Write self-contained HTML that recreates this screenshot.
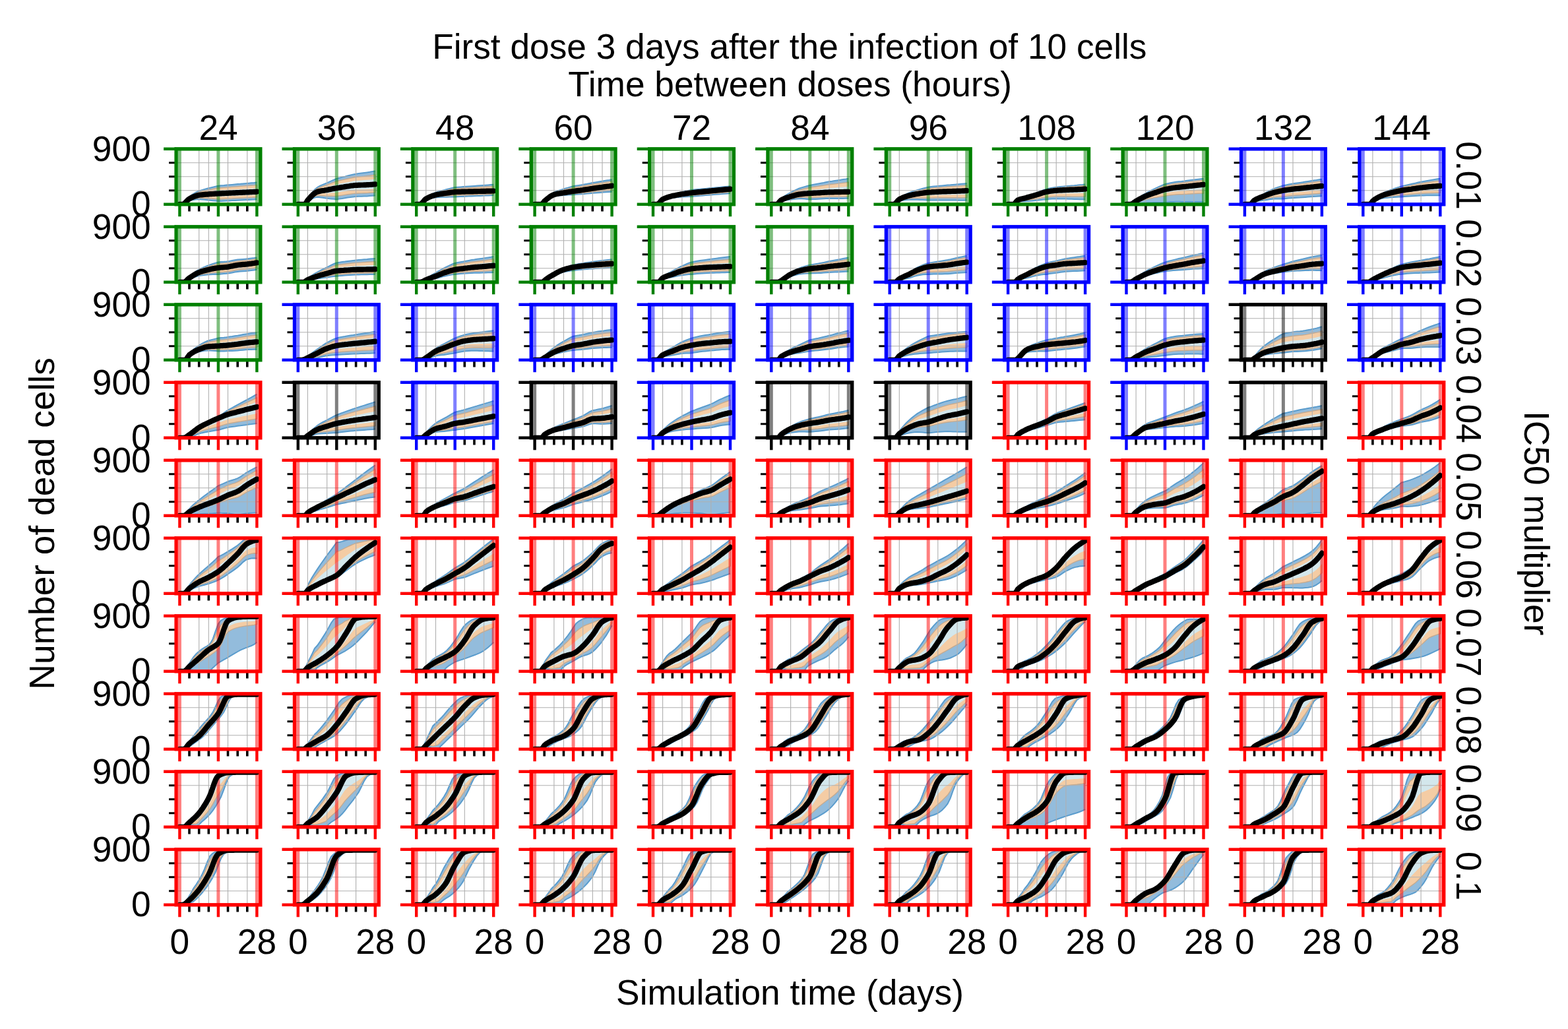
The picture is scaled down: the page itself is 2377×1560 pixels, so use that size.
<!DOCTYPE html>
<html><head><meta charset="utf-8"><title>First dose 3 days after the infection of 10 cells</title>
<style>html,body{margin:0;padding:0;background:#fff;overflow:hidden;}svg{display:block;}</style>
</head><body>
<svg width="2377" height="1560" viewBox="0 0 2377 1560">
<defs>
<clipPath id="c"><rect x="0" y="0" width="127.7" height="84.0"/></clipPath>
<path id="v0" d="M34.6,0V84M49.2,0V84M78.4,0V84M107.7,0V84" stroke="#b0b0b0" stroke-width="1.1" fill="none"/>
<path id="v1" d="M19.9,0V84M49.2,0V84M93.1,0V84" stroke="#b0b0b0" stroke-width="1.1" fill="none"/>
<path id="v2" d="M19.9,0V84M34.6,0V84M78.4,0V84M107.7,0V84" stroke="#b0b0b0" stroke-width="1.1" fill="none"/>
<path id="v3" d="M34.6,0V84M49.2,0V84M78.4,0V84M93.1,0V84M107.7,0V84" stroke="#b0b0b0" stroke-width="1.1" fill="none"/>
<path id="v4" d="M19.9,0V84M49.2,0V84M93.1,0V84" stroke="#b0b0b0" stroke-width="1.1" fill="none"/>
<path id="v5" d="M34.6,0V84M93.1,0V84M107.7,0V84" stroke="#b0b0b0" stroke-width="1.1" fill="none"/>
<path id="v6" d="M19.9,0V84M78.4,0V84M107.7,0V84" stroke="#b0b0b0" stroke-width="1.1" fill="none"/>
<path id="v7" d="M19.9,0V84M49.2,0V84M78.4,0V84M93.1,0V84" stroke="#b0b0b0" stroke-width="1.1" fill="none"/>
<path id="v8" d="M19.9,0V84M34.6,0V84M93.1,0V84M107.7,0V84" stroke="#b0b0b0" stroke-width="1.1" fill="none"/>
<path id="v9" d="M34.6,0V84M49.2,0V84M78.4,0V84M107.7,0V84" stroke="#b0b0b0" stroke-width="1.1" fill="none"/>
<path id="v10" d="M19.9,0V84M49.2,0V84M93.1,0V84" stroke="#b0b0b0" stroke-width="1.1" fill="none"/>
<path id="h3" d="M0,63H127.7M0,42H127.7M0,21H127.7" stroke="#b0b0b0" stroke-width="1.1" fill="none"/>
<path id="h1" d="M0,21H127.7" stroke="#b0b0b0" stroke-width="1.1" fill="none"/>
<g id="t"><path d="M-11,63H0M-11,42H0M-11,21H0" stroke="#000" stroke-width="3" fill="none"/><path d="M19.9,0V10.8M34.6,0V10.8M49.2,0V10.8M78.4,0V10.8M93.1,0V10.8M107.7,0V10.8" transform="translate(0,84.0)" stroke="#000" stroke-width="3.6" fill="none"/></g>
<path id="Mg" d="M5.3,0V84M63.8,0V84M122.3,0V84" stroke="#008000" stroke-opacity="0.5" stroke-width="5" fill="none"/>
<g id="Fg"><path d="M-19,0H0M-19,84H0" stroke="#008000" stroke-width="4.6" fill="none"/><path d="M5.3,84v18.5M63.8,84v18.5M122.3,84v18.5" stroke="#008000" stroke-width="4.4" fill="none"/><rect x="0" y="0" width="127.7" height="84.0" fill="none" stroke="#008000" stroke-width="5.4"/></g>
<path id="Mb" d="M5.3,0V84M63.8,0V84M122.3,0V84" stroke="#0000ff" stroke-opacity="0.5" stroke-width="5" fill="none"/>
<g id="Fb"><path d="M-19,0H0M-19,84H0" stroke="#0000ff" stroke-width="4.6" fill="none"/><path d="M5.3,84v18.5M63.8,84v18.5M122.3,84v18.5" stroke="#0000ff" stroke-width="4.4" fill="none"/><rect x="0" y="0" width="127.7" height="84.0" fill="none" stroke="#0000ff" stroke-width="5.4"/></g>
<path id="Mk" d="M5.3,0V84M63.8,0V84M122.3,0V84" stroke="#000000" stroke-opacity="0.5" stroke-width="5" fill="none"/>
<g id="Fk"><path d="M-19,0H0M-19,84H0" stroke="#000000" stroke-width="4.6" fill="none"/><path d="M5.3,84v18.5M63.8,84v18.5M122.3,84v18.5" stroke="#000000" stroke-width="4.4" fill="none"/><rect x="0" y="0" width="127.7" height="84.0" fill="none" stroke="#000000" stroke-width="5.4"/></g>
<path id="Mr" d="M5.3,0V84M63.8,0V84M122.3,0V84" stroke="#ff0000" stroke-opacity="0.5" stroke-width="5" fill="none"/>
<g id="Fr"><path d="M-19,0H0M-19,84H0" stroke="#ff0000" stroke-width="4.6" fill="none"/><path d="M5.3,84v18.5M63.8,84v18.5M122.3,84v18.5" stroke="#ff0000" stroke-width="4.4" fill="none"/><rect x="0" y="0" width="127.7" height="84.0" fill="none" stroke="#ff0000" stroke-width="5.4"/></g>
</defs>
<rect width="2377" height="1560" fill="#fff"/>
<g transform="translate(267.1,225.8)"><g clip-path="url(#c)"><path d="M5.3,84 9.5,84 13.7,80.1 17.8,74.6 22,70.9 26.2,68 30.4,65.5 34.6,63.7 38.7,62.3 42.9,61.1 47.1,60 51.3,58.9 55.5,57.9 59.6,56.9 63.8,55.9 68,55.5 72.2,55.2 76.4,54.8 80.5,54.5 84.7,54.1 88.9,53.7 93.1,53.3 97.3,53 101.4,52.6 105.6,52.3 109.8,51.9 114,51.5 118.2,51.2 122.3,50.8 122.3,76.4 118.2,76.7 114,76.9 109.8,77.1 105.6,77.3 101.4,77.5 97.3,77.7 93.1,77.9 88.9,78.1 84.7,78.3 80.5,78.6 76.4,78.8 72.2,78.9 68,79.1 63.8,79.3 59.6,78.8 55.5,78.4 51.3,77.9 47.1,77.4 42.9,77 38.7,76.6 34.6,76.3 30.4,76.4 26.2,77.1 22,78.1 17.8,79.8 13.7,83.1 9.5,84 5.3,84Z" fill="#93bcdc"/><path d="M5.3,84 9.5,84 13.7,80.1 17.8,74.6 22,70.9 26.2,68 30.4,65.5 34.6,63.7 38.7,62.3 42.9,61.1 47.1,60 51.3,58.9 55.5,57.9 59.6,56.9 63.8,55.9 68,55.5 72.2,55.2 76.4,54.8 80.5,54.5 84.7,54.1 88.9,53.7 93.1,53.3 97.3,53 101.4,52.6 105.6,52.3 109.8,51.9 114,51.5 118.2,51.2 122.3,50.8M5.3,84 9.5,84 13.7,83.1 17.8,79.8 22,78.1 26.2,77.1 30.4,76.4 34.6,76.3 38.7,76.6 42.9,77 47.1,77.4 51.3,77.9 55.5,78.4 59.6,78.8 63.8,79.3 68,79.1 72.2,78.9 76.4,78.8 80.5,78.6 84.7,78.3 88.9,78.1 93.1,77.9 97.3,77.7 101.4,77.5 105.6,77.3 109.8,77.1 114,76.9 118.2,76.7 122.3,76.4" fill="none" stroke="#5a9ccd" stroke-width="2"/><path d="M5.3,84 9.5,84 13.7,80.5 17.8,75.3 22,71.9 26.2,69.3 30.4,67 34.6,65.4 38.7,64.3 42.9,63.3 47.1,62.4 51.3,61.6 55.5,60.7 59.6,60 63.8,59.2 68,58.9 72.2,58.6 76.4,58.3 80.5,58 84.7,57.6 88.9,57.3 93.1,57 97.3,56.6 101.4,56.3 105.6,56 109.8,55.7 114,55.4 118.2,55.1 122.3,54.7 122.3,73.2 118.2,73.4 114,73.6 109.8,73.9 105.6,74.1 101.4,74.3 97.3,74.4 93.1,74.6 88.9,74.8 84.7,75.1 80.5,75.3 76.4,75.5 72.2,75.7 68,75.9 63.8,76.1 59.6,75.8 55.5,75.5 51.3,75.3 47.1,75 42.9,74.8 38.7,74.6 34.6,74.5 30.4,74.9 26.2,75.8 22,77.1 17.8,79.1 13.7,82.7 9.5,84 5.3,84Z" fill="#f4cca4" stroke="#c4aa90" stroke-width="1.4"/><path d="M5.3,84 9.5,84 13.7,81 17.8,76.1 22,73.1 26.2,70.7 30.4,68.8 34.6,67.5 38.7,66.6 42.9,65.9 47.1,65.3 51.3,64.7 55.5,64.1 59.6,63.5 63.8,63 68,62.7 72.2,62.5 76.4,62.3 80.5,62 84.7,61.7 88.9,61.4 93.1,61.1 97.3,60.9 101.4,60.6 105.6,60.4 109.8,60.1 114,59.9 118.2,59.6 122.3,59.3 122.3,69.4 118.2,69.7 114,69.9 109.8,70.1 105.6,70.3 101.4,70.5 97.3,70.7 93.1,70.9 88.9,71.1 84.7,71.3 80.5,71.5 76.4,71.7 72.2,71.9 68,72.1 63.8,72.3 59.6,72.2 55.5,72.2 51.3,72.2 47.1,72.2 42.9,72.2 38.7,72.3 34.6,72.5 30.4,73.1 26.2,74.3 22,75.9 17.8,78.2 13.7,82.2 9.5,84 5.3,84Z" fill="#d3e7ec"/></g><use href="#v0"/><use href="#h3"/><use href="#Mg"/><path clip-path="url(#c)" d="M5.3,84 7.4,84 9.5,84 11.6,83.3 13.7,81.6 15.8,79.4 17.8,77.2 19.9,75.6 22,74.5 24.1,73.5 26.2,72.5 28.3,71.7 30.4,71 32.5,70.4 34.6,70 36.6,69.7 38.7,69.5 40.8,69.3 42.9,69.1 45,68.9 47.1,68.8 49.2,68.6 51.3,68.4 53.4,68.3 55.5,68.2 57.5,68 59.6,67.9 61.7,67.8 63.8,67.7 65.9,67.6 68,67.5 70.1,67.4 72.2,67.3 74.3,67.2 76.4,67.1 78.4,67 80.5,66.9 82.6,66.8 84.7,66.7 86.8,66.6 88.9,66.5 91,66.4 93.1,66.3 95.2,66.2 97.3,66.1 99.3,66 101.4,65.9 103.5,65.8 105.6,65.7 107.7,65.6 109.8,65.5 111.9,65.4 114,65.3 116.1,65.2 118.2,65.1 120.2,65 122.3,64.9" fill="none" stroke="#000" stroke-width="8.2" stroke-linejoin="round" stroke-linecap="round"/><use href="#t"/><use href="#Fg"/></g>
<g transform="translate(446.5,225.8)"><g clip-path="url(#c)"><path d="M5.3,84 9.5,84 13.7,84 15.8,84 17.8,80.4 22,72.6 26.2,66.6 30.4,61.6 34.6,58.2 38.7,55.9 42.9,54.1 47.1,52.3 51.3,50.5 55.5,48.6 59.6,46.8 63.8,45 68,43.9 72.2,42.8 76.4,41.8 80.5,40.7 84.7,39.7 88.9,38.7 93.1,37.9 97.3,37.3 101.4,36.8 105.6,36.2 109.8,35.6 114,35 118.2,34.3 122.3,33.6 122.3,70.7 118.2,71 114,71.3 109.8,71.6 105.6,71.7 101.4,71.9 97.3,72 93.1,72.2 88.9,72.6 84.7,73.2 80.5,73.8 76.4,74.4 72.2,75.1 68,75.7 63.8,76.4 59.6,76 55.5,75.6 51.3,75.2 47.1,74.7 42.9,74 38.7,73.4 34.6,73 30.4,73.8 26.2,75.9 22,78.8 17.8,82.9 15.8,84 13.7,84 9.5,84 5.3,84Z" fill="#93bcdc"/><path d="M5.3,84 9.5,84 13.7,84 15.8,84 17.8,80.4 22,72.6 26.2,66.6 30.4,61.6 34.6,58.2 38.7,55.9 42.9,54.1 47.1,52.3 51.3,50.5 55.5,48.6 59.6,46.8 63.8,45 68,43.9 72.2,42.8 76.4,41.8 80.5,40.7 84.7,39.7 88.9,38.7 93.1,37.9 97.3,37.3 101.4,36.8 105.6,36.2 109.8,35.6 114,35 118.2,34.3 122.3,33.6M5.3,84 9.5,84 13.7,84 15.8,84 17.8,82.9 22,78.8 26.2,75.9 30.4,73.8 34.6,73 38.7,73.4 42.9,74 47.1,74.7 51.3,75.2 55.5,75.6 59.6,76 63.8,76.4 68,75.7 72.2,75.1 76.4,74.4 80.5,73.8 84.7,73.2 88.9,72.6 93.1,72.2 97.3,72 101.4,71.9 105.6,71.7 109.8,71.6 114,71.3 118.2,71 122.3,70.7" fill="none" stroke="#5a9ccd" stroke-width="2"/><path d="M5.3,84 9.5,84 13.7,84 15.8,84 17.8,80.7 22,73.4 26.2,67.8 30.4,63.2 34.6,60.1 38.7,58.2 42.9,56.6 47.1,55.2 51.3,53.6 55.5,52.1 59.6,50.5 63.8,49 68,48 72.2,47.1 76.4,46.1 80.5,45.2 84.7,44.3 88.9,43.4 93.1,42.7 97.3,42.2 101.4,41.8 105.6,41.4 109.8,40.9 114,40.4 118.2,39.8 122.3,39.2 122.3,65.9 118.2,66.2 114,66.5 109.8,66.8 105.6,66.9 101.4,67.1 97.3,67.2 93.1,67.4 88.9,67.8 84.7,68.4 80.5,69 76.4,69.6 72.2,70.3 68,71 63.8,71.7 59.6,71.6 55.5,71.5 51.3,71.4 47.1,71.3 42.9,71 38.7,70.7 34.6,70.8 30.4,71.9 26.2,74.5 22,77.8 17.8,82.5 15.8,84 13.7,84 9.5,84 5.3,84Z" fill="#f4cca4" stroke="#c4aa90" stroke-width="1.4"/><path d="M5.3,84 9.5,84 13.7,84 15.8,84 17.8,81.1 22,74.3 26.2,69.2 30.4,65 34.6,62.3 38.7,60.7 42.9,59.6 47.1,58.5 51.3,57.3 55.5,56 59.6,54.8 63.8,53.7 68,52.8 72.2,52 76.4,51.2 80.5,50.4 84.7,49.6 88.9,48.8 93.1,48.3 97.3,47.9 101.4,47.6 105.6,47.3 109.8,47 114,46.6 118.2,46.1 122.3,45.7 122.3,60.4 118.2,60.7 114,61 109.8,61.2 105.6,61.4 101.4,61.5 97.3,61.7 93.1,61.8 88.9,62.2 84.7,62.8 80.5,63.5 76.4,64.1 72.2,64.7 68,65.4 63.8,66.1 59.6,66.4 55.5,66.7 51.3,67.1 47.1,67.3 42.9,67.5 38.7,67.6 34.6,68.2 30.4,69.8 26.2,72.9 22,76.8 17.8,82.1 15.8,84 13.7,84 9.5,84 5.3,84Z" fill="#d3e7ec"/></g><use href="#v1"/><use href="#h3"/><use href="#Mg"/><path clip-path="url(#c)" d="M5.3,84 7.4,84 9.5,84 11.6,84 13.7,84 15.8,84 17.8,81.5 19.9,77.8 22,75.4 24.1,73.1 26.2,70.9 28.3,68.9 30.4,67.2 32.5,65.9 34.6,65 36.6,64.4 38.7,63.9 40.8,63.5 42.9,63.2 45,62.9 47.1,62.5 49.2,62.2 51.3,61.8 53.4,61.3 55.5,60.9 57.5,60.5 59.6,60.1 61.7,59.7 63.8,59.4 65.9,59 68,58.7 70.1,58.3 72.2,58 74.3,57.7 76.4,57.3 78.4,57 80.5,56.7 82.6,56.4 84.7,56 86.8,55.7 88.9,55.5 91,55.2 93.1,55.1 95.2,55 97.3,54.9 99.3,54.8 101.4,54.7 103.5,54.7 105.6,54.6 107.7,54.5 109.8,54.4 111.9,54.3 114,54.2 116.1,54 118.2,53.9 120.2,53.7 122.3,53.6" fill="none" stroke="#000" stroke-width="8.2" stroke-linejoin="round" stroke-linecap="round"/><use href="#t"/><use href="#Fg"/></g>
<g transform="translate(625.9,225.8)"><g clip-path="url(#c)"><path d="M5.3,84 9.5,84 10.7,84 13.7,81.7 17.8,76 22,72.4 26.2,69.9 30.4,67.7 34.6,66 38.7,64.6 42.9,63.4 47.1,62.3 51.3,61.2 55.5,60.2 59.6,59.1 63.8,58.3 68,57.9 72.2,57.6 76.4,57.3 80.5,57 84.7,56.7 88.9,56.4 93.1,56.1 97.3,55.8 101.4,55.5 105.6,55.2 109.8,54.9 114,54.6 118.2,54.3 122.3,54 122.3,70.3 118.2,70.4 114,70.6 109.8,70.8 105.6,70.9 101.4,71.1 97.3,71.3 93.1,71.4 88.9,71.6 84.7,71.8 80.5,71.9 76.4,72.1 72.2,72.3 68,72.5 63.8,72.8 59.6,72.7 55.5,72.8 51.3,72.9 47.1,73 42.9,73.1 38.7,73.3 34.6,73.7 30.4,74.3 26.2,75.3 22,76.6 17.8,78.9 13.7,83.1 10.7,84 9.5,84 5.3,84Z" fill="#93bcdc"/><path d="M5.3,84 9.5,84 10.7,84 13.7,81.7 17.8,76 22,72.4 26.2,69.9 30.4,67.7 34.6,66 38.7,64.6 42.9,63.4 47.1,62.3 51.3,61.2 55.5,60.2 59.6,59.1 63.8,58.3 68,57.9 72.2,57.6 76.4,57.3 80.5,57 84.7,56.7 88.9,56.4 93.1,56.1 97.3,55.8 101.4,55.5 105.6,55.2 109.8,54.9 114,54.6 118.2,54.3 122.3,54M5.3,84 9.5,84 10.7,84 13.7,83.1 17.8,78.9 22,76.6 26.2,75.3 30.4,74.3 34.6,73.7 38.7,73.3 42.9,73.1 47.1,73 51.3,72.9 55.5,72.8 59.6,72.7 63.8,72.8 68,72.5 72.2,72.3 76.4,72.1 80.5,71.9 84.7,71.8 88.9,71.6 93.1,71.4 97.3,71.3 101.4,71.1 105.6,70.9 109.8,70.8 114,70.6 118.2,70.4 122.3,70.3" fill="none" stroke="#5a9ccd" stroke-width="2"/><path d="M5.3,84 9.5,84 10.7,84 13.7,81.9 17.8,76.4 22,73 26.2,70.6 30.4,68.6 34.6,67.1 38.7,65.8 42.9,64.7 47.1,63.8 51.3,62.8 55.5,61.9 59.6,61 63.8,60.3 68,59.9 72.2,59.7 76.4,59.4 80.5,59.1 84.7,58.9 88.9,58.7 93.1,58.4 97.3,58.2 101.4,57.9 105.6,57.7 109.8,57.5 114,57.2 118.2,57 122.3,56.7 122.3,68.4 118.2,68.6 114,68.7 109.8,68.9 105.6,69 101.4,69.2 97.3,69.3 93.1,69.5 88.9,69.6 84.7,69.8 80.5,69.9 76.4,70.1 72.2,70.3 68,70.5 63.8,70.7 59.6,70.7 55.5,70.9 51.3,71.2 47.1,71.5 42.9,71.7 38.7,72.1 34.6,72.6 30.4,73.3 26.2,74.5 22,76 17.8,78.5 13.7,82.9 10.7,84 9.5,84 5.3,84Z" fill="#f4cca4" stroke="#c4aa90" stroke-width="1.4"/><path d="M5.3,84 9.5,84 10.7,84 13.7,82.1 17.8,76.9 22,73.6 26.2,71.4 30.4,69.7 34.6,68.3 38.7,67.2 42.9,66.3 47.1,65.5 51.3,64.7 55.5,63.8 59.6,63.1 63.8,62.6 68,62.3 72.2,62 76.4,61.8 80.5,61.6 84.7,61.5 88.9,61.3 93.1,61.1 97.3,60.9 101.4,60.7 105.6,60.6 109.8,60.4 114,60.2 118.2,60 122.3,59.8 122.3,66.3 118.2,66.4 114,66.5 109.8,66.7 105.6,66.8 101.4,66.9 97.3,67.1 93.1,67.2 88.9,67.3 84.7,67.4 80.5,67.6 76.4,67.7 72.2,67.9 68,68.1 63.8,68.3 59.6,68.5 55.5,68.8 51.3,69.3 47.1,69.7 42.9,70.1 38.7,70.6 34.6,71.3 30.4,72.2 26.2,73.6 22,75.3 17.8,78 13.7,82.6 10.7,84 9.5,84 5.3,84Z" fill="#d3e7ec"/></g><use href="#v2"/><use href="#h3"/><use href="#Mg"/><path clip-path="url(#c)" d="M5.3,84 7.4,84 9.5,84 11.6,83.8 13.7,82.4 15.8,79.9 17.8,77.4 19.9,75.6 22,74.5 24.1,73.4 26.2,72.5 28.3,71.6 30.4,70.9 32.5,70.3 34.6,69.7 36.6,69.2 38.7,68.8 40.8,68.5 42.9,68.1 45,67.8 47.1,67.5 49.2,67.2 51.3,66.9 53.4,66.6 55.5,66.3 57.5,66 59.6,65.7 61.7,65.5 63.8,65.3 65.9,65.2 68,65.1 70.1,65 72.2,65 74.3,64.9 76.4,64.8 78.4,64.8 80.5,64.7 82.6,64.7 84.7,64.6 86.8,64.6 88.9,64.5 91,64.5 93.1,64.4 95.2,64.3 97.3,64.3 99.3,64.2 101.4,64.2 103.5,64.1 105.6,64.1 107.7,64 109.8,64 111.9,63.9 114,63.9 116.1,63.8 118.2,63.8 120.2,63.7 122.3,63.7" fill="none" stroke="#000" stroke-width="8.2" stroke-linejoin="round" stroke-linecap="round"/><use href="#t"/><use href="#Fg"/></g>
<g transform="translate(805.3,225.8)"><g clip-path="url(#c)"><path d="M5.3,84 9.5,84 13.7,84 15.8,84 17.8,81.5 22,76 26.2,71.8 30.4,68.2 34.6,65.7 38.7,64 42.9,62.6 47.1,61.3 51.3,60 55.5,58.8 59.6,57.6 63.8,56.5 68,55.8 72.2,55.1 76.4,54.4 80.5,53.6 84.7,52.9 88.9,52.1 93.1,51.3 97.3,50.6 101.4,49.9 105.6,49.2 109.8,48.5 114,47.8 118.2,47.2 122.3,46.5 122.3,65 118.2,65.2 114,65.5 109.8,65.8 105.6,66.1 101.4,66.4 97.3,66.7 93.1,67 88.9,67.4 84.7,67.7 80.5,68.1 76.4,68.4 72.2,68.7 68,69 63.8,69.3 59.6,69.6 55.5,69.8 51.3,70.1 47.1,70.4 42.9,70.7 38.7,71.1 34.6,71.8 30.4,73.2 26.2,75.6 22,78.5 17.8,82.5 15.8,84 13.7,84 9.5,84 5.3,84Z" fill="#93bcdc"/><path d="M5.3,84 9.5,84 13.7,84 15.8,84 17.8,81.5 22,76 26.2,71.8 30.4,68.2 34.6,65.7 38.7,64 42.9,62.6 47.1,61.3 51.3,60 55.5,58.8 59.6,57.6 63.8,56.5 68,55.8 72.2,55.1 76.4,54.4 80.5,53.6 84.7,52.9 88.9,52.1 93.1,51.3 97.3,50.6 101.4,49.9 105.6,49.2 109.8,48.5 114,47.8 118.2,47.2 122.3,46.5M5.3,84 9.5,84 13.7,84 15.8,84 17.8,82.5 22,78.5 26.2,75.6 30.4,73.2 34.6,71.8 38.7,71.1 42.9,70.7 47.1,70.4 51.3,70.1 55.5,69.8 59.6,69.6 63.8,69.3 68,69 72.2,68.7 76.4,68.4 80.5,68.1 84.7,67.7 88.9,67.4 93.1,67 97.3,66.7 101.4,66.4 105.6,66.1 109.8,65.8 114,65.5 118.2,65.2 122.3,65" fill="none" stroke="#5a9ccd" stroke-width="2"/><path d="M5.3,84 9.5,84 13.7,84 15.8,84 17.8,81.7 22,76.4 26.2,72.4 30.4,69.1 34.6,66.7 38.7,65.2 42.9,63.9 47.1,62.8 51.3,61.7 55.5,60.7 59.6,59.6 63.8,58.6 68,58 72.2,57.3 76.4,56.6 80.5,55.9 84.7,55.2 88.9,54.5 93.1,53.7 97.3,53 101.4,52.4 105.6,51.7 109.8,51.1 114,50.4 118.2,49.8 122.3,49.1 122.3,62.4 118.2,62.8 114,63.1 109.8,63.5 105.6,63.9 101.4,64.2 97.3,64.6 93.1,65 88.9,65.5 84.7,65.9 80.5,66.4 76.4,66.8 72.2,67.1 68,67.5 63.8,67.9 59.6,68.3 55.5,68.6 51.3,69 47.1,69.4 42.9,69.8 38.7,70.3 34.6,71.1 30.4,72.7 26.2,75.1 22,78.2 17.8,82.4 15.8,84 13.7,84 9.5,84 5.3,84Z" fill="#f4cca4" stroke="#c4aa90" stroke-width="1.4"/><path d="M5.3,84 9.5,84 13.7,84 15.8,84 17.8,81.9 22,76.9 26.2,73.2 30.4,70 34.6,67.9 38.7,66.6 42.9,65.5 47.1,64.6 51.3,63.7 55.5,62.8 59.6,62 63.8,61.1 68,60.5 72.2,59.9 76.4,59.3 80.5,58.6 84.7,57.9 88.9,57.2 93.1,56.5 97.3,55.9 101.4,55.2 105.6,54.6 109.8,54 114,53.4 118.2,52.8 122.3,52.2 122.3,59.5 118.2,59.9 114,60.4 109.8,60.8 105.6,61.3 101.4,61.8 97.3,62.2 93.1,62.7 88.9,63.2 84.7,63.8 80.5,64.3 76.4,64.8 72.2,65.3 68,65.8 63.8,66.2 59.6,66.7 55.5,67.2 51.3,67.7 47.1,68.2 42.9,68.8 38.7,69.4 34.6,70.3 30.4,72 26.2,74.7 22,77.9 17.8,82.3 15.8,84 13.7,84 9.5,84 5.3,84Z" fill="#d3e7ec"/></g><use href="#v3"/><use href="#h3"/><use href="#Mg"/><path clip-path="url(#c)" d="M5.3,84 7.4,84 9.5,84 11.6,84 13.7,84 15.8,84 17.8,82.1 19.9,79.3 22,77.5 24.1,75.7 26.2,74.1 28.3,72.5 30.4,71.2 32.5,70.1 34.6,69.3 36.6,68.8 38.7,68.3 40.8,67.8 42.9,67.5 45,67.1 47.1,66.8 49.2,66.5 51.3,66.1 53.4,65.8 55.5,65.4 57.5,65.1 59.6,64.8 61.7,64.5 63.8,64.2 65.9,63.9 68,63.6 70.1,63.3 72.2,63 74.3,62.8 76.4,62.5 78.4,62.2 80.5,61.8 82.6,61.5 84.7,61.2 86.8,60.9 88.9,60.6 91,60.2 93.1,59.9 95.2,59.6 97.3,59.3 99.3,59 101.4,58.7 103.5,58.4 105.6,58.2 107.7,57.9 109.8,57.6 111.9,57.3 114,57 116.1,56.7 118.2,56.5 120.2,56.2 122.3,55.9" fill="none" stroke="#000" stroke-width="8.2" stroke-linejoin="round" stroke-linecap="round"/><use href="#t"/><use href="#Fg"/></g>
<g transform="translate(984.7,225.8)"><g clip-path="url(#c)"><path d="M5.3,84 9.5,84 11.6,84 13.7,82.7 17.8,77.5 22,74.2 26.2,72.2 30.4,70.5 34.6,69.1 38.7,67.8 42.9,66.7 47.1,65.7 51.3,64.7 55.5,63.8 59.6,63 63.8,62.2 68,61.7 72.2,61.3 76.4,60.9 80.5,60.5 84.7,60.1 88.9,59.7 93.1,59.3 97.3,58.9 101.4,58.5 105.6,58.1 109.8,57.7 114,57.3 118.2,56.9 122.3,56.5 122.3,67.3 118.2,67.6 114,68 109.8,68.3 105.6,68.7 101.4,69 97.3,69.3 93.1,69.7 88.9,70 84.7,70.3 80.5,70.7 76.4,71 72.2,71.4 68,71.7 63.8,72.1 59.6,72.3 55.5,72.5 51.3,72.7 47.1,73 42.9,73.3 38.7,73.7 34.6,74.3 30.4,74.9 26.2,75.8 22,77 17.8,79.3 13.7,83.5 11.6,84 9.5,84 5.3,84Z" fill="#93bcdc"/><path d="M5.3,84 9.5,84 11.6,84 13.7,82.7 17.8,77.5 22,74.2 26.2,72.2 30.4,70.5 34.6,69.1 38.7,67.8 42.9,66.7 47.1,65.7 51.3,64.7 55.5,63.8 59.6,63 63.8,62.2 68,61.7 72.2,61.3 76.4,60.9 80.5,60.5 84.7,60.1 88.9,59.7 93.1,59.3 97.3,58.9 101.4,58.5 105.6,58.1 109.8,57.7 114,57.3 118.2,56.9 122.3,56.5M5.3,84 9.5,84 11.6,84 13.7,83.5 17.8,79.3 22,77 26.2,75.8 30.4,74.9 34.6,74.3 38.7,73.7 42.9,73.3 47.1,73 51.3,72.7 55.5,72.5 59.6,72.3 63.8,72.1 68,71.7 72.2,71.4 76.4,71 80.5,70.7 84.7,70.3 88.9,70 93.1,69.7 97.3,69.3 101.4,69 105.6,68.7 109.8,68.3 114,68 118.2,67.6 122.3,67.3" fill="none" stroke="#5a9ccd" stroke-width="2"/><path d="M5.3,84 9.5,84 11.6,84 13.7,82.8 17.8,77.7 22,74.6 26.2,72.6 30.4,71 34.6,69.7 38.7,68.5 42.9,67.5 47.1,66.6 51.3,65.7 55.5,64.9 59.6,64.1 63.8,63.4 68,62.9 72.2,62.5 76.4,62.1 80.5,61.7 84.7,61.3 88.9,60.9 93.1,60.5 97.3,60.1 101.4,59.7 105.6,59.3 109.8,58.9 114,58.5 118.2,58.1 122.3,57.7 122.3,65.5 118.2,65.8 114,66.2 109.8,66.5 105.6,66.9 101.4,67.2 97.3,67.6 93.1,68 88.9,68.3 84.7,68.7 80.5,69 76.4,69.4 72.2,69.8 68,70.1 63.8,70.6 59.6,70.8 55.5,71.1 51.3,71.5 47.1,71.9 42.9,72.3 38.7,72.8 34.6,73.4 30.4,74.2 26.2,75.2 22,76.5 17.8,79 13.7,83.3 11.6,84 9.5,84 5.3,84Z" fill="#f4cca4" stroke="#c4aa90" stroke-width="1.4"/><path d="M5.3,84 9.5,84 11.6,84 13.7,82.9 17.8,77.9 22,74.9 26.2,73.1 30.4,71.7 34.6,70.4 38.7,69.4 42.9,68.4 47.1,67.6 51.3,66.8 55.5,66.1 59.6,65.4 63.8,64.8 68,64.3 72.2,63.9 76.4,63.5 80.5,63.1 84.7,62.7 88.9,62.3 93.1,61.9 97.3,61.5 101.4,61.1 105.6,60.7 109.8,60.3 114,59.9 118.2,59.5 122.3,59.1 122.3,63.3 118.2,63.7 114,64.1 109.8,64.5 105.6,64.9 101.4,65.2 97.3,65.6 93.1,66 88.9,66.4 84.7,66.7 80.5,67.1 76.4,67.5 72.2,67.9 68,68.3 63.8,68.7 59.6,69.1 55.5,69.5 51.3,70 47.1,70.5 42.9,71.1 38.7,71.7 34.6,72.5 30.4,73.4 26.2,74.5 22,76 17.8,78.7 13.7,83.2 11.6,84 9.5,84 5.3,84Z" fill="#d3e7ec"/></g><use href="#v4"/><use href="#h3"/><use href="#Mg"/><path clip-path="url(#c)" d="M5.3,84 7.4,84 9.5,84 11.6,84 13.7,83 15.8,80.8 17.8,78.2 19.9,76.4 22,75.4 24.1,74.5 26.2,73.7 28.3,73 30.4,72.4 32.5,71.8 34.6,71.3 36.6,70.8 38.7,70.4 40.8,69.9 42.9,69.6 45,69.2 47.1,68.8 49.2,68.5 51.3,68.2 53.4,67.9 55.5,67.5 57.5,67.3 59.6,67 61.7,66.7 63.8,66.5 65.9,66.2 68,66 70.1,65.8 72.2,65.6 74.3,65.4 76.4,65.2 78.4,65 80.5,64.8 82.6,64.6 84.7,64.4 86.8,64.2 88.9,64 91,63.8 93.1,63.6 95.2,63.4 97.3,63.2 99.3,63 101.4,62.8 103.5,62.6 105.6,62.4 107.7,62.2 109.8,62 111.9,61.8 114,61.6 116.1,61.4 118.2,61.2 120.2,61 122.3,60.8" fill="none" stroke="#000" stroke-width="8.2" stroke-linejoin="round" stroke-linecap="round"/><use href="#t"/><use href="#Fg"/></g>
<g transform="translate(1164,225.8)"><g clip-path="url(#c)"><path d="M5.3,84 9.5,84 13.7,84 17.8,78.3 22,73.8 26.2,70.8 30.4,68.3 34.6,66.1 38.7,63.9 42.9,61.8 47.1,60 51.3,58.6 55.5,57.3 59.6,56.2 63.8,55.1 68,54.3 72.2,53.5 76.4,52.7 80.5,51.9 84.7,51.1 88.9,50.2 93.1,49.5 97.3,48.9 101.4,48.2 105.6,47.6 109.8,47 114,46.3 118.2,45.7 122.3,45 122.3,74.9 118.2,75 114,75.1 109.8,75.1 105.6,75.1 101.4,75.1 97.3,75.1 93.1,75.2 88.9,75.3 84.7,75.5 80.5,75.7 76.4,75.9 72.2,76.1 68,76.2 63.8,76.4 59.6,76.1 55.5,75.8 51.3,75.5 47.1,75.4 42.9,75.7 38.7,76.1 34.6,76.7 30.4,77.2 26.2,77.9 22,78.9 17.8,81.2 13.7,84 9.5,84 5.3,84Z" fill="#93bcdc"/><path d="M5.3,84 9.5,84 13.7,84 17.8,78.3 22,73.8 26.2,70.8 30.4,68.3 34.6,66.1 38.7,63.9 42.9,61.8 47.1,60 51.3,58.6 55.5,57.3 59.6,56.2 63.8,55.1 68,54.3 72.2,53.5 76.4,52.7 80.5,51.9 84.7,51.1 88.9,50.2 93.1,49.5 97.3,48.9 101.4,48.2 105.6,47.6 109.8,47 114,46.3 118.2,45.7 122.3,45M5.3,84 9.5,84 13.7,84 17.8,81.2 22,78.9 26.2,77.9 30.4,77.2 34.6,76.7 38.7,76.1 42.9,75.7 47.1,75.4 51.3,75.5 55.5,75.8 59.6,76.1 63.8,76.4 68,76.2 72.2,76.1 76.4,75.9 80.5,75.7 84.7,75.5 88.9,75.3 93.1,75.2 97.3,75.1 101.4,75.1 105.6,75.1 109.8,75.1 114,75.1 118.2,75 122.3,74.9" fill="none" stroke="#5a9ccd" stroke-width="2"/><path d="M5.3,84 9.5,84 13.7,84 17.8,78.8 22,74.6 26.2,72 30.4,69.8 34.6,67.8 38.7,65.8 42.9,64 47.1,62.5 51.3,61.3 55.5,60.3 59.6,59.4 63.8,58.5 68,57.8 72.2,57.2 76.4,56.6 80.5,55.9 84.7,55.3 88.9,54.6 93.1,54 97.3,53.5 101.4,53.1 105.6,52.6 109.8,52.1 114,51.6 118.2,51.1 122.3,50.6 122.3,72.2 118.2,72.2 114,72.3 109.8,72.3 105.6,72.4 101.4,72.4 97.3,72.4 93.1,72.5 88.9,72.6 84.7,72.9 80.5,73.1 76.4,73.3 72.2,73.5 68,73.7 63.8,73.9 59.6,73.7 55.5,73.6 51.3,73.5 47.1,73.6 42.9,74 38.7,74.7 34.6,75.4 30.4,76.2 26.2,77 22,78.3 17.8,80.9 13.7,84 9.5,84 5.3,84Z" fill="#f4cca4" stroke="#c4aa90" stroke-width="1.4"/><path d="M5.3,84 9.5,84 13.7,84 17.8,79.3 22,75.5 26.2,73.3 30.4,71.4 34.6,69.7 38.7,68.1 42.9,66.6 47.1,65.3 51.3,64.4 55.5,63.7 59.6,63.1 63.8,62.5 68,62 72.2,61.5 76.4,61.1 80.5,60.6 84.7,60.1 88.9,59.6 93.1,59.2 97.3,58.9 101.4,58.6 105.6,58.3 109.8,58 114,57.7 118.2,57.4 122.3,57.1 122.3,68.9 118.2,69 114,69.1 109.8,69.2 105.6,69.2 101.4,69.3 97.3,69.3 93.1,69.4 88.9,69.6 84.7,69.8 80.5,70 76.4,70.3 72.2,70.5 68,70.7 63.8,70.9 59.6,71 55.5,71 51.3,71.1 47.1,71.4 42.9,72.1 38.7,73 34.6,73.9 30.4,74.9 26.2,76 22,77.6 17.8,80.5 13.7,84 9.5,84 5.3,84Z" fill="#d3e7ec"/></g><use href="#v5"/><use href="#h3"/><use href="#Mg"/><path clip-path="url(#c)" d="M5.3,84 7.4,84 9.5,84 11.6,84 13.7,84 15.8,82.7 17.8,80 19.9,77.8 22,76.7 24.1,75.7 26.2,74.9 28.3,74.1 30.4,73.4 32.5,72.8 34.6,72.1 36.6,71.5 38.7,70.9 40.8,70.3 42.9,69.7 45,69.2 47.1,68.8 49.2,68.5 51.3,68.3 53.4,68.1 55.5,67.9 57.5,67.7 59.6,67.6 61.7,67.4 63.8,67.3 65.9,67.2 68,67 70.1,66.9 72.2,66.8 74.3,66.7 76.4,66.6 78.4,66.5 80.5,66.3 82.6,66.2 84.7,66 86.8,65.9 88.9,65.8 91,65.7 93.1,65.6 95.2,65.6 97.3,65.5 99.3,65.5 101.4,65.4 103.5,65.4 105.6,65.4 107.7,65.3 109.8,65.3 111.9,65.2 114,65.2 116.1,65.1 118.2,65.1 120.2,65 122.3,65" fill="none" stroke="#000" stroke-width="8.2" stroke-linejoin="round" stroke-linecap="round"/><use href="#t"/><use href="#Fg"/></g>
<g transform="translate(1343.4,225.8)"><g clip-path="url(#c)"><path d="M5.3,84 9.5,84 11.6,84 13.7,82.4 17.8,76.8 22,73.1 26.2,70.5 30.4,68.4 34.6,66.6 38.7,65 42.9,63.6 47.1,62.3 51.3,61.1 55.5,59.9 59.6,58.8 63.8,57.9 68,57.3 72.2,56.8 76.4,56.4 80.5,56 84.7,55.6 88.9,55.2 93.1,54.8 97.3,54.5 101.4,54.1 105.6,53.8 109.8,53.4 114,53 118.2,52.6 122.3,52.2 122.3,77.8 118.2,77.9 114,77.9 109.8,77.9 105.6,77.8 101.4,77.8 97.3,77.7 93.1,77.7 88.9,77.6 84.7,77.6 80.5,77.6 76.4,77.6 72.2,77.6 68,77.7 63.8,77.8 59.6,77.5 55.5,77.3 51.3,77.1 47.1,77 42.9,76.9 38.7,76.8 34.6,76.9 30.4,77.2 26.2,77.8 22,78.6 17.8,80.5 13.7,83.9 11.6,84 9.5,84 5.3,84Z" fill="#93bcdc"/><path d="M5.3,84 9.5,84 11.6,84 13.7,82.4 17.8,76.8 22,73.1 26.2,70.5 30.4,68.4 34.6,66.6 38.7,65 42.9,63.6 47.1,62.3 51.3,61.1 55.5,59.9 59.6,58.8 63.8,57.9 68,57.3 72.2,56.8 76.4,56.4 80.5,56 84.7,55.6 88.9,55.2 93.1,54.8 97.3,54.5 101.4,54.1 105.6,53.8 109.8,53.4 114,53 118.2,52.6 122.3,52.2M5.3,84 9.5,84 11.6,84 13.7,83.9 17.8,80.5 22,78.6 26.2,77.8 30.4,77.2 34.6,76.9 38.7,76.8 42.9,76.9 47.1,77 51.3,77.1 55.5,77.3 59.6,77.5 63.8,77.8 68,77.7 72.2,77.6 76.4,77.6 80.5,77.6 84.7,77.6 88.9,77.6 93.1,77.7 97.3,77.7 101.4,77.8 105.6,77.8 109.8,77.9 114,77.9 118.2,77.9 122.3,77.8" fill="none" stroke="#5a9ccd" stroke-width="2"/><path d="M5.3,84 9.5,84 11.6,84 13.7,82.6 17.8,77.2 22,73.7 26.2,71.4 30.4,69.4 34.6,67.8 38.7,66.3 42.9,65.1 47.1,63.9 51.3,62.9 55.5,61.9 59.6,60.9 63.8,60.1 68,59.6 72.2,59.2 76.4,58.8 80.5,58.5 84.7,58.1 88.9,57.8 93.1,57.5 97.3,57.2 101.4,56.9 105.6,56.6 109.8,56.3 114,56 118.2,55.6 122.3,55.3 122.3,73.8 118.2,73.8 114,73.9 109.8,73.9 105.6,74 101.4,74 97.3,73.9 93.1,73.9 88.9,74 84.7,74 80.5,74 76.4,74.1 72.2,74.2 68,74.3 63.8,74.5 59.6,74.4 55.5,74.4 51.3,74.4 47.1,74.5 42.9,74.6 38.7,74.8 34.6,75.2 30.4,75.8 26.2,76.6 22,77.7 17.8,79.9 13.7,83.7 11.6,84 9.5,84 5.3,84Z" fill="#f4cca4" stroke="#c4aa90" stroke-width="1.4"/><path d="M5.3,84 9.5,84 11.6,84 13.7,82.8 17.8,77.7 22,74.4 26.2,72.3 30.4,70.5 34.6,69.1 38.7,67.9 42.9,66.8 47.1,65.9 51.3,65 55.5,64.1 59.6,63.4 63.8,62.7 68,62.3 72.2,61.9 76.4,61.6 80.5,61.3 84.7,61.1 88.9,60.8 93.1,60.6 97.3,60.4 101.4,60.2 105.6,60 109.8,59.7 114,59.5 118.2,59.2 122.3,58.9 122.3,69 118.2,69.2 114,69.3 109.8,69.4 105.6,69.5 101.4,69.5 97.3,69.6 93.1,69.6 88.9,69.7 84.7,69.8 80.5,69.9 76.4,70 72.2,70.2 68,70.4 63.8,70.6 59.6,70.8 55.5,71 51.3,71.3 47.1,71.7 42.9,72.1 38.7,72.6 34.6,73.2 30.4,74 26.2,75.2 22,76.6 17.8,79.2 13.7,83.4 11.6,84 9.5,84 5.3,84Z" fill="#d3e7ec"/></g><use href="#v6"/><use href="#h3"/><use href="#Mg"/><path clip-path="url(#c)" d="M5.3,84 7.4,84 9.5,84 11.6,84 13.7,83 15.8,80.8 17.8,78.3 19.9,76.4 22,75.3 24.1,74.3 26.2,73.4 28.3,72.7 30.4,72 32.5,71.3 34.6,70.7 36.6,70.2 38.7,69.8 40.8,69.3 42.9,68.9 45,68.5 47.1,68.2 49.2,67.9 51.3,67.5 53.4,67.2 55.5,66.9 57.5,66.6 59.6,66.3 61.7,66.1 63.8,65.9 65.9,65.7 68,65.6 70.1,65.4 72.2,65.3 74.3,65.2 76.4,65.1 78.4,65 80.5,64.9 82.6,64.8 84.7,64.7 86.8,64.6 88.9,64.5 91,64.5 93.1,64.4 95.2,64.3 97.3,64.3 99.3,64.2 101.4,64.1 103.5,64.1 105.6,64 107.7,63.9 109.8,63.9 111.9,63.8 114,63.7 116.1,63.6 118.2,63.5 120.2,63.4 122.3,63.3" fill="none" stroke="#000" stroke-width="8.2" stroke-linejoin="round" stroke-linecap="round"/><use href="#t"/><use href="#Fg"/></g>
<g transform="translate(1522.8,225.8)"><g clip-path="url(#c)"><path d="M5.3,84 9.5,84 13.7,84 17.8,79.3 22,75.9 26.2,74.2 30.4,72.9 34.6,71.5 38.7,69.9 42.9,68.4 47.1,66.9 51.3,65.4 55.5,63.7 59.6,62.1 63.8,60.8 68,59.8 72.2,59 76.4,58.3 80.5,57.8 84.7,57.3 88.9,56.9 93.1,56.5 97.3,56.1 101.4,55.7 105.6,55.4 109.8,55 114,54.5 118.2,54.1 122.3,53.6 122.3,76.4 118.2,76.4 114,76.4 109.8,76.3 105.6,76.2 101.4,76 97.3,75.9 93.1,75.7 88.9,75.6 84.7,75.6 80.5,75.5 76.4,75.6 72.2,75.7 68,76 63.8,76.4 59.6,76.7 55.5,77.2 51.3,77.8 47.1,78.3 42.9,78.6 38.7,78.9 34.6,79.2 30.4,79.4 26.2,79.4 22,79.7 17.8,81.5 13.7,84 9.5,84 5.3,84Z" fill="#93bcdc"/><path d="M5.3,84 9.5,84 13.7,84 17.8,79.3 22,75.9 26.2,74.2 30.4,72.9 34.6,71.5 38.7,69.9 42.9,68.4 47.1,66.9 51.3,65.4 55.5,63.7 59.6,62.1 63.8,60.8 68,59.8 72.2,59 76.4,58.3 80.5,57.8 84.7,57.3 88.9,56.9 93.1,56.5 97.3,56.1 101.4,55.7 105.6,55.4 109.8,55 114,54.5 118.2,54.1 122.3,53.6M5.3,84 9.5,84 13.7,84 17.8,81.5 22,79.7 26.2,79.4 30.4,79.4 34.6,79.2 38.7,78.9 42.9,78.6 47.1,78.3 51.3,77.8 55.5,77.2 59.6,76.7 63.8,76.4 68,76 72.2,75.7 76.4,75.6 80.5,75.5 84.7,75.6 88.9,75.6 93.1,75.7 97.3,75.9 101.4,76 105.6,76.2 109.8,76.3 114,76.4 118.2,76.4 122.3,76.4" fill="none" stroke="#5a9ccd" stroke-width="2"/><path d="M5.3,84 9.5,84 13.7,84 17.8,79.5 22,76.2 26.2,74.6 30.4,73.3 34.6,72 38.7,70.6 42.9,69.2 47.1,67.8 51.3,66.3 55.5,64.7 59.6,63.2 63.8,61.9 68,61.1 72.2,60.3 76.4,59.7 80.5,59.2 84.7,58.8 88.9,58.4 93.1,58.1 97.3,57.7 101.4,57.4 105.6,57.1 109.8,56.8 114,56.4 118.2,56 122.3,55.6 122.3,72 118.2,72.1 114,72.1 109.8,72.1 105.6,72.1 101.4,72.1 97.3,72 93.1,71.9 88.9,71.9 84.7,71.9 80.5,72 76.4,72.1 72.2,72.3 68,72.7 63.8,73.2 59.6,73.7 55.5,74.4 51.3,75.3 47.1,75.9 42.9,76.5 38.7,77.1 34.6,77.6 30.4,78 26.2,78.3 22,78.9 17.8,81 13.7,84 9.5,84 5.3,84Z" fill="#f4cca4" stroke="#c4aa90" stroke-width="1.4"/><path d="M5.3,84 9.5,84 13.7,84 17.8,79.7 22,76.5 26.2,75.1 30.4,73.9 34.6,72.7 38.7,71.4 42.9,70.1 47.1,68.8 51.3,67.4 55.5,65.9 59.6,64.4 63.8,63.3 68,62.5 72.2,61.8 76.4,61.3 80.5,60.8 84.7,60.5 88.9,60.2 93.1,59.9 97.3,59.7 101.4,59.4 105.6,59.2 109.8,58.9 114,58.6 118.2,58.3 122.3,57.9 122.3,67 118.2,67.1 114,67.2 109.8,67.4 105.6,67.4 101.4,67.5 97.3,67.5 93.1,67.5 88.9,67.6 84.7,67.7 80.5,67.9 76.4,68.1 72.2,68.4 68,68.9 63.8,69.5 59.6,70.2 55.5,71.2 51.3,72.3 47.1,73.2 42.9,74.1 38.7,75 34.6,75.8 30.4,76.5 26.2,77.1 22,78 17.8,80.5 13.7,84 9.5,84 5.3,84Z" fill="#d3e7ec"/></g><use href="#v7"/><use href="#h3"/><use href="#Mg"/><path clip-path="url(#c)" d="M5.3,84 7.4,84 9.5,84 11.6,84 13.7,84 15.8,82.6 17.8,79.9 19.9,77.8 22,76.9 24.1,76.2 26.2,75.6 28.3,75.1 30.4,74.6 32.5,74.1 34.6,73.5 36.6,72.9 38.7,72.3 40.8,71.7 42.9,71.2 45,70.6 47.1,70 49.2,69.3 51.3,68.7 53.4,68 55.5,67.3 57.5,66.6 59.6,66 61.7,65.4 63.8,65 65.9,64.6 68,64.2 70.1,63.9 72.2,63.7 74.3,63.4 76.4,63.2 78.4,63 80.5,62.8 82.6,62.7 84.7,62.6 86.8,62.5 88.9,62.4 91,62.3 93.1,62.2 95.2,62.1 97.3,62 99.3,61.9 101.4,61.8 103.5,61.8 105.6,61.7 107.7,61.6 109.8,61.5 111.9,61.4 114,61.3 116.1,61.2 118.2,61 120.2,60.9 122.3,60.8" fill="none" stroke="#000" stroke-width="8.2" stroke-linejoin="round" stroke-linecap="round"/><use href="#t"/><use href="#Fg"/></g>
<g transform="translate(1702.2,225.8)"><g clip-path="url(#c)"><path d="M5.3,84 9.5,84 11.6,84 13.7,82.8 17.8,79 22,75.7 26.2,72.7 30.4,69.8 34.6,67.3 38.7,65 42.9,62.9 47.1,60.9 51.3,58.9 55.5,56.9 59.6,55.1 63.8,53.4 68,52.4 72.2,51.4 76.4,50.7 80.5,50 84.7,49.5 88.9,49.1 93.1,48.6 97.3,48 101.4,47.5 105.6,46.9 109.8,46.4 114,45.9 118.2,45.4 122.3,44.9 122.3,80.3 118.2,80.2 114,80.2 109.8,80.1 105.6,80.1 101.4,80.1 97.3,80.2 93.1,80.2 88.9,80.1 84.7,80 80.5,80 76.4,80.1 72.2,80.3 68,80.7 63.8,81.2 59.6,81.1 55.5,81.1 51.3,81.3 47.1,81.3 42.9,81.4 38.7,81.5 34.6,81.7 30.4,82.1 26.2,82.7 22,83.3 17.8,84 13.7,84 11.6,84 9.5,84 5.3,84Z" fill="#93bcdc"/><path d="M5.3,84 9.5,84 11.6,84 13.7,82.8 17.8,79 22,75.7 26.2,72.7 30.4,69.8 34.6,67.3 38.7,65 42.9,62.9 47.1,60.9 51.3,58.9 55.5,56.9 59.6,55.1 63.8,53.4 68,52.4 72.2,51.4 76.4,50.7 80.5,50 84.7,49.5 88.9,49.1 93.1,48.6 97.3,48 101.4,47.5 105.6,46.9 109.8,46.4 114,45.9 118.2,45.4 122.3,44.9M5.3,84 9.5,84 11.6,84 13.7,84 17.8,84 22,83.3 26.2,82.7 30.4,82.1 34.6,81.7 38.7,81.5 42.9,81.4 47.1,81.3 51.3,81.3 55.5,81.1 59.6,81.1 63.8,81.2 68,80.7 72.2,80.3 76.4,80.1 80.5,80 84.7,80 88.9,80.1 93.1,80.2 97.3,80.2 101.4,80.1 105.6,80.1 109.8,80.1 114,80.2 118.2,80.2 122.3,80.3" fill="none" stroke="#5a9ccd" stroke-width="2"/><path d="M5.3,84 9.5,84 11.6,84 13.7,83 17.8,79.4 22,76.3 26.2,73.5 30.4,70.8 34.6,68.5 38.7,66.4 42.9,64.4 47.1,62.6 51.3,60.8 55.5,58.9 59.6,57.2 63.8,55.7 68,54.7 72.2,53.8 76.4,53 80.5,52.4 84.7,51.9 88.9,51.5 93.1,51 97.3,50.5 101.4,49.9 105.6,49.4 109.8,48.9 114,48.4 118.2,47.9 122.3,47.5 122.3,67.2 118.2,67.3 114,67.5 109.8,67.7 105.6,67.9 101.4,68.2 97.3,68.5 93.1,68.7 88.9,68.9 84.7,69 80.5,69.2 76.4,69.6 72.2,70 68,70.6 63.8,71.4 59.6,71.9 55.5,72.6 51.3,73.4 47.1,74.1 42.9,74.9 38.7,75.7 34.6,76.6 30.4,77.8 26.2,79.2 22,80.6 17.8,82.2 13.7,83.7 11.6,84 9.5,84 5.3,84Z" fill="#f4cca4" stroke="#c4aa90" stroke-width="1.4"/><path d="M5.3,84 9.5,84 11.6,84 13.7,83.2 17.8,79.9 22,77 26.2,74.4 30.4,72 34.6,69.8 38.7,67.9 42.9,66.2 47.1,64.5 51.3,62.9 55.5,61.2 59.6,59.6 63.8,58.3 68,57.3 72.2,56.4 76.4,55.7 80.5,55.1 84.7,54.7 88.9,54.2 93.1,53.8 97.3,53.3 101.4,52.8 105.6,52.3 109.8,51.8 114,51.3 118.2,50.9 122.3,50.4 122.3,61.3 118.2,61.5 114,61.8 109.8,62.1 105.6,62.5 101.4,62.8 97.3,63.2 93.1,63.5 88.9,63.8 84.7,64.1 80.5,64.4 76.4,64.8 72.2,65.4 68,66.1 63.8,66.9 59.6,67.7 55.5,68.7 51.3,69.8 47.1,70.9 42.9,71.9 38.7,73 34.6,74.3 30.4,75.8 26.2,77.6 22,79.4 17.8,81.4 13.7,83.6 11.6,84 9.5,84 5.3,84Z" fill="#d3e7ec"/></g><use href="#v8"/><use href="#h3"/><use href="#Mg"/><path clip-path="url(#c)" d="M5.3,84 7.4,84 9.5,84 11.6,84 13.7,83.4 15.8,82.1 17.8,80.5 19.9,79.1 22,77.9 24.1,76.7 26.2,75.6 28.3,74.5 30.4,73.4 32.5,72.4 34.6,71.5 36.6,70.6 38.7,69.8 40.8,69 42.9,68.3 45,67.6 47.1,66.9 49.2,66.2 51.3,65.5 53.4,64.7 55.5,64 57.5,63.3 59.6,62.7 61.7,62 63.8,61.5 65.9,61 68,60.6 70.1,60.1 72.2,59.7 74.3,59.3 76.4,59 78.4,58.7 80.5,58.4 82.6,58.2 84.7,58 86.8,57.8 88.9,57.6 91,57.4 93.1,57.2 95.2,57 97.3,56.7 99.3,56.5 101.4,56.2 103.5,56 105.6,55.8 107.7,55.5 109.8,55.3 111.9,55.1 114,54.9 116.1,54.7 118.2,54.4 120.2,54.2 122.3,54" fill="none" stroke="#000" stroke-width="8.2" stroke-linejoin="round" stroke-linecap="round"/><use href="#t"/><use href="#Fg"/></g>
<g transform="translate(1881.6,225.8)"><g clip-path="url(#c)"><path d="M5.3,84 9.5,84 13.7,84 17.8,79.1 22,74.9 26.2,72.2 30.4,70 34.6,67.8 38.7,65.5 42.9,63.4 47.1,61.4 51.3,59.7 55.5,58.2 59.6,56.8 63.8,55.5 68,54.6 72.2,53.8 76.4,53 80.5,52.3 84.7,51.7 88.9,51.1 93.1,50.5 97.3,49.8 101.4,49.1 105.6,48.4 109.8,47.8 114,47.2 118.2,46.5 122.3,45.9 122.3,71.5 118.2,71.7 114,72 109.8,72.2 105.6,72.5 101.4,72.8 97.3,73.1 93.1,73.4 88.9,73.7 84.7,73.9 80.5,74.1 76.4,74.4 72.2,74.8 68,75.3 63.8,75.8 59.6,75.7 55.5,75.7 51.3,75.8 47.1,76 42.9,76.5 38.7,77.2 34.6,77.8 30.4,78.4 26.2,78.9 22,79.8 17.8,81.8 13.7,84 9.5,84 5.3,84Z" fill="#93bcdc"/><path d="M5.3,84 9.5,84 13.7,84 17.8,79.1 22,74.9 26.2,72.2 30.4,70 34.6,67.8 38.7,65.5 42.9,63.4 47.1,61.4 51.3,59.7 55.5,58.2 59.6,56.8 63.8,55.5 68,54.6 72.2,53.8 76.4,53 80.5,52.3 84.7,51.7 88.9,51.1 93.1,50.5 97.3,49.8 101.4,49.1 105.6,48.4 109.8,47.8 114,47.2 118.2,46.5 122.3,45.9M5.3,84 9.5,84 13.7,84 17.8,81.8 22,79.8 26.2,78.9 30.4,78.4 34.6,77.8 38.7,77.2 42.9,76.5 47.1,76 51.3,75.8 55.5,75.7 59.6,75.7 63.8,75.8 68,75.3 72.2,74.8 76.4,74.4 80.5,74.1 84.7,73.9 88.9,73.7 93.1,73.4 97.3,73.1 101.4,72.8 105.6,72.5 109.8,72.2 114,72 118.2,71.7 122.3,71.5" fill="none" stroke="#5a9ccd" stroke-width="2"/><path d="M5.3,84 9.5,84 13.7,84 17.8,79.4 22,75.4 26.2,72.9 30.4,70.8 34.6,68.8 38.7,66.7 42.9,64.7 47.1,62.9 51.3,61.4 55.5,60 59.6,58.8 63.8,57.6 68,56.8 72.2,56 76.4,55.3 80.5,54.7 84.7,54.1 88.9,53.5 93.1,53 97.3,52.4 101.4,51.7 105.6,51.1 109.8,50.5 114,49.9 118.2,49.3 122.3,48.8 122.3,67.2 118.2,67.5 114,67.8 109.8,68.1 105.6,68.4 101.4,68.8 97.3,69.1 93.1,69.5 88.9,69.8 84.7,70 80.5,70.3 76.4,70.7 72.2,71.1 68,71.6 63.8,72.2 59.6,72.4 55.5,72.6 51.3,72.9 47.1,73.4 42.9,74.2 38.7,75.1 34.6,76.1 30.4,76.9 26.2,77.7 22,78.9 17.8,81.4 13.7,84 9.5,84 5.3,84Z" fill="#f4cca4" stroke="#c4aa90" stroke-width="1.4"/><path d="M5.3,84 9.5,84 13.7,84 17.8,79.7 22,76 26.2,73.7 30.4,71.8 34.6,70 38.7,68.1 42.9,66.3 47.1,64.6 51.3,63.3 55.5,62.1 59.6,61 63.8,60 68,59.3 72.2,58.6 76.4,57.9 80.5,57.3 84.7,56.8 88.9,56.4 93.1,55.8 97.3,55.3 101.4,54.7 105.6,54.2 109.8,53.6 114,53.1 118.2,52.6 122.3,52.1 122.3,62.2 118.2,62.6 114,62.9 109.8,63.3 105.6,63.7 101.4,64.1 97.3,64.5 93.1,64.9 88.9,65.3 84.7,65.6 80.5,66 76.4,66.4 72.2,66.9 68,67.4 63.8,68.1 59.6,68.5 55.5,69 51.3,69.6 47.1,70.4 42.9,71.5 38.7,72.7 34.6,74 30.4,75.2 26.2,76.4 22,77.9 17.8,80.8 13.7,84 9.5,84 5.3,84Z" fill="#d3e7ec"/></g><use href="#v9"/><use href="#h3"/><use href="#Mb"/><path clip-path="url(#c)" d="M5.3,84 7.4,84 9.5,84 11.6,84 13.7,84 15.8,82.7 17.8,80.1 19.9,77.9 22,76.7 24.1,75.6 26.2,74.7 28.3,73.9 30.4,73.1 32.5,72.3 34.6,71.5 36.6,70.7 38.7,69.8 40.8,69 42.9,68.2 45,67.5 47.1,66.8 49.2,66.2 51.3,65.6 53.4,65.1 55.5,64.6 57.5,64.2 59.6,63.8 61.7,63.4 63.8,63 65.9,62.6 68,62.3 70.1,62 72.2,61.7 74.3,61.4 76.4,61.1 78.4,60.9 80.5,60.6 82.6,60.4 84.7,60.2 86.8,60 88.9,59.8 91,59.6 93.1,59.4 95.2,59.1 97.3,58.9 99.3,58.6 101.4,58.4 103.5,58.2 105.6,57.9 107.7,57.7 109.8,57.5 111.9,57.2 114,57 116.1,56.8 118.2,56.6 120.2,56.4 122.3,56.2" fill="none" stroke="#000" stroke-width="8.2" stroke-linejoin="round" stroke-linecap="round"/><use href="#t"/><use href="#Fb"/></g>
<g transform="translate(2061,225.8)"><g clip-path="url(#c)"><path d="M5.3,84 9.5,84 13.7,84 15.8,84 17.8,81.4 22,76.1 26.2,72.7 30.4,69.8 34.6,67.4 38.7,65.4 42.9,63.7 47.1,62.1 51.3,60.6 55.5,59.2 59.6,57.8 63.8,56.6 68,55.6 72.2,54.6 76.4,53.7 80.5,52.8 84.7,51.8 88.9,50.8 93.1,49.9 97.3,49.1 101.4,48.4 105.6,47.6 109.8,46.9 114,46.2 118.2,45.5 122.3,44.9 122.3,70.5 118.2,70.4 114,70.4 109.8,70.5 105.6,70.5 101.4,70.5 97.3,70.6 93.1,70.7 88.9,71 84.7,71.2 80.5,71.5 76.4,71.8 72.2,72 68,72.3 63.8,72.6 59.6,72.7 55.5,72.9 51.3,73.2 47.1,73.5 42.9,73.9 38.7,74.3 34.6,75 30.4,76 26.2,77.4 22,79.3 17.8,82.7 15.8,84 13.7,84 9.5,84 5.3,84Z" fill="#93bcdc"/><path d="M5.3,84 9.5,84 13.7,84 15.8,84 17.8,81.4 22,76.1 26.2,72.7 30.4,69.8 34.6,67.4 38.7,65.4 42.9,63.7 47.1,62.1 51.3,60.6 55.5,59.2 59.6,57.8 63.8,56.6 68,55.6 72.2,54.6 76.4,53.7 80.5,52.8 84.7,51.8 88.9,50.8 93.1,49.9 97.3,49.1 101.4,48.4 105.6,47.6 109.8,46.9 114,46.2 118.2,45.5 122.3,44.9M5.3,84 9.5,84 13.7,84 15.8,84 17.8,82.7 22,79.3 26.2,77.4 30.4,76 34.6,75 38.7,74.3 42.9,73.9 47.1,73.5 51.3,73.2 55.5,72.9 59.6,72.7 63.8,72.6 68,72.3 72.2,72 76.4,71.8 80.5,71.5 84.7,71.2 88.9,71 93.1,70.7 97.3,70.6 101.4,70.5 105.6,70.5 109.8,70.5 114,70.4 118.2,70.4 122.3,70.5" fill="none" stroke="#5a9ccd" stroke-width="2"/><path d="M5.3,84 9.5,84 13.7,84 15.8,84 17.8,81.6 22,76.5 26.2,73.2 30.4,70.5 34.6,68.3 38.7,66.4 42.9,64.8 47.1,63.4 51.3,62 55.5,60.7 59.6,59.5 63.8,58.4 68,57.4 72.2,56.6 76.4,55.8 80.5,54.9 84.7,54.1 88.9,53.2 93.1,52.4 97.3,51.7 101.4,51 105.6,50.4 109.8,49.7 114,49.1 118.2,48.6 122.3,48 122.3,66.4 118.2,66.5 114,66.6 109.8,66.7 105.6,66.8 101.4,67 97.3,67.2 93.1,67.4 88.9,67.7 84.7,68.1 80.5,68.5 76.4,68.8 72.2,69.2 68,69.5 63.8,69.9 59.6,70.2 55.5,70.6 51.3,71.1 47.1,71.6 42.9,72.2 38.7,72.8 34.6,73.7 30.4,75 26.2,76.6 22,78.7 17.8,82.5 15.8,84 13.7,84 9.5,84 5.3,84Z" fill="#f4cca4" stroke="#c4aa90" stroke-width="1.4"/><path d="M5.3,84 9.5,84 13.7,84 15.8,84 17.8,81.8 22,76.9 26.2,73.8 30.4,71.3 34.6,69.3 38.7,67.6 42.9,66.2 47.1,64.9 51.3,63.7 55.5,62.5 59.6,61.4 63.8,60.4 68,59.6 72.2,58.9 76.4,58.2 80.5,57.5 84.7,56.7 88.9,55.9 93.1,55.2 97.3,54.6 101.4,54.1 105.6,53.5 109.8,53 114,52.5 118.2,52.1 122.3,51.6 122.3,61.7 118.2,61.9 114,62.1 109.8,62.3 105.6,62.6 101.4,62.8 97.3,63.1 93.1,63.5 88.9,63.9 84.7,64.4 80.5,64.9 76.4,65.4 72.2,65.8 68,66.3 63.8,66.8 59.6,67.3 55.5,67.9 51.3,68.6 47.1,69.4 42.9,70.2 38.7,71.1 34.6,72.3 30.4,73.8 26.2,75.7 22,78.1 17.8,82.3 15.8,84 13.7,84 9.5,84 5.3,84Z" fill="#d3e7ec"/></g><use href="#v10"/><use href="#h3"/><use href="#Mb"/><path clip-path="url(#c)" d="M5.3,84 7.4,84 9.5,84 11.6,84 13.7,84 15.8,84 17.8,82 19.9,79.1 22,77.4 24.1,75.9 26.2,74.6 28.3,73.4 30.4,72.3 32.5,71.3 34.6,70.5 36.6,69.7 38.7,69 40.8,68.4 42.9,67.8 45,67.2 47.1,66.7 49.2,66.2 51.3,65.7 53.4,65.2 55.5,64.7 57.5,64.2 59.6,63.8 61.7,63.4 63.8,63 65.9,62.6 68,62.3 70.1,62 72.2,61.7 74.3,61.4 76.4,61.2 78.4,60.9 80.5,60.5 82.6,60.2 84.7,59.9 86.8,59.6 88.9,59.3 91,59 93.1,58.7 95.2,58.5 97.3,58.2 99.3,58 101.4,57.8 103.5,57.6 105.6,57.4 107.7,57.2 109.8,57 111.9,56.8 114,56.7 116.1,56.5 118.2,56.3 120.2,56.2 122.3,56" fill="none" stroke="#000" stroke-width="8.2" stroke-linejoin="round" stroke-linecap="round"/><use href="#t"/><use href="#Fb"/></g>
<g transform="translate(267.1,343.8)"><g clip-path="url(#c)"><path d="M5.3,84 9.5,84 11.6,84 13.7,82.6 17.8,77.9 22,73.9 26.2,70.5 30.4,67.3 34.6,64.8 38.7,62.7 42.9,60.8 47.1,59.2 51.3,57.7 55.5,56.2 59.6,54.8 63.8,53.7 68,53.3 72.2,53 76.4,52.6 80.5,52.1 84.7,51.3 88.9,50.5 93.1,49.8 97.3,49.4 101.4,49.1 105.6,48.8 109.8,48.3 114,47.8 118.2,47.3 122.3,46.7 122.3,65 118.2,65.6 114,66.1 109.8,66.6 105.6,67.1 101.4,67.4 97.3,67.7 93.1,68.1 88.9,68.8 84.7,69.7 80.5,70.5 76.4,71 72.2,71.3 68,71.7 63.8,72.1 59.6,72 55.5,72.2 51.3,72.4 47.1,72.7 42.9,73.1 38.7,73.6 34.6,74.3 30.4,75.5 26.2,77.1 22,79 17.8,81.2 13.7,84 11.6,84 9.5,84 5.3,84Z" fill="#93bcdc"/><path d="M5.3,84 9.5,84 11.6,84 13.7,82.6 17.8,77.9 22,73.9 26.2,70.5 30.4,67.3 34.6,64.8 38.7,62.7 42.9,60.8 47.1,59.2 51.3,57.7 55.5,56.2 59.6,54.8 63.8,53.7 68,53.3 72.2,53 76.4,52.6 80.5,52.1 84.7,51.3 88.9,50.5 93.1,49.8 97.3,49.4 101.4,49.1 105.6,48.8 109.8,48.3 114,47.8 118.2,47.3 122.3,46.7M5.3,84 9.5,84 11.6,84 13.7,84 17.8,81.2 22,79 26.2,77.1 30.4,75.5 34.6,74.3 38.7,73.6 42.9,73.1 47.1,72.7 51.3,72.4 55.5,72.2 59.6,72 63.8,72.1 68,71.7 72.2,71.3 76.4,71 80.5,70.5 84.7,69.7 88.9,68.8 93.1,68.1 97.3,67.7 101.4,67.4 105.6,67.1 109.8,66.6 114,66.1 118.2,65.6 122.3,65" fill="none" stroke="#5a9ccd" stroke-width="2"/><path d="M5.3,84 9.5,84 11.6,84 13.7,82.8 17.8,78.3 22,74.6 26.2,71.3 30.4,68.4 34.6,66 38.7,64.1 42.9,62.4 47.1,61 51.3,59.6 55.5,58.3 59.6,57.1 63.8,56 68,55.6 72.2,55.3 76.4,55 80.5,54.5 84.7,53.6 88.9,52.8 93.1,52.1 97.3,51.7 101.4,51.3 105.6,51 109.8,50.6 114,50.1 118.2,49.5 122.3,48.9 122.3,62 118.2,62.7 114,63.2 109.8,63.8 105.6,64.2 101.4,64.5 97.3,64.9 93.1,65.3 88.9,66 84.7,66.9 80.5,67.7 76.4,68.2 72.2,68.6 68,68.9 63.8,69.3 59.6,69.5 55.5,69.8 51.3,70.2 47.1,70.7 42.9,71.2 38.7,71.9 34.6,72.9 30.4,74.2 26.2,76.1 22,78.2 17.8,80.7 13.7,83.8 11.6,84 9.5,84 5.3,84Z" fill="#f4cca4" stroke="#c4aa90" stroke-width="1.4"/><path d="M5.3,84 9.5,84 11.6,84 13.7,83 17.8,78.8 22,75.3 26.2,72.3 30.4,69.6 34.6,67.4 38.7,65.7 42.9,64.3 47.1,63 51.3,61.8 55.5,60.7 59.6,59.6 63.8,58.8 68,58.4 72.2,58 76.4,57.7 80.5,57.2 84.7,56.3 88.9,55.4 93.1,54.7 97.3,54.3 101.4,54 105.6,53.6 109.8,53.2 114,52.6 118.2,52 122.3,51.4 122.3,58.6 118.2,59.3 114,59.9 109.8,60.4 105.6,60.9 101.4,61.2 97.3,61.6 93.1,62 88.9,62.7 84.7,63.6 80.5,64.4 76.4,65 72.2,65.3 68,65.7 63.8,66.1 59.6,66.5 55.5,67 51.3,67.6 47.1,68.3 42.9,69.1 38.7,70 34.6,71.2 30.4,72.8 26.2,75 22,77.3 17.8,80.1 13.7,83.6 11.6,84 9.5,84 5.3,84Z" fill="#d3e7ec"/></g><use href="#v0"/><use href="#h3"/><use href="#Mg"/><path clip-path="url(#c)" d="M5.3,84 7.4,84 9.5,84 11.6,84 13.7,83.3 15.8,81.5 17.8,79.4 19.9,77.7 22,76.3 24.1,74.9 26.2,73.5 28.3,72.3 30.4,71.1 32.5,70 34.6,69.2 36.6,68.4 38.7,67.7 40.8,67.1 42.9,66.5 45,66 47.1,65.4 49.2,65 51.3,64.5 53.4,64 55.5,63.6 57.5,63.2 59.6,62.8 61.7,62.5 63.8,62.2 65.9,61.9 68,61.7 70.1,61.5 72.2,61.4 74.3,61.2 76.4,61 78.4,60.8 80.5,60.4 82.6,60 84.7,59.6 86.8,59.1 88.9,58.7 91,58.3 93.1,58 95.2,57.7 97.3,57.5 99.3,57.3 101.4,57.1 103.5,57 105.6,56.8 107.7,56.6 109.8,56.3 111.9,56 114,55.8 116.1,55.5 118.2,55.2 120.2,54.8 122.3,54.5" fill="none" stroke="#000" stroke-width="8.2" stroke-linejoin="round" stroke-linecap="round"/><use href="#t"/><use href="#Fg"/></g>
<g transform="translate(446.5,343.8)"><g clip-path="url(#c)"><path d="M5.3,84 9.5,84 13.7,84 17.8,80.1 22,76.6 26.2,73.7 30.4,71.1 34.6,68.7 38.7,66.5 42.9,64.4 47.1,62.3 51.3,60.3 55.5,58.2 59.6,56.2 63.8,54.6 68,53.9 72.2,53.3 76.4,52.8 80.5,52.2 84.7,51.6 88.9,51.1 93.1,50.6 97.3,50.2 101.4,49.9 105.6,49.5 109.8,49.2 114,48.8 118.2,48.4 122.3,48.1 122.3,72.1 118.2,72.2 114,72.3 109.8,72.4 105.6,72.5 101.4,72.5 97.3,72.6 93.1,72.8 88.9,72.9 84.7,73.2 80.5,73.5 76.4,73.8 72.2,74.1 68,74.4 63.8,74.9 59.6,75.1 55.5,75.7 51.3,76.4 47.1,77 42.9,77.5 38.7,78.1 34.6,78.8 30.4,79.6 26.2,80.4 22,81.4 17.8,82.9 13.7,84 9.5,84 5.3,84Z" fill="#93bcdc"/><path d="M5.3,84 9.5,84 13.7,84 17.8,80.1 22,76.6 26.2,73.7 30.4,71.1 34.6,68.7 38.7,66.5 42.9,64.4 47.1,62.3 51.3,60.3 55.5,58.2 59.6,56.2 63.8,54.6 68,53.9 72.2,53.3 76.4,52.8 80.5,52.2 84.7,51.6 88.9,51.1 93.1,50.6 97.3,50.2 101.4,49.9 105.6,49.5 109.8,49.2 114,48.8 118.2,48.4 122.3,48.1M5.3,84 9.5,84 13.7,84 17.8,82.9 22,81.4 26.2,80.4 30.4,79.6 34.6,78.8 38.7,78.1 42.9,77.5 47.1,77 51.3,76.4 55.5,75.7 59.6,75.1 63.8,74.9 68,74.4 72.2,74.1 76.4,73.8 80.5,73.5 84.7,73.2 88.9,72.9 93.1,72.8 97.3,72.6 101.4,72.5 105.6,72.5 109.8,72.4 114,72.3 118.2,72.2 122.3,72.1" fill="none" stroke="#5a9ccd" stroke-width="2"/><path d="M5.3,84 9.5,84 13.7,84 17.8,80.6 22,77.4 26.2,74.9 30.4,72.6 34.6,70.5 38.7,68.5 42.9,66.6 47.1,64.8 51.3,63 55.5,61.1 59.6,59.4 63.8,58 68,57.4 72.2,56.9 76.4,56.4 80.5,56 84.7,55.5 88.9,55 93.1,54.6 97.3,54.3 101.4,54.1 105.6,53.8 109.8,53.5 114,53.2 118.2,52.9 122.3,52.6 122.3,69.9 118.2,70 114,70.1 109.8,70.2 105.6,70.3 101.4,70.4 97.3,70.5 93.1,70.6 88.9,70.8 84.7,71 80.5,71.3 76.4,71.6 72.2,71.9 68,72.2 63.8,72.6 59.6,73 55.5,73.7 51.3,74.6 47.1,75.3 42.9,76.1 38.7,76.8 34.6,77.7 30.4,78.6 26.2,79.7 22,80.9 17.8,82.6 13.7,84 9.5,84 5.3,84Z" fill="#f4cca4" stroke="#c4aa90" stroke-width="1.4"/><path d="M5.3,84 9.5,84 13.7,84 17.8,81.1 22,78.3 26.2,76.2 30.4,74.2 34.6,72.4 38.7,70.7 42.9,69.2 47.1,67.7 51.3,66.2 55.5,64.6 59.6,63.1 63.8,62 68,61.5 72.2,61.1 76.4,60.7 80.5,60.3 84.7,59.9 88.9,59.6 93.1,59.3 97.3,59.1 101.4,58.9 105.6,58.7 109.8,58.5 114,58.3 118.2,58.1 122.3,57.9 122.3,67.4 118.2,67.5 114,67.6 109.8,67.7 105.6,67.8 101.4,67.9 97.3,67.9 93.1,68 88.9,68.2 84.7,68.5 80.5,68.8 76.4,69.1 72.2,69.3 68,69.6 63.8,70.1 59.6,70.6 55.5,71.5 51.3,72.6 47.1,73.5 42.9,74.4 38.7,75.4 34.6,76.4 30.4,77.6 26.2,78.8 22,80.3 17.8,82.2 13.7,84 9.5,84 5.3,84Z" fill="#d3e7ec"/></g><use href="#v1"/><use href="#h3"/><use href="#Mg"/><path clip-path="url(#c)" d="M5.3,84 7.4,84 9.5,84 11.6,84 13.7,84 15.8,83.3 17.8,81.8 19.9,80.5 22,79.5 24.1,78.6 26.2,77.8 28.3,77 30.4,76.3 32.5,75.5 34.6,74.9 36.6,74.2 38.7,73.6 40.8,72.9 42.9,72.4 45,71.8 47.1,71.2 49.2,70.7 51.3,70.1 53.4,69.4 55.5,68.8 57.5,68.2 59.6,67.7 61.7,67.2 63.8,66.9 65.9,66.7 68,66.5 70.1,66.3 72.2,66.2 74.3,66.1 76.4,65.9 78.4,65.8 80.5,65.7 82.6,65.5 84.7,65.4 86.8,65.2 88.9,65.1 91,65 93.1,65 95.2,64.9 97.3,64.9 99.3,64.8 101.4,64.8 103.5,64.8 105.6,64.7 107.7,64.7 109.8,64.6 111.9,64.6 114,64.6 116.1,64.5 118.2,64.5 120.2,64.4 122.3,64.4" fill="none" stroke="#000" stroke-width="8.2" stroke-linejoin="round" stroke-linecap="round"/><use href="#t"/><use href="#Fg"/></g>
<g transform="translate(625.9,343.8)"><g clip-path="url(#c)"><path d="M5.3,84 9.5,84 11.6,84 13.7,82.9 17.8,79.7 22,76.9 26.2,74.5 30.4,72.1 34.6,69.8 38.7,67.4 42.9,65 47.1,62.7 51.3,60.6 55.5,58.6 59.6,56.7 63.8,55.2 68,54.2 72.2,53.4 76.4,52.7 80.5,51.9 84.7,51.1 88.9,50.3 93.1,49.7 97.3,49 101.4,48.5 105.6,47.9 109.8,47.3 114,46.6 118.2,46 122.3,45.3 122.3,69.2 118.2,69.4 114,69.5 109.8,69.7 105.6,69.8 101.4,69.9 97.3,69.9 93.1,70 88.9,70.2 84.7,70.5 80.5,70.8 76.4,71 72.2,71.3 68,71.6 63.8,72.1 59.6,72.5 55.5,73.3 51.3,74.2 47.1,75.1 42.9,76.2 38.7,77.4 34.6,78.5 30.4,79.6 26.2,80.6 22,81.6 17.8,82.8 13.7,84 11.6,84 9.5,84 5.3,84Z" fill="#93bcdc"/><path d="M5.3,84 9.5,84 11.6,84 13.7,82.9 17.8,79.7 22,76.9 26.2,74.5 30.4,72.1 34.6,69.8 38.7,67.4 42.9,65 47.1,62.7 51.3,60.6 55.5,58.6 59.6,56.7 63.8,55.2 68,54.2 72.2,53.4 76.4,52.7 80.5,51.9 84.7,51.1 88.9,50.3 93.1,49.7 97.3,49 101.4,48.5 105.6,47.9 109.8,47.3 114,46.6 118.2,46 122.3,45.3M5.3,84 9.5,84 11.6,84 13.7,84 17.8,82.8 22,81.6 26.2,80.6 30.4,79.6 34.6,78.5 38.7,77.4 42.9,76.2 47.1,75.1 51.3,74.2 55.5,73.3 59.6,72.5 63.8,72.1 68,71.6 72.2,71.3 76.4,71 80.5,70.8 84.7,70.5 88.9,70.2 93.1,70 97.3,69.9 101.4,69.9 105.6,69.8 109.8,69.7 114,69.5 118.2,69.4 122.3,69.2" fill="none" stroke="#5a9ccd" stroke-width="2"/><path d="M5.3,84 9.5,84 11.6,84 13.7,83.1 17.8,80.2 22,77.7 26.2,75.5 30.4,73.3 34.6,71.2 38.7,69 42.9,66.8 47.1,64.7 51.3,62.8 55.5,61 59.6,59.3 63.8,57.9 68,57 72.2,56.3 76.4,55.6 80.5,54.9 84.7,54.2 88.9,53.5 93.1,52.9 97.3,52.4 101.4,51.9 105.6,51.4 109.8,50.9 114,50.3 118.2,49.7 122.3,49.1 122.3,66.3 118.2,66.5 114,66.8 109.8,67 105.6,67.2 101.4,67.3 97.3,67.4 93.1,67.6 88.9,67.9 84.7,68.2 80.5,68.5 76.4,68.9 72.2,69.2 68,69.6 63.8,70.1 59.6,70.7 55.5,71.6 51.3,72.6 47.1,73.6 42.9,74.9 38.7,76.2 34.6,77.5 30.4,78.7 26.2,79.9 22,81 17.8,82.4 13.7,83.9 11.6,84 9.5,84 5.3,84Z" fill="#f4cca4" stroke="#c4aa90" stroke-width="1.4"/><path d="M5.3,84 9.5,84 11.6,84 13.7,83.3 17.8,80.8 22,78.6 26.2,76.6 30.4,74.7 34.6,72.8 38.7,70.9 42.9,68.9 47.1,67 51.3,65.4 55.5,63.7 59.6,62.3 63.8,61.1 68,60.3 72.2,59.7 76.4,59.1 80.5,58.4 84.7,57.8 88.9,57.2 93.1,56.7 97.3,56.2 101.4,55.8 105.6,55.4 109.8,55 114,54.5 118.2,54 122.3,53.4 122.3,62.9 118.2,63.2 114,63.6 109.8,63.8 105.6,64.1 101.4,64.3 97.3,64.5 93.1,64.8 88.9,65.1 84.7,65.5 80.5,65.9 76.4,66.3 72.2,66.7 68,67.2 63.8,67.8 59.6,68.5 55.5,69.6 51.3,70.7 47.1,71.9 42.9,73.4 38.7,74.8 34.6,76.3 30.4,77.7 26.2,79 22,80.4 17.8,82 13.7,83.8 11.6,84 9.5,84 5.3,84Z" fill="#d3e7ec"/></g><use href="#v2"/><use href="#h3"/><use href="#Mg"/><path clip-path="url(#c)" d="M5.3,84 7.4,84 9.5,84 11.6,84 13.7,83.6 15.8,82.6 17.8,81.5 19.9,80.5 22,79.6 24.1,78.8 26.2,78 28.3,77.2 30.4,76.4 32.5,75.7 34.6,74.9 36.6,74 38.7,73.2 40.8,72.3 42.9,71.5 45,70.7 47.1,69.9 49.2,69.2 51.3,68.5 53.4,67.8 55.5,67.1 57.5,66.5 59.6,65.9 61.7,65.4 63.8,65 65.9,64.6 68,64.3 70.1,64 72.2,63.7 74.3,63.5 76.4,63.3 78.4,63 80.5,62.7 82.6,62.5 84.7,62.2 86.8,62 88.9,61.7 91,61.5 93.1,61.3 95.2,61.1 97.3,61 99.3,60.8 101.4,60.7 103.5,60.5 105.6,60.4 107.7,60.2 109.8,60 111.9,59.8 114,59.6 116.1,59.4 118.2,59.2 120.2,59 122.3,58.8" fill="none" stroke="#000" stroke-width="8.2" stroke-linejoin="round" stroke-linecap="round"/><use href="#t"/><use href="#Fg"/></g>
<g transform="translate(805.3,343.8)"><g clip-path="url(#c)"><path d="M5.3,84 9.5,84 13.7,84 17.8,84 22,79.6 26.2,76.2 30.4,73.3 34.6,70.6 38.7,67.9 42.9,65.5 47.1,63.4 51.3,61.7 55.5,60.3 59.6,59 63.8,58 68,57.1 72.2,56.3 76.4,55.6 80.5,54.9 84.7,54.2 88.9,53.6 93.1,53 97.3,52.4 101.4,51.9 105.6,51.4 109.8,50.9 114,50.4 118.2,49.9 122.3,49.5 122.3,62.2 118.2,62.3 114,62.4 109.8,62.6 105.6,62.8 101.4,63 97.3,63.3 93.1,63.6 88.9,63.8 84.7,64.2 80.5,64.5 76.4,64.9 72.2,65.3 68,65.8 63.8,66.4 59.6,66.8 55.5,67.4 51.3,68.2 47.1,69.2 42.9,70.7 38.7,72.4 34.6,74.3 30.4,76.2 26.2,78.4 22,80.9 17.8,84 13.7,84 9.5,84 5.3,84Z" fill="#93bcdc"/><path d="M5.3,84 9.5,84 13.7,84 17.8,84 22,79.6 26.2,76.2 30.4,73.3 34.6,70.6 38.7,67.9 42.9,65.5 47.1,63.4 51.3,61.7 55.5,60.3 59.6,59 63.8,58 68,57.1 72.2,56.3 76.4,55.6 80.5,54.9 84.7,54.2 88.9,53.6 93.1,53 97.3,52.4 101.4,51.9 105.6,51.4 109.8,50.9 114,50.4 118.2,49.9 122.3,49.5M5.3,84 9.5,84 13.7,84 17.8,84 22,80.9 26.2,78.4 30.4,76.2 34.6,74.3 38.7,72.4 42.9,70.7 47.1,69.2 51.3,68.2 55.5,67.4 59.6,66.8 63.8,66.4 68,65.8 72.2,65.3 76.4,64.9 80.5,64.5 84.7,64.2 88.9,63.8 93.1,63.6 97.3,63.3 101.4,63 105.6,62.8 109.8,62.6 114,62.4 118.2,62.3 122.3,62.2" fill="none" stroke="#5a9ccd" stroke-width="2"/><path d="M5.3,84 9.5,84 13.7,84 17.8,84 22,79.8 26.2,76.5 30.4,73.6 34.6,71 38.7,68.4 42.9,66.1 47.1,64 51.3,62.4 55.5,61.1 59.6,59.9 63.8,58.9 68,58.1 72.2,57.3 76.4,56.7 80.5,56.1 84.7,55.5 88.9,54.9 93.1,54.4 97.3,53.9 101.4,53.4 105.6,52.9 109.8,52.5 114,52.1 118.2,51.7 122.3,51.3 122.3,60.4 118.2,60.6 114,60.8 109.8,61 105.6,61.2 101.4,61.4 97.3,61.7 93.1,62 88.9,62.3 84.7,62.6 80.5,63 76.4,63.4 72.2,63.8 68,64.3 63.8,64.9 59.6,65.5 55.5,66.2 51.3,67.1 47.1,68.2 42.9,69.8 38.7,71.7 34.6,73.7 30.4,75.7 26.2,78 22,80.7 17.8,84 13.7,84 9.5,84 5.3,84Z" fill="#f4cca4" stroke="#c4aa90" stroke-width="1.4"/><path d="M5.3,84 9.5,84 13.7,84 17.8,84 22,79.9 26.2,76.8 30.4,74 34.6,71.5 38.7,69 42.9,66.7 47.1,64.8 51.3,63.3 55.5,62 59.6,60.9 63.8,60 68,59.2 72.2,58.6 76.4,58 80.5,57.4 84.7,56.9 88.9,56.5 93.1,56 97.3,55.6 101.4,55.1 105.6,54.8 109.8,54.4 114,54 118.2,53.7 122.3,53.4 122.3,58.4 118.2,58.6 114,58.8 109.8,59 105.6,59.3 101.4,59.6 97.3,59.9 93.1,60.2 88.9,60.5 84.7,60.9 80.5,61.3 76.4,61.7 72.2,62.2 68,62.7 63.8,63.3 59.6,64 55.5,64.8 51.3,65.8 47.1,67.1 42.9,68.8 38.7,70.8 34.6,72.9 30.4,75.2 26.2,77.6 22,80.4 17.8,84 13.7,84 9.5,84 5.3,84Z" fill="#d3e7ec"/></g><use href="#v3"/><use href="#h3"/><use href="#Mg"/><path clip-path="url(#c)" d="M5.3,84 7.4,84 9.5,84 11.6,84 13.7,84 15.8,84 17.8,84 19.9,81.9 22,80.1 24.1,78.6 26.2,77.1 28.3,75.7 30.4,74.5 32.5,73.2 34.6,72.1 36.6,70.9 38.7,69.7 40.8,68.6 42.9,67.6 45,66.6 47.1,65.7 49.2,65 51.3,64.3 53.4,63.7 55.5,63.1 57.5,62.6 59.6,62.1 61.7,61.7 63.8,61.3 65.9,61 68,60.7 70.1,60.4 72.2,60.1 74.3,59.8 76.4,59.6 78.4,59.4 80.5,59.1 82.6,58.9 84.7,58.7 86.8,58.5 88.9,58.3 91,58.1 93.1,58 95.2,57.8 97.3,57.6 99.3,57.4 101.4,57.3 103.5,57.1 105.6,57 107.7,56.8 109.8,56.7 111.9,56.6 114,56.4 116.1,56.3 118.2,56.2 120.2,56.1 122.3,56" fill="none" stroke="#000" stroke-width="8.2" stroke-linejoin="round" stroke-linecap="round"/><use href="#t"/><use href="#Fg"/></g>
<g transform="translate(984.7,343.8)"><g clip-path="url(#c)"><path d="M5.3,84 9.5,84 13.7,84 17.8,78.5 22,74.2 26.2,71.5 30.4,69.3 34.6,67.1 38.7,64.8 42.9,62.5 47.1,60.4 51.3,58.5 55.5,56.7 59.6,55 63.8,53.7 68,52.8 72.2,52 76.4,51.3 80.5,50.7 84.7,50.1 88.9,49.5 93.1,48.9 97.3,48.4 101.4,47.9 105.6,47.3 109.8,46.8 114,46.3 118.2,45.8 122.3,45.3 122.3,69.2 118.2,69.3 114,69.4 109.8,69.5 105.6,69.7 101.4,69.8 97.3,69.9 93.1,70 88.9,70.2 84.7,70.4 80.5,70.6 76.4,70.9 72.2,71.2 68,71.6 63.8,72.1 59.6,72.2 55.5,72.6 51.3,73.1 47.1,73.7 42.9,74.5 38.7,75.4 34.6,76.3 30.4,77 26.2,77.6 22,78.6 17.8,81 13.7,84 9.5,84 5.3,84Z" fill="#93bcdc"/><path d="M5.3,84 9.5,84 13.7,84 17.8,78.5 22,74.2 26.2,71.5 30.4,69.3 34.6,67.1 38.7,64.8 42.9,62.5 47.1,60.4 51.3,58.5 55.5,56.7 59.6,55 63.8,53.7 68,52.8 72.2,52 76.4,51.3 80.5,50.7 84.7,50.1 88.9,49.5 93.1,48.9 97.3,48.4 101.4,47.9 105.6,47.3 109.8,46.8 114,46.3 118.2,45.8 122.3,45.3M5.3,84 9.5,84 13.7,84 17.8,81 22,78.6 26.2,77.6 30.4,77 34.6,76.3 38.7,75.4 42.9,74.5 47.1,73.7 51.3,73.1 55.5,72.6 59.6,72.2 63.8,72.1 68,71.6 72.2,71.2 76.4,70.9 80.5,70.6 84.7,70.4 88.9,70.2 93.1,70 97.3,69.9 101.4,69.8 105.6,69.7 109.8,69.5 114,69.4 118.2,69.3 122.3,69.2" fill="none" stroke="#5a9ccd" stroke-width="2"/><path d="M5.3,84 9.5,84 13.7,84 17.8,78.9 22,74.8 26.2,72.5 30.4,70.5 34.6,68.5 38.7,66.4 42.9,64.3 47.1,62.4 51.3,60.7 55.5,59.1 59.6,57.6 63.8,56.4 68,55.7 72.2,55 76.4,54.4 80.5,53.9 84.7,53.3 88.9,52.8 93.1,52.4 97.3,51.9 101.4,51.5 105.6,51.1 109.8,50.7 114,50.3 118.2,49.9 122.3,49.4 122.3,66.7 118.2,66.8 114,66.9 109.8,67.1 105.6,67.2 101.4,67.3 97.3,67.5 93.1,67.6 88.9,67.8 84.7,68 80.5,68.2 76.4,68.5 72.2,68.8 68,69.2 63.8,69.7 59.6,70 55.5,70.5 51.3,71.2 47.1,72 42.9,72.9 38.7,74 34.6,75.1 30.4,76 26.2,76.8 22,78 17.8,80.7 13.7,84 9.5,84 5.3,84Z" fill="#f4cca4" stroke="#c4aa90" stroke-width="1.4"/><path d="M5.3,84 9.5,84 13.7,84 17.8,79.3 22,75.6 26.2,73.5 30.4,71.8 34.6,70.1 38.7,68.2 42.9,66.4 47.1,64.7 51.3,63.2 55.5,61.9 59.6,60.6 63.8,59.6 68,59 72.2,58.4 76.4,58 80.5,57.5 84.7,57.1 88.9,56.8 93.1,56.4 97.3,56.1 101.4,55.8 105.6,55.5 109.8,55.2 114,54.9 118.2,54.6 122.3,54.3 122.3,63.7 118.2,63.9 114,64 109.8,64.2 105.6,64.3 101.4,64.5 97.3,64.6 93.1,64.8 88.9,65 84.7,65.2 80.5,65.4 76.4,65.7 72.2,66 68,66.4 63.8,66.9 59.6,67.4 55.5,68.1 51.3,69 47.1,70 42.9,71.1 38.7,72.4 34.6,73.7 30.4,74.8 26.2,75.9 22,77.3 17.8,80.3 13.7,84 9.5,84 5.3,84Z" fill="#d3e7ec"/></g><use href="#v4"/><use href="#h3"/><use href="#Mg"/><path clip-path="url(#c)" d="M5.3,84 7.4,84 9.5,84 11.6,84 13.7,84 15.8,82.6 17.8,79.8 19.9,77.7 22,76.5 24.1,75.6 26.2,74.8 28.3,74.1 30.4,73.4 32.5,72.8 34.6,72.1 36.6,71.3 38.7,70.5 40.8,69.7 42.9,68.9 45,68.2 47.1,67.5 49.2,66.9 51.3,66.3 53.4,65.8 55.5,65.2 57.5,64.7 59.6,64.3 61.7,63.9 63.8,63.6 65.9,63.3 68,63.1 70.1,62.8 72.2,62.7 74.3,62.5 76.4,62.3 78.4,62.2 80.5,62 82.6,61.9 84.7,61.8 86.8,61.6 88.9,61.5 91,61.4 93.1,61.3 95.2,61.2 97.3,61.1 99.3,61.1 101.4,61 103.5,60.9 105.6,60.8 107.7,60.8 109.8,60.7 111.9,60.6 114,60.5 116.1,60.4 118.2,60.4 120.2,60.3 122.3,60.2" fill="none" stroke="#000" stroke-width="8.2" stroke-linejoin="round" stroke-linecap="round"/><use href="#t"/><use href="#Fg"/></g>
<g transform="translate(1164,343.8)"><g clip-path="url(#c)"><path d="M5.3,84 9.5,84 13.7,84 15.8,84 17.8,82.8 22,79.5 26.2,75.9 30.4,72.4 34.6,69.4 38.7,67 42.9,64.8 47.1,63 51.3,61.4 55.5,60.1 59.6,59 63.8,58 68,57.2 72.2,56.5 76.4,55.8 80.5,55 84.7,54.1 88.9,53.2 93.1,52.3 97.3,51.5 101.4,50.7 105.6,49.9 109.8,49.1 114,48.3 118.2,47.5 122.3,46.7 122.3,67.8 118.2,68 114,68.2 109.8,68.4 105.6,68.6 101.4,68.8 97.3,69 93.1,69.2 88.9,69.5 84.7,69.8 80.5,70.1 76.4,70.3 72.2,70.4 68,70.5 63.8,70.7 59.6,70.8 55.5,71 51.3,71.4 47.1,72 42.9,72.9 38.7,74 34.6,75.4 30.4,77.3 26.2,79.7 22,82 17.8,83.8 15.8,84 13.7,84 9.5,84 5.3,84Z" fill="#93bcdc"/><path d="M5.3,84 9.5,84 13.7,84 15.8,84 17.8,82.8 22,79.5 26.2,75.9 30.4,72.4 34.6,69.4 38.7,67 42.9,64.8 47.1,63 51.3,61.4 55.5,60.1 59.6,59 63.8,58 68,57.2 72.2,56.5 76.4,55.8 80.5,55 84.7,54.1 88.9,53.2 93.1,52.3 97.3,51.5 101.4,50.7 105.6,49.9 109.8,49.1 114,48.3 118.2,47.5 122.3,46.7M5.3,84 9.5,84 13.7,84 15.8,84 17.8,83.8 22,82 26.2,79.7 30.4,77.3 34.6,75.4 38.7,74 42.9,72.9 47.1,72 51.3,71.4 55.5,71 59.6,70.8 63.8,70.7 68,70.5 72.2,70.4 76.4,70.3 80.5,70.1 84.7,69.8 88.9,69.5 93.1,69.2 97.3,69 101.4,68.8 105.6,68.6 109.8,68.4 114,68.2 118.2,68 122.3,67.8" fill="none" stroke="#5a9ccd" stroke-width="2"/><path d="M5.3,84 9.5,84 13.7,84 15.8,84 17.8,82.9 22,79.8 26.2,76.4 30.4,73 34.6,70.1 38.7,67.9 42.9,65.8 47.1,64.1 51.3,62.7 55.5,61.5 59.6,60.4 63.8,59.5 68,58.8 72.2,58.2 76.4,57.6 80.5,56.9 84.7,56.1 88.9,55.3 93.1,54.5 97.3,53.8 101.4,53.1 105.6,52.4 109.8,51.7 114,50.9 118.2,50.2 122.3,49.5 122.3,64.7 118.2,65 114,65.3 109.8,65.6 105.6,65.8 101.4,66.1 97.3,66.4 93.1,66.7 88.9,67 84.7,67.4 80.5,67.8 76.4,68.1 72.2,68.2 68,68.4 63.8,68.7 59.6,68.9 55.5,69.3 51.3,69.9 47.1,70.6 42.9,71.6 38.7,72.9 34.6,74.5 30.4,76.5 26.2,79.1 22,81.6 17.8,83.6 15.8,84 13.7,84 9.5,84 5.3,84Z" fill="#f4cca4" stroke="#c4aa90" stroke-width="1.4"/><path d="M5.3,84 9.5,84 13.7,84 15.8,84 17.8,83 22,80.1 26.2,76.9 30.4,73.7 34.6,71 38.7,68.9 42.9,67 47.1,65.4 51.3,64.1 55.5,63 59.6,62.1 63.8,61.3 68,60.8 72.2,60.3 76.4,59.8 80.5,59.2 84.7,58.5 88.9,57.8 93.1,57.1 97.3,56.4 101.4,55.8 105.6,55.2 109.8,54.6 114,54 118.2,53.4 122.3,52.8 122.3,61.2 118.2,61.5 114,61.9 109.8,62.3 105.6,62.6 101.4,63 97.3,63.4 93.1,63.8 88.9,64.2 84.7,64.7 80.5,65.2 76.4,65.5 72.2,65.8 68,66 63.8,66.4 59.6,66.8 55.5,67.3 51.3,68 47.1,68.9 42.9,70.1 38.7,71.7 34.6,73.4 30.4,75.6 26.2,78.4 22,81.1 17.8,83.5 15.8,84 13.7,84 9.5,84 5.3,84Z" fill="#d3e7ec"/></g><use href="#v5"/><use href="#h3"/><use href="#Mg"/><path clip-path="url(#c)" d="M5.3,84 7.4,84 9.5,84 11.6,84 13.7,84 15.8,84 17.8,83.2 19.9,81.9 22,80.6 24.1,79.1 26.2,77.6 28.3,76 30.4,74.6 32.5,73.2 34.6,72.1 36.6,71 38.7,70.1 40.8,69.2 42.9,68.4 45,67.6 47.1,66.9 49.2,66.4 51.3,65.8 53.4,65.4 55.5,64.9 57.5,64.5 59.6,64.2 61.7,63.8 63.8,63.6 65.9,63.3 68,63.1 70.1,62.9 72.2,62.7 74.3,62.6 76.4,62.4 78.4,62.2 80.5,61.9 82.6,61.6 84.7,61.3 86.8,61.1 88.9,60.8 91,60.5 93.1,60.2 95.2,59.9 97.3,59.7 99.3,59.5 101.4,59.2 103.5,59 105.6,58.8 107.7,58.5 109.8,58.3 111.9,58 114,57.8 116.1,57.6 118.2,57.3 120.2,57.1 122.3,56.8" fill="none" stroke="#000" stroke-width="8.2" stroke-linejoin="round" stroke-linecap="round"/><use href="#t"/><use href="#Fg"/></g>
<g transform="translate(1343.4,343.8)"><g clip-path="url(#c)"><path d="M5.3,84 9.5,84 13.7,84 17.8,80.1 22,76.5 26.2,73.9 30.4,71.6 34.6,69.3 38.7,66.7 42.9,64.1 47.1,61.7 51.3,59.8 55.5,57.9 59.6,56.4 63.8,55.2 68,54.4 72.2,53.7 76.4,53 80.5,52.4 84.7,51.7 88.9,51 93.1,50.3 97.3,49.4 101.4,48.4 105.6,47.4 109.8,46.5 114,45.6 118.2,44.7 122.3,43.9 122.3,69.2 118.2,69.4 114,69.7 109.8,70 105.6,70.3 101.4,70.7 97.3,71.1 93.1,71.4 88.9,71.5 84.7,71.6 80.5,71.7 76.4,71.7 72.2,71.8 68,71.9 63.8,72.1 59.6,72.1 55.5,72.5 51.3,73.2 47.1,73.9 42.9,75.1 38.7,76.4 34.6,77.7 30.4,78.6 26.2,79.5 22,80.5 17.8,82.5 13.7,84 9.5,84 5.3,84Z" fill="#93bcdc"/><path d="M5.3,84 9.5,84 13.7,84 17.8,80.1 22,76.5 26.2,73.9 30.4,71.6 34.6,69.3 38.7,66.7 42.9,64.1 47.1,61.7 51.3,59.8 55.5,57.9 59.6,56.4 63.8,55.2 68,54.4 72.2,53.7 76.4,53 80.5,52.4 84.7,51.7 88.9,51 93.1,50.3 97.3,49.4 101.4,48.4 105.6,47.4 109.8,46.5 114,45.6 118.2,44.7 122.3,43.9M5.3,84 9.5,84 13.7,84 17.8,82.5 22,80.5 26.2,79.5 30.4,78.6 34.6,77.7 38.7,76.4 42.9,75.1 47.1,73.9 51.3,73.2 55.5,72.5 59.6,72.1 63.8,72.1 68,71.9 72.2,71.8 76.4,71.7 80.5,71.7 84.7,71.6 88.9,71.5 93.1,71.4 97.3,71.1 101.4,70.7 105.6,70.3 109.8,70 114,69.7 118.2,69.4 122.3,69.2" fill="none" stroke="#5a9ccd" stroke-width="2"/><path d="M5.3,84 9.5,84 13.7,84 17.8,80.4 22,76.9 26.2,74.4 30.4,72.3 34.6,70.1 38.7,67.6 42.9,65.1 47.1,62.9 51.3,61 55.5,59.3 59.6,57.8 63.8,56.7 68,56 72.2,55.4 76.4,54.9 80.5,54.3 84.7,53.7 88.9,53.1 93.1,52.4 97.3,51.6 101.4,50.7 105.6,49.8 109.8,49 114,48.2 118.2,47.4 122.3,46.6 122.3,64.8 118.2,65.2 114,65.5 109.8,65.9 105.6,66.3 101.4,66.8 97.3,67.2 93.1,67.6 88.9,67.8 84.7,68 80.5,68.2 76.4,68.3 72.2,68.4 68,68.6 63.8,68.9 59.6,69.2 55.5,69.8 51.3,70.7 47.1,71.7 42.9,73 38.7,74.6 34.6,76.1 30.4,77.3 26.2,78.5 22,79.8 17.8,82 13.7,84 9.5,84 5.3,84Z" fill="#f4cca4" stroke="#c4aa90" stroke-width="1.4"/><path d="M5.3,84 9.5,84 13.7,84 17.8,80.6 22,77.3 26.2,75 30.4,73 34.6,71 38.7,68.7 42.9,66.3 47.1,64.2 51.3,62.4 55.5,60.9 59.6,59.5 63.8,58.5 68,57.9 72.2,57.4 76.4,57 80.5,56.5 84.7,56 88.9,55.5 93.1,54.9 97.3,54.2 101.4,53.4 105.6,52.6 109.8,51.9 114,51.2 118.2,50.5 122.3,49.8 122.3,59.8 118.2,60.3 114,60.7 109.8,61.2 105.6,61.7 101.4,62.3 97.3,62.8 93.1,63.3 88.9,63.6 84.7,63.9 80.5,64.1 76.4,64.4 72.2,64.6 68,64.8 63.8,65.2 59.6,65.8 55.5,66.7 51.3,67.8 47.1,69 42.9,70.7 38.7,72.5 34.6,74.3 30.4,75.8 26.2,77.3 22,78.9 17.8,81.5 13.7,84 9.5,84 5.3,84Z" fill="#d3e7ec"/></g><use href="#v6"/><use href="#h3"/><use href="#Mb"/><path clip-path="url(#c)" d="M5.3,84 7.4,84 9.5,84 11.6,84 13.7,84 15.8,83 17.8,80.9 19.9,79.1 22,77.8 24.1,76.8 26.2,75.8 28.3,74.8 30.4,73.9 32.5,73 34.6,72.1 36.6,71 38.7,69.9 40.8,68.8 42.9,67.8 45,66.7 47.1,65.8 49.2,65 51.3,64.2 53.4,63.5 55.5,62.8 57.5,62.2 59.6,61.6 61.7,61.1 63.8,60.8 65.9,60.5 68,60.3 70.1,60.1 72.2,59.9 74.3,59.7 76.4,59.5 78.4,59.4 80.5,59.2 82.6,59 84.7,58.8 86.8,58.6 88.9,58.4 91,58.2 93.1,58 95.2,57.7 97.3,57.4 99.3,57.1 101.4,56.7 103.5,56.4 105.6,56 107.7,55.7 109.8,55.4 111.9,55.1 114,54.8 116.1,54.5 118.2,54.2 120.2,53.9 122.3,53.7" fill="none" stroke="#000" stroke-width="8.2" stroke-linejoin="round" stroke-linecap="round"/><use href="#t"/><use href="#Fb"/></g>
<g transform="translate(1522.8,343.8)"><g clip-path="url(#c)"><path d="M5.3,84 9.5,84 13.7,84 15.8,84 17.8,81.9 22,77.5 26.2,74.6 30.4,72.1 34.6,69.7 38.7,67.1 42.9,64.6 47.1,62.2 51.3,60.2 55.5,58.3 59.6,56.6 63.8,55.2 68,54 72.2,53 76.4,52.1 80.5,51.1 84.7,50.1 88.9,49.1 93.1,48.3 97.3,47.6 101.4,47 105.6,46.4 109.8,45.8 114,45.2 118.2,44.5 122.3,43.9 122.3,66.4 118.2,66.6 114,66.9 109.8,67.1 105.6,67.3 101.4,67.5 97.3,67.7 93.1,68 88.9,68.4 84.7,69 80.5,69.6 76.4,70.2 72.2,70.7 68,71.3 63.8,72.1 59.6,72.3 55.5,72.8 51.3,73.5 47.1,74.2 42.9,75.3 38.7,76.5 34.6,77.6 30.4,78.6 26.2,79.6 22,80.8 17.8,83.3 15.8,84 13.7,84 9.5,84 5.3,84Z" fill="#93bcdc"/><path d="M5.3,84 9.5,84 13.7,84 15.8,84 17.8,81.9 22,77.5 26.2,74.6 30.4,72.1 34.6,69.7 38.7,67.1 42.9,64.6 47.1,62.2 51.3,60.2 55.5,58.3 59.6,56.6 63.8,55.2 68,54 72.2,53 76.4,52.1 80.5,51.1 84.7,50.1 88.9,49.1 93.1,48.3 97.3,47.6 101.4,47 105.6,46.4 109.8,45.8 114,45.2 118.2,44.5 122.3,43.9M5.3,84 9.5,84 13.7,84 15.8,84 17.8,83.3 22,80.8 26.2,79.6 30.4,78.6 34.6,77.6 38.7,76.5 42.9,75.3 47.1,74.2 51.3,73.5 55.5,72.8 59.6,72.3 63.8,72.1 68,71.3 72.2,70.7 76.4,70.2 80.5,69.6 84.7,69 88.9,68.4 93.1,68 97.3,67.7 101.4,67.5 105.6,67.3 109.8,67.1 114,66.9 118.2,66.6 122.3,66.4" fill="none" stroke="#5a9ccd" stroke-width="2"/><path d="M5.3,84 9.5,84 13.7,84 15.8,84 17.8,82 22,77.8 26.2,75 30.4,72.7 34.6,70.3 38.7,67.9 42.9,65.5 47.1,63.2 51.3,61.3 55.5,59.5 59.6,57.9 63.8,56.6 68,55.5 72.2,54.6 76.4,53.8 80.5,52.9 84.7,52 88.9,51.2 93.1,50.5 97.3,49.9 101.4,49.4 105.6,48.9 109.8,48.4 114,47.9 118.2,47.3 122.3,46.8 122.3,63 118.2,63.2 114,63.5 109.8,63.7 105.6,64 101.4,64.2 97.3,64.4 93.1,64.6 88.9,65.1 84.7,65.6 80.5,66.2 76.4,66.8 72.2,67.4 68,68 63.8,68.7 59.6,69.2 55.5,69.9 51.3,70.9 47.1,71.9 42.9,73.2 38.7,74.6 34.6,76.1 30.4,77.4 26.2,78.6 22,80.1 17.8,83 15.8,84 13.7,84 9.5,84 5.3,84Z" fill="#f4cca4" stroke="#c4aa90" stroke-width="1.4"/><path d="M5.3,84 9.5,84 13.7,84 15.8,84 17.8,82.2 22,78.1 26.2,75.5 30.4,73.3 34.6,71.1 38.7,68.8 42.9,66.5 47.1,64.4 51.3,62.6 55.5,60.9 59.6,59.4 63.8,58.2 68,57.3 72.2,56.5 76.4,55.8 80.5,55.1 84.7,54.3 88.9,53.5 93.1,53 97.3,52.5 101.4,52.1 105.6,51.8 109.8,51.4 114,51 118.2,50.6 122.3,50.1 122.3,59 118.2,59.3 114,59.6 109.8,59.8 105.6,60.1 101.4,60.3 97.3,60.5 93.1,60.7 88.9,61.2 84.7,61.8 80.5,62.4 76.4,63 72.2,63.5 68,64.1 63.8,64.9 59.6,65.6 55.5,66.6 51.3,67.8 47.1,69.2 42.9,70.7 38.7,72.5 34.6,74.3 30.4,75.9 26.2,77.5 22,79.4 17.8,82.7 15.8,84 13.7,84 9.5,84 5.3,84Z" fill="#d3e7ec"/></g><use href="#v7"/><use href="#h3"/><use href="#Mb"/><path clip-path="url(#c)" d="M5.3,84 7.4,84 9.5,84 11.6,84 13.7,84 15.8,84 17.8,82.3 19.9,79.9 22,78.5 24.1,77.2 26.2,76.1 28.3,75.1 30.4,74.1 32.5,73.1 34.6,72.1 36.6,71 38.7,69.9 40.8,68.8 42.9,67.8 45,66.8 47.1,65.8 49.2,65 51.3,64.2 53.4,63.4 55.5,62.6 57.5,61.9 59.6,61.3 61.7,60.7 63.8,60.2 65.9,59.8 68,59.4 70.1,59.1 72.2,58.8 74.3,58.5 76.4,58.3 78.4,58 80.5,57.7 82.6,57.3 84.7,57 86.8,56.7 88.9,56.4 91,56.2 93.1,56 95.2,55.8 97.3,55.7 99.3,55.6 101.4,55.5 103.5,55.4 105.6,55.3 107.7,55.2 109.8,55 111.9,54.9 114,54.8 116.1,54.6 118.2,54.5 120.2,54.4 122.3,54.2" fill="none" stroke="#000" stroke-width="8.2" stroke-linejoin="round" stroke-linecap="round"/><use href="#t"/><use href="#Fb"/></g>
<g transform="translate(1702.2,343.8)"><g clip-path="url(#c)"><path d="M5.3,84 9.5,84 11.6,84 13.7,82.8 17.8,79.1 22,75.9 26.2,72.9 30.4,70 34.6,67.5 38.7,65.1 42.9,63 47.1,61 51.3,59.1 55.5,57.2 59.6,55.4 63.8,53.8 68,52.5 72.2,51.4 76.4,50.3 80.5,49.3 84.7,48.3 88.9,47.4 93.1,46.5 97.3,45.5 101.4,44.4 105.6,43.4 109.8,42.4 114,41.6 118.2,40.7 122.3,39.9 122.3,63.4 118.2,63.5 114,63.6 109.8,63.8 105.6,64 101.4,64.4 97.3,64.8 93.1,65.1 88.9,65.4 84.7,65.6 80.5,65.9 76.4,66.2 72.2,66.6 68,67 63.8,67.6 59.6,68.3 55.5,69.2 51.3,70.1 47.1,71.1 42.9,72.2 38.7,73.3 34.6,74.6 30.4,76.1 26.2,77.9 22,79.7 17.8,81.7 13.7,83.9 11.6,84 9.5,84 5.3,84Z" fill="#93bcdc"/><path d="M5.3,84 9.5,84 11.6,84 13.7,82.8 17.8,79.1 22,75.9 26.2,72.9 30.4,70 34.6,67.5 38.7,65.1 42.9,63 47.1,61 51.3,59.1 55.5,57.2 59.6,55.4 63.8,53.8 68,52.5 72.2,51.4 76.4,50.3 80.5,49.3 84.7,48.3 88.9,47.4 93.1,46.5 97.3,45.5 101.4,44.4 105.6,43.4 109.8,42.4 114,41.6 118.2,40.7 122.3,39.9M5.3,84 9.5,84 11.6,84 13.7,83.9 17.8,81.7 22,79.7 26.2,77.9 30.4,76.1 34.6,74.6 38.7,73.3 42.9,72.2 47.1,71.1 51.3,70.1 55.5,69.2 59.6,68.3 63.8,67.6 68,67 72.2,66.6 76.4,66.2 80.5,65.9 84.7,65.6 88.9,65.4 93.1,65.1 97.3,64.8 101.4,64.4 105.6,64 109.8,63.8 114,63.6 118.2,63.5 122.3,63.4" fill="none" stroke="#5a9ccd" stroke-width="2"/><path d="M5.3,84 9.5,84 11.6,84 13.7,83 17.8,79.6 22,76.5 26.2,73.7 30.4,71.1 34.6,68.7 38.7,66.6 42.9,64.6 47.1,62.7 51.3,61 55.5,59.3 59.6,57.6 63.8,56.1 68,55 72.2,53.9 76.4,52.9 80.5,51.9 84.7,51 88.9,50.2 93.1,49.3 97.3,48.3 101.4,47.3 105.6,46.4 109.8,45.5 114,44.7 118.2,43.9 122.3,43.2 122.3,60.1 118.2,60.3 114,60.6 109.8,60.9 105.6,61.3 101.4,61.7 97.3,62.2 93.1,62.7 88.9,63.1 84.7,63.5 80.5,63.8 76.4,64.3 72.2,64.8 68,65.4 63.8,66.1 59.6,66.9 55.5,67.9 51.3,68.9 47.1,70 42.9,71.2 38.7,72.5 34.6,73.9 30.4,75.5 26.2,77.3 22,79.3 17.8,81.4 13.7,83.8 11.6,84 9.5,84 5.3,84Z" fill="#f4cca4" stroke="#c4aa90" stroke-width="1.4"/><path d="M5.3,84 9.5,84 11.6,84 13.7,83.2 17.8,80.1 22,77.3 26.2,74.7 30.4,72.3 34.6,70.1 38.7,68.2 42.9,66.4 47.1,64.8 51.3,63.2 55.5,61.6 59.6,60.2 63.8,58.9 68,57.8 72.2,56.8 76.4,55.9 80.5,55 84.7,54.2 88.9,53.4 93.1,52.6 97.3,51.7 101.4,50.8 105.6,49.9 109.8,49.1 114,48.3 118.2,47.6 122.3,47 122.3,56.3 118.2,56.6 114,57.1 109.8,57.5 105.6,58.1 101.4,58.7 97.3,59.3 93.1,59.9 88.9,60.5 84.7,61 80.5,61.5 76.4,62.1 72.2,62.8 68,63.5 63.8,64.4 59.6,65.3 55.5,66.4 51.3,67.6 47.1,68.8 42.9,70.1 38.7,71.4 34.6,73 30.4,74.7 26.2,76.7 22,78.8 17.8,81.1 13.7,83.6 11.6,84 9.5,84 5.3,84Z" fill="#d3e7ec"/></g><use href="#v8"/><use href="#h3"/><use href="#Mb"/><path clip-path="url(#c)" d="M5.3,84 7.4,84 9.5,84 11.6,84 13.7,83.5 15.8,82.2 17.8,80.7 19.9,79.3 22,78.2 24.1,77.1 26.2,76 28.3,74.9 30.4,73.8 32.5,72.8 34.6,71.9 36.6,71 38.7,70.2 40.8,69.4 42.9,68.7 45,67.9 47.1,67.2 49.2,66.5 51.3,65.9 53.4,65.2 55.5,64.6 57.5,64 59.6,63.4 61.7,62.8 63.8,62.3 65.9,61.7 68,61.3 70.1,60.8 72.2,60.3 74.3,59.9 76.4,59.5 78.4,59.1 80.5,58.7 82.6,58.3 84.7,58 86.8,57.6 88.9,57.3 91,56.9 93.1,56.6 95.2,56.2 97.3,55.8 99.3,55.3 101.4,54.9 103.5,54.5 105.6,54.1 107.7,53.8 109.8,53.4 111.9,53.1 114,52.8 116.1,52.5 118.2,52.2 120.2,51.9 122.3,51.6" fill="none" stroke="#000" stroke-width="8.2" stroke-linejoin="round" stroke-linecap="round"/><use href="#t"/><use href="#Fb"/></g>
<g transform="translate(1881.6,343.8)"><g clip-path="url(#c)"><path d="M5.3,84 9.5,84 13.7,84 17.8,80.8 22,77.3 26.2,74 30.4,70.8 34.6,68.2 38.7,66.1 42.9,64.3 47.1,62.7 51.3,61.1 55.5,59.7 59.6,58.3 63.8,56.9 68,55.6 72.2,54.3 76.4,53 80.5,51.9 84.7,50.9 88.9,49.9 93.1,49 97.3,47.9 101.4,46.9 105.6,45.9 109.8,45.1 114,44.4 118.2,43.7 122.3,43.1 122.3,66.5 118.2,66.3 114,66.1 109.8,66 105.6,66 101.4,66.1 97.3,66.3 93.1,66.5 88.9,66.7 84.7,66.8 80.5,67 76.4,67.3 72.2,67.7 68,68.2 63.8,68.7 59.6,69.3 55.5,69.9 51.3,70.5 47.1,71.2 42.9,72 38.7,72.9 34.6,74 30.4,75.7 26.2,77.8 22,80.1 17.8,82.4 13.7,84 9.5,84 5.3,84Z" fill="#93bcdc"/><path d="M5.3,84 9.5,84 13.7,84 17.8,80.8 22,77.3 26.2,74 30.4,70.8 34.6,68.2 38.7,66.1 42.9,64.3 47.1,62.7 51.3,61.1 55.5,59.7 59.6,58.3 63.8,56.9 68,55.6 72.2,54.3 76.4,53 80.5,51.9 84.7,50.9 88.9,49.9 93.1,49 97.3,47.9 101.4,46.9 105.6,45.9 109.8,45.1 114,44.4 118.2,43.7 122.3,43.1M5.3,84 9.5,84 13.7,84 17.8,82.4 22,80.1 26.2,77.8 30.4,75.7 34.6,74 38.7,72.9 42.9,72 47.1,71.2 51.3,70.5 55.5,69.9 59.6,69.3 63.8,68.7 68,68.2 72.2,67.7 76.4,67.3 80.5,67 84.7,66.8 88.9,66.7 93.1,66.5 97.3,66.3 101.4,66.1 105.6,66 109.8,66 114,66.1 118.2,66.3 122.3,66.5" fill="none" stroke="#5a9ccd" stroke-width="2"/><path d="M5.3,84 9.5,84 13.7,84 17.8,81.1 22,77.8 26.2,74.7 30.4,71.7 34.6,69.2 38.7,67.3 42.9,65.7 47.1,64.2 51.3,62.8 55.5,61.5 59.6,60.3 63.8,59 68,57.8 72.2,56.6 76.4,55.4 80.5,54.4 84.7,53.5 88.9,52.7 93.1,51.8 97.3,50.9 101.4,49.9 105.6,49 109.8,48.4 114,47.7 118.2,47.2 122.3,46.7 122.3,63.6 118.2,63.4 114,63.4 109.8,63.4 105.6,63.5 101.4,63.8 97.3,64.1 93.1,64.5 88.9,64.7 84.7,65 80.5,65.3 76.4,65.7 72.2,66.2 68,66.9 63.8,67.5 59.6,68.2 55.5,68.8 51.3,69.5 47.1,70.3 42.9,71.2 38.7,72.2 34.6,73.4 30.4,75.2 26.2,77.4 22,79.8 17.8,82.3 13.7,84 9.5,84 5.3,84Z" fill="#f4cca4" stroke="#c4aa90" stroke-width="1.4"/><path d="M5.3,84 9.5,84 13.7,84 17.8,81.4 22,78.4 26.2,75.5 30.4,72.7 34.6,70.4 38.7,68.7 42.9,67.3 47.1,66 51.3,64.7 55.5,63.6 59.6,62.5 63.8,61.4 68,60.4 72.2,59.2 76.4,58.2 80.5,57.3 84.7,56.5 88.9,55.8 93.1,55.1 97.3,54.3 101.4,53.4 105.6,52.7 109.8,52.1 114,51.6 118.2,51.2 122.3,50.8 122.3,60.1 118.2,60.1 114,60.2 109.8,60.4 105.6,60.7 101.4,61.1 97.3,61.6 93.1,62 88.9,62.4 84.7,62.8 80.5,63.3 76.4,63.9 72.2,64.6 68,65.3 63.8,66.1 59.6,66.9 55.5,67.6 51.3,68.4 47.1,69.3 42.9,70.3 38.7,71.4 34.6,72.7 30.4,74.6 26.2,77 22,79.5 17.8,82.1 13.7,84 9.5,84 5.3,84Z" fill="#d3e7ec"/></g><use href="#v9"/><use href="#h3"/><use href="#Mb"/><path clip-path="url(#c)" d="M5.3,84 7.4,84 9.5,84 11.6,84 13.7,84 15.8,83.3 17.8,81.8 19.9,80.4 22,79.1 24.1,77.8 26.2,76.4 28.3,75.1 30.4,73.9 32.5,72.8 34.6,71.9 36.6,71.1 38.7,70.4 40.8,69.8 42.9,69.2 45,68.6 47.1,68.1 49.2,67.6 51.3,67.1 53.4,66.6 55.5,66.1 57.5,65.7 59.6,65.3 61.7,64.8 63.8,64.4 65.9,63.9 68,63.5 70.1,63 72.2,62.5 74.3,62 76.4,61.6 78.4,61.2 80.5,60.9 82.6,60.6 84.7,60.2 86.8,60 88.9,59.7 91,59.4 93.1,59.1 95.2,58.8 97.3,58.4 99.3,58.1 101.4,57.7 103.5,57.4 105.6,57.2 107.7,56.9 109.8,56.7 111.9,56.6 114,56.4 116.1,56.2 118.2,56.1 120.2,56 122.3,55.9" fill="none" stroke="#000" stroke-width="8.2" stroke-linejoin="round" stroke-linecap="round"/><use href="#t"/><use href="#Fb"/></g>
<g transform="translate(2061,343.8)"><g clip-path="url(#c)"><path d="M5.3,84 9.5,84 13.7,84 17.8,81.2 22,78.1 26.2,75.4 30.4,72.9 34.6,70.5 38.7,68.2 42.9,66 47.1,63.9 51.3,62 55.5,60.1 59.6,58.3 63.8,56.9 68,55.8 72.2,54.9 76.4,54 80.5,53.2 84.7,52.4 88.9,51.6 93.1,50.9 97.3,50.1 101.4,49.3 105.6,48.6 109.8,47.8 114,46.9 118.2,46.1 122.3,45.3 122.3,68.7 118.2,68.9 114,69.2 109.8,69.4 105.6,69.6 101.4,69.7 97.3,69.9 93.1,70 88.9,70.2 84.7,70.3 80.5,70.5 76.4,70.8 72.2,71 68,71.4 63.8,71.9 59.6,72.3 55.5,73 51.3,73.8 47.1,74.7 42.9,75.7 38.7,76.8 34.6,77.9 30.4,79.1 26.2,80.4 22,81.7 17.8,83.2 13.7,84 9.5,84 5.3,84Z" fill="#93bcdc"/><path d="M5.3,84 9.5,84 13.7,84 17.8,81.2 22,78.1 26.2,75.4 30.4,72.9 34.6,70.5 38.7,68.2 42.9,66 47.1,63.9 51.3,62 55.5,60.1 59.6,58.3 63.8,56.9 68,55.8 72.2,54.9 76.4,54 80.5,53.2 84.7,52.4 88.9,51.6 93.1,50.9 97.3,50.1 101.4,49.3 105.6,48.6 109.8,47.8 114,46.9 118.2,46.1 122.3,45.3M5.3,84 9.5,84 13.7,84 17.8,83.2 22,81.7 26.2,80.4 30.4,79.1 34.6,77.9 38.7,76.8 42.9,75.7 47.1,74.7 51.3,73.8 55.5,73 59.6,72.3 63.8,71.9 68,71.4 72.2,71 76.4,70.8 80.5,70.5 84.7,70.3 88.9,70.2 93.1,70 97.3,69.9 101.4,69.7 105.6,69.6 109.8,69.4 114,69.2 118.2,68.9 122.3,68.7" fill="none" stroke="#5a9ccd" stroke-width="2"/><path d="M5.3,84 9.5,84 13.7,84 17.8,81.3 22,78.4 26.2,75.9 30.4,73.5 34.6,71.2 38.7,69 42.9,66.9 47.1,64.9 51.3,63 55.5,61.2 59.6,59.6 63.8,58.3 68,57.3 72.2,56.4 76.4,55.6 80.5,54.9 84.7,54.2 88.9,53.5 93.1,52.9 97.3,52.2 101.4,51.5 105.6,50.9 109.8,50.2 114,49.4 118.2,48.7 122.3,48 122.3,64.8 118.2,65.1 114,65.4 109.8,65.7 105.6,66 101.4,66.2 97.3,66.5 93.1,66.7 88.9,66.9 84.7,67.1 80.5,67.4 76.4,67.7 72.2,68 68,68.4 63.8,69 59.6,69.6 55.5,70.5 51.3,71.6 47.1,72.7 42.9,73.9 38.7,75.2 34.6,76.5 30.4,77.9 26.2,79.4 22,81 17.8,82.8 13.7,84 9.5,84 5.3,84Z" fill="#f4cca4" stroke="#c4aa90" stroke-width="1.4"/><path d="M5.3,84 9.5,84 13.7,84 17.8,81.6 22,78.8 26.2,76.4 30.4,74.1 34.6,72 38.7,69.9 42.9,67.9 47.1,66 51.3,64.3 55.5,62.6 59.6,61 63.8,59.8 68,58.9 72.2,58.2 76.4,57.5 80.5,56.9 84.7,56.3 88.9,55.8 93.1,55.2 97.3,54.6 101.4,54.1 105.6,53.5 109.8,52.9 114,52.3 118.2,51.7 122.3,51.1 122.3,60.4 118.2,60.7 114,61.1 109.8,61.5 105.6,61.8 101.4,62.2 97.3,62.5 93.1,62.8 88.9,63.1 84.7,63.4 80.5,63.7 76.4,64.1 72.2,64.6 68,65.1 63.8,65.7 59.6,66.5 55.5,67.7 51.3,69 47.1,70.3 42.9,71.7 38.7,73.3 34.6,74.9 30.4,76.6 26.2,78.3 22,80.2 17.8,82.4 13.7,84 9.5,84 5.3,84Z" fill="#d3e7ec"/></g><use href="#v10"/><use href="#h3"/><use href="#Mb"/><path clip-path="url(#c)" d="M5.3,84 7.4,84 9.5,84 11.6,84 13.7,84 15.8,83.3 17.8,81.8 19.9,80.4 22,79.2 24.1,78.1 26.2,77 28.3,76 30.4,74.9 32.5,73.9 34.6,72.9 36.6,71.9 38.7,71 40.8,70 42.9,69.1 45,68.2 47.1,67.4 49.2,66.5 51.3,65.8 53.4,65 55.5,64.2 57.5,63.4 59.6,62.8 61.7,62.2 63.8,61.7 65.9,61.3 68,60.9 70.1,60.6 72.2,60.3 74.3,60.1 76.4,59.8 78.4,59.5 80.5,59.3 82.6,59.1 84.7,58.9 86.8,58.7 88.9,58.5 91,58.3 93.1,58.1 95.2,57.8 97.3,57.6 99.3,57.4 101.4,57.2 103.5,57 105.6,56.8 107.7,56.6 109.8,56.3 111.9,56.1 114,55.9 116.1,55.6 118.2,55.4 120.2,55.1 122.3,54.9" fill="none" stroke="#000" stroke-width="8.2" stroke-linejoin="round" stroke-linecap="round"/><use href="#t"/><use href="#Fb"/></g>
<g transform="translate(267.1,461.8)"><g clip-path="url(#c)"><path d="M5.3,84 9.5,84 13.7,84 17.8,77.5 22,71.9 26.2,68 30.4,64.7 34.6,61.9 38.7,59.4 42.9,57.1 47.1,55.2 51.3,53.9 55.5,52.8 59.6,51.8 63.8,50.8 68,50.3 72.2,49.9 76.4,49.4 80.5,48.8 84.7,48.2 88.9,47.5 93.1,46.9 97.3,46.1 101.4,45.3 105.6,44.6 109.8,43.9 114,43.3 118.2,42.8 122.3,42.3 122.3,67.9 118.2,67.9 114,68.1 109.8,68.3 105.6,68.5 101.4,68.9 97.3,69.2 93.1,69.6 88.9,69.9 84.7,70.1 80.5,70.3 76.4,70.5 72.2,70.6 68,70.6 63.8,70.7 59.6,70.3 55.5,70 51.3,69.7 47.1,69.6 42.9,70 38.7,70.8 34.6,71.8 30.4,73 26.2,74.5 22,76.6 17.8,80.2 13.7,84 9.5,84 5.3,84Z" fill="#93bcdc"/><path d="M5.3,84 9.5,84 13.7,84 17.8,77.5 22,71.9 26.2,68 30.4,64.7 34.6,61.9 38.7,59.4 42.9,57.1 47.1,55.2 51.3,53.9 55.5,52.8 59.6,51.8 63.8,50.8 68,50.3 72.2,49.9 76.4,49.4 80.5,48.8 84.7,48.2 88.9,47.5 93.1,46.9 97.3,46.1 101.4,45.3 105.6,44.6 109.8,43.9 114,43.3 118.2,42.8 122.3,42.3M5.3,84 9.5,84 13.7,84 17.8,80.2 22,76.6 26.2,74.5 30.4,73 34.6,71.8 38.7,70.8 42.9,70 47.1,69.6 51.3,69.7 55.5,70 59.6,70.3 63.8,70.7 68,70.6 72.2,70.6 76.4,70.5 80.5,70.3 84.7,70.1 88.9,69.9 93.1,69.6 97.3,69.2 101.4,68.9 105.6,68.5 109.8,68.3 114,68.1 118.2,67.9 122.3,67.9" fill="none" stroke="#5a9ccd" stroke-width="2"/><path d="M5.3,84 9.5,84 13.7,84 17.8,77.9 22,72.7 26.2,69.1 30.4,66.1 34.6,63.6 38.7,61.3 42.9,59.3 47.1,57.6 51.3,56.5 55.5,55.7 59.6,54.9 63.8,54.1 68,53.7 72.2,53.3 76.4,52.8 80.5,52.3 84.7,51.8 88.9,51.2 93.1,50.5 97.3,49.8 101.4,49.1 105.6,48.4 109.8,47.8 114,47.2 118.2,46.7 122.3,46.3 122.3,64.7 118.2,64.8 114,65 109.8,65.3 105.6,65.6 101.4,66 97.3,66.5 93.1,66.9 88.9,67.2 84.7,67.5 80.5,67.8 76.4,68 72.2,68.2 68,68.3 63.8,68.4 59.6,68.3 55.5,68.1 51.3,67.9 47.1,68 42.9,68.6 38.7,69.5 34.6,70.7 30.4,72 26.2,73.8 22,76.1 17.8,79.9 13.7,84 9.5,84 5.3,84Z" fill="#f4cca4" stroke="#c4aa90" stroke-width="1.4"/><path d="M5.3,84 9.5,84 13.7,84 17.8,78.5 22,73.6 26.2,70.4 30.4,67.7 34.6,65.5 38.7,63.5 42.9,61.8 47.1,60.4 51.3,59.6 55.5,59 59.6,58.5 63.8,58 68,57.6 72.2,57.3 76.4,56.9 80.5,56.4 84.7,55.9 88.9,55.3 93.1,54.7 97.3,54.1 101.4,53.4 105.6,52.8 109.8,52.2 114,51.7 118.2,51.2 122.3,50.8 122.3,61 118.2,61.2 114,61.5 109.8,61.8 105.6,62.2 101.4,62.7 97.3,63.3 93.1,63.7 88.9,64.2 84.7,64.6 80.5,64.9 76.4,65.2 72.2,65.5 68,65.7 63.8,65.9 59.6,65.9 55.5,65.8 51.3,65.9 47.1,66.1 42.9,66.9 38.7,68.1 34.6,69.4 30.4,71 26.2,72.9 22,75.5 17.8,79.5 13.7,84 9.5,84 5.3,84Z" fill="#d3e7ec"/></g><use href="#v0"/><use href="#h3"/><use href="#Mg"/><path clip-path="url(#c)" d="M5.3,84 7.4,84 9.5,84 11.6,84 13.7,84 15.8,82.4 17.8,79.1 19.9,76.3 22,74.7 24.1,73.2 26.2,71.9 28.3,70.7 30.4,69.7 32.5,68.7 34.6,67.9 36.6,67 38.7,66.3 40.8,65.5 42.9,64.8 45,64.3 47.1,63.8 49.2,63.6 51.3,63.4 53.4,63.2 55.5,63.1 57.5,63 59.6,62.9 61.7,62.8 63.8,62.7 65.9,62.6 68,62.4 70.1,62.3 72.2,62.1 74.3,62 76.4,61.8 78.4,61.6 80.5,61.4 82.6,61.2 84.7,60.9 86.8,60.7 88.9,60.4 91,60.2 93.1,59.9 95.2,59.6 97.3,59.3 99.3,59 101.4,58.7 103.5,58.4 105.6,58.1 107.7,57.9 109.8,57.6 111.9,57.4 114,57.2 116.1,57 118.2,56.8 120.2,56.6 122.3,56.5" fill="none" stroke="#000" stroke-width="8.2" stroke-linejoin="round" stroke-linecap="round"/><use href="#t"/><use href="#Fg"/></g>
<g transform="translate(446.5,461.8)"><g clip-path="url(#c)"><path d="M5.3,84 9.5,84 11.6,84 13.7,82.8 17.8,79.6 22,76.6 26.2,73.6 30.4,70.6 34.6,67.6 38.7,64.7 42.9,61.7 47.1,58.9 51.3,56.6 55.5,54.4 59.6,52.4 63.8,50.8 68,49.8 72.2,49 76.4,48.3 80.5,47.5 84.7,46.8 88.9,46.2 93.1,45.5 97.3,44.8 101.4,44.2 105.6,43.5 109.8,42.9 114,42.2 118.2,41.5 122.3,40.9 122.3,73.5 118.2,73.7 114,73.9 109.8,74 105.6,74.2 101.4,74.3 97.3,74.5 93.1,74.6 88.9,74.8 84.7,74.9 80.5,75.1 76.4,75.4 72.2,75.6 68,75.9 63.8,76.3 59.6,76.4 55.5,76.6 51.3,77.1 47.1,77.7 42.9,78.7 38.7,79.8 34.6,80.9 30.4,81.9 26.2,82.8 22,83.6 17.8,84 13.7,84 11.6,84 9.5,84 5.3,84Z" fill="#93bcdc"/><path d="M5.3,84 9.5,84 11.6,84 13.7,82.8 17.8,79.6 22,76.6 26.2,73.6 30.4,70.6 34.6,67.6 38.7,64.7 42.9,61.7 47.1,58.9 51.3,56.6 55.5,54.4 59.6,52.4 63.8,50.8 68,49.8 72.2,49 76.4,48.3 80.5,47.5 84.7,46.8 88.9,46.2 93.1,45.5 97.3,44.8 101.4,44.2 105.6,43.5 109.8,42.9 114,42.2 118.2,41.5 122.3,40.9M5.3,84 9.5,84 11.6,84 13.7,84 17.8,84 22,83.6 26.2,82.8 30.4,81.9 34.6,80.9 38.7,79.8 42.9,78.7 47.1,77.7 51.3,77.1 55.5,76.6 59.6,76.4 63.8,76.3 68,75.9 72.2,75.6 76.4,75.4 80.5,75.1 84.7,74.9 88.9,74.8 93.1,74.6 97.3,74.5 101.4,74.3 105.6,74.2 109.8,74 114,73.9 118.2,73.7 122.3,73.5" fill="none" stroke="#5a9ccd" stroke-width="2"/><path d="M5.3,84 9.5,84 11.6,84 13.7,83 17.8,80.2 22,77.4 26.2,74.7 30.4,72 34.6,69.3 38.7,66.6 42.9,63.8 47.1,61.3 51.3,59.1 55.5,57.2 59.6,55.4 63.8,54 68,53.1 72.2,52.4 76.4,51.7 80.5,51 84.7,50.4 88.9,49.8 93.1,49.2 97.3,48.6 101.4,48 105.6,47.4 109.8,46.8 114,46.3 118.2,45.7 122.3,45.1 122.3,68.6 118.2,68.8 114,69.1 109.8,69.3 105.6,69.5 101.4,69.7 97.3,69.9 93.1,70.2 88.9,70.4 84.7,70.6 80.5,70.9 76.4,71.2 72.2,71.5 68,71.9 63.8,72.4 59.6,72.6 55.5,73.2 51.3,73.9 47.1,74.8 42.9,76 38.7,77.5 34.6,78.8 30.4,80.1 26.2,81.4 22,82.5 17.8,83.3 13.7,83.9 11.6,84 9.5,84 5.3,84Z" fill="#f4cca4" stroke="#c4aa90" stroke-width="1.4"/><path d="M5.3,84 9.5,84 11.6,84 13.7,83.3 17.8,80.9 22,78.5 26.2,76.1 30.4,73.6 34.6,71.2 38.7,68.7 42.9,66.3 47.1,64 51.3,62.1 55.5,60.4 59.6,58.9 63.8,57.7 68,56.9 72.2,56.2 76.4,55.6 80.5,55 84.7,54.5 88.9,54 93.1,53.5 97.3,53 101.4,52.5 105.6,52 109.8,51.5 114,51 118.2,50.5 122.3,50 122.3,62.9 118.2,63.2 114,63.5 109.8,63.8 105.6,64.1 101.4,64.4 97.3,64.7 93.1,65 88.9,65.3 84.7,65.6 80.5,66 76.4,66.4 72.2,66.7 68,67.2 63.8,67.8 59.6,68.3 55.5,69.2 51.3,70.2 47.1,71.4 42.9,73 38.7,74.7 34.6,76.5 30.4,78.1 26.2,79.7 22,81.3 17.8,82.6 13.7,83.8 11.6,84 9.5,84 5.3,84Z" fill="#d3e7ec"/></g><use href="#v1"/><use href="#h3"/><use href="#Mb"/><path clip-path="url(#c)" d="M5.3,84 7.4,84 9.5,84 11.6,84 13.7,83.6 15.8,82.8 17.8,81.7 19.9,80.6 22,79.7 24.1,78.7 26.2,77.7 28.3,76.7 30.4,75.6 32.5,74.6 34.6,73.5 36.6,72.5 38.7,71.4 40.8,70.3 42.9,69.2 45,68.2 47.1,67.3 49.2,66.5 51.3,65.7 53.4,65 55.5,64.3 57.5,63.7 59.6,63.1 61.7,62.6 63.8,62.2 65.9,61.8 68,61.5 70.1,61.2 72.2,60.9 74.3,60.7 76.4,60.4 78.4,60.2 80.5,60 82.6,59.7 84.7,59.5 86.8,59.3 88.9,59.1 91,58.9 93.1,58.7 95.2,58.5 97.3,58.3 99.3,58.1 101.4,57.9 103.5,57.7 105.6,57.5 107.7,57.3 109.8,57.1 111.9,56.9 114,56.7 116.1,56.5 118.2,56.3 120.2,56.1 122.3,55.9" fill="none" stroke="#000" stroke-width="8.2" stroke-linejoin="round" stroke-linecap="round"/><use href="#t"/><use href="#Fb"/></g>
<g transform="translate(625.9,461.8)"><g clip-path="url(#c)"><path d="M5.3,84 9.5,84 13.7,84 17.8,80.9 22,77.3 26.2,73.5 30.4,69.7 34.6,66.4 38.7,63.9 42.9,61.7 47.1,59.6 51.3,57.4 55.5,55.1 59.6,52.8 63.8,50.8 68,49.2 72.2,47.6 76.4,46.3 80.5,45.2 84.7,44.4 88.9,43.6 93.1,42.9 97.3,42.4 101.4,41.9 105.6,41.5 109.8,41 114,40.5 118.2,40 122.3,39.5 122.3,70.7 118.2,70.6 114,70.5 109.8,70.4 105.6,70.3 101.4,70.1 97.3,70 93.1,69.9 88.9,70 84.7,70.1 80.5,70.4 76.4,70.9 72.2,71.6 68,72.5 63.8,73.5 59.6,74.1 55.5,74.8 51.3,75.5 47.1,76.1 42.9,76.5 38.7,77 34.6,77.7 30.4,79.1 26.2,81 22,82.7 17.8,84 13.7,84 9.5,84 5.3,84Z" fill="#93bcdc"/><path d="M5.3,84 9.5,84 13.7,84 17.8,80.9 22,77.3 26.2,73.5 30.4,69.7 34.6,66.4 38.7,63.9 42.9,61.7 47.1,59.6 51.3,57.4 55.5,55.1 59.6,52.8 63.8,50.8 68,49.2 72.2,47.6 76.4,46.3 80.5,45.2 84.7,44.4 88.9,43.6 93.1,42.9 97.3,42.4 101.4,41.9 105.6,41.5 109.8,41 114,40.5 118.2,40 122.3,39.5M5.3,84 9.5,84 13.7,84 17.8,84 22,82.7 26.2,81 30.4,79.1 34.6,77.7 38.7,77 42.9,76.5 47.1,76.1 51.3,75.5 55.5,74.8 59.6,74.1 63.8,73.5 68,72.5 72.2,71.6 76.4,70.9 80.5,70.4 84.7,70.1 88.9,70 93.1,69.9 97.3,70 101.4,70.1 105.6,70.3 109.8,70.4 114,70.5 118.2,70.6 122.3,70.7" fill="none" stroke="#5a9ccd" stroke-width="2"/><path d="M5.3,84 9.5,84 13.7,84 17.8,81.2 22,77.8 26.2,74.2 30.4,70.6 34.6,67.6 38.7,65.3 42.9,63.3 47.1,61.3 51.3,59.3 55.5,57.1 59.6,55.1 63.8,53.2 68,51.6 72.2,50.1 76.4,48.9 80.5,47.9 84.7,47.1 88.9,46.4 93.1,45.8 97.3,45.3 101.4,44.9 105.6,44.5 109.8,44.1 114,43.7 118.2,43.2 122.3,42.8 122.3,65.2 118.2,65.3 114,65.3 109.8,65.3 105.6,65.3 101.4,65.2 97.3,65.2 93.1,65.2 88.9,65.3 84.7,65.6 80.5,66 76.4,66.6 72.2,67.4 68,68.4 63.8,69.5 59.6,70.4 55.5,71.3 51.3,72.3 47.1,73.2 42.9,73.9 38.7,74.7 34.6,75.8 30.4,77.5 26.2,79.7 22,81.8 17.8,83.5 13.7,84 9.5,84 5.3,84Z" fill="#f4cca4" stroke="#c4aa90" stroke-width="1.4"/><path d="M5.3,84 9.5,84 13.7,84 17.8,81.6 22,78.5 26.2,75.2 30.4,71.8 34.6,69 38.7,66.9 42.9,65.1 47.1,63.3 51.3,61.5 55.5,59.5 59.6,57.6 63.8,55.9 68,54.4 72.2,53 76.4,51.8 80.5,51 84.7,50.2 88.9,49.6 93.1,49.1 97.3,48.7 101.4,48.4 105.6,48.1 109.8,47.7 114,47.4 118.2,47 122.3,46.6 122.3,59 118.2,59.1 114,59.2 109.8,59.4 105.6,59.5 101.4,59.5 97.3,59.6 93.1,59.8 88.9,60 84.7,60.4 80.5,60.9 76.4,61.6 72.2,62.5 68,63.7 63.8,64.9 59.6,66 55.5,67.3 51.3,68.6 47.1,69.8 42.9,70.9 38.7,72 34.6,73.5 30.4,75.5 26.2,78.1 22,80.7 17.8,82.8 13.7,84 9.5,84 5.3,84Z" fill="#d3e7ec"/></g><use href="#v2"/><use href="#h3"/><use href="#Mb"/><path clip-path="url(#c)" d="M5.3,84 7.4,84 9.5,84 11.6,84 13.7,84 15.8,83.4 17.8,82.1 19.9,80.6 22,79.3 24.1,77.8 26.2,76.3 28.3,74.7 30.4,73.2 32.5,71.8 34.6,70.7 36.6,69.7 38.7,68.8 40.8,68 42.9,67.2 45,66.5 47.1,65.7 49.2,65 51.3,64.1 53.4,63.3 55.5,62.4 57.5,61.6 59.6,60.8 61.7,60 63.8,59.3 65.9,58.6 68,57.9 70.1,57.2 72.2,56.6 74.3,56 76.4,55.5 78.4,55.1 80.5,54.7 82.6,54.4 84.7,54 86.8,53.8 88.9,53.5 91,53.3 93.1,53.1 95.2,53 97.3,52.8 99.3,52.7 101.4,52.6 103.5,52.5 105.6,52.4 107.7,52.3 109.8,52.1 111.9,52 114,51.9 116.1,51.7 118.2,51.6 120.2,51.5 122.3,51.3" fill="none" stroke="#000" stroke-width="8.2" stroke-linejoin="round" stroke-linecap="round"/><use href="#t"/><use href="#Fb"/></g>
<g transform="translate(805.3,461.8)"><g clip-path="url(#c)"><path d="M5.3,84 9.5,84 13.7,84 17.8,80.1 22,76 26.2,72.2 30.4,68.4 34.6,65 38.7,62.1 42.9,59.4 47.1,56.9 51.3,54.5 55.5,52.1 59.6,49.9 63.8,48 68,47.1 72.2,46.5 76.4,45.8 80.5,44.9 84.7,44 88.9,43 93.1,42.1 97.3,41.4 101.4,40.7 105.6,40.1 109.8,39.6 114,39 118.2,38.5 122.3,38.1 122.3,65 118.2,65 114,65.1 109.8,65.2 105.6,65.4 101.4,65.6 97.3,65.9 93.1,66.2 88.9,66.7 84.7,67.3 80.5,67.8 76.4,68.3 72.2,68.5 68,68.8 63.8,69.3 59.6,69.8 55.5,70.5 51.3,71.4 47.1,72.3 42.9,73.2 38.7,74.3 34.6,75.6 30.4,77.2 26.2,79.2 22,81.1 17.8,83 13.7,84 9.5,84 5.3,84Z" fill="#93bcdc"/><path d="M5.3,84 9.5,84 13.7,84 17.8,80.1 22,76 26.2,72.2 30.4,68.4 34.6,65 38.7,62.1 42.9,59.4 47.1,56.9 51.3,54.5 55.5,52.1 59.6,49.9 63.8,48 68,47.1 72.2,46.5 76.4,45.8 80.5,44.9 84.7,44 88.9,43 93.1,42.1 97.3,41.4 101.4,40.7 105.6,40.1 109.8,39.6 114,39 118.2,38.5 122.3,38.1M5.3,84 9.5,84 13.7,84 17.8,83 22,81.1 26.2,79.2 30.4,77.2 34.6,75.6 38.7,74.3 42.9,73.2 47.1,72.3 51.3,71.4 55.5,70.5 59.6,69.8 63.8,69.3 68,68.8 72.2,68.5 76.4,68.3 80.5,67.8 84.7,67.3 88.9,66.7 93.1,66.2 97.3,65.9 101.4,65.6 105.6,65.4 109.8,65.2 114,65.1 118.2,65 122.3,65" fill="none" stroke="#5a9ccd" stroke-width="2"/><path d="M5.3,84 9.5,84 13.7,84 17.8,80.6 22,77 26.2,73.5 30.4,70 34.6,67 38.7,64.4 42.9,62 47.1,59.8 51.3,57.6 55.5,55.6 59.6,53.6 63.8,51.9 68,51.1 72.2,50.5 76.4,49.8 80.5,49 84.7,48.1 88.9,47.1 93.1,46.3 97.3,45.6 101.4,45 105.6,44.4 109.8,43.8 114,43.3 118.2,42.9 122.3,42.4 122.3,61.8 118.2,61.9 114,62.1 109.8,62.3 105.6,62.6 101.4,62.9 97.3,63.2 93.1,63.6 88.9,64.2 84.7,64.9 80.5,65.5 76.4,66 72.2,66.4 68,66.8 63.8,67.3 59.6,67.9 55.5,68.8 51.3,69.8 47.1,70.8 42.9,71.9 38.7,73.2 34.6,74.6 30.4,76.4 26.2,78.5 22,80.6 17.8,82.7 13.7,84 9.5,84 5.3,84Z" fill="#f4cca4" stroke="#c4aa90" stroke-width="1.4"/><path d="M5.3,84 9.5,84 13.7,84 17.8,81.3 22,78.1 26.2,75 30.4,71.9 34.6,69.3 38.7,67 42.9,65 47.1,63.1 51.3,61.3 55.5,59.5 59.6,57.9 63.8,56.5 68,55.8 72.2,55.1 76.4,54.5 80.5,53.8 84.7,52.9 88.9,51.9 93.1,51.1 97.3,50.5 101.4,49.8 105.6,49.3 109.8,48.8 114,48.3 118.2,47.9 122.3,47.5 122.3,58.1 118.2,58.4 114,58.6 109.8,59 105.6,59.3 101.4,59.7 97.3,60.2 93.1,60.7 88.9,61.3 84.7,62.1 80.5,62.8 76.4,63.4 72.2,63.9 68,64.4 63.8,65 59.6,65.8 55.5,66.8 51.3,68 47.1,69.2 42.9,70.5 38.7,71.9 34.6,73.4 30.4,75.4 26.2,77.8 22,80.1 17.8,82.4 13.7,84 9.5,84 5.3,84Z" fill="#d3e7ec"/></g><use href="#v3"/><use href="#h3"/><use href="#Mb"/><path clip-path="url(#c)" d="M5.3,84 7.4,84 9.5,84 11.6,84 13.7,84 15.8,83.4 17.8,82 19.9,80.6 22,79.4 24.1,78.1 26.2,76.8 28.3,75.5 30.4,74.3 32.5,73.1 34.6,72.1 36.6,71.1 38.7,70.2 40.8,69.4 42.9,68.6 45,67.9 47.1,67.2 49.2,66.5 51.3,65.8 53.4,65.1 55.5,64.4 57.5,63.8 59.6,63.2 61.7,62.6 63.8,62.2 65.9,61.8 68,61.4 70.1,61.1 72.2,60.8 74.3,60.6 76.4,60.3 78.4,59.9 80.5,59.5 82.6,59.1 84.7,58.7 86.8,58.2 88.9,57.8 91,57.4 93.1,57 95.2,56.7 97.3,56.4 99.3,56.1 101.4,55.8 103.5,55.6 105.6,55.3 107.7,55.1 109.8,54.8 111.9,54.6 114,54.4 116.1,54.2 118.2,54 120.2,53.8 122.3,53.7" fill="none" stroke="#000" stroke-width="8.2" stroke-linejoin="round" stroke-linecap="round"/><use href="#t"/><use href="#Fb"/></g>
<g transform="translate(984.7,461.8)"><g clip-path="url(#c)"><path d="M5.3,84 9.5,84 11.6,84 13.7,82.2 17.8,76.2 22,72.3 26.2,69.6 30.4,67.3 34.6,65 38.7,62.5 42.9,60 47.1,57.7 51.3,55.7 55.5,53.9 59.6,52.3 63.8,50.8 68,49.7 72.2,48.7 76.4,47.8 80.5,47 84.7,46.3 88.9,45.6 93.1,44.9 97.3,44.2 101.4,43.5 105.6,42.8 109.8,42.2 114,41.7 118.2,41.3 122.3,40.9 122.3,67.9 118.2,67.9 114,68.1 109.8,68.3 105.6,68.6 101.4,68.9 97.3,69.4 93.1,69.8 88.9,70.2 84.7,70.6 80.5,71 76.4,71.5 72.2,72.1 68,72.8 63.8,73.5 59.6,73.6 55.5,73.7 51.3,74 47.1,74.4 42.9,75.1 38.7,76 34.6,76.8 30.4,77.4 26.2,77.9 22,78.6 17.8,80.4 13.7,83.9 11.6,84 9.5,84 5.3,84Z" fill="#93bcdc"/><path d="M5.3,84 9.5,84 11.6,84 13.7,82.2 17.8,76.2 22,72.3 26.2,69.6 30.4,67.3 34.6,65 38.7,62.5 42.9,60 47.1,57.7 51.3,55.7 55.5,53.9 59.6,52.3 63.8,50.8 68,49.7 72.2,48.7 76.4,47.8 80.5,47 84.7,46.3 88.9,45.6 93.1,44.9 97.3,44.2 101.4,43.5 105.6,42.8 109.8,42.2 114,41.7 118.2,41.3 122.3,40.9M5.3,84 9.5,84 11.6,84 13.7,83.9 17.8,80.4 22,78.6 26.2,77.9 30.4,77.4 34.6,76.8 38.7,76 42.9,75.1 47.1,74.4 51.3,74 55.5,73.7 59.6,73.6 63.8,73.5 68,72.8 72.2,72.1 76.4,71.5 80.5,71 84.7,70.6 88.9,70.2 93.1,69.8 97.3,69.4 101.4,68.9 105.6,68.6 109.8,68.3 114,68.1 118.2,67.9 122.3,67.9" fill="none" stroke="#5a9ccd" stroke-width="2"/><path d="M5.3,84 9.5,84 11.6,84 13.7,82.4 17.8,76.8 22,73.1 26.2,70.7 30.4,68.7 34.6,66.6 38.7,64.3 42.9,62 47.1,59.9 51.3,58.1 55.5,56.6 59.6,55.1 63.8,53.8 68,52.8 72.2,51.9 76.4,51.1 80.5,50.4 84.7,49.7 88.9,49.2 93.1,48.6 97.3,47.9 101.4,47.2 105.6,46.6 109.8,46.2 114,45.8 118.2,45.4 122.3,45.1 122.3,64.5 118.2,64.6 114,64.8 109.8,65 105.6,65.2 101.4,65.6 97.3,66 93.1,66.5 88.9,66.8 84.7,67.2 80.5,67.6 76.4,68.1 72.2,68.7 68,69.4 63.8,70.2 59.6,70.5 55.5,70.8 51.3,71.3 47.1,71.9 42.9,72.9 38.7,74 34.6,75.1 30.4,75.9 26.2,76.6 22,77.6 17.8,79.8 13.7,83.7 11.6,84 9.5,84 5.3,84Z" fill="#f4cca4" stroke="#c4aa90" stroke-width="1.4"/><path d="M5.3,84 9.5,84 11.6,84 13.7,82.7 17.8,77.4 22,74.1 26.2,72 30.4,70.2 34.6,68.4 38.7,66.4 42.9,64.3 47.1,62.5 51.3,60.9 55.5,59.6 59.6,58.4 63.8,57.3 68,56.4 72.2,55.6 76.4,54.9 80.5,54.3 84.7,53.7 88.9,53.2 93.1,52.7 97.3,52.2 101.4,51.6 105.6,51.1 109.8,50.8 114,50.4 118.2,50.2 122.3,50 122.3,60.6 118.2,60.7 114,60.9 109.8,61.1 105.6,61.3 101.4,61.7 97.3,62.2 93.1,62.6 88.9,63 84.7,63.3 80.5,63.8 76.4,64.3 72.2,64.9 68,65.6 63.8,66.3 59.6,66.8 55.5,67.5 51.3,68.2 47.1,69.1 42.9,70.3 38.7,71.7 34.6,73.1 30.4,74.2 26.2,75.3 22,76.6 17.8,79.1 13.7,83.4 11.6,84 9.5,84 5.3,84Z" fill="#d3e7ec"/></g><use href="#v4"/><use href="#h3"/><use href="#Mb"/><path clip-path="url(#c)" d="M5.3,84 7.4,84 9.5,84 11.6,84 13.7,83 15.8,80.8 17.8,78.2 19.9,76.3 22,75.3 24.1,74.3 26.2,73.5 28.3,72.8 30.4,72.1 32.5,71.4 34.6,70.7 36.6,69.8 38.7,68.9 40.8,68.1 42.9,67.2 45,66.4 47.1,65.6 49.2,65 51.3,64.4 53.4,63.8 55.5,63.3 57.5,62.9 59.6,62.4 61.7,62 63.8,61.6 65.9,61.2 68,60.8 70.1,60.5 72.2,60.1 74.3,59.8 76.4,59.5 78.4,59.3 80.5,59 82.6,58.8 84.7,58.6 86.8,58.4 88.9,58.2 91,58.1 93.1,57.9 95.2,57.7 97.3,57.4 99.3,57.2 101.4,57 103.5,56.8 105.6,56.6 107.7,56.5 109.8,56.4 111.9,56.2 114,56.1 116.1,56.1 118.2,56 120.2,55.9 122.3,55.9" fill="none" stroke="#000" stroke-width="8.2" stroke-linejoin="round" stroke-linecap="round"/><use href="#t"/><use href="#Fb"/></g>
<g transform="translate(1164,461.8)"><g clip-path="url(#c)"><path d="M5.3,84 9.5,84 13.7,84 15.8,84 17.8,81.2 22,75.8 26.2,72.5 30.4,69.8 34.6,67.4 38.7,65.2 42.9,63.3 47.1,61.4 51.3,59.4 55.5,57.4 59.6,55.4 63.8,53.7 68,52.7 72.2,51.8 76.4,51 80.5,50 84.7,49 88.9,48 93.1,46.9 97.3,45.8 101.4,44.6 105.6,43.5 109.8,42.4 114,41.4 118.2,40.4 122.3,39.5 122.3,63.6 118.2,64 114,64.5 109.8,65 105.6,65.5 101.4,66.2 97.3,66.9 93.1,67.5 88.9,68 84.7,68.5 80.5,69 76.4,69.5 72.2,69.8 68,70.2 63.8,70.7 59.6,71.2 55.5,71.9 51.3,72.8 47.1,73.5 42.9,74 38.7,74.6 34.6,75.4 30.4,76.3 26.2,77.5 22,79.1 17.8,82.5 15.8,84 13.7,84 9.5,84 5.3,84Z" fill="#93bcdc"/><path d="M5.3,84 9.5,84 13.7,84 15.8,84 17.8,81.2 22,75.8 26.2,72.5 30.4,69.8 34.6,67.4 38.7,65.2 42.9,63.3 47.1,61.4 51.3,59.4 55.5,57.4 59.6,55.4 63.8,53.7 68,52.7 72.2,51.8 76.4,51 80.5,50 84.7,49 88.9,48 93.1,46.9 97.3,45.8 101.4,44.6 105.6,43.5 109.8,42.4 114,41.4 118.2,40.4 122.3,39.5M5.3,84 9.5,84 13.7,84 15.8,84 17.8,82.5 22,79.1 26.2,77.5 30.4,76.3 34.6,75.4 38.7,74.6 42.9,74 47.1,73.5 51.3,72.8 55.5,71.9 59.6,71.2 63.8,70.7 68,70.2 72.2,69.8 76.4,69.5 80.5,69 84.7,68.5 88.9,68 93.1,67.5 97.3,66.9 101.4,66.2 105.6,65.5 109.8,65 114,64.5 118.2,64 122.3,63.6" fill="none" stroke="#5a9ccd" stroke-width="2"/><path d="M5.3,84 9.5,84 13.7,84 15.8,84 17.8,81.4 22,76.3 26.2,73.3 30.4,70.8 34.6,68.7 38.7,66.8 42.9,65 47.1,63.4 51.3,61.6 55.5,59.7 59.6,57.9 63.8,56.4 68,55.5 72.2,54.8 76.4,54 80.5,53.2 84.7,52.3 88.9,51.4 93.1,50.4 97.3,49.4 101.4,48.3 105.6,47.2 109.8,46.2 114,45.3 118.2,44.4 122.3,43.6 122.3,60.9 118.2,61.4 114,61.9 109.8,62.5 105.6,63.1 101.4,63.8 97.3,64.5 93.1,65.2 88.9,65.8 84.7,66.3 80.5,66.9 76.4,67.3 72.2,67.7 68,68.1 63.8,68.7 59.6,69.3 55.5,70.2 51.3,71.2 47.1,72.1 42.9,72.8 38.7,73.5 34.6,74.5 30.4,75.6 26.2,76.9 22,78.7 17.8,82.4 15.8,84 13.7,84 9.5,84 5.3,84Z" fill="#f4cca4" stroke="#c4aa90" stroke-width="1.4"/><path d="M5.3,84 9.5,84 13.7,84 15.8,84 17.8,81.6 22,76.9 26.2,74.2 30.4,72.1 34.6,70.2 38.7,68.5 42.9,67.1 47.1,65.7 51.3,64.1 55.5,62.5 59.6,60.9 63.8,59.6 68,58.8 72.2,58.2 76.4,57.6 80.5,56.8 84.7,56 88.9,55.2 93.1,54.4 97.3,53.5 101.4,52.5 105.6,51.5 109.8,50.7 114,49.9 118.2,49.1 122.3,48.4 122.3,57.9 118.2,58.4 114,59 109.8,59.6 105.6,60.3 101.4,61 97.3,61.8 93.1,62.5 88.9,63.2 84.7,63.8 80.5,64.4 76.4,64.9 72.2,65.3 68,65.8 63.8,66.4 59.6,67.2 55.5,68.3 51.3,69.4 47.1,70.4 42.9,71.3 38.7,72.3 34.6,73.4 30.4,74.7 26.2,76.2 22,78.3 17.8,82.2 15.8,84 13.7,84 9.5,84 5.3,84Z" fill="#d3e7ec"/></g><use href="#v5"/><use href="#h3"/><use href="#Mb"/><path clip-path="url(#c)" d="M5.3,84 7.4,84 9.5,84 11.6,84 13.7,84 15.8,84 17.8,82 19.9,79.1 22,77.7 24.1,76.5 26.2,75.4 28.3,74.4 30.4,73.6 32.5,72.8 34.6,72.1 36.6,71.3 38.7,70.7 40.8,70.1 42.9,69.5 45,69 47.1,68.4 49.2,67.9 51.3,67.2 53.4,66.5 55.5,65.9 57.5,65.2 59.6,64.6 61.7,64 63.8,63.6 65.9,63.2 68,62.9 70.1,62.6 72.2,62.4 74.3,62.1 76.4,61.9 78.4,61.6 80.5,61.3 82.6,61 84.7,60.7 86.8,60.3 88.9,60 91,59.6 93.1,59.3 95.2,58.9 97.3,58.5 99.3,58.1 101.4,57.6 103.5,57.2 105.6,56.8 107.7,56.5 109.8,56.1 111.9,55.8 114,55.4 116.1,55.1 118.2,54.8 120.2,54.5 122.3,54.2" fill="none" stroke="#000" stroke-width="8.2" stroke-linejoin="round" stroke-linecap="round"/><use href="#t"/><use href="#Fb"/></g>
<g transform="translate(1343.4,461.8)"><g clip-path="url(#c)"><path d="M5.3,84 9.5,84 13.7,84 17.8,78.5 22,73.5 26.2,69.8 30.4,66.6 34.6,63.6 38.7,60.9 42.9,58.4 47.1,56.1 51.3,53.9 55.5,51.8 59.6,49.8 63.8,48 68,47.2 72.2,46.6 76.4,46 80.5,45.4 84.7,44.7 88.9,44.1 93.1,43.5 97.3,43 101.4,42.6 105.6,42.2 109.8,41.8 114,41.5 118.2,41.2 122.3,40.9 122.3,70.7 118.2,70.6 114,70.7 109.8,70.7 105.6,70.8 101.4,70.9 97.3,71 93.1,71.2 88.9,71.4 84.7,71.8 80.5,72.2 76.4,72.5 72.2,72.8 68,73.1 63.8,73.5 59.6,73.6 55.5,73.9 51.3,74.2 47.1,74.6 42.9,75 38.7,75.6 34.6,76.3 30.4,77.2 26.2,78.3 22,79.6 17.8,82 13.7,84 9.5,84 5.3,84Z" fill="#93bcdc"/><path d="M5.3,84 9.5,84 13.7,84 17.8,78.5 22,73.5 26.2,69.8 30.4,66.6 34.6,63.6 38.7,60.9 42.9,58.4 47.1,56.1 51.3,53.9 55.5,51.8 59.6,49.8 63.8,48 68,47.2 72.2,46.6 76.4,46 80.5,45.4 84.7,44.7 88.9,44.1 93.1,43.5 97.3,43 101.4,42.6 105.6,42.2 109.8,41.8 114,41.5 118.2,41.2 122.3,40.9M5.3,84 9.5,84 13.7,84 17.8,82 22,79.6 26.2,78.3 30.4,77.2 34.6,76.3 38.7,75.6 42.9,75 47.1,74.6 51.3,74.2 55.5,73.9 59.6,73.6 63.8,73.5 68,73.1 72.2,72.8 76.4,72.5 80.5,72.2 84.7,71.8 88.9,71.4 93.1,71.2 97.3,71 101.4,70.9 105.6,70.8 109.8,70.7 114,70.7 118.2,70.6 122.3,70.7" fill="none" stroke="#5a9ccd" stroke-width="2"/><path d="M5.3,84 9.5,84 13.7,84 17.8,79 22,74.3 26.2,70.9 30.4,67.9 34.6,65.2 38.7,62.7 42.9,60.5 47.1,58.4 51.3,56.4 55.5,54.5 59.6,52.7 63.8,51.1 68,50.4 72.2,49.7 76.4,49.1 80.5,48.4 84.7,47.7 88.9,47 93.1,46.3 97.3,45.8 101.4,45.3 105.6,44.9 109.8,44.5 114,44.1 118.2,43.7 122.3,43.4 122.3,64.9 118.2,65 114,65.1 109.8,65.3 105.6,65.5 101.4,65.7 97.3,66 93.1,66.3 88.9,66.7 84.7,67.2 80.5,67.7 76.4,68.1 72.2,68.5 68,69 63.8,69.5 59.6,69.9 55.5,70.4 51.3,71 47.1,71.7 42.9,72.5 38.7,73.3 34.6,74.4 30.4,75.6 26.2,77 22,78.7 17.8,81.5 13.7,84 9.5,84 5.3,84Z" fill="#f4cca4" stroke="#c4aa90" stroke-width="1.4"/><path d="M5.3,84 9.5,84 13.7,84 17.8,79.5 22,75.2 26.2,72.1 30.4,69.4 34.6,67 38.7,64.8 42.9,62.9 47.1,61 51.3,59.3 55.5,57.7 59.6,56.2 63.8,54.8 68,54 72.2,53.3 76.4,52.6 80.5,51.8 84.7,51.1 88.9,50.3 93.1,49.6 97.3,49.1 101.4,48.5 105.6,48 109.8,47.6 114,47.1 118.2,46.7 122.3,46.3 122.3,58.1 118.2,58.4 114,58.7 109.8,59 105.6,59.4 101.4,59.7 97.3,60.1 93.1,60.6 88.9,61.2 84.7,61.8 80.5,62.4 76.4,63.1 72.2,63.6 68,64.2 63.8,64.9 59.6,65.6 55.5,66.4 51.3,67.4 47.1,68.4 42.9,69.4 38.7,70.7 34.6,72.1 30.4,73.6 26.2,75.4 22,77.6 17.8,80.8 13.7,84 9.5,84 5.3,84Z" fill="#d3e7ec"/></g><use href="#v6"/><use href="#h3"/><use href="#Mb"/><path clip-path="url(#c)" d="M5.3,84 7.4,84 9.5,84 11.6,84 13.7,84 15.8,82.7 17.8,80.1 19.9,77.7 22,76.2 24.1,74.8 26.2,73.6 28.3,72.4 30.4,71.3 32.5,70.2 34.6,69.3 36.6,68.3 38.7,67.4 40.8,66.6 42.9,65.8 45,65 47.1,64.3 49.2,63.6 51.3,62.9 53.4,62.2 55.5,61.5 57.5,60.9 59.6,60.3 61.7,59.8 63.8,59.3 65.9,58.8 68,58.4 70.1,58 72.2,57.6 74.3,57.2 76.4,56.9 78.4,56.5 80.5,56.1 82.6,55.6 84.7,55.2 86.8,54.8 88.9,54.4 91,54 93.1,53.7 95.2,53.3 97.3,53 99.3,52.7 101.4,52.4 103.5,52.2 105.6,51.9 107.7,51.6 109.8,51.4 111.9,51.1 114,50.9 116.1,50.6 118.2,50.4 120.2,50.2 122.3,49.9" fill="none" stroke="#000" stroke-width="8.2" stroke-linejoin="round" stroke-linecap="round"/><use href="#t"/><use href="#Fb"/></g>
<g transform="translate(1522.8,461.8)"><g clip-path="url(#c)"><path d="M5.3,84 9.5,84 13.7,84 17.8,84 22,78.9 26.2,73.4 30.4,68.3 34.6,64.7 38.7,62.5 42.9,60.7 47.1,59.1 51.3,57.6 55.5,56.1 59.6,54.8 63.8,53.7 68,52.8 72.2,52.1 76.4,51.3 80.5,50.6 84.7,49.8 88.9,49.1 93.1,48.3 97.3,47.6 101.4,46.9 105.6,46.1 109.8,45.3 114,44.4 118.2,43.4 122.3,42.3 122.3,63.6 118.2,64.3 114,65 109.8,65.7 105.6,66.2 101.4,66.6 97.3,67.1 93.1,67.5 88.9,67.9 84.7,68.4 80.5,68.8 76.4,69.2 72.2,69.7 68,70.1 63.8,70.7 59.6,70.6 55.5,70.6 51.3,70.8 47.1,70.9 42.9,71.1 38.7,71.5 34.6,72.3 30.4,74.3 26.2,77.7 22,81.4 17.8,84 13.7,84 9.5,84 5.3,84Z" fill="#93bcdc"/><path d="M5.3,84 9.5,84 13.7,84 17.8,84 22,78.9 26.2,73.4 30.4,68.3 34.6,64.7 38.7,62.5 42.9,60.7 47.1,59.1 51.3,57.6 55.5,56.1 59.6,54.8 63.8,53.7 68,52.8 72.2,52.1 76.4,51.3 80.5,50.6 84.7,49.8 88.9,49.1 93.1,48.3 97.3,47.6 101.4,46.9 105.6,46.1 109.8,45.3 114,44.4 118.2,43.4 122.3,42.3M5.3,84 9.5,84 13.7,84 17.8,84 22,81.4 26.2,77.7 30.4,74.3 34.6,72.3 38.7,71.5 42.9,71.1 47.1,70.9 51.3,70.8 55.5,70.6 59.6,70.6 63.8,70.7 68,70.1 72.2,69.7 76.4,69.2 80.5,68.8 84.7,68.4 88.9,67.9 93.1,67.5 97.3,67.1 101.4,66.6 105.6,66.2 109.8,65.7 114,65 118.2,64.3 122.3,63.6" fill="none" stroke="#5a9ccd" stroke-width="2"/><path d="M5.3,84 9.5,84 13.7,84 17.8,84 22,79.2 26.2,73.9 30.4,69 34.6,65.6 38.7,63.5 42.9,61.9 47.1,60.5 51.3,59.1 55.5,57.8 59.6,56.7 63.8,55.7 68,54.9 72.2,54.2 76.4,53.6 80.5,53 84.7,52.3 88.9,51.7 93.1,51 97.3,50.4 101.4,49.8 105.6,49.1 109.8,48.4 114,47.5 118.2,46.6 122.3,45.6 122.3,60.9 118.2,61.7 114,62.4 109.8,63 105.6,63.5 101.4,64 97.3,64.4 93.1,64.8 88.9,65.2 84.7,65.6 80.5,66.1 76.4,66.5 72.2,66.9 68,67.4 63.8,67.9 59.6,68 55.5,68.3 51.3,68.6 47.1,69 42.9,69.4 38.7,70 34.6,71 30.4,73.3 26.2,77 22,81 17.8,84 13.7,84 9.5,84 5.3,84Z" fill="#f4cca4" stroke="#c4aa90" stroke-width="1.4"/><path d="M5.3,84 9.5,84 13.7,84 17.8,84 22,79.5 26.2,74.5 30.4,69.8 34.6,66.6 38.7,64.7 42.9,63.3 47.1,62.1 51.3,60.9 55.5,59.8 59.6,58.8 63.8,58 68,57.3 72.2,56.8 76.4,56.2 80.5,55.7 84.7,55.2 88.9,54.6 93.1,54.1 97.3,53.6 101.4,53.1 105.6,52.5 109.8,51.9 114,51.2 118.2,50.4 122.3,49.5 122.3,57.9 118.2,58.7 114,59.4 109.8,60 105.6,60.5 101.4,60.9 97.3,61.3 93.1,61.7 88.9,62.1 84.7,62.5 80.5,62.9 76.4,63.3 72.2,63.7 68,64.2 63.8,64.7 59.6,65 55.5,65.5 51.3,66.1 47.1,66.8 42.9,67.4 38.7,68.3 34.6,69.6 30.4,72.2 26.2,76.2 22,80.5 17.8,84 13.7,84 9.5,84 5.3,84Z" fill="#d3e7ec"/></g><use href="#v7"/><use href="#h3"/><use href="#Mb"/><path clip-path="url(#c)" d="M5.3,84 7.4,84 9.5,84 11.6,84 13.7,84 15.8,84 17.8,84 19.9,82 22,79.9 24.1,77.6 26.2,75.2 28.3,72.9 30.4,70.8 32.5,69.1 34.6,67.9 36.6,67 38.7,66.2 40.8,65.6 42.9,65 45,64.5 47.1,64 49.2,63.6 51.3,63.1 53.4,62.6 55.5,62.2 57.5,61.8 59.6,61.4 61.7,61.1 63.8,60.8 65.9,60.5 68,60.3 70.1,60.1 72.2,59.9 74.3,59.7 76.4,59.5 78.4,59.3 80.5,59.1 82.6,58.9 84.7,58.7 86.8,58.5 88.9,58.3 91,58.1 93.1,57.9 95.2,57.7 97.3,57.5 99.3,57.3 101.4,57.1 103.5,56.9 105.6,56.7 107.7,56.5 109.8,56.2 111.9,55.9 114,55.6 116.1,55.3 118.2,55 120.2,54.6 122.3,54.2" fill="none" stroke="#000" stroke-width="8.2" stroke-linejoin="round" stroke-linecap="round"/><use href="#t"/><use href="#Fb"/></g>
<g transform="translate(1702.2,461.8)"><g clip-path="url(#c)"><path d="M5.3,84 9.5,84 11.6,84 13.7,82.7 17.8,78.9 22,75.6 26.2,72.5 30.4,69.6 34.6,66.9 38.7,64.5 42.9,62.3 47.1,60.2 51.3,58 55.5,55.8 59.6,53.6 63.8,51.6 68,50.5 72.2,49.5 76.4,48.7 80.5,48 84.7,47.5 88.9,47.1 93.1,46.7 97.3,46.2 101.4,45.8 105.6,45.4 109.8,45 114,44.7 118.2,44.4 122.3,44.1 122.3,75 118.2,74.9 114,74.8 109.8,74.8 105.6,74.7 101.4,74.8 97.3,74.8 93.1,74.9 88.9,75 84.7,75 80.5,75.1 76.4,75.4 72.2,75.9 68,76.5 63.8,77.2 59.6,77.5 55.5,78 51.3,78.6 47.1,79 42.9,79.3 38.7,79.7 34.6,80.1 30.4,80.8 26.2,81.7 22,82.6 17.8,83.6 13.7,84 11.6,84 9.5,84 5.3,84Z" fill="#93bcdc"/><path d="M5.3,84 9.5,84 11.6,84 13.7,82.7 17.8,78.9 22,75.6 26.2,72.5 30.4,69.6 34.6,66.9 38.7,64.5 42.9,62.3 47.1,60.2 51.3,58 55.5,55.8 59.6,53.6 63.8,51.6 68,50.5 72.2,49.5 76.4,48.7 80.5,48 84.7,47.5 88.9,47.1 93.1,46.7 97.3,46.2 101.4,45.8 105.6,45.4 109.8,45 114,44.7 118.2,44.4 122.3,44.1M5.3,84 9.5,84 11.6,84 13.7,84 17.8,83.6 22,82.6 26.2,81.7 30.4,80.8 34.6,80.1 38.7,79.7 42.9,79.3 47.1,79 51.3,78.6 55.5,78 59.6,77.5 63.8,77.2 68,76.5 72.2,75.9 76.4,75.4 80.5,75.1 84.7,75 88.9,75 93.1,74.9 97.3,74.8 101.4,74.8 105.6,74.7 109.8,74.8 114,74.8 118.2,74.9 122.3,75" fill="none" stroke="#5a9ccd" stroke-width="2"/><path d="M5.3,84 9.5,84 11.6,84 13.7,83 17.8,79.4 22,76.3 26.2,73.5 30.4,70.7 34.6,68.3 38.7,66.1 42.9,64.1 47.1,62.2 51.3,60.2 55.5,58.1 59.6,56.1 63.8,54.3 68,53.2 72.2,52.2 76.4,51.4 80.5,50.7 84.7,50.2 88.9,49.8 93.1,49.4 97.3,48.9 101.4,48.5 105.6,48 109.8,47.7 114,47.4 118.2,47.1 122.3,46.8 122.3,69.1 118.2,69.1 114,69.1 109.8,69.1 105.6,69.2 101.4,69.3 97.3,69.5 93.1,69.7 88.9,69.8 84.7,70 80.5,70.2 76.4,70.6 72.2,71.2 68,71.9 63.8,72.7 59.6,73.3 55.5,74.1 51.3,75 47.1,75.7 42.9,76.4 38.7,77 34.6,77.8 30.4,78.9 26.2,80.1 22,81.4 17.8,82.8 13.7,83.9 11.6,84 9.5,84 5.3,84Z" fill="#f4cca4" stroke="#c4aa90" stroke-width="1.4"/><path d="M5.3,84 9.5,84 11.6,84 13.7,83.2 17.8,80 22,77.2 26.2,74.6 30.4,72.1 34.6,69.9 38.7,68 42.9,66.2 47.1,64.5 51.3,62.7 55.5,60.8 59.6,59 63.8,57.4 68,56.3 72.2,55.3 76.4,54.5 80.5,53.9 84.7,53.3 88.9,52.9 93.1,52.5 97.3,52 101.4,51.6 105.6,51.2 109.8,50.8 114,50.5 118.2,50.2 122.3,50 122.3,62.2 118.2,62.3 114,62.4 109.8,62.6 105.6,62.8 101.4,63.1 97.3,63.3 93.1,63.7 88.9,63.9 84.7,64.2 80.5,64.6 76.4,65.1 72.2,65.8 68,66.6 63.8,67.5 59.6,68.5 55.5,69.6 51.3,70.8 47.1,71.9 42.9,72.9 38.7,74 34.6,75.1 30.4,76.6 26.2,78.2 22,80 17.8,81.9 13.7,83.7 11.6,84 9.5,84 5.3,84Z" fill="#d3e7ec"/></g><use href="#v8"/><use href="#h3"/><use href="#Mb"/><path clip-path="url(#c)" d="M5.3,84 7.4,84 9.5,84 11.6,84 13.7,83.5 15.8,82.2 17.8,80.7 19.9,79.3 22,78.2 24.1,77.1 26.2,76 28.3,74.9 30.4,73.8 32.5,72.8 34.6,71.9 36.6,71 38.7,70.2 40.8,69.5 42.9,68.7 45,68 47.1,67.3 49.2,66.5 51.3,65.8 53.4,65 55.5,64.1 57.5,63.3 59.6,62.6 61.7,61.9 63.8,61.2 65.9,60.7 68,60.1 70.1,59.6 72.2,59.1 74.3,58.7 76.4,58.3 78.4,58 80.5,57.7 82.6,57.4 84.7,57.2 86.8,56.9 88.9,56.7 91,56.5 93.1,56.3 95.2,56.1 97.3,55.8 99.3,55.6 101.4,55.4 103.5,55.2 105.6,55 107.7,54.8 109.8,54.6 111.9,54.5 114,54.3 116.1,54.1 118.2,54 120.2,53.9 122.3,53.8" fill="none" stroke="#000" stroke-width="8.2" stroke-linejoin="round" stroke-linecap="round"/><use href="#t"/><use href="#Fb"/></g>
<g transform="translate(1881.6,461.8)"><g clip-path="url(#c)"><path d="M5.3,84 9.5,84 13.7,84 15.8,84 17.8,81.3 22,76 26.2,71.2 30.4,66.7 34.6,62.8 38.7,59.7 42.9,56.8 47.1,54.1 51.3,51.5 55.5,48.9 59.6,46.4 63.8,44.1 68,43.3 72.2,42.5 76.4,41.9 80.5,41.3 84.7,40.8 88.9,40.4 93.1,39.9 97.3,39.3 101.4,38.5 105.6,37.7 109.8,36.8 114,35.8 118.2,34.7 122.3,33.5 122.3,66.5 118.2,67.4 114,68.2 109.8,68.9 105.6,69.5 101.4,70 97.3,70.5 93.1,70.8 88.9,71 84.7,71.1 80.5,71.3 76.4,71.5 72.2,71.9 68,72.4 63.8,72.9 59.6,73.2 55.5,73.6 51.3,74 47.1,74.5 42.9,75 38.7,75.6 34.6,76.4 30.4,77.8 26.2,79.7 22,81.7 17.8,83.7 15.8,84 13.7,84 9.5,84 5.3,84Z" fill="#93bcdc"/><path d="M5.3,84 9.5,84 13.7,84 15.8,84 17.8,81.3 22,76 26.2,71.2 30.4,66.7 34.6,62.8 38.7,59.7 42.9,56.8 47.1,54.1 51.3,51.5 55.5,48.9 59.6,46.4 63.8,44.1 68,43.3 72.2,42.5 76.4,41.9 80.5,41.3 84.7,40.8 88.9,40.4 93.1,39.9 97.3,39.3 101.4,38.5 105.6,37.7 109.8,36.8 114,35.8 118.2,34.7 122.3,33.5M5.3,84 9.5,84 13.7,84 15.8,84 17.8,83.7 22,81.7 26.2,79.7 30.4,77.8 34.6,76.4 38.7,75.6 42.9,75 47.1,74.5 51.3,74 55.5,73.6 59.6,73.2 63.8,72.9 68,72.4 72.2,71.9 76.4,71.5 80.5,71.3 84.7,71.1 88.9,71 93.1,70.8 97.3,70.5 101.4,70 105.6,69.5 109.8,68.9 114,68.2 118.2,67.4 122.3,66.5" fill="none" stroke="#5a9ccd" stroke-width="2"/><path d="M5.3,84 9.5,84 13.7,84 15.8,84 17.8,81.8 22,77.2 26.2,73 30.4,69 34.6,65.7 38.7,63 42.9,60.6 47.1,58.3 51.3,56.1 55.5,54 59.6,52 63.8,50.1 68,49.3 72.2,48.6 76.4,47.9 80.5,47.4 84.7,47 88.9,46.6 93.1,46.2 97.3,45.6 101.4,44.8 105.6,44 109.8,43.2 114,42.2 118.2,41.2 122.3,40.1 122.3,63.9 118.2,64.8 114,65.6 109.8,66.3 105.6,66.9 101.4,67.5 97.3,68 93.1,68.4 88.9,68.6 84.7,68.8 80.5,69 76.4,69.3 72.2,69.7 68,70.2 63.8,70.8 59.6,71.2 55.5,71.8 51.3,72.4 47.1,73 42.9,73.7 38.7,74.4 34.6,75.4 30.4,77 26.2,79.1 22,81.2 17.8,83.5 15.8,84 13.7,84 9.5,84 5.3,84Z" fill="#f4cca4" stroke="#c4aa90" stroke-width="1.4"/><path d="M5.3,84 9.5,84 13.7,84 15.8,84 17.8,82.4 22,78.5 26.2,75 30.4,71.7 34.6,68.9 38.7,66.8 42.9,64.9 47.1,63.2 51.3,61.6 55.5,59.9 59.6,58.4 63.8,57 68,56.2 72.2,55.6 76.4,55 80.5,54.5 84.7,54.2 88.9,53.8 93.1,53.4 97.3,52.8 101.4,52.2 105.6,51.4 109.8,50.6 114,49.7 118.2,48.7 122.3,47.7 122.3,60.7 118.2,61.7 114,62.6 109.8,63.4 105.6,64 101.4,64.7 97.3,65.2 93.1,65.6 88.9,65.9 84.7,66.1 80.5,66.4 76.4,66.7 72.2,67.2 68,67.8 63.8,68.4 59.6,69 55.5,69.7 51.3,70.5 47.1,71.3 42.9,72.1 38.7,73.1 34.6,74.3 30.4,76.1 26.2,78.3 22,80.8 17.8,83.3 15.8,84 13.7,84 9.5,84 5.3,84Z" fill="#d3e7ec"/></g><use href="#v9"/><use href="#h3"/><use href="#Mk"/><path clip-path="url(#c)" d="M5.3,84 7.4,84 9.5,84 11.6,84 13.7,84 15.8,84 17.8,83.1 19.9,81.5 22,80.2 24.1,78.8 26.2,77.5 28.3,76.1 30.4,74.9 32.5,73.8 34.6,72.9 36.6,72.1 38.7,71.5 40.8,70.8 42.9,70.3 45,69.7 47.1,69.2 49.2,68.7 51.3,68.2 53.4,67.7 55.5,67.2 57.5,66.7 59.6,66.2 61.7,65.8 63.8,65.4 65.9,65.1 68,64.7 70.1,64.4 72.2,64.1 74.3,63.8 76.4,63.6 78.4,63.4 80.5,63.2 82.6,63 84.7,62.9 86.8,62.7 88.9,62.6 91,62.4 93.1,62.3 95.2,62 97.3,61.8 99.3,61.5 101.4,61.2 103.5,60.8 105.6,60.5 107.7,60.1 109.8,59.7 111.9,59.3 114,58.9 116.1,58.4 118.2,58 120.2,57.5 122.3,56.9" fill="none" stroke="#000" stroke-width="8.2" stroke-linejoin="round" stroke-linecap="round"/><use href="#t"/><use href="#Fk"/></g>
<g transform="translate(2061,461.8)"><g clip-path="url(#c)"><path d="M5.3,84 9.5,84 13.7,84 17.8,80.7 22,77 26.2,73.2 30.4,69.6 34.6,66.5 38.7,64.1 42.9,62 47.1,60 51.3,57.9 55.5,55.7 59.6,53.5 63.8,51.6 68,49.9 72.2,48.3 76.4,46.7 80.5,44.9 84.7,43 88.9,40.9 93.1,39 97.3,37.3 101.4,35.6 105.6,34 109.8,32.5 114,31 118.2,29.6 122.3,28.2 122.3,64.4 118.2,64.3 114,64.2 109.8,64.2 105.6,64.2 101.4,64.2 97.3,64.4 93.1,64.6 88.9,65 84.7,65.5 80.5,66 76.4,66.2 72.2,66.3 68,66.3 63.8,66.5 59.6,67.4 55.5,68.6 51.3,69.8 47.1,70.8 42.9,71.7 38.7,72.7 34.6,73.9 30.4,75.8 26.2,78.2 22,80.5 17.8,82.8 13.7,84 9.5,84 5.3,84Z" fill="#93bcdc"/><path d="M5.3,84 9.5,84 13.7,84 17.8,80.7 22,77 26.2,73.2 30.4,69.6 34.6,66.5 38.7,64.1 42.9,62 47.1,60 51.3,57.9 55.5,55.7 59.6,53.5 63.8,51.6 68,49.9 72.2,48.3 76.4,46.7 80.5,44.9 84.7,43 88.9,40.9 93.1,39 97.3,37.3 101.4,35.6 105.6,34 109.8,32.5 114,31 118.2,29.6 122.3,28.2M5.3,84 9.5,84 13.7,84 17.8,82.8 22,80.5 26.2,78.2 30.4,75.8 34.6,73.9 38.7,72.7 42.9,71.7 47.1,70.8 51.3,69.8 55.5,68.6 59.6,67.4 63.8,66.5 68,66.3 72.2,66.3 76.4,66.2 80.5,66 84.7,65.5 88.9,65 93.1,64.6 97.3,64.4 101.4,64.2 105.6,64.2 109.8,64.2 114,64.2 118.2,64.3 122.3,64.4" fill="none" stroke="#5a9ccd" stroke-width="2"/><path d="M5.3,84 9.5,84 13.7,84 17.8,81 22,77.6 26.2,74 30.4,70.6 34.6,67.7 38.7,65.5 42.9,63.6 47.1,61.7 51.3,59.8 55.5,57.7 59.6,55.7 63.8,54 68,52.5 72.2,51.1 76.4,49.7 80.5,48.1 84.7,46.4 88.9,44.5 93.1,42.8 97.3,41.3 101.4,39.9 105.6,38.5 109.8,37.1 114,35.9 118.2,34.6 122.3,33.4 122.3,59.5 118.2,59.6 114,59.7 109.8,59.9 105.6,60.2 101.4,60.5 97.3,60.8 93.1,61.2 88.9,61.8 84.7,62.6 80.5,63.3 76.4,63.8 72.2,64 68,64.3 63.8,64.7 59.6,65.8 55.5,67 51.3,68.3 47.1,69.5 42.9,70.6 38.7,71.7 34.6,73 30.4,75.1 26.2,77.6 22,80.1 17.8,82.5 13.7,84 9.5,84 5.3,84Z" fill="#f4cca4" stroke="#c4aa90" stroke-width="1.4"/><path d="M5.3,84 9.5,84 13.7,84 17.8,81.4 22,78.2 26.2,74.9 30.4,71.7 34.6,69.1 38.7,67.1 42.9,65.4 47.1,63.7 51.3,62 55.5,60.1 59.6,58.3 63.8,56.7 68,55.5 72.2,54.3 76.4,53.2 80.5,51.9 84.7,50.3 88.9,48.7 93.1,47.2 97.3,46 101.4,44.7 105.6,43.6 109.8,42.5 114,41.5 118.2,40.5 122.3,39.5 122.3,53.9 118.2,54.2 114,54.6 109.8,55 105.6,55.5 101.4,56.1 97.3,56.7 93.1,57.4 88.9,58.2 84.7,59.2 80.5,60.2 76.4,60.9 72.2,61.4 68,62 63.8,62.7 59.6,63.8 55.5,65.2 51.3,66.7 47.1,68 42.9,69.2 38.7,70.5 34.6,72 30.4,74.2 26.2,76.9 22,79.6 17.8,82.2 13.7,84 9.5,84 5.3,84Z" fill="#d3e7ec"/></g><use href="#v10"/><use href="#h3"/><use href="#Mb"/><path clip-path="url(#c)" d="M5.3,84 7.4,84 9.5,84 11.6,84 13.7,84 15.8,83.3 17.8,81.9 19.9,80.4 22,79 24.1,77.5 26.2,76 28.3,74.6 30.4,73.1 32.5,71.8 34.6,70.7 36.6,69.8 38.7,69 40.8,68.3 42.9,67.5 45,66.9 47.1,66.2 49.2,65.4 51.3,64.6 53.4,63.8 55.5,63 57.5,62.2 59.6,61.4 61.7,60.7 63.8,60.1 65.9,59.6 68,59.1 70.1,58.7 72.2,58.3 74.3,57.9 76.4,57.4 78.4,56.9 80.5,56.4 82.6,55.8 84.7,55.1 86.8,54.5 88.9,53.8 91,53.2 93.1,52.6 95.2,52.1 97.3,51.6 99.3,51.2 101.4,50.7 103.5,50.3 105.6,49.9 107.7,49.5 109.8,49.1 111.9,48.7 114,48.3 116.1,48 118.2,47.6 120.2,47.3 122.3,46.9" fill="none" stroke="#000" stroke-width="8.2" stroke-linejoin="round" stroke-linecap="round"/><use href="#t"/><use href="#Fb"/></g>
<g transform="translate(267.1,579.8)"><g clip-path="url(#c)"><path d="M5.3,84 9.5,84 11.6,84 13.7,83.4 17.8,80.4 22,77.4 26.2,73.9 30.4,70.4 34.6,67.3 38.7,64.8 42.9,62.4 47.1,60.3 51.3,58.1 55.5,56.1 59.6,54.1 63.8,52.2 68,49.2 72.2,46.2 76.4,43.4 80.5,40.9 84.7,38.5 88.9,36.2 93.1,33.9 97.3,31.6 101.4,29.3 105.6,27.1 109.8,24.8 114,22.5 118.2,20.2 122.3,17.9 122.3,62.2 118.2,62.7 114,63.3 109.8,63.8 105.6,64.4 101.4,64.9 97.3,65.5 93.1,66 88.9,66.6 84.7,67.1 80.5,67.8 76.4,68.6 72.2,69.7 68,70.9 63.8,72.1 59.6,72.8 55.5,73.4 51.3,74.2 47.1,74.9 42.9,75.7 38.7,76.6 34.6,77.7 30.4,79.3 26.2,81.2 22,82.9 17.8,84 13.7,84 11.6,84 9.5,84 5.3,84Z" fill="#93bcdc"/><path d="M5.3,84 9.5,84 11.6,84 13.7,83.4 17.8,80.4 22,77.4 26.2,73.9 30.4,70.4 34.6,67.3 38.7,64.8 42.9,62.4 47.1,60.3 51.3,58.1 55.5,56.1 59.6,54.1 63.8,52.2 68,49.2 72.2,46.2 76.4,43.4 80.5,40.9 84.7,38.5 88.9,36.2 93.1,33.9 97.3,31.6 101.4,29.3 105.6,27.1 109.8,24.8 114,22.5 118.2,20.2 122.3,17.9M5.3,84 9.5,84 11.6,84 13.7,84 17.8,84 22,82.9 26.2,81.2 30.4,79.3 34.6,77.7 38.7,76.6 42.9,75.7 47.1,74.9 51.3,74.2 55.5,73.4 59.6,72.8 63.8,72.1 68,70.9 72.2,69.7 76.4,68.6 80.5,67.8 84.7,67.1 88.9,66.6 93.1,66 97.3,65.5 101.4,64.9 105.6,64.4 109.8,63.8 114,63.3 118.2,62.7 122.3,62.2" fill="none" stroke="#5a9ccd" stroke-width="2"/><path d="M5.3,84 9.5,84 11.6,84 13.7,83.4 17.8,80.5 22,77.5 26.2,74.2 30.4,70.7 34.6,67.6 38.7,65.1 42.9,62.8 47.1,60.7 51.3,58.6 55.5,56.6 59.6,54.6 63.8,52.7 68,50.1 72.2,47.5 76.4,45 80.5,42.8 84.7,40.8 88.9,38.8 93.1,36.9 97.3,34.9 101.4,33 105.6,31.1 109.8,29.1 114,27.2 118.2,25.2 122.3,23.3 122.3,55.1 118.2,55.8 114,56.5 109.8,57.2 105.6,57.9 101.4,58.6 97.3,59.3 93.1,60 88.9,60.7 84.7,61.4 80.5,62.2 76.4,63.2 72.2,64.4 68,65.7 63.8,67.1 59.6,68.1 55.5,69.1 51.3,70.1 47.1,71.2 42.9,72.4 38.7,73.6 34.6,75.1 30.4,77.1 26.2,79.3 22,81.5 17.8,83.1 13.7,83.9 11.6,84 9.5,84 5.3,84Z" fill="#f4cca4" stroke="#c4aa90" stroke-width="1.4"/><path d="M5.3,84 9.5,84 11.6,84 13.7,83.5 17.8,80.7 22,77.7 26.2,74.4 30.4,71 34.6,68 38.7,65.5 42.9,63.3 47.1,61.2 51.3,59.1 55.5,57.1 59.6,55.2 63.8,53.4 68,51.2 72.2,48.9 76.4,46.9 80.5,45.1 84.7,43.4 88.9,41.9 93.1,40.3 97.3,38.8 101.4,37.2 105.6,35.7 109.8,34.1 114,32.6 118.2,31 122.3,29.5 122.3,47 118.2,47.9 114,48.7 109.8,49.6 105.6,50.4 101.4,51.3 97.3,52.2 93.1,53 88.9,53.9 84.7,54.8 80.5,55.7 76.4,56.8 72.2,58.2 68,59.8 63.8,61.3 59.6,62.6 55.5,64 51.3,65.5 47.1,67 42.9,68.5 38.7,70.2 34.6,72.1 30.4,74.5 26.2,77.3 22,79.9 17.8,82.1 13.7,83.7 11.6,84 9.5,84 5.3,84Z" fill="#d3e7ec"/></g><use href="#v0"/><use href="#Mr"/><path clip-path="url(#c)" d="M5.3,84 7.4,84 9.5,84 11.6,84 13.7,83.5 15.8,82.3 17.8,80.8 19.9,79.3 22,77.9 24.1,76.3 26.2,74.7 28.3,73 30.4,71.4 32.5,69.8 34.6,68.4 36.6,67.2 38.7,66 40.8,64.9 42.9,63.8 45,62.8 47.1,61.8 49.2,60.8 51.3,59.8 53.4,58.8 55.5,57.8 57.5,56.9 59.6,56 61.7,55.1 63.8,54.2 65.9,53.3 68,52.5 70.1,51.6 72.2,50.7 74.3,49.9 76.4,49.1 78.4,48.4 80.5,47.8 82.6,47.2 84.7,46.6 86.8,46.1 88.9,45.6 91,45.1 93.1,44.5 95.2,44 97.3,43.4 99.3,42.9 101.4,42.4 103.5,41.8 105.6,41.3 107.7,40.8 109.8,40.3 111.9,39.7 114,39.2 116.1,38.7 118.2,38.1 120.2,37.6 122.3,37.1" fill="none" stroke="#000" stroke-width="8.2" stroke-linejoin="round" stroke-linecap="round"/><use href="#t"/><use href="#Fr"/></g>
<g transform="translate(446.5,579.8)"><g clip-path="url(#c)"><path d="M5.3,84 9.5,84 13.7,84 15.8,84 17.8,81.7 22,76.7 26.2,72.5 30.4,68.6 34.6,65.3 38.7,62.6 42.9,60.2 47.1,58 51.3,55.8 55.5,53.5 59.6,51.4 63.8,49.4 68,47.7 72.2,46.1 76.4,44.6 80.5,43.1 84.7,41.7 88.9,40.2 93.1,38.8 97.3,37.5 101.4,36.1 105.6,34.8 109.8,33.5 114,32.1 118.2,30.8 122.3,29.4 122.3,70.7 118.2,71.1 114,71.4 109.8,71.8 105.6,72.1 101.4,72.4 97.3,72.7 93.1,73 88.9,73.4 84.7,73.8 80.5,74.3 76.4,74.7 72.2,75.2 68,75.8 63.8,76.4 59.6,76.5 55.5,76.7 51.3,77 47.1,77.2 42.9,77.4 38.7,77.6 34.6,78 30.4,79 26.2,80.4 22,82 17.8,83.9 15.8,84 13.7,84 9.5,84 5.3,84Z" fill="#93bcdc"/><path d="M5.3,84 9.5,84 13.7,84 15.8,84 17.8,81.7 22,76.7 26.2,72.5 30.4,68.6 34.6,65.3 38.7,62.6 42.9,60.2 47.1,58 51.3,55.8 55.5,53.5 59.6,51.4 63.8,49.4 68,47.7 72.2,46.1 76.4,44.6 80.5,43.1 84.7,41.7 88.9,40.2 93.1,38.8 97.3,37.5 101.4,36.1 105.6,34.8 109.8,33.5 114,32.1 118.2,30.8 122.3,29.4M5.3,84 9.5,84 13.7,84 15.8,84 17.8,83.9 22,82 26.2,80.4 30.4,79 34.6,78 38.7,77.6 42.9,77.4 47.1,77.2 51.3,77 55.5,76.7 59.6,76.5 63.8,76.4 68,75.8 72.2,75.2 76.4,74.7 80.5,74.3 84.7,73.8 88.9,73.4 93.1,73 97.3,72.7 101.4,72.4 105.6,72.1 109.8,71.8 114,71.4 118.2,71.1 122.3,70.7" fill="none" stroke="#5a9ccd" stroke-width="2"/><path d="M5.3,84 9.5,84 13.7,84 15.8,84 17.8,82 22,77.4 26.2,73.5 30.4,69.9 34.6,67 38.7,64.6 42.9,62.5 47.1,60.5 51.3,58.6 55.5,56.6 59.6,54.7 63.8,53 68,51.5 72.2,50.1 76.4,48.8 80.5,47.6 84.7,46.3 88.9,45.1 93.1,43.9 97.3,42.8 101.4,41.7 105.6,40.6 109.8,39.4 114,38.3 118.2,37.2 122.3,36 122.3,65.8 118.2,66.2 114,66.6 109.8,67 105.6,67.4 101.4,67.8 97.3,68.1 93.1,68.6 88.9,69 84.7,69.5 80.5,70 76.4,70.5 72.2,71.1 68,71.7 63.8,72.4 59.6,72.8 55.5,73.3 51.3,73.9 47.1,74.4 42.9,74.8 38.7,75.4 34.6,76.2 30.4,77.5 26.2,79.3 22,81.2 17.8,83.6 15.8,84 13.7,84 9.5,84 5.3,84Z" fill="#f4cca4" stroke="#c4aa90" stroke-width="1.4"/><path d="M5.3,84 9.5,84 13.7,84 15.8,84 17.8,82.3 22,78.2 26.2,74.7 30.4,71.5 34.6,68.9 38.7,66.9 42.9,65.1 47.1,63.5 51.3,61.8 55.5,60.1 59.6,58.5 63.8,57.1 68,55.9 72.2,54.8 76.4,53.7 80.5,52.7 84.7,51.7 88.9,50.8 93.1,49.8 97.3,48.9 101.4,48.1 105.6,47.2 109.8,46.3 114,45.5 118.2,44.6 122.3,43.7 122.3,60 118.2,60.5 114,61 109.8,61.5 105.6,62 101.4,62.4 97.3,62.9 93.1,63.4 88.9,63.9 84.7,64.5 80.5,65 76.4,65.7 72.2,66.3 68,67 63.8,67.8 59.6,68.5 55.5,69.3 51.3,70.2 47.1,71.1 42.9,71.9 38.7,72.8 34.6,74 30.4,75.7 26.2,77.9 22,80.3 17.8,83.2 15.8,84 13.7,84 9.5,84 5.3,84Z" fill="#d3e7ec"/></g><use href="#v1"/><use href="#Mk"/><path clip-path="url(#c)" d="M5.3,84 7.4,84 9.5,84 11.6,84 13.7,84 15.8,84 17.8,82.7 19.9,80.7 22,79.2 24.1,77.7 26.2,76.2 28.3,74.8 30.4,73.5 32.5,72.3 34.6,71.3 36.6,70.4 38.7,69.7 40.8,69 42.9,68.3 45,67.7 47.1,67.1 49.2,66.5 51.3,65.8 53.4,65.1 55.5,64.5 57.5,63.8 59.6,63.2 61.7,62.7 63.8,62.2 65.9,61.7 68,61.3 70.1,60.9 72.2,60.5 74.3,60.1 76.4,59.7 78.4,59.4 80.5,59 82.6,58.7 84.7,58.3 86.8,58 88.9,57.7 91,57.3 93.1,57 95.2,56.7 97.3,56.4 99.3,56.2 101.4,55.9 103.5,55.6 105.6,55.3 107.7,55.1 109.8,54.8 111.9,54.5 114,54.2 116.1,53.9 118.2,53.6 120.2,53.3 122.3,53" fill="none" stroke="#000" stroke-width="8.2" stroke-linejoin="round" stroke-linecap="round"/><use href="#t"/><use href="#Fk"/></g>
<g transform="translate(625.9,579.8)"><g clip-path="url(#c)"><path d="M5.3,84 9.5,84 13.7,84 17.8,78.8 22,73.8 26.2,69.2 30.4,65.1 34.6,61.7 38.7,59.1 42.9,56.8 47.1,54.6 51.3,52.3 55.5,49.8 59.6,47.3 63.8,45.1 68,43.9 72.2,42.9 76.4,41.8 80.5,40.7 84.7,39.4 88.9,38.1 93.1,36.8 97.3,35.6 101.4,34.3 105.6,33.1 109.8,31.8 114,30.6 118.2,29.3 122.3,28 122.3,62.2 118.2,62.9 114,63.7 109.8,64.5 105.6,65.2 101.4,66 97.3,66.7 93.1,67.4 88.9,68.2 84.7,69 80.5,69.8 76.4,70.4 72.2,71 68,71.5 63.8,72.1 59.6,72.5 55.5,73.1 51.3,73.8 47.1,74.2 42.9,74.4 38.7,74.6 34.6,75.1 30.4,76.3 26.2,78.2 22,80.2 17.8,82.5 13.7,84 9.5,84 5.3,84Z" fill="#93bcdc"/><path d="M5.3,84 9.5,84 13.7,84 17.8,78.8 22,73.8 26.2,69.2 30.4,65.1 34.6,61.7 38.7,59.1 42.9,56.8 47.1,54.6 51.3,52.3 55.5,49.8 59.6,47.3 63.8,45.1 68,43.9 72.2,42.9 76.4,41.8 80.5,40.7 84.7,39.4 88.9,38.1 93.1,36.8 97.3,35.6 101.4,34.3 105.6,33.1 109.8,31.8 114,30.6 118.2,29.3 122.3,28M5.3,84 9.5,84 13.7,84 17.8,82.5 22,80.2 26.2,78.2 30.4,76.3 34.6,75.1 38.7,74.6 42.9,74.4 47.1,74.2 51.3,73.8 55.5,73.1 59.6,72.5 63.8,72.1 68,71.5 72.2,71 76.4,70.4 80.5,69.8 84.7,69 88.9,68.2 93.1,67.4 97.3,66.7 101.4,66 105.6,65.2 109.8,64.5 114,63.7 118.2,62.9 122.3,62.2" fill="none" stroke="#5a9ccd" stroke-width="2"/><path d="M5.3,84 9.5,84 13.7,84 17.8,79.5 22,74.9 26.2,70.8 30.4,67.1 34.6,64.1 38.7,61.8 42.9,59.9 47.1,58.1 51.3,56.1 55.5,53.9 59.6,51.7 63.8,49.9 68,48.8 72.2,47.9 76.4,47 80.5,46 84.7,44.8 88.9,43.6 93.1,42.5 97.3,41.4 101.4,40.2 105.6,39.1 109.8,38 114,36.8 118.2,35.7 122.3,34.5 122.3,59.1 118.2,59.9 114,60.7 109.8,61.5 105.6,62.3 101.4,63 97.3,63.8 93.1,64.5 88.9,65.3 84.7,66.1 80.5,66.9 76.4,67.6 72.2,68.1 68,68.7 63.8,69.4 59.6,69.9 55.5,70.7 51.3,71.6 47.1,72.2 42.9,72.6 38.7,73 34.6,73.8 30.4,75.2 26.2,77.3 22,79.6 17.8,82.2 13.7,84 9.5,84 5.3,84Z" fill="#f4cca4" stroke="#c4aa90" stroke-width="1.4"/><path d="M5.3,84 9.5,84 13.7,84 17.8,80.3 22,76.3 26.2,72.7 30.4,69.4 34.6,66.8 38.7,65 42.9,63.5 47.1,62.1 51.3,60.5 55.5,58.7 59.6,56.9 63.8,55.4 68,54.5 72.2,53.7 76.4,53 80.5,52.1 84.7,51.1 88.9,50 93.1,49 97.3,48 101.4,47.1 105.6,46.1 109.8,45.1 114,44.1 118.2,43.1 122.3,42.1 122.3,55.6 118.2,56.4 114,57.2 109.8,58 105.6,58.8 101.4,59.6 97.3,60.4 93.1,61.1 88.9,62 84.7,62.8 80.5,63.6 76.4,64.3 72.2,64.8 68,65.4 63.8,66.1 59.6,66.9 55.5,67.9 51.3,69 47.1,69.8 42.9,70.5 38.7,71.2 34.6,72.1 30.4,73.8 26.2,76.2 22,78.8 17.8,81.7 13.7,84 9.5,84 5.3,84Z" fill="#d3e7ec"/></g><use href="#v2"/><use href="#Mb"/><path clip-path="url(#c)" d="M5.3,84 7.4,84 9.5,84 11.6,84 13.7,84 15.8,83.1 17.8,81.2 19.9,79.3 22,77.9 24.1,76.4 26.2,74.9 28.3,73.5 30.4,72.2 32.5,71.1 34.6,70.2 36.6,69.5 38.7,68.9 40.8,68.4 42.9,67.9 45,67.5 47.1,67 49.2,66.5 51.3,65.8 53.4,65.2 55.5,64.5 57.5,63.8 59.6,63.2 61.7,62.6 63.8,62.2 65.9,61.8 68,61.4 70.1,61.1 72.2,60.8 74.3,60.6 76.4,60.3 78.4,59.9 80.5,59.5 82.6,59.1 84.7,58.7 86.8,58.3 88.9,57.9 91,57.4 93.1,57 95.2,56.6 97.3,56.2 99.3,55.8 101.4,55.4 103.5,55 105.6,54.6 107.7,54.2 109.8,53.8 111.9,53.4 114,53 116.1,52.6 118.2,52.2 120.2,51.8 122.3,51.3" fill="none" stroke="#000" stroke-width="8.2" stroke-linejoin="round" stroke-linecap="round"/><use href="#t"/><use href="#Fb"/></g>
<g transform="translate(805.3,579.8)"><g clip-path="url(#c)"><path d="M5.3,84 9.5,84 13.7,84 15.8,84 17.8,81.4 22,76.3 26.2,73.1 30.4,70.6 34.6,68.4 38.7,66.5 42.9,64.8 47.1,63.2 51.3,61.6 55.5,59.8 59.6,58.1 63.8,56.5 68,54.8 72.2,53.1 76.4,51.4 80.5,49.4 84.7,46.8 88.9,44.2 93.1,42.5 97.3,41.6 101.4,40.7 105.6,39.9 109.8,38.9 114,37.7 118.2,36.5 122.3,35.1 122.3,62.2 118.2,62.5 114,62.8 109.8,62.9 105.6,62.9 101.4,62.7 97.3,62.5 93.1,62.5 88.9,63.2 84.7,64.7 80.5,66.3 76.4,67.3 72.2,68 68,68.7 63.8,69.3 59.6,70.1 55.5,70.9 51.3,71.7 47.1,72.4 42.9,73 38.7,73.6 34.6,74.4 30.4,75.5 26.2,76.9 22,78.8 17.8,82.4 15.8,84 13.7,84 9.5,84 5.3,84Z" fill="#93bcdc"/><path d="M5.3,84 9.5,84 13.7,84 15.8,84 17.8,81.4 22,76.3 26.2,73.1 30.4,70.6 34.6,68.4 38.7,66.5 42.9,64.8 47.1,63.2 51.3,61.6 55.5,59.8 59.6,58.1 63.8,56.5 68,54.8 72.2,53.1 76.4,51.4 80.5,49.4 84.7,46.8 88.9,44.2 93.1,42.5 97.3,41.6 101.4,40.7 105.6,39.9 109.8,38.9 114,37.7 118.2,36.5 122.3,35.1M5.3,84 9.5,84 13.7,84 15.8,84 17.8,82.4 22,78.8 26.2,76.9 30.4,75.5 34.6,74.4 38.7,73.6 42.9,73 47.1,72.4 51.3,71.7 55.5,70.9 59.6,70.1 63.8,69.3 68,68.7 72.2,68 76.4,67.3 80.5,66.3 84.7,64.7 88.9,63.2 93.1,62.5 97.3,62.5 101.4,62.7 105.6,62.9 109.8,62.9 114,62.8 118.2,62.5 122.3,62.2" fill="none" stroke="#5a9ccd" stroke-width="2"/><path d="M5.3,84 9.5,84 13.7,84 15.8,84 17.8,81.6 22,76.8 26.2,73.8 30.4,71.4 34.6,69.4 38.7,67.7 42.9,66.2 47.1,64.8 51.3,63.3 55.5,61.8 59.6,60.2 63.8,58.7 68,57.2 72.2,55.7 76.4,54.2 80.5,52.4 84.7,49.9 88.9,47.6 93.1,46 97.3,45.3 101.4,44.6 105.6,43.9 109.8,43.1 114,42.2 118.2,41.1 122.3,39.9 122.3,59.4 118.2,59.8 114,60.2 109.8,60.4 105.6,60.5 101.4,60.4 97.3,60.4 93.1,60.4 88.9,61.2 84.7,62.9 80.5,64.5 76.4,65.7 72.2,66.5 68,67.2 63.8,68 59.6,68.9 55.5,69.7 51.3,70.6 47.1,71.4 42.9,72.1 38.7,72.9 34.6,73.8 30.4,75 26.2,76.5 22,78.6 17.8,82.3 15.8,84 13.7,84 9.5,84 5.3,84Z" fill="#f4cca4" stroke="#c4aa90" stroke-width="1.4"/><path d="M5.3,84 9.5,84 13.7,84 15.8,84 17.8,81.8 22,77.3 26.2,74.6 30.4,72.4 34.6,70.6 38.7,69.2 42.9,67.9 47.1,66.7 51.3,65.4 55.5,64 59.6,62.6 63.8,61.3 68,60 72.2,58.8 76.4,57.4 80.5,55.8 84.7,53.6 88.9,51.4 93.1,50.1 97.3,49.5 101.4,49.1 105.6,48.6 109.8,48 114,47.3 118.2,46.4 122.3,45.4 122.3,56.1 118.2,56.7 114,57.2 109.8,57.6 105.6,57.7 101.4,57.8 97.3,57.8 93.1,58 88.9,58.9 84.7,60.7 80.5,62.5 76.4,63.7 72.2,64.7 68,65.5 63.8,66.4 59.6,67.4 55.5,68.4 51.3,69.4 47.1,70.3 42.9,71.1 38.7,72 34.6,73.1 30.4,74.4 26.2,76.1 22,78.3 17.8,82.2 15.8,84 13.7,84 9.5,84 5.3,84Z" fill="#d3e7ec"/></g><use href="#v3"/><use href="#Mk"/><path clip-path="url(#c)" d="M5.3,84 7.4,84 9.5,84 11.6,84 13.7,84 15.8,84 17.8,82.1 19.9,79.3 22,77.9 24.1,76.6 26.2,75.5 28.3,74.5 30.4,73.7 32.5,72.9 34.6,72.1 36.6,71.5 38.7,70.9 40.8,70.4 42.9,69.9 45,69.4 47.1,68.9 49.2,68.4 51.3,67.9 53.4,67.3 55.5,66.7 57.5,66.2 59.6,65.6 61.7,65 63.8,64.5 65.9,64 68,63.5 70.1,63 72.2,62.5 74.3,61.9 76.4,61.4 78.4,60.8 80.5,60 82.6,59.1 84.7,58 86.8,57 88.9,56.1 91,55.5 93.1,55.1 95.2,54.9 97.3,54.8 99.3,54.7 101.4,54.6 103.5,54.5 105.6,54.4 107.7,54.2 109.8,54 111.9,53.8 114,53.5 116.1,53.2 118.2,52.9 120.2,52.5 122.3,52.2" fill="none" stroke="#000" stroke-width="8.2" stroke-linejoin="round" stroke-linecap="round"/><use href="#t"/><use href="#Fk"/></g>
<g transform="translate(984.7,579.8)"><g clip-path="url(#c)"><path d="M5.3,84 9.5,84 11.6,84 13.7,81.9 17.8,75.5 22,70.5 26.2,66.6 30.4,63.1 34.6,60 38.7,57.2 42.9,54.6 47.1,52.2 51.3,49.9 55.5,47.8 59.6,45.7 63.8,43.7 68,42.1 72.2,40.5 76.4,39 80.5,37.5 84.7,36 88.9,34.5 93.1,32.9 97.3,30.9 101.4,28.6 105.6,26.4 109.8,24.5 114,22.7 118.2,21 122.3,19.4 122.3,63.6 118.2,63.9 114,64.4 109.8,65 105.6,65.7 101.4,66.7 97.3,67.7 93.1,68.5 88.9,68.9 84.7,69.2 80.5,69.4 76.4,69.7 72.2,70 68,70.4 63.8,70.7 59.6,71 55.5,71.3 51.3,71.7 47.1,72.1 42.9,72.6 38.7,73.2 34.6,74 30.4,75.1 26.2,76.4 22,78 17.8,80.4 13.7,83.9 11.6,84 9.5,84 5.3,84Z" fill="#93bcdc"/><path d="M5.3,84 9.5,84 11.6,84 13.7,81.9 17.8,75.5 22,70.5 26.2,66.6 30.4,63.1 34.6,60 38.7,57.2 42.9,54.6 47.1,52.2 51.3,49.9 55.5,47.8 59.6,45.7 63.8,43.7 68,42.1 72.2,40.5 76.4,39 80.5,37.5 84.7,36 88.9,34.5 93.1,32.9 97.3,30.9 101.4,28.6 105.6,26.4 109.8,24.5 114,22.7 118.2,21 122.3,19.4M5.3,84 9.5,84 11.6,84 13.7,83.9 17.8,80.4 22,78 26.2,76.4 30.4,75.1 34.6,74 38.7,73.2 42.9,72.6 47.1,72.1 51.3,71.7 55.5,71.3 59.6,71 63.8,70.7 68,70.4 72.2,70 76.4,69.7 80.5,69.4 84.7,69.2 88.9,68.9 93.1,68.5 97.3,67.7 101.4,66.7 105.6,65.7 109.8,65 114,64.4 118.2,63.9 122.3,63.6" fill="none" stroke="#5a9ccd" stroke-width="2"/><path d="M5.3,84 9.5,84 11.6,84 13.7,82.2 17.8,76.3 22,71.8 26.2,68.3 30.4,65.1 34.6,62.4 38.7,59.9 42.9,57.6 47.1,55.6 51.3,53.6 55.5,51.7 59.6,49.9 63.8,48.2 68,46.8 72.2,45.5 76.4,44.2 80.5,42.8 84.7,41.6 88.9,40.3 93.1,38.8 97.3,37.1 101.4,35 105.6,33 109.8,31.3 114,29.7 118.2,28.2 122.3,26.8 122.3,58.6 118.2,59.1 114,59.7 109.8,60.5 105.6,61.3 101.4,62.4 97.3,63.6 93.1,64.5 88.9,65 84.7,65.4 80.5,65.8 76.4,66.3 72.2,66.7 68,67.2 63.8,67.7 59.6,68.2 55.5,68.7 51.3,69.2 47.1,69.9 42.9,70.6 38.7,71.4 34.6,72.5 30.4,73.7 26.2,75.3 22,77.2 17.8,79.9 13.7,83.7 11.6,84 9.5,84 5.3,84Z" fill="#f4cca4" stroke="#c4aa90" stroke-width="1.4"/><path d="M5.3,84 9.5,84 11.6,84 13.7,82.6 17.8,77.3 22,73.3 26.2,70.2 30.4,67.5 34.6,65.1 38.7,63 42.9,61.1 47.1,59.4 51.3,57.8 55.5,56.3 59.6,54.9 63.8,53.5 68,52.3 72.2,51.2 76.4,50.1 80.5,49 84.7,48 88.9,47 93.1,45.8 97.3,44.2 101.4,42.4 105.6,40.7 109.8,39.2 114,37.8 118.2,36.6 122.3,35.4 122.3,52.9 118.2,53.6 114,54.3 109.8,55.2 105.6,56.2 101.4,57.5 97.3,58.8 93.1,59.9 88.9,60.6 84.7,61.2 80.5,61.7 76.4,62.3 72.2,62.9 68,63.5 63.8,64.2 59.6,64.9 55.5,65.6 51.3,66.4 47.1,67.3 42.9,68.3 38.7,69.4 34.6,70.6 30.4,72.2 26.2,74 22,76.2 17.8,79.2 13.7,83.4 11.6,84 9.5,84 5.3,84Z" fill="#d3e7ec"/></g><use href="#v4"/><use href="#Mb"/><path clip-path="url(#c)" d="M5.3,84 7.4,84 9.5,84 11.6,84 13.7,83.1 15.8,80.9 17.8,78.4 19.9,76.4 22,75 24.1,73.7 26.2,72.5 28.3,71.3 30.4,70.3 32.5,69.3 34.6,68.4 36.6,67.6 38.7,66.8 40.8,66.1 42.9,65.4 45,64.8 47.1,64.2 49.2,63.6 51.3,63 53.4,62.4 55.5,61.9 57.5,61.4 59.6,60.9 61.7,60.4 63.8,59.9 65.9,59.5 68,59 70.1,58.6 72.2,58.2 74.3,57.8 76.4,57.4 78.4,57 80.5,56.6 82.6,56.3 84.7,55.9 86.8,55.5 88.9,55.1 91,54.7 93.1,54.2 95.2,53.7 97.3,53 99.3,52.2 101.4,51.5 103.5,50.7 105.6,50 107.7,49.4 109.8,48.8 111.9,48.3 114,47.7 116.1,47.2 118.2,46.8 120.2,46.3 122.3,45.9" fill="none" stroke="#000" stroke-width="8.2" stroke-linejoin="round" stroke-linecap="round"/><use href="#t"/><use href="#Fb"/></g>
<g transform="translate(1164,579.8)"><g clip-path="url(#c)"><path d="M5.3,84 9.5,84 13.7,84 15.8,84 17.8,81.5 22,76.3 26.2,72.6 30.4,69.5 34.6,66.8 38.7,64.5 42.9,62.4 47.1,60.6 51.3,59 55.5,57.6 59.6,56.3 63.8,55.1 68,54.2 72.2,53.3 76.4,52.4 80.5,51.5 84.7,50.3 88.9,49.2 93.1,48.2 97.3,47.4 101.4,46.6 105.6,45.8 109.8,45 114,44.1 118.2,43.1 122.3,42.2 122.3,69.3 118.2,69.8 114,70.2 109.8,70.6 105.6,70.9 101.4,71.2 97.3,71.4 93.1,71.8 88.9,72.3 84.7,72.9 80.5,73.5 76.4,73.9 72.2,74.3 68,74.6 63.8,75 59.6,74.9 55.5,74.7 51.3,74.7 47.1,74.8 42.9,75.1 38.7,75.6 34.6,76.3 30.4,77.2 26.2,78.5 22,80.2 17.8,83.2 15.8,84 13.7,84 9.5,84 5.3,84Z" fill="#93bcdc"/><path d="M5.3,84 9.5,84 13.7,84 15.8,84 17.8,81.5 22,76.3 26.2,72.6 30.4,69.5 34.6,66.8 38.7,64.5 42.9,62.4 47.1,60.6 51.3,59 55.5,57.6 59.6,56.3 63.8,55.1 68,54.2 72.2,53.3 76.4,52.4 80.5,51.5 84.7,50.3 88.9,49.2 93.1,48.2 97.3,47.4 101.4,46.6 105.6,45.8 109.8,45 114,44.1 118.2,43.1 122.3,42.2M5.3,84 9.5,84 13.7,84 15.8,84 17.8,83.2 22,80.2 26.2,78.5 30.4,77.2 34.6,76.3 38.7,75.6 42.9,75.1 47.1,74.8 51.3,74.7 55.5,74.7 59.6,74.9 63.8,75 68,74.6 72.2,74.3 76.4,73.9 80.5,73.5 84.7,72.9 88.9,72.3 93.1,71.8 97.3,71.4 101.4,71.2 105.6,70.9 109.8,70.6 114,70.2 118.2,69.8 122.3,69.3" fill="none" stroke="#5a9ccd" stroke-width="2"/><path d="M5.3,84 9.5,84 13.7,84 15.8,84 17.8,81.7 22,76.6 26.2,73.2 30.4,70.3 34.6,67.8 38.7,65.6 42.9,63.7 47.1,62 51.3,60.5 55.5,59.3 59.6,58.1 63.8,57.1 68,56.2 72.2,55.4 76.4,54.6 80.5,53.7 84.7,52.7 88.9,51.6 93.1,50.7 97.3,49.9 101.4,49.2 105.6,48.5 109.8,47.7 114,46.9 118.2,46 122.3,45.1 122.3,64.7 118.2,65.2 114,65.7 109.8,66.1 105.6,66.6 101.4,66.9 97.3,67.2 93.1,67.6 88.9,68.2 84.7,68.9 80.5,69.6 76.4,70.1 72.2,70.5 68,71 63.8,71.4 59.6,71.5 55.5,71.6 51.3,71.8 47.1,72.2 42.9,72.8 38.7,73.6 34.6,74.6 30.4,75.8 26.2,77.4 22,79.5 17.8,82.9 15.8,84 13.7,84 9.5,84 5.3,84Z" fill="#f4cca4" stroke="#c4aa90" stroke-width="1.4"/><path d="M5.3,84 9.5,84 13.7,84 15.8,84 17.8,81.9 22,77.1 26.2,73.9 30.4,71.2 34.6,68.9 38.7,66.9 42.9,65.1 47.1,63.6 51.3,62.3 55.5,61.3 59.6,60.3 63.8,59.4 68,58.6 72.2,57.9 76.4,57.2 80.5,56.3 84.7,55.4 88.9,54.4 93.1,53.5 97.3,52.8 101.4,52.2 105.6,51.6 109.8,50.9 114,50.1 118.2,49.4 122.3,48.6 122.3,59.3 118.2,59.9 114,60.5 109.8,61 105.6,61.5 101.4,61.9 97.3,62.4 93.1,62.9 88.9,63.5 84.7,64.3 80.5,65.1 76.4,65.7 72.2,66.2 68,66.7 63.8,67.3 59.6,67.6 55.5,68 51.3,68.6 47.1,69.2 42.9,70.1 38.7,71.3 34.6,72.6 30.4,74.2 26.2,76.2 22,78.6 17.8,82.5 15.8,84 13.7,84 9.5,84 5.3,84Z" fill="#d3e7ec"/></g><use href="#v5"/><use href="#Mk"/><path clip-path="url(#c)" d="M5.3,84 7.4,84 9.5,84 11.6,84 13.7,84 15.8,84 17.8,82.1 19.9,79.3 22,77.6 24.1,76.1 26.2,74.7 28.3,73.4 30.4,72.2 32.5,71.2 34.6,70.2 36.6,69.3 38.7,68.4 40.8,67.6 42.9,66.9 45,66.2 47.1,65.6 49.2,65.1 51.3,64.5 53.4,64.1 55.5,63.7 57.5,63.3 59.6,62.9 61.7,62.5 63.8,62.2 65.9,61.8 68,61.5 70.1,61.2 72.2,60.9 74.3,60.6 76.4,60.3 78.4,59.9 80.5,59.5 82.6,59.1 84.7,58.7 86.8,58.2 88.9,57.8 91,57.4 93.1,57 95.2,56.7 97.3,56.4 99.3,56.2 101.4,55.9 103.5,55.6 105.6,55.4 107.7,55.1 109.8,54.8 111.9,54.4 114,54.1 116.1,53.8 118.2,53.4 120.2,53.1 122.3,52.7" fill="none" stroke="#000" stroke-width="8.2" stroke-linejoin="round" stroke-linecap="round"/><use href="#t"/><use href="#Fk"/></g>
<g transform="translate(1343.4,579.8)"><g clip-path="url(#c)"><path d="M5.3,84 9.5,84 13.7,84 17.8,77.2 22,71 26.2,66 30.4,61.5 34.6,57.5 38.7,53.8 42.9,50.4 47.1,47.4 51.3,44.7 55.5,42.4 59.6,40.2 63.8,37.9 68,36.6 72.2,35 76.4,33.4 80.5,31.9 84.7,30.5 88.9,29.1 93.1,27.9 97.3,26.9 101.4,26 105.6,25.1 109.8,24.1 114,23 118.2,21.9 122.3,20.8 122.3,75 118.2,75 114,75 109.8,75 105.6,74.8 101.4,74.6 97.3,74.4 93.1,74.3 88.9,74.4 84.7,74.6 80.5,74.9 76.4,75.3 72.2,75.8 68,76.2 63.8,76.4 59.6,76.2 55.5,75.7 51.3,75.4 47.1,75.2 42.9,75.5 38.7,76 34.6,76.6 30.4,77.5 26.2,78.7 22,80.2 17.8,82.4 13.7,84 9.5,84 5.3,84Z" fill="#93bcdc"/><path d="M5.3,84 9.5,84 13.7,84 17.8,77.2 22,71 26.2,66 30.4,61.5 34.6,57.5 38.7,53.8 42.9,50.4 47.1,47.4 51.3,44.7 55.5,42.4 59.6,40.2 63.8,37.9 68,36.6 72.2,35 76.4,33.4 80.5,31.9 84.7,30.5 88.9,29.1 93.1,27.9 97.3,26.9 101.4,26 105.6,25.1 109.8,24.1 114,23 118.2,21.9 122.3,20.8M5.3,84 9.5,84 13.7,84 17.8,82.4 22,80.2 26.2,78.7 30.4,77.5 34.6,76.6 38.7,76 42.9,75.5 47.1,75.2 51.3,75.4 55.5,75.7 59.6,76.2 63.8,76.4 68,76.2 72.2,75.8 76.4,75.3 80.5,74.9 84.7,74.6 88.9,74.4 93.1,74.3 97.3,74.4 101.4,74.6 105.6,74.8 109.8,75 114,75 118.2,75 122.3,75" fill="none" stroke="#5a9ccd" stroke-width="2"/><path d="M5.3,84 9.5,84 13.7,84 17.8,78 22,72.4 26.2,68 30.4,64 34.6,60.5 38.7,57.4 42.9,54.4 47.1,51.8 51.3,49.6 55.5,47.8 59.6,46 63.8,44.1 68,42.8 72.2,41.2 76.4,39.6 80.5,38.2 84.7,36.8 88.9,35.5 93.1,34.3 97.3,33.3 101.4,32.5 105.6,31.6 109.8,30.6 114,29.6 118.2,28.5 122.3,27.5 122.3,56.7 118.2,57.3 114,57.9 109.8,58.4 105.6,58.9 101.4,59.3 97.3,59.7 93.1,60.2 88.9,60.9 84.7,61.7 80.5,62.6 76.4,63.6 72.2,64.6 68,65.7 63.8,66.5 59.6,66.9 55.5,67.2 51.3,67.5 47.1,68.1 42.9,69 38.7,70.3 34.6,71.7 30.4,73.4 26.2,75.4 22,77.8 17.8,81.1 13.7,84 9.5,84 5.3,84Z" fill="#f4cca4" stroke="#c4aa90" stroke-width="1.4"/><path d="M5.3,84 9.5,84 13.7,84 17.8,79 22,74.1 26.2,70.4 30.4,67 34.6,64.1 38.7,61.5 42.9,59.1 47.1,57 51.3,55.3 55.5,53.9 59.6,52.6 63.8,51.2 68,49.9 72.2,48.4 76.4,46.9 80.5,45.5 84.7,44.1 88.9,42.9 93.1,41.7 97.3,40.8 101.4,39.9 105.6,39.1 109.8,38.2 114,37.2 118.2,36.2 122.3,35.1 122.3,51.2 118.2,52 114,52.8 109.8,53.5 105.6,54.1 101.4,54.7 97.3,55.3 93.1,55.9 88.9,56.8 84.7,57.8 80.5,58.9 76.4,60 72.2,61.3 68,62.6 63.8,63.6 59.6,64.2 55.5,64.6 51.3,65.1 47.1,65.9 42.9,67.1 38.7,68.6 34.6,70.2 30.4,72.1 26.2,74.4 22,77.1 17.8,80.7 13.7,84 9.5,84 5.3,84Z" fill="#d3e7ec"/></g><use href="#v6"/><use href="#Mk"/><path clip-path="url(#c)" d="M5.3,84 7.4,84 9.5,84 11.6,84 13.7,84 15.8,82.8 17.8,80.2 19.9,77.8 22,76.2 24.1,74.7 26.2,73.2 28.3,71.9 30.4,70.6 32.5,69.5 34.6,68.4 36.6,67.4 38.7,66.5 40.8,65.6 42.9,64.7 45,64 47.1,63.3 49.2,62.7 51.3,62.2 53.4,61.8 55.5,61.5 57.5,61.1 59.6,60.8 61.7,60.4 63.8,59.9 65.9,59.4 68,58.7 70.1,58 72.2,57.2 74.3,56.5 76.4,55.8 78.4,55.1 80.5,54.4 82.6,53.8 84.7,53.1 86.8,52.5 88.9,51.9 91,51.3 93.1,50.8 95.2,50.3 97.3,49.9 99.3,49.5 101.4,49.1 103.5,48.7 105.6,48.3 107.7,47.9 109.8,47.4 111.9,47 114,46.5 116.1,46 118.2,45.5 120.2,45 122.3,44.5" fill="none" stroke="#000" stroke-width="8.2" stroke-linejoin="round" stroke-linecap="round"/><use href="#t"/><use href="#Fk"/></g>
<g transform="translate(1522.8,579.8)"><g clip-path="url(#c)"><path d="M5.3,84 9.5,84 13.7,84 15.8,84 17.8,81.7 22,76.9 26.2,73.7 30.4,71.1 34.6,68.7 38.7,66.6 42.9,64.7 47.1,62.8 51.3,60.9 55.5,59 59.6,57.1 63.8,55.1 68,52.7 72.2,50.2 76.4,47.8 80.5,45.9 84.7,44.4 88.9,42.9 93.1,41.4 97.3,39.9 101.4,38.4 105.6,36.9 109.8,35.4 114,33.9 118.2,32.3 122.3,30.8 122.3,56.5 118.2,56.9 114,57.3 109.8,57.7 105.6,58.1 101.4,58.5 97.3,58.9 93.1,59.3 88.9,59.6 84.7,59.9 80.5,60.4 76.4,61.2 72.2,62.4 68,63.8 63.8,65.1 59.6,66.4 55.5,67.6 51.3,68.7 47.1,69.9 42.9,71 38.7,72.1 34.6,73.4 30.4,74.9 26.2,76.7 22,78.8 17.8,82.6 15.8,84 13.7,84 9.5,84 5.3,84Z" fill="#93bcdc"/><path d="M5.3,84 9.5,84 13.7,84 15.8,84 17.8,81.7 22,76.9 26.2,73.7 30.4,71.1 34.6,68.7 38.7,66.6 42.9,64.7 47.1,62.8 51.3,60.9 55.5,59 59.6,57.1 63.8,55.1 68,52.7 72.2,50.2 76.4,47.8 80.5,45.9 84.7,44.4 88.9,42.9 93.1,41.4 97.3,39.9 101.4,38.4 105.6,36.9 109.8,35.4 114,33.9 118.2,32.3 122.3,30.8M5.3,84 9.5,84 13.7,84 15.8,84 17.8,82.6 22,78.8 26.2,76.7 30.4,74.9 34.6,73.4 38.7,72.1 42.9,71 47.1,69.9 51.3,68.7 55.5,67.6 59.6,66.4 63.8,65.1 68,63.8 72.2,62.4 76.4,61.2 80.5,60.4 84.7,59.9 88.9,59.6 93.1,59.3 97.3,58.9 101.4,58.5 105.6,58.1 109.8,57.7 114,57.3 118.2,56.9 122.3,56.5" fill="none" stroke="#5a9ccd" stroke-width="2"/><path d="M5.3,84 9.5,84 13.7,84 15.8,84 17.8,81.8 22,77.1 26.2,74.1 30.4,71.6 34.6,69.3 38.7,67.2 42.9,65.4 47.1,63.7 51.3,61.8 55.5,60 59.6,58.2 63.8,56.3 68,54 72.2,51.6 76.4,49.3 80.5,47.5 84.7,46 88.9,44.6 93.1,43.2 97.3,41.8 101.4,40.4 105.6,39 109.8,37.6 114,36.1 118.2,34.7 122.3,33.2 122.3,51.7 118.2,52.3 114,53 109.8,53.6 105.6,54.2 101.4,54.9 97.3,55.5 93.1,56.1 88.9,56.6 84.7,57.2 80.5,57.9 76.4,58.9 72.2,60.4 68,62 63.8,63.5 59.6,64.9 55.5,66.2 51.3,67.5 47.1,68.8 42.9,70 38.7,71.2 34.6,72.7 30.4,74.3 26.2,76.2 22,78.5 17.8,82.4 15.8,84 13.7,84 9.5,84 5.3,84Z" fill="#f4cca4" stroke="#c4aa90" stroke-width="1.4"/><path d="M5.3,84 9.5,84 13.7,84 15.8,84 17.8,82 22,77.4 26.2,74.5 30.4,72.1 34.6,69.9 38.7,68 42.9,66.3 47.1,64.6 51.3,62.9 55.5,61.2 59.6,59.5 63.8,57.7 68,55.5 72.2,53.1 76.4,51 80.5,49.3 84.7,47.9 88.9,46.6 93.1,45.3 97.3,44 101.4,42.7 105.6,41.4 109.8,40 114,38.7 118.2,37.3 122.3,36 122.3,46.2 118.2,47.1 114,48 109.8,48.9 105.6,49.8 101.4,50.6 97.3,51.5 93.1,52.4 88.9,53.2 84.7,54 80.5,55 76.4,56.2 72.2,58 68,59.9 63.8,61.6 59.6,63.2 55.5,64.6 51.3,66 47.1,67.4 42.9,68.8 38.7,70.2 34.6,71.8 30.4,73.6 26.2,75.7 22,78.2 17.8,82.3 15.8,84 13.7,84 9.5,84 5.3,84Z" fill="#d3e7ec"/></g><use href="#v7"/><use href="#Mr"/><path clip-path="url(#c)" d="M5.3,84 7.4,84 9.5,84 11.6,84 13.7,84 15.8,84 17.8,82.1 19.9,79.3 22,77.7 24.1,76.3 26.2,75 28.3,73.8 30.4,72.8 32.5,71.7 34.6,70.7 36.6,69.8 38.7,69 40.8,68.1 42.9,67.4 45,66.6 47.1,65.8 49.2,65.1 51.3,64.3 53.4,63.5 55.5,62.7 57.5,61.9 59.6,61.1 61.7,60.2 63.8,59.4 65.9,58.4 68,57.3 70.1,56.2 72.2,55.1 74.3,54 76.4,53 78.4,52.2 80.5,51.4 82.6,50.8 84.7,50.2 86.8,49.6 88.9,49 91,48.5 93.1,47.9 95.2,47.3 97.3,46.7 99.3,46.1 101.4,45.5 103.5,44.9 105.6,44.3 107.7,43.7 109.8,43.1 111.9,42.5 114,41.9 116.1,41.2 118.2,40.6 120.2,40 122.3,39.4" fill="none" stroke="#000" stroke-width="8.2" stroke-linejoin="round" stroke-linecap="round"/><use href="#t"/><use href="#Fr"/></g>
<g transform="translate(1702.2,579.8)"><g clip-path="url(#c)"><path d="M5.3,84 9.5,84 11.6,84 13.7,82.6 17.8,77.9 22,73.8 26.2,69.8 30.4,66.1 34.6,63.3 38.7,61.5 42.9,60 47.1,58.5 51.3,57 55.5,55.4 59.6,53.9 63.8,52.4 68,50.7 72.2,49.1 76.4,47.5 80.5,46 84.7,44.5 88.9,43.1 93.1,41.6 97.3,40 101.4,38.3 105.6,36.5 109.8,34.7 114,32.8 118.2,30.9 122.3,28.9 122.3,62 118.2,62.7 114,63.4 109.8,64.1 105.6,64.7 101.4,65.2 97.3,65.7 93.1,66.1 88.9,66.4 84.7,66.6 80.5,66.8 76.4,67.1 72.2,67.5 68,67.9 63.8,68.3 59.6,68.8 55.5,69.3 51.3,69.8 47.1,70.2 42.9,70.6 38.7,70.9 34.6,71.6 30.4,73.1 26.2,75.5 22,78.2 17.8,80.9 13.7,83.8 11.6,84 9.5,84 5.3,84Z" fill="#93bcdc"/><path d="M5.3,84 9.5,84 11.6,84 13.7,82.6 17.8,77.9 22,73.8 26.2,69.8 30.4,66.1 34.6,63.3 38.7,61.5 42.9,60 47.1,58.5 51.3,57 55.5,55.4 59.6,53.9 63.8,52.4 68,50.7 72.2,49.1 76.4,47.5 80.5,46 84.7,44.5 88.9,43.1 93.1,41.6 97.3,40 101.4,38.3 105.6,36.5 109.8,34.7 114,32.8 118.2,30.9 122.3,28.9M5.3,84 9.5,84 11.6,84 13.7,83.8 17.8,80.9 22,78.2 26.2,75.5 30.4,73.1 34.6,71.6 38.7,70.9 42.9,70.6 47.1,70.2 51.3,69.8 55.5,69.3 59.6,68.8 63.8,68.3 68,67.9 72.2,67.5 76.4,67.1 80.5,66.8 84.7,66.6 88.9,66.4 93.1,66.1 97.3,65.7 101.4,65.2 105.6,64.7 109.8,64.1 114,63.4 118.2,62.7 122.3,62" fill="none" stroke="#5a9ccd" stroke-width="2"/><path d="M5.3,84 9.5,84 11.6,84 13.7,82.8 17.8,78.4 22,74.5 26.2,70.7 30.4,67.3 34.6,64.7 38.7,63.1 42.9,61.7 47.1,60.5 51.3,59.1 55.5,57.8 59.6,56.4 63.8,55.1 68,53.6 72.2,52.2 76.4,50.8 80.5,49.4 84.7,48.2 88.9,47 93.1,45.7 97.3,44.2 101.4,42.7 105.6,41.1 109.8,39.5 114,37.8 118.2,36.1 122.3,34.3 122.3,58.1 118.2,59 114,59.8 109.8,60.6 105.6,61.4 101.4,62.1 97.3,62.7 93.1,63.3 88.9,63.7 84.7,64.1 80.5,64.4 76.4,64.9 72.2,65.4 68,66 63.8,66.5 59.6,67.2 55.5,67.8 51.3,68.4 47.1,68.9 42.9,69.4 38.7,69.9 34.6,70.7 30.4,72.3 26.2,74.9 22,77.7 17.8,80.5 13.7,83.7 11.6,84 9.5,84 5.3,84Z" fill="#f4cca4" stroke="#c4aa90" stroke-width="1.4"/><path d="M5.3,84 9.5,84 11.6,84 13.7,83 17.8,79 22,75.4 26.2,71.9 30.4,68.6 34.6,66.3 38.7,64.9 42.9,63.8 47.1,62.8 51.3,61.6 55.5,60.5 59.6,59.3 63.8,58.2 68,57 72.2,55.7 76.4,54.5 80.5,53.4 84.7,52.4 88.9,51.4 93.1,50.3 97.3,49.1 101.4,47.8 105.6,46.4 109.8,45 114,43.6 118.2,42.1 122.3,40.5 122.3,53.6 118.2,54.7 114,55.7 109.8,56.7 105.6,57.6 101.4,58.5 97.3,59.3 93.1,60 88.9,60.6 84.7,61.1 80.5,61.7 76.4,62.3 72.2,63 68,63.8 63.8,64.5 59.6,65.2 55.5,66 51.3,66.7 47.1,67.4 42.9,68 38.7,68.7 34.6,69.6 30.4,71.4 26.2,74.1 22,77.1 17.8,80.2 13.7,83.5 11.6,84 9.5,84 5.3,84Z" fill="#d3e7ec"/></g><use href="#v8"/><use href="#Mb"/><path clip-path="url(#c)" d="M5.3,84 7.4,84 9.5,84 11.6,84 13.7,83.3 15.8,81.7 17.8,79.7 19.9,77.9 22,76.4 24.1,74.8 26.2,73.2 28.3,71.7 30.4,70.3 32.5,69.2 34.6,68.3 36.6,67.7 38.7,67.2 40.8,66.7 42.9,66.3 45,66 47.1,65.6 49.2,65.1 51.3,64.7 53.4,64.2 55.5,63.8 57.5,63.3 59.6,62.9 61.7,62.4 63.8,62 65.9,61.5 68,61 70.1,60.5 72.2,60.1 74.3,59.6 76.4,59.1 78.4,58.7 80.5,58.3 82.6,57.9 84.7,57.6 86.8,57.2 88.9,56.8 91,56.4 93.1,56 95.2,55.5 97.3,55.1 99.3,54.5 101.4,54 103.5,53.5 105.6,52.9 107.7,52.4 109.8,51.8 111.9,51.2 114,50.6 116.1,50 118.2,49.4 120.2,48.7 122.3,48.1" fill="none" stroke="#000" stroke-width="8.2" stroke-linejoin="round" stroke-linecap="round"/><use href="#t"/><use href="#Fb"/></g>
<g transform="translate(1881.6,579.8)"><g clip-path="url(#c)"><path d="M5.3,84 9.5,84 13.7,84 17.8,78.2 22,73.5 26.2,70 30.4,67 34.6,64.1 38.7,61.3 42.9,58.7 47.1,56.1 51.3,53.7 55.5,51.4 59.6,49.2 63.8,47 68,46.1 72.2,45.2 76.4,44.3 80.5,43.4 84.7,42.4 88.9,41.5 93.1,40.6 97.3,39.9 101.4,39.1 105.6,38.4 109.8,37.6 114,36.9 118.2,36.1 122.3,35.3 122.3,70.5 118.2,70.7 114,71 109.8,71.2 105.6,71.4 101.4,71.6 97.3,71.8 93.1,72.1 88.9,72.4 84.7,72.8 80.5,73.2 76.4,73.6 72.2,74 68,74.4 63.8,74.8 59.6,75.1 55.5,75.4 51.3,75.8 47.1,76.2 42.9,76.7 38.7,77.3 34.6,77.9 30.4,78.5 26.2,79.2 22,80.1 17.8,82 13.7,84 9.5,84 5.3,84Z" fill="#93bcdc"/><path d="M5.3,84 9.5,84 13.7,84 17.8,78.2 22,73.5 26.2,70 30.4,67 34.6,64.1 38.7,61.3 42.9,58.7 47.1,56.1 51.3,53.7 55.5,51.4 59.6,49.2 63.8,47 68,46.1 72.2,45.2 76.4,44.3 80.5,43.4 84.7,42.4 88.9,41.5 93.1,40.6 97.3,39.9 101.4,39.1 105.6,38.4 109.8,37.6 114,36.9 118.2,36.1 122.3,35.3M5.3,84 9.5,84 13.7,84 17.8,82 22,80.1 26.2,79.2 30.4,78.5 34.6,77.9 38.7,77.3 42.9,76.7 47.1,76.2 51.3,75.8 55.5,75.4 59.6,75.1 63.8,74.8 68,74.4 72.2,74 76.4,73.6 80.5,73.2 84.7,72.8 88.9,72.4 93.1,72.1 97.3,71.8 101.4,71.6 105.6,71.4 109.8,71.2 114,71 118.2,70.7 122.3,70.5" fill="none" stroke="#5a9ccd" stroke-width="2"/><path d="M5.3,84 9.5,84 13.7,84 17.8,78.9 22,74.7 26.2,71.8 30.4,69.2 34.6,66.8 38.7,64.4 42.9,62.2 47.1,60 51.3,58 55.5,56.1 59.6,54.2 63.8,52.4 68,51.5 72.2,50.6 76.4,49.7 80.5,48.7 84.7,47.8 88.9,46.9 93.1,46 97.3,45.2 101.4,44.5 105.6,43.8 109.8,43 114,42.2 118.2,41.5 122.3,40.7 122.3,66 118.2,66.4 114,66.8 109.8,67.2 105.6,67.6 101.4,67.9 97.3,68.3 93.1,68.7 88.9,69.1 84.7,69.7 80.5,70.2 76.4,70.8 72.2,71.3 68,71.8 63.8,72.4 59.6,72.8 55.5,73.3 51.3,73.8 47.1,74.4 42.9,75.1 38.7,75.9 34.6,76.7 30.4,77.5 26.2,78.4 22,79.5 17.8,81.7 13.7,84 9.5,84 5.3,84Z" fill="#f4cca4" stroke="#c4aa90" stroke-width="1.4"/><path d="M5.3,84 9.5,84 13.7,84 17.8,79.8 22,76.2 26.2,73.8 30.4,71.8 34.6,69.9 38.7,68 42.9,66.2 47.1,64.5 51.3,62.9 55.5,61.4 59.6,60 63.8,58.6 68,57.7 72.2,56.8 76.4,55.9 80.5,55 84.7,54 88.9,53.1 93.1,52.2 97.3,51.4 101.4,50.7 105.6,50 109.8,49.2 114,48.5 118.2,47.7 122.3,46.9 122.3,60.8 118.2,61.4 114,62 109.8,62.5 105.6,63.1 101.4,63.6 97.3,64.1 93.1,64.7 88.9,65.3 84.7,66.1 80.5,66.8 76.4,67.5 72.2,68.2 68,68.9 63.8,69.6 59.6,70.2 55.5,70.9 51.3,71.6 47.1,72.4 42.9,73.3 38.7,74.3 34.6,75.3 30.4,76.4 26.2,77.5 22,78.8 17.8,81.3 13.7,84 9.5,84 5.3,84Z" fill="#d3e7ec"/></g><use href="#v9"/><use href="#Mk"/><path clip-path="url(#c)" d="M5.3,84 7.4,84 9.5,84 11.6,84 13.7,84 15.8,83 17.8,80.8 19.9,79.1 22,78 24.1,77.1 26.2,76.3 28.3,75.6 30.4,75 32.5,74.3 34.6,73.6 36.6,73 38.7,72.3 40.8,71.7 42.9,71.1 45,70.5 47.1,70 49.2,69.4 51.3,68.9 53.4,68.4 55.5,68 57.5,67.5 59.6,67.1 61.7,66.6 63.8,66.2 65.9,65.7 68,65.3 70.1,64.8 72.2,64.4 74.3,63.9 76.4,63.5 78.4,63 80.5,62.5 82.6,62.1 84.7,61.6 86.8,61.1 88.9,60.7 91,60.2 93.1,59.8 95.2,59.4 97.3,59 99.3,58.7 101.4,58.3 103.5,58 105.6,57.6 107.7,57.2 109.8,56.8 111.9,56.4 114,56.1 116.1,55.7 118.2,55.3 120.2,54.9 122.3,54.5" fill="none" stroke="#000" stroke-width="8.2" stroke-linejoin="round" stroke-linecap="round"/><use href="#t"/><use href="#Fk"/></g>
<g transform="translate(2061,579.8)"><g clip-path="url(#c)"><path d="M5.3,84 9.5,84 13.7,84 17.8,79.2 22,75.2 26.2,72.6 30.4,70.4 34.6,68.3 38.7,66.2 42.9,64.1 47.1,62.2 51.3,60.4 55.5,58.7 59.6,57.1 63.8,55.5 68,53.9 72.2,52.3 76.4,50.6 80.5,48.6 84.7,46.3 88.9,43.9 93.1,41.6 97.3,39.6 101.4,37.8 105.6,35.8 109.8,33.6 114,31.1 118.2,28.5 122.3,25.7 122.3,52.4 118.2,54 114,55.5 109.8,56.8 105.6,57.9 101.4,58.7 97.3,59.4 93.1,60.3 88.9,61.4 84.7,62.7 80.5,63.9 76.4,64.7 72.2,65.2 68,65.7 63.8,66.2 59.6,67.1 55.5,67.9 51.3,68.9 47.1,69.9 42.9,71 38.7,72.3 34.6,73.6 30.4,74.8 26.2,76.1 22,77.7 17.8,80.7 13.7,84 9.5,84 5.3,84Z" fill="#93bcdc"/><path d="M5.3,84 9.5,84 13.7,84 17.8,79.2 22,75.2 26.2,72.6 30.4,70.4 34.6,68.3 38.7,66.2 42.9,64.1 47.1,62.2 51.3,60.4 55.5,58.7 59.6,57.1 63.8,55.5 68,53.9 72.2,52.3 76.4,50.6 80.5,48.6 84.7,46.3 88.9,43.9 93.1,41.6 97.3,39.6 101.4,37.8 105.6,35.8 109.8,33.6 114,31.1 118.2,28.5 122.3,25.7M5.3,84 9.5,84 13.7,84 17.8,80.7 22,77.7 26.2,76.1 30.4,74.8 34.6,73.6 38.7,72.3 42.9,71 47.1,69.9 51.3,68.9 55.5,67.9 59.6,67.1 63.8,66.2 68,65.7 72.2,65.2 76.4,64.7 80.5,63.9 84.7,62.7 88.9,61.4 93.1,60.3 97.3,59.4 101.4,58.7 105.6,57.9 109.8,56.8 114,55.5 118.2,54 122.3,52.4" fill="none" stroke="#5a9ccd" stroke-width="2"/><path d="M5.3,84 9.5,84 13.7,84 17.8,79.5 22,75.6 26.2,73.2 30.4,71.2 34.6,69.2 38.7,67.2 42.9,65.3 47.1,63.5 51.3,61.8 55.5,60.3 59.6,58.8 63.8,57.3 68,55.8 72.2,54.4 76.4,52.8 80.5,50.9 84.7,48.8 88.9,46.5 93.1,44.3 97.3,42.5 101.4,40.7 105.6,38.9 109.8,36.8 114,34.5 118.2,31.9 122.3,29.2 122.3,48.5 118.2,50.3 114,52 109.8,53.5 105.6,54.8 101.4,55.8 97.3,56.7 93.1,57.8 88.9,59.1 84.7,60.6 80.5,61.9 76.4,62.9 72.2,63.7 68,64.3 63.8,65 59.6,66 55.5,66.9 51.3,67.9 47.1,69 42.9,70.3 38.7,71.6 34.6,73 30.4,74.3 26.2,75.7 22,77.4 17.8,80.5 13.7,84 9.5,84 5.3,84Z" fill="#f4cca4" stroke="#c4aa90" stroke-width="1.4"/><path d="M5.3,84 9.5,84 13.7,84 17.8,79.7 22,76.1 26.2,73.9 30.4,72 34.6,70.2 38.7,68.4 42.9,66.7 47.1,65 51.3,63.5 55.5,62.1 59.6,60.8 63.8,59.4 68,58.1 72.2,56.7 76.4,55.3 80.5,53.6 84.7,51.6 88.9,49.4 93.1,47.4 97.3,45.7 101.4,44.1 105.6,42.4 109.8,40.5 114,38.3 118.2,35.9 122.3,33.4 122.3,44 118.2,46 114,48 109.8,49.7 105.6,51.2 101.4,52.4 97.3,53.6 93.1,54.8 88.9,56.4 84.7,58.1 80.5,59.6 76.4,60.9 72.2,61.9 68,62.7 63.8,63.6 59.6,64.7 55.5,65.7 51.3,66.8 47.1,68.1 42.9,69.4 38.7,70.8 34.6,72.3 30.4,73.8 26.2,75.3 22,77.1 17.8,80.3 13.7,84 9.5,84 5.3,84Z" fill="#d3e7ec"/></g><use href="#v10"/><use href="#Mr"/><path clip-path="url(#c)" d="M5.3,84 7.4,84 9.5,84 11.6,84 13.7,84 15.8,82.7 17.8,80.1 19.9,77.9 22,76.7 24.1,75.6 26.2,74.7 28.3,73.9 30.4,73.1 32.5,72.3 34.6,71.5 36.6,70.7 38.7,69.9 40.8,69.1 42.9,68.3 45,67.6 47.1,66.9 49.2,66.2 51.3,65.5 53.4,64.9 55.5,64.3 57.5,63.7 59.6,63.2 61.7,62.6 63.8,62 65.9,61.4 68,60.8 70.1,60.2 72.2,59.6 74.3,59 76.4,58.4 78.4,57.7 80.5,56.9 82.6,56 84.7,55 86.8,54 88.9,53.1 91,52.1 93.1,51.2 95.2,50.4 97.3,49.7 99.3,49 101.4,48.3 103.5,47.5 105.6,46.8 107.7,45.9 109.8,45 111.9,44 114,43 116.1,41.9 118.2,40.8 120.2,39.7 122.3,38.5" fill="none" stroke="#000" stroke-width="8.2" stroke-linejoin="round" stroke-linecap="round"/><use href="#t"/><use href="#Fr"/></g>
<g transform="translate(267.1,697.8)"><g clip-path="url(#c)"><path d="M5.3,84 9.5,84 11.6,84 13.7,81.7 17.8,76 22,71.3 26.2,67.3 30.4,63.7 34.6,60.2 38.7,56.9 42.9,53.7 47.1,50.7 51.3,47.6 55.5,44.7 59.6,41.7 63.8,38.6 68,36.9 72.2,35 76.4,33.1 80.5,31.5 84.7,30.2 88.9,28.9 93.1,27.3 97.3,25 101.4,22.2 105.6,19.3 109.8,16.8 114,14.5 118.2,12.3 122.3,10.3 122.3,79.7 118.2,79.8 114,79.9 109.8,80.2 105.6,80.7 101.4,81.5 97.3,82.3 93.1,82.6 88.9,82.1 84.7,81.4 80.5,80.7 76.4,80.3 72.2,80.1 68,80 63.8,79.7 59.6,80.1 55.5,80.4 51.3,80.6 47.1,80.9 42.9,81 38.7,81.2 34.6,81.5 30.4,81.8 26.2,82.1 22,82.6 17.8,83.5 13.7,84 11.6,84 9.5,84 5.3,84Z" fill="#93bcdc"/><path d="M5.3,84 9.5,84 11.6,84 13.7,81.7 17.8,76 22,71.3 26.2,67.3 30.4,63.7 34.6,60.2 38.7,56.9 42.9,53.7 47.1,50.7 51.3,47.6 55.5,44.7 59.6,41.7 63.8,38.6 68,36.9 72.2,35 76.4,33.1 80.5,31.5 84.7,30.2 88.9,28.9 93.1,27.3 97.3,25 101.4,22.2 105.6,19.3 109.8,16.8 114,14.5 118.2,12.3 122.3,10.3M5.3,84 9.5,84 11.6,84 13.7,84 17.8,83.5 22,82.6 26.2,82.1 30.4,81.8 34.6,81.5 38.7,81.2 42.9,81 47.1,80.9 51.3,80.6 55.5,80.4 59.6,80.1 63.8,79.7 68,80 72.2,80.1 76.4,80.3 80.5,80.7 84.7,81.4 88.9,82.1 93.1,82.6 97.3,82.3 101.4,81.5 105.6,80.7 109.8,80.2 114,79.9 118.2,79.8 122.3,79.7" fill="none" stroke="#5a9ccd" stroke-width="2"/><path d="M5.3,84 9.5,84 11.6,84 13.7,82.2 17.8,77.1 22,72.9 26.2,69.5 30.4,66.3 34.6,63.3 38.7,60.4 42.9,57.7 47.1,55.1 51.3,52.4 55.5,49.9 59.6,47.3 63.8,44.6 68,42.8 72.2,40.8 76.4,38.9 80.5,37.2 84.7,35.9 88.9,34.5 93.1,32.9 97.3,30.5 101.4,27.6 105.6,24.7 109.8,22.2 114,19.8 118.2,17.5 122.3,15.4 122.3,41.4 118.2,43.1 114,45 109.8,46.9 105.6,49.1 101.4,51.6 97.3,54 93.1,56 88.9,57.2 84.7,58.2 80.5,59.2 76.4,60.4 72.2,61.9 68,63.5 63.8,64.9 59.6,66.2 55.5,67.5 51.3,68.7 47.1,70 42.9,71.2 38.7,72.4 34.6,73.8 30.4,75.2 26.2,76.8 22,78.5 17.8,80.8 13.7,83.5 11.6,84 9.5,84 5.3,84Z" fill="#f4cca4" stroke="#c4aa90" stroke-width="1.4"/><path d="M5.3,84 9.5,84 11.6,84 13.7,82.7 17.8,78.3 22,74.8 26.2,72 30.4,69.3 34.6,66.8 38.7,64.5 42.9,62.3 47.1,60.1 51.3,58 55.5,55.9 59.6,53.7 63.8,51.5 68,49.6 72.2,47.6 76.4,45.6 80.5,43.9 84.7,42.4 88.9,41 93.1,39.3 97.3,36.9 101.4,33.9 105.6,30.9 109.8,28.3 114,25.9 118.2,23.6 122.3,21.4 122.3,35.7 118.2,37.6 114,39.7 109.8,41.9 105.6,44.3 101.4,47.1 97.3,49.8 93.1,52 88.9,53.5 84.7,54.7 80.5,55.9 76.4,57.4 72.2,59.2 68,61 63.8,62.6 59.6,64.2 55.5,65.5 51.3,66.9 47.1,68.3 42.9,69.7 38.7,71.1 34.6,72.6 30.4,74.3 26.2,76 22,77.9 17.8,80.4 13.7,83.4 11.6,84 9.5,84 5.3,84Z" fill="#d3e7ec"/></g><use href="#v0"/><use href="#h3"/><use href="#Mr"/><path clip-path="url(#c)" d="M5.3,84 7.4,84 9.5,84 11.6,84 13.7,83.3 15.8,81.8 17.8,79.9 19.9,78.3 22,77.1 24.1,76 26.2,75 28.3,74 30.4,73 32.5,72.1 34.6,71.2 36.6,70.3 38.7,69.5 40.8,68.7 42.9,67.9 45,67.1 47.1,66.3 49.2,65.5 51.3,64.7 53.4,64 55.5,63.2 57.5,62.4 59.6,61.6 61.7,60.8 63.8,59.9 65.9,59 68,58 70.1,56.9 72.2,55.8 74.3,54.8 76.4,53.8 78.4,52.8 80.5,52 82.6,51.2 84.7,50.5 86.8,49.7 88.9,49 91,48.1 93.1,47.1 95.2,46 97.3,44.6 99.3,43.2 101.4,41.6 103.5,40 105.6,38.5 107.7,37.1 109.8,35.8 111.9,34.6 114,33.3 116.1,32.1 118.2,30.9 120.2,29.8 122.3,28.7" fill="none" stroke="#000" stroke-width="8.2" stroke-linejoin="round" stroke-linecap="round"/><use href="#t"/><use href="#Fr"/></g>
<g transform="translate(446.5,697.8)"><g clip-path="url(#c)"><path d="M5.3,84 9.5,84 13.7,84 15.8,84 17.8,81.8 22,77.1 26.2,73.9 30.4,71.2 34.6,68.5 38.7,65.9 42.9,63.5 47.1,61.1 51.3,58.6 55.5,56.2 59.6,53.8 63.8,51.3 68,48.1 72.2,44.9 76.4,41.8 80.5,38.6 84.7,35.4 88.9,32.2 93.1,29 97.3,25.8 101.4,22.5 105.6,19.4 109.8,16.3 114,13.3 118.2,10.3 122.3,7.5 122.3,55.6 118.2,56.2 114,56.8 109.8,57.5 105.6,58.2 101.4,59.1 97.3,60 93.1,60.9 88.9,61.8 84.7,62.6 80.5,63.5 76.4,64.4 72.2,65.3 68,66.1 63.8,67 59.6,68.3 55.5,69.7 51.3,70.9 47.1,72.2 42.9,73.4 38.7,74.6 34.6,75.9 30.4,77.2 26.2,78.5 22,80.1 17.8,83.1 15.8,84 13.7,84 9.5,84 5.3,84Z" fill="#93bcdc"/><path d="M5.3,84 9.5,84 13.7,84 15.8,84 17.8,81.8 22,77.1 26.2,73.9 30.4,71.2 34.6,68.5 38.7,65.9 42.9,63.5 47.1,61.1 51.3,58.6 55.5,56.2 59.6,53.8 63.8,51.3 68,48.1 72.2,44.9 76.4,41.8 80.5,38.6 84.7,35.4 88.9,32.2 93.1,29 97.3,25.8 101.4,22.5 105.6,19.4 109.8,16.3 114,13.3 118.2,10.3 122.3,7.5M5.3,84 9.5,84 13.7,84 15.8,84 17.8,83.1 22,80.1 26.2,78.5 30.4,77.2 34.6,75.9 38.7,74.6 42.9,73.4 47.1,72.2 51.3,70.9 55.5,69.7 59.6,68.3 63.8,67 68,66.1 72.2,65.3 76.4,64.4 80.5,63.5 84.7,62.6 88.9,61.8 93.1,60.9 97.3,60 101.4,59.1 105.6,58.2 109.8,57.5 114,56.8 118.2,56.2 122.3,55.6" fill="none" stroke="#5a9ccd" stroke-width="2"/><path d="M5.3,84 9.5,84 13.7,84 15.8,84 17.8,81.9 22,77.4 26.2,74.4 30.4,71.8 34.6,69.3 38.7,66.8 42.9,64.5 47.1,62.2 51.3,59.9 55.5,57.6 59.6,55.2 63.8,52.9 68,50.1 72.2,47.2 76.4,44.3 80.5,41.5 84.7,38.6 88.9,35.7 93.1,32.9 97.3,30 101.4,27.1 105.6,24.2 109.8,21.5 114,18.8 118.2,16.2 122.3,13.6 122.3,48.3 118.2,49.2 114,50.1 109.8,51.1 105.6,52.2 101.4,53.4 97.3,54.6 93.1,55.8 88.9,57 84.7,58.2 80.5,59.4 76.4,60.6 72.2,61.8 68,63 63.8,64.2 59.6,65.7 55.5,67.3 51.3,68.8 47.1,70.2 42.9,71.6 38.7,73.1 34.6,74.6 30.4,76.1 26.2,77.7 22,79.6 17.8,82.8 15.8,84 13.7,84 9.5,84 5.3,84Z" fill="#f4cca4" stroke="#c4aa90" stroke-width="1.4"/><path d="M5.3,84 9.5,84 13.7,84 15.8,84 17.8,82.1 22,77.7 26.2,74.9 30.4,72.5 34.6,70.1 38.7,67.8 42.9,65.7 47.1,63.5 51.3,61.3 55.5,59.1 59.6,57 63.8,54.8 68,52.3 72.2,49.8 76.4,47.3 80.5,44.8 84.7,42.3 88.9,39.8 93.1,37.4 97.3,34.8 101.4,32.3 105.6,29.8 109.8,27.5 114,25.2 118.2,22.9 122.3,20.8 122.3,39.8 118.2,41.1 114,42.4 109.8,43.8 105.6,45.2 101.4,46.8 97.3,48.4 93.1,50 88.9,51.6 84.7,53.1 80.5,54.7 76.4,56.3 72.2,57.8 68,59.4 63.8,61 59.6,62.7 55.5,64.5 51.3,66.2 47.1,67.9 42.9,69.6 38.7,71.3 34.6,73.1 30.4,74.9 26.2,76.7 22,78.9 17.8,82.6 15.8,84 13.7,84 9.5,84 5.3,84Z" fill="#d3e7ec"/></g><use href="#v1"/><use href="#h3"/><use href="#Mr"/><path clip-path="url(#c)" d="M5.3,84 7.4,84 9.5,84 11.6,84 13.7,84 15.8,84 17.8,82.3 19.9,79.7 22,78.2 24.1,76.8 26.2,75.6 28.3,74.4 30.4,73.4 32.5,72.3 34.6,71.2 36.6,70.1 38.7,69.1 40.8,68.1 42.9,67.1 45,66.1 47.1,65.1 49.2,64.1 51.3,63.1 53.4,62.1 55.5,61.1 57.5,60.1 59.6,59.1 61.7,58 63.8,57 65.9,56 68,55 70.1,54 72.2,53 74.3,52 76.4,50.9 78.4,49.9 80.5,48.9 82.6,47.9 84.7,46.9 86.8,45.9 88.9,44.9 91,43.9 93.1,42.8 95.2,41.8 97.3,40.8 99.3,39.8 101.4,38.7 103.5,37.7 105.6,36.7 107.7,35.7 109.8,34.8 111.9,33.9 114,33 116.1,32.1 118.2,31.2 120.2,30.3 122.3,29.5" fill="none" stroke="#000" stroke-width="8.2" stroke-linejoin="round" stroke-linecap="round"/><use href="#t"/><use href="#Fr"/></g>
<g transform="translate(625.9,697.8)"><g clip-path="url(#c)"><path d="M5.3,84 9.5,84 13.7,84 15.8,84 17.8,80.9 22,74.9 26.2,71.4 30.4,68.5 34.6,65.8 38.7,63.3 42.9,61.1 47.1,58.9 51.3,56.6 55.5,54.2 59.6,51.9 63.8,49.9 68,47.7 72.2,45.6 76.4,43.5 80.5,41.1 84.7,38.4 88.9,35.6 93.1,32.9 97.3,30.2 101.4,27.5 105.6,24.8 109.8,22.2 114,19.6 118.2,17 122.3,14.5 122.3,47.1 118.2,48.4 114,49.6 109.8,50.9 105.6,52.2 101.4,53.6 97.3,54.9 93.1,56.3 88.9,57.8 84.7,59.2 80.5,60.5 76.4,61.6 72.2,62.4 68,63.2 63.8,64.1 59.6,65.1 55.5,66.4 51.3,67.8 47.1,69 42.9,70 38.7,71.2 34.6,72.5 30.4,73.9 26.2,75.6 22,77.7 17.8,82.1 15.8,84 13.7,84 9.5,84 5.3,84Z" fill="#93bcdc"/><path d="M5.3,84 9.5,84 13.7,84 15.8,84 17.8,80.9 22,74.9 26.2,71.4 30.4,68.5 34.6,65.8 38.7,63.3 42.9,61.1 47.1,58.9 51.3,56.6 55.5,54.2 59.6,51.9 63.8,49.9 68,47.7 72.2,45.6 76.4,43.5 80.5,41.1 84.7,38.4 88.9,35.6 93.1,32.9 97.3,30.2 101.4,27.5 105.6,24.8 109.8,22.2 114,19.6 118.2,17 122.3,14.5M5.3,84 9.5,84 13.7,84 15.8,84 17.8,82.1 22,77.7 26.2,75.6 30.4,73.9 34.6,72.5 38.7,71.2 42.9,70 47.1,69 51.3,67.8 55.5,66.4 59.6,65.1 63.8,64.1 68,63.2 72.2,62.4 76.4,61.6 80.5,60.5 84.7,59.2 88.9,57.8 93.1,56.3 97.3,54.9 101.4,53.6 105.6,52.2 109.8,50.9 114,49.6 118.2,48.4 122.3,47.1" fill="none" stroke="#5a9ccd" stroke-width="2"/><path d="M5.3,84 9.5,84 13.7,84 15.8,84 17.8,81.1 22,75.4 26.2,72.1 30.4,69.4 34.6,66.9 38.7,64.6 42.9,62.6 47.1,60.6 51.3,58.5 55.5,56.3 59.6,54.2 63.8,52.3 68,50.4 72.2,48.6 76.4,46.9 80.5,44.8 84.7,42.5 88.9,40.1 93.1,37.7 97.3,35.3 101.4,33 105.6,30.6 109.8,28.3 114,26.1 118.2,23.8 122.3,21.6 122.3,45.1 118.2,46.4 114,47.7 109.8,49 105.6,50.3 101.4,51.7 97.3,53.1 93.1,54.5 88.9,56 84.7,57.5 80.5,58.8 76.4,59.9 72.2,60.8 68,61.6 63.8,62.5 59.6,63.7 55.5,65 51.3,66.5 47.1,67.8 42.9,69 38.7,70.3 34.6,71.7 30.4,73.3 26.2,75.1 22,77.4 17.8,81.9 15.8,84 13.7,84 9.5,84 5.3,84Z" fill="#f4cca4" stroke="#c4aa90" stroke-width="1.4"/><path d="M5.3,84 9.5,84 13.7,84 15.8,84 17.8,81.3 22,75.9 26.2,72.9 30.4,70.4 34.6,68.2 38.7,66.2 42.9,64.3 47.1,62.5 51.3,60.6 55.5,58.6 59.6,56.7 63.8,55.1 68,53.5 72.2,52.2 76.4,50.8 80.5,49.1 84.7,47.2 88.9,45.2 93.1,43.2 97.3,41.2 101.4,39.3 105.6,37.3 109.8,35.4 114,33.6 118.2,31.7 122.3,29.9 122.3,42.8 118.2,44.1 114,45.4 109.8,46.8 105.6,48.2 101.4,49.6 97.3,51 93.1,52.5 88.9,54 84.7,55.5 80.5,56.9 76.4,58 72.2,58.8 68,59.7 63.8,60.7 59.6,61.9 55.5,63.5 51.3,65.1 47.1,66.5 42.9,67.9 38.7,69.3 34.6,70.9 30.4,72.6 26.2,74.5 22,77 17.8,81.8 15.8,84 13.7,84 9.5,84 5.3,84Z" fill="#d3e7ec"/></g><use href="#v2"/><use href="#h3"/><use href="#Mr"/><path clip-path="url(#c)" d="M5.3,84 7.4,84 9.5,84 11.6,84 13.7,84 15.8,84 17.8,81.6 19.9,78.3 22,76.6 24.1,75.1 26.2,73.9 28.3,72.8 30.4,71.7 32.5,70.8 34.6,69.8 36.6,68.9 38.7,68 40.8,67.2 42.9,66.4 45,65.7 47.1,64.9 49.2,64.1 51.3,63.3 53.4,62.4 55.5,61.5 57.5,60.7 59.6,59.8 61.7,59.1 63.8,58.4 65.9,57.9 68,57.4 70.1,56.9 72.2,56.5 74.3,56.1 76.4,55.6 78.4,55.1 80.5,54.4 82.6,53.8 84.7,53 86.8,52.2 88.9,51.5 91,50.7 93.1,49.9 95.2,49.2 97.3,48.5 99.3,47.7 101.4,47 103.5,46.2 105.6,45.5 107.7,44.8 109.8,44.1 111.9,43.4 114,42.7 116.1,42 118.2,41.4 120.2,40.7 122.3,40" fill="none" stroke="#000" stroke-width="8.2" stroke-linejoin="round" stroke-linecap="round"/><use href="#t"/><use href="#Fr"/></g>
<g transform="translate(805.3,697.8)"><g clip-path="url(#c)"><path d="M5.3,84 9.5,84 13.7,84 17.8,80.2 22,76.4 26.2,73 30.4,69.8 34.6,67 38.7,64.6 42.9,62.4 47.1,60.2 51.3,57.8 55.5,55.2 59.6,52.5 63.8,49.9 68,47.5 72.2,45.2 76.4,43 80.5,40.7 84.7,38.4 88.9,36.1 93.1,33.6 97.3,31.1 101.4,28.3 105.6,25.5 109.8,22.6 114,19.5 118.2,16.4 122.3,13.1 122.3,47.1 118.2,49.2 114,51.2 109.8,53 105.6,54.7 101.4,56.3 97.3,57.8 93.1,59.2 88.9,60.4 84.7,61.5 80.5,62.6 76.4,63.7 72.2,64.8 68,65.8 63.8,67 59.6,68.4 55.5,69.9 51.3,71.4 47.1,72.6 42.9,73.5 38.7,74.4 34.6,75.5 30.4,76.9 26.2,78.6 22,80.4 17.8,82.6 13.7,84 9.5,84 5.3,84Z" fill="#93bcdc"/><path d="M5.3,84 9.5,84 13.7,84 17.8,80.2 22,76.4 26.2,73 30.4,69.8 34.6,67 38.7,64.6 42.9,62.4 47.1,60.2 51.3,57.8 55.5,55.2 59.6,52.5 63.8,49.9 68,47.5 72.2,45.2 76.4,43 80.5,40.7 84.7,38.4 88.9,36.1 93.1,33.6 97.3,31.1 101.4,28.3 105.6,25.5 109.8,22.6 114,19.5 118.2,16.4 122.3,13.1M5.3,84 9.5,84 13.7,84 17.8,82.6 22,80.4 26.2,78.6 30.4,76.9 34.6,75.5 38.7,74.4 42.9,73.5 47.1,72.6 51.3,71.4 55.5,69.9 59.6,68.4 63.8,67 68,65.8 72.2,64.8 76.4,63.7 80.5,62.6 84.7,61.5 88.9,60.4 93.1,59.2 97.3,57.8 101.4,56.3 105.6,54.7 109.8,53 114,51.2 118.2,49.2 122.3,47.1" fill="none" stroke="#5a9ccd" stroke-width="2"/><path d="M5.3,84 9.5,84 13.7,84 17.8,80.6 22,76.9 26.2,73.8 30.4,70.8 34.6,68.2 38.7,65.9 42.9,64 47.1,62 51.3,59.7 55.5,57.2 59.6,54.7 63.8,52.3 68,50.1 72.2,48 76.4,46 80.5,43.9 84.7,41.8 88.9,39.7 93.1,37.4 97.3,35 101.4,32.5 105.6,29.9 109.8,27.2 114,24.3 118.2,21.3 122.3,18.2 122.3,42.8 118.2,45 114,47.1 109.8,49.1 105.6,50.9 101.4,52.7 97.3,54.3 93.1,55.8 88.9,57.2 84.7,58.4 80.5,59.7 76.4,60.9 72.2,62.1 68,63.3 63.8,64.6 59.6,66.1 55.5,67.8 51.3,69.5 47.1,70.8 42.9,71.9 38.7,73 34.6,74.3 30.4,75.9 26.2,77.8 22,79.9 17.8,82.3 13.7,84 9.5,84 5.3,84Z" fill="#f4cca4" stroke="#c4aa90" stroke-width="1.4"/><path d="M5.3,84 9.5,84 13.7,84 17.8,80.9 22,77.6 26.2,74.7 30.4,72 34.6,69.5 38.7,67.5 42.9,65.7 47.1,63.9 51.3,61.9 55.5,59.6 59.6,57.2 63.8,55.1 68,53.1 72.2,51.2 76.4,49.4 80.5,47.5 84.7,45.7 88.9,43.8 93.1,41.8 97.3,39.6 101.4,37.3 105.6,34.9 109.8,32.4 114,29.8 118.2,27.1 122.3,24.2 122.3,37.7 118.2,40.1 114,42.4 109.8,44.5 105.6,46.5 101.4,48.4 97.3,50.2 93.1,51.9 88.9,53.4 84.7,54.8 80.5,56.2 76.4,57.6 72.2,59 68,60.3 63.8,61.8 59.6,63.5 55.5,65.4 51.3,67.3 47.1,68.8 42.9,70.1 38.7,71.4 34.6,72.9 30.4,74.8 26.2,76.9 22,79.2 17.8,81.9 13.7,84 9.5,84 5.3,84Z" fill="#d3e7ec"/></g><use href="#v3"/><use href="#h3"/><use href="#Mr"/><path clip-path="url(#c)" d="M5.3,84 7.4,84 9.5,84 11.6,84 13.7,84 15.8,83.2 17.8,81.4 19.9,79.7 22,78.4 24.1,77.1 26.2,75.8 28.3,74.5 30.4,73.3 32.5,72.2 34.6,71.2 36.6,70.3 38.7,69.5 40.8,68.7 42.9,67.9 45,67.2 47.1,66.4 49.2,65.5 51.3,64.6 53.4,63.6 55.5,62.5 57.5,61.4 59.6,60.4 61.7,59.4 63.8,58.4 65.9,57.6 68,56.7 70.1,55.9 72.2,55.2 74.3,54.4 76.4,53.6 78.4,52.8 80.5,52 82.6,51.2 84.7,50.5 86.8,49.7 88.9,48.9 91,48 93.1,47.1 95.2,46.2 97.3,45.3 99.3,44.3 101.4,43.3 103.5,42.2 105.6,41.1 107.7,40 109.8,38.9 111.9,37.8 114,36.6 116.1,35.4 118.2,34.1 120.2,32.8 122.3,31.5" fill="none" stroke="#000" stroke-width="8.2" stroke-linejoin="round" stroke-linecap="round"/><use href="#t"/><use href="#Fr"/></g>
<g transform="translate(984.7,697.8)"><g clip-path="url(#c)"><path d="M5.3,84 9.5,84 11.6,84 13.7,83.2 17.8,79.5 22,76.1 26.2,72.9 30.4,69.8 34.6,67 38.7,64.5 42.9,62.3 47.1,60.2 51.3,58.2 55.5,56.4 59.6,54.6 63.8,52.8 68,50.5 72.2,48.2 76.4,46 80.5,44.1 84.7,42.4 88.9,40.7 93.1,38.7 97.3,36.1 101.4,32.9 105.6,29.6 109.8,26.5 114,23.4 118.2,20.4 122.3,17.4 122.3,78.9 118.2,79.4 114,80 109.8,80.5 105.6,81.2 101.4,82 97.3,82.7 93.1,82.9 88.9,82.4 84.7,81.6 80.5,80.8 76.4,80.3 72.2,80.1 68,79.9 63.8,79.7 59.6,79.7 55.5,79.7 51.3,79.8 47.1,79.9 42.9,80.1 38.7,80.4 34.6,80.9 30.4,81.6 26.2,82.6 22,83.5 17.8,84 13.7,84 11.6,84 9.5,84 5.3,84Z" fill="#93bcdc"/><path d="M5.3,84 9.5,84 11.6,84 13.7,83.2 17.8,79.5 22,76.1 26.2,72.9 30.4,69.8 34.6,67 38.7,64.5 42.9,62.3 47.1,60.2 51.3,58.2 55.5,56.4 59.6,54.6 63.8,52.8 68,50.5 72.2,48.2 76.4,46 80.5,44.1 84.7,42.4 88.9,40.7 93.1,38.7 97.3,36.1 101.4,32.9 105.6,29.6 109.8,26.5 114,23.4 118.2,20.4 122.3,17.4M5.3,84 9.5,84 11.6,84 13.7,84 17.8,84 22,83.5 26.2,82.6 30.4,81.6 34.6,80.9 38.7,80.4 42.9,80.1 47.1,79.9 51.3,79.8 55.5,79.7 59.6,79.7 63.8,79.7 68,79.9 72.2,80.1 76.4,80.3 80.5,80.8 84.7,81.6 88.9,82.4 93.1,82.9 97.3,82.7 101.4,82 105.6,81.2 109.8,80.5 114,80 118.2,79.4 122.3,78.9" fill="none" stroke="#5a9ccd" stroke-width="2"/><path d="M5.3,84 9.5,84 11.6,84 13.7,83.2 17.8,79.6 22,76.3 26.2,73.2 30.4,70.1 34.6,67.4 38.7,65 42.9,62.8 47.1,60.8 51.3,58.8 55.5,57 59.6,55.3 63.8,53.6 68,51.5 72.2,49.4 76.4,47.3 80.5,45.5 84.7,44 88.9,42.5 93.1,40.7 97.3,38.2 101.4,35.2 105.6,32 109.8,29.1 114,26.2 118.2,23.4 122.3,20.5 122.3,41.2 118.2,43.2 114,45.1 109.8,47.1 105.6,49.1 101.4,51.3 97.3,53.5 93.1,55 88.9,55.9 84.7,56.5 80.5,57.2 76.4,58.1 72.2,59.2 68,60.4 63.8,61.6 59.6,62.8 55.5,64 51.3,65.3 47.1,66.7 42.9,68.1 38.7,69.7 34.6,71.5 30.4,73.7 26.2,76.1 22,78.5 17.8,81 13.7,83.5 11.6,84 9.5,84 5.3,84Z" fill="#f4cca4" stroke="#c4aa90" stroke-width="1.4"/><path d="M5.3,84 9.5,84 11.6,84 13.7,83.3 17.8,79.8 22,76.6 26.2,73.5 30.4,70.5 34.6,67.8 38.7,65.5 42.9,63.4 47.1,61.4 51.3,59.6 55.5,57.8 59.6,56.2 63.8,54.5 68,52.6 72.2,50.7 76.4,48.8 80.5,47.2 84.7,45.9 88.9,44.6 93.1,42.9 97.3,40.7 101.4,37.9 105.6,34.9 109.8,32.2 114,29.5 118.2,26.8 122.3,24.2 122.3,35.6 118.2,37.7 114,39.9 109.8,42.1 105.6,44.3 101.4,46.8 97.3,49.1 93.1,50.8 88.9,52 84.7,52.8 80.5,53.6 76.4,54.7 72.2,56.1 68,57.5 63.8,58.9 59.6,60.3 55.5,61.7 51.3,63.1 47.1,64.7 42.9,66.3 38.7,68.1 34.6,70.1 30.4,72.5 26.2,75.1 22,77.8 17.8,80.5 13.7,83.5 11.6,84 9.5,84 5.3,84Z" fill="#d3e7ec"/></g><use href="#v4"/><use href="#h3"/><use href="#Mr"/><path clip-path="url(#c)" d="M5.3,84 7.4,84 9.5,84 11.6,84 13.7,83.4 15.8,81.9 17.8,80 19.9,78.3 22,76.9 24.1,75.4 26.2,73.9 28.3,72.4 30.4,71 32.5,69.7 34.6,68.4 36.6,67.3 38.7,66.2 40.8,65.1 42.9,64.1 45,63.2 47.1,62.2 49.2,61.3 51.3,60.4 53.4,59.6 55.5,58.8 57.5,58 59.6,57.2 61.7,56.4 63.8,55.6 65.9,54.8 68,53.9 70.1,53.1 72.2,52.3 74.3,51.4 76.4,50.7 78.4,49.9 80.5,49.3 82.6,48.7 84.7,48.2 86.8,47.7 88.9,47.1 91,46.5 93.1,45.7 95.2,44.8 97.3,43.7 99.3,42.5 101.4,41.1 103.5,39.8 105.6,38.4 107.7,37.1 109.8,35.9 111.9,34.7 114,33.5 116.1,32.3 118.2,31.1 120.2,29.9 122.3,28.7" fill="none" stroke="#000" stroke-width="8.2" stroke-linejoin="round" stroke-linecap="round"/><use href="#t"/><use href="#Fr"/></g>
<g transform="translate(1164,697.8)"><g clip-path="url(#c)"><path d="M5.3,84 9.5,84 13.7,84 17.8,80.2 22,76.5 26.2,73.5 30.4,70.8 34.6,68.4 38.7,66.4 42.9,64.6 47.1,62.9 51.3,61.1 55.5,59.3 59.6,57.5 63.8,55.6 68,53.4 72.2,51 76.4,48.7 80.5,46.7 84.7,44.8 88.9,43 93.1,41.2 97.3,39.4 101.4,37.5 105.6,35.6 109.8,33.6 114,31.6 118.2,29.5 122.3,27.3 122.3,65.5 118.2,66.2 114,66.8 109.8,67.4 105.6,67.8 101.4,68.2 97.3,68.5 93.1,68.8 88.9,69.1 84.7,69.4 80.5,69.7 76.4,70.3 72.2,71.1 68,71.9 63.8,72.6 59.6,73.4 55.5,74 51.3,74.6 47.1,75.1 42.9,75.6 38.7,76.1 34.6,76.8 30.4,77.8 26.2,79.1 22,80.5 17.8,82.5 13.7,84 9.5,84 5.3,84Z" fill="#93bcdc"/><path d="M5.3,84 9.5,84 13.7,84 17.8,80.2 22,76.5 26.2,73.5 30.4,70.8 34.6,68.4 38.7,66.4 42.9,64.6 47.1,62.9 51.3,61.1 55.5,59.3 59.6,57.5 63.8,55.6 68,53.4 72.2,51 76.4,48.7 80.5,46.7 84.7,44.8 88.9,43 93.1,41.2 97.3,39.4 101.4,37.5 105.6,35.6 109.8,33.6 114,31.6 118.2,29.5 122.3,27.3M5.3,84 9.5,84 13.7,84 17.8,82.5 22,80.5 26.2,79.1 30.4,77.8 34.6,76.8 38.7,76.1 42.9,75.6 47.1,75.1 51.3,74.6 55.5,74 59.6,73.4 63.8,72.6 68,71.9 72.2,71.1 76.4,70.3 80.5,69.7 84.7,69.4 88.9,69.1 93.1,68.8 97.3,68.5 101.4,68.2 105.6,67.8 109.8,67.4 114,66.8 118.2,66.2 122.3,65.5" fill="none" stroke="#5a9ccd" stroke-width="2"/><path d="M5.3,84 9.5,84 13.7,84 17.8,80.5 22,77.1 26.2,74.3 30.4,71.8 34.6,69.6 38.7,67.7 42.9,66.1 47.1,64.6 51.3,63 55.5,61.4 59.6,59.7 63.8,58 68,56 72.2,53.8 76.4,51.7 80.5,49.8 84.7,48.1 88.9,46.5 93.1,44.9 97.3,43.2 101.4,41.5 105.6,39.8 109.8,38 114,36.1 118.2,34.2 122.3,32.2 122.3,59.7 118.2,60.6 114,61.5 109.8,62.3 105.6,63 101.4,63.6 97.3,64.2 93.1,64.7 88.9,65.3 84.7,65.8 80.5,66.4 76.4,67.2 72.2,68.2 68,69.3 63.8,70.2 59.6,71.1 55.5,71.9 51.3,72.7 47.1,73.4 42.9,74.1 38.7,74.8 34.6,75.6 30.4,76.8 26.2,78.3 22,80 17.8,82.2 13.7,84 9.5,84 5.3,84Z" fill="#f4cca4" stroke="#c4aa90" stroke-width="1.4"/><path d="M5.3,84 9.5,84 13.7,84 17.8,80.9 22,77.7 26.2,75.2 30.4,72.9 34.6,70.9 38.7,69.3 42.9,67.9 47.1,66.6 51.3,65.1 55.5,63.7 59.6,62.3 63.8,60.8 68,58.9 72.2,57 76.4,55 80.5,53.4 84.7,51.9 88.9,50.5 93.1,49.1 97.3,47.6 101.4,46.2 105.6,44.7 109.8,43.1 114,41.4 118.2,39.7 122.3,37.9 122.3,53 118.2,54.2 114,55.4 109.8,56.4 105.6,57.4 101.4,58.3 97.3,59.2 93.1,60 88.9,60.8 84.7,61.6 80.5,62.5 76.4,63.6 72.2,64.9 68,66.3 63.8,67.5 59.6,68.6 55.5,69.5 51.3,70.5 47.1,71.4 42.9,72.3 38.7,73.2 34.6,74.3 30.4,75.7 26.2,77.4 22,79.3 17.8,81.8 13.7,84 9.5,84 5.3,84Z" fill="#d3e7ec"/></g><use href="#v5"/><use href="#h3"/><use href="#Mr"/><path clip-path="url(#c)" d="M5.3,84 7.4,84 9.5,84 11.6,84 13.7,84 15.8,83.2 17.8,81.4 19.9,79.7 22,78.5 24.1,77.4 26.2,76.3 28.3,75.3 30.4,74.3 32.5,73.4 34.6,72.6 36.6,71.9 38.7,71.3 40.8,70.7 42.9,70.1 45,69.6 47.1,69 49.2,68.4 51.3,67.8 53.4,67.2 55.5,66.6 57.5,66 59.6,65.4 61.7,64.8 63.8,64.1 65.9,63.4 68,62.6 70.1,61.7 72.2,60.8 74.3,60 76.4,59.2 78.4,58.4 80.5,57.8 82.6,57.1 84.7,56.5 86.8,56 88.9,55.4 91,54.8 93.1,54.2 95.2,53.6 97.3,53 99.3,52.4 101.4,51.8 103.5,51.2 105.6,50.6 107.7,49.9 109.8,49.3 111.9,48.6 114,47.8 116.1,47.1 118.2,46.4 120.2,45.6 122.3,44.8" fill="none" stroke="#000" stroke-width="8.2" stroke-linejoin="round" stroke-linecap="round"/><use href="#t"/><use href="#Fr"/></g>
<g transform="translate(1343.4,697.8)"><g clip-path="url(#c)"><path d="M5.3,84 9.5,84 13.7,84 15.8,84 17.8,80.6 22,74.2 26.2,69.4 30.4,65.3 34.6,61.8 38.7,58.9 42.9,56.4 47.1,53.9 51.3,51.5 55.5,49.1 59.6,46.7 63.8,44.2 68,41.9 72.2,39.5 76.4,37.1 80.5,34.7 84.7,32.3 88.9,29.9 93.1,27.5 97.3,25.1 101.4,22.8 105.6,20.4 109.8,17.9 114,15.4 118.2,12.8 122.3,10.3 122.3,58.4 118.2,59.5 114,60.5 109.8,61.5 105.6,62.5 101.4,63.4 97.3,64.2 93.1,65.1 88.9,66 84.7,66.9 80.5,67.8 76.4,68.6 72.2,69.5 68,70.4 63.8,71.2 59.6,71.7 55.5,72.2 51.3,72.6 47.1,73.1 42.9,73.5 38.7,73.9 34.6,74.6 30.4,75.7 26.2,77.4 22,79.5 17.8,82.8 15.8,84 13.7,84 9.5,84 5.3,84Z" fill="#93bcdc"/><path d="M5.3,84 9.5,84 13.7,84 15.8,84 17.8,80.6 22,74.2 26.2,69.4 30.4,65.3 34.6,61.8 38.7,58.9 42.9,56.4 47.1,53.9 51.3,51.5 55.5,49.1 59.6,46.7 63.8,44.2 68,41.9 72.2,39.5 76.4,37.1 80.5,34.7 84.7,32.3 88.9,29.9 93.1,27.5 97.3,25.1 101.4,22.8 105.6,20.4 109.8,17.9 114,15.4 118.2,12.8 122.3,10.3M5.3,84 9.5,84 13.7,84 15.8,84 17.8,82.8 22,79.5 26.2,77.4 30.4,75.7 34.6,74.6 38.7,73.9 42.9,73.5 47.1,73.1 51.3,72.6 55.5,72.2 59.6,71.7 63.8,71.2 68,70.4 72.2,69.5 76.4,68.6 80.5,67.8 84.7,66.9 88.9,66 93.1,65.1 97.3,64.2 101.4,63.4 105.6,62.5 109.8,61.5 114,60.5 118.2,59.5 122.3,58.4" fill="none" stroke="#5a9ccd" stroke-width="2"/><path d="M5.3,84 9.5,84 13.7,84 15.8,84 17.8,81.1 22,75.3 26.2,71.1 30.4,67.4 34.6,64.5 38.7,62 42.9,59.9 47.1,57.9 51.3,55.8 55.5,53.8 59.6,51.8 63.8,49.8 68,47.8 72.2,45.8 76.4,43.7 80.5,41.6 84.7,39.5 88.9,37.5 93.1,35.4 97.3,33.3 101.4,31.3 105.6,29.2 109.8,27.1 114,24.9 118.2,22.7 122.3,20.4 122.3,55.1 118.2,56.3 114,57.4 109.8,58.5 105.6,59.5 101.4,60.5 97.3,61.5 93.1,62.4 88.9,63.4 84.7,64.4 80.5,65.4 76.4,66.4 72.2,67.4 68,68.3 63.8,69.2 59.6,69.9 55.5,70.5 51.3,71.1 47.1,71.7 42.9,72.2 38.7,72.8 34.6,73.6 30.4,74.9 26.2,76.8 22,79.1 17.8,82.7 15.8,84 13.7,84 9.5,84 5.3,84Z" fill="#f4cca4" stroke="#c4aa90" stroke-width="1.4"/><path d="M5.3,84 9.5,84 13.7,84 15.8,84 17.8,81.6 22,76.6 26.2,73 30.4,69.9 34.6,67.5 38.7,65.6 42.9,64 47.1,62.5 51.3,60.9 55.5,59.4 59.6,57.8 63.8,56.2 68,54.6 72.2,53 76.4,51.3 80.5,49.6 84.7,47.9 88.9,46.2 93.1,44.5 97.3,42.8 101.4,41.2 105.6,39.5 109.8,37.7 114,35.9 118.2,34.1 122.3,32.2 122.3,51.3 118.2,52.5 114,53.8 109.8,55 105.6,56.1 101.4,57.2 97.3,58.3 93.1,59.4 88.9,60.5 84.7,61.6 80.5,62.7 76.4,63.7 72.2,64.8 68,65.9 63.8,66.9 59.6,67.8 55.5,68.5 51.3,69.3 47.1,70.1 42.9,70.7 38.7,71.5 34.6,72.5 30.4,74.1 26.2,76.1 22,78.7 17.8,82.5 15.8,84 13.7,84 9.5,84 5.3,84Z" fill="#d3e7ec"/></g><use href="#v6"/><use href="#h3"/><use href="#Mr"/><path clip-path="url(#c)" d="M5.3,84 7.4,84 9.5,84 11.6,84 13.7,84 15.8,84 17.8,82.3 19.9,79.7 22,78.1 24.1,76.7 26.2,75.3 28.3,74.1 30.4,73 32.5,72 34.6,71.2 36.6,70.5 38.7,70 40.8,69.4 42.9,69 45,68.5 47.1,68.1 49.2,67.6 51.3,67.1 53.4,66.6 55.5,66.1 57.5,65.6 59.6,65.2 61.7,64.6 63.8,64.1 65.9,63.6 68,63 70.1,62.4 72.2,61.8 74.3,61.2 76.4,60.5 78.4,59.9 80.5,59.3 82.6,58.7 84.7,58.1 86.8,57.5 88.9,56.9 91,56.2 93.1,55.6 95.2,55 97.3,54.4 99.3,53.8 101.4,53.2 103.5,52.6 105.6,52 107.7,51.3 109.8,50.7 111.9,50 114,49.4 116.1,48.7 118.2,48 120.2,47.3 122.3,46.6" fill="none" stroke="#000" stroke-width="8.2" stroke-linejoin="round" stroke-linecap="round"/><use href="#t"/><use href="#Fr"/></g>
<g transform="translate(1522.8,697.8)"><g clip-path="url(#c)"><path d="M5.3,84 9.5,84 13.7,84 17.8,80.4 22,76.8 26.2,74 30.4,71.5 34.6,69.1 38.7,66.8 42.9,64.6 47.1,62.6 51.3,60.7 55.5,59 59.6,57.4 63.8,55.6 68,53.5 72.2,51.3 76.4,49 80.5,46.6 84.7,44 88.9,41.3 93.1,38.6 97.3,36 101.4,33.4 105.6,30.8 109.8,28 114,25 118.2,21.9 122.3,18.8 122.3,49.9 118.2,51.9 114,53.8 109.8,55.5 105.6,57.1 101.4,58.5 97.3,59.9 93.1,61.3 88.9,62.7 84.7,64.2 80.5,65.6 76.4,66.8 72.2,67.9 68,68.9 63.8,69.8 59.6,70.6 55.5,71.3 51.3,72 47.1,72.9 42.9,73.8 38.7,74.9 34.6,76.1 30.4,77.4 26.2,78.7 22,80.2 17.8,82.3 13.7,84 9.5,84 5.3,84Z" fill="#93bcdc"/><path d="M5.3,84 9.5,84 13.7,84 17.8,80.4 22,76.8 26.2,74 30.4,71.5 34.6,69.1 38.7,66.8 42.9,64.6 47.1,62.6 51.3,60.7 55.5,59 59.6,57.4 63.8,55.6 68,53.5 72.2,51.3 76.4,49 80.5,46.6 84.7,44 88.9,41.3 93.1,38.6 97.3,36 101.4,33.4 105.6,30.8 109.8,28 114,25 118.2,21.9 122.3,18.8M5.3,84 9.5,84 13.7,84 17.8,82.3 22,80.2 26.2,78.7 30.4,77.4 34.6,76.1 38.7,74.9 42.9,73.8 47.1,72.9 51.3,72 55.5,71.3 59.6,70.6 63.8,69.8 68,68.9 72.2,67.9 76.4,66.8 80.5,65.6 84.7,64.2 88.9,62.7 93.1,61.3 97.3,59.9 101.4,58.5 105.6,57.1 109.8,55.5 114,53.8 118.2,51.9 122.3,49.9" fill="none" stroke="#5a9ccd" stroke-width="2"/><path d="M5.3,84 9.5,84 13.7,84 17.8,80.7 22,77.3 26.2,74.7 30.4,72.3 34.6,70.1 38.7,67.9 42.9,65.9 47.1,64 51.3,62.3 55.5,60.7 59.6,59.2 63.8,57.6 68,55.7 72.2,53.7 76.4,51.5 80.5,49.2 84.7,46.8 88.9,44.3 93.1,41.8 97.3,39.3 101.4,36.9 105.6,34.4 109.8,31.8 114,29 118.2,26.1 122.3,23.1 122.3,45.6 118.2,47.7 114,49.7 109.8,51.6 105.6,53.4 101.4,55 97.3,56.5 93.1,58.1 88.9,59.7 84.7,61.4 80.5,62.9 76.4,64.3 72.2,65.6 68,66.8 63.8,67.8 59.6,68.8 55.5,69.6 51.3,70.4 47.1,71.4 42.9,72.6 38.7,73.8 34.6,75.1 30.4,76.6 26.2,78.1 22,79.7 17.8,82.1 13.7,84 9.5,84 5.3,84Z" fill="#f4cca4" stroke="#c4aa90" stroke-width="1.4"/><path d="M5.3,84 9.5,84 13.7,84 17.8,81 22,77.9 26.2,75.5 30.4,73.3 34.6,71.2 38.7,69.3 42.9,67.4 47.1,65.7 51.3,64.1 55.5,62.7 59.6,61.4 63.8,59.9 68,58.2 72.2,56.3 76.4,54.4 80.5,52.3 84.7,50.1 88.9,47.8 93.1,45.4 97.3,43.2 101.4,41 105.6,38.7 109.8,36.3 114,33.7 118.2,31 122.3,28.2 122.3,40.5 118.2,42.9 114,45.1 109.8,47.2 105.6,49.1 101.4,50.9 97.3,52.7 93.1,54.4 88.9,56.3 84.7,58.1 80.5,59.9 76.4,61.4 72.2,62.9 68,64.3 63.8,65.5 59.6,66.6 55.5,67.6 51.3,68.6 47.1,69.8 42.9,71.1 38.7,72.5 34.6,74 30.4,75.6 26.2,77.3 22,79.2 17.8,81.7 13.7,84 9.5,84 5.3,84Z" fill="#d3e7ec"/></g><use href="#v7"/><use href="#h3"/><use href="#Mr"/><path clip-path="url(#c)" d="M5.3,84 7.4,84 9.5,84 11.6,84 13.7,84 15.8,83.2 17.8,81.4 19.9,79.7 22,78.5 24.1,77.4 26.2,76.4 28.3,75.4 30.4,74.4 32.5,73.5 34.6,72.6 36.6,71.7 38.7,70.9 40.8,70 42.9,69.2 45,68.5 47.1,67.7 49.2,67 51.3,66.4 53.4,65.7 55.5,65.2 57.5,64.6 59.6,64 61.7,63.4 63.8,62.7 65.9,62 68,61.2 70.1,60.5 72.2,59.6 74.3,58.8 76.4,57.9 78.4,57 80.5,56.1 82.6,55.1 84.7,54.1 86.8,53.1 88.9,52 91,51 93.1,49.9 95.2,48.9 97.3,47.9 99.3,47 101.4,46 103.5,45 105.6,43.9 107.7,42.8 109.8,41.7 111.9,40.6 114,39.4 116.1,38.2 118.2,36.9 120.2,35.6 122.3,34.3" fill="none" stroke="#000" stroke-width="8.2" stroke-linejoin="round" stroke-linecap="round"/><use href="#t"/><use href="#Fr"/></g>
<g transform="translate(1702.2,697.8)"><g clip-path="url(#c)"><path d="M5.3,84 9.5,84 13.7,84 17.8,78.1 22,72.7 26.2,68.1 30.4,64.1 34.6,60.9 38.7,58.4 42.9,56.1 47.1,54 51.3,52 55.5,50.2 59.6,48.4 63.8,46.5 68,44 72.2,41 76.4,38 80.5,35.3 84.7,32.9 88.9,30.4 93.1,27.8 97.3,24.9 101.4,21.9 105.6,18.6 109.8,15.2 114,11.6 118.2,7.8 122.3,3.8 122.3,52.9 118.2,55.2 114,57.4 109.8,59.3 105.6,61 101.4,62.6 97.3,64 93.1,65.1 88.9,66.1 84.7,66.8 80.5,67.6 76.4,68.6 72.2,69.9 68,71.2 63.8,72.1 59.6,72.3 55.5,72.3 51.3,72.3 47.1,72.5 42.9,72.7 38.7,73 34.6,73.6 30.4,74.8 26.2,76.6 22,78.8 17.8,81.6 13.7,84 9.5,84 5.3,84Z" fill="#93bcdc"/><path d="M5.3,84 9.5,84 13.7,84 17.8,78.1 22,72.7 26.2,68.1 30.4,64.1 34.6,60.9 38.7,58.4 42.9,56.1 47.1,54 51.3,52 55.5,50.2 59.6,48.4 63.8,46.5 68,44 72.2,41 76.4,38 80.5,35.3 84.7,32.9 88.9,30.4 93.1,27.8 97.3,24.9 101.4,21.9 105.6,18.6 109.8,15.2 114,11.6 118.2,7.8 122.3,3.8M5.3,84 9.5,84 13.7,84 17.8,81.6 22,78.8 26.2,76.6 30.4,74.8 34.6,73.6 38.7,73 42.9,72.7 47.1,72.5 51.3,72.3 55.5,72.3 59.6,72.3 63.8,72.1 68,71.2 72.2,69.9 76.4,68.6 80.5,67.6 84.7,66.8 88.9,66.1 93.1,65.1 97.3,64 101.4,62.6 105.6,61 109.8,59.3 114,57.4 118.2,55.2 122.3,52.9" fill="none" stroke="#5a9ccd" stroke-width="2"/><path d="M5.3,84 9.5,84 13.7,84 17.8,78.8 22,73.9 26.2,69.8 30.4,66.3 34.6,63.4 38.7,61.3 42.9,59.4 47.1,57.7 51.3,56 55.5,54.6 59.6,53.1 63.8,51.5 68,49.4 72.2,46.8 76.4,44.2 80.5,41.9 84.7,39.8 88.9,37.7 93.1,35.4 97.3,32.9 101.4,30.2 105.6,27.3 109.8,24.3 114,21 118.2,17.6 122.3,14 122.3,49.3 118.2,51.7 114,54 109.8,56 105.6,57.8 101.4,59.5 97.3,61 93.1,62.3 88.9,63.3 84.7,64.2 80.5,65.1 76.4,66.2 72.2,67.6 68,69 63.8,70 59.6,70.3 55.5,70.5 51.3,70.7 47.1,71 42.9,71.3 38.7,71.8 34.6,72.6 30.4,73.9 26.2,75.9 22,78.3 17.8,81.3 13.7,84 9.5,84 5.3,84Z" fill="#f4cca4" stroke="#c4aa90" stroke-width="1.4"/><path d="M5.3,84 9.5,84 13.7,84 17.8,79.6 22,75.3 26.2,71.8 30.4,68.7 34.6,66.3 38.7,64.6 42.9,63.2 47.1,61.9 51.3,60.7 55.5,59.7 59.6,58.6 63.8,57.4 68,55.7 72.2,53.5 76.4,51.3 80.5,49.4 84.7,47.7 88.9,46.1 93.1,44.2 97.3,42.1 101.4,39.8 105.6,37.4 109.8,34.8 114,31.9 118.2,28.9 122.3,25.7 122.3,45.1 118.2,47.7 114,50 109.8,52.2 105.6,54.1 101.4,55.9 97.3,57.6 93.1,59 88.9,60.2 84.7,61.2 80.5,62.2 76.4,63.4 72.2,65 68,66.5 63.8,67.5 59.6,68.1 55.5,68.4 51.3,68.7 47.1,69.2 42.9,69.8 38.7,70.4 34.6,71.4 30.4,72.9 26.2,75.1 22,77.7 17.8,81 13.7,84 9.5,84 5.3,84Z" fill="#d3e7ec"/></g><use href="#v8"/><use href="#h3"/><use href="#Mr"/><path clip-path="url(#c)" d="M5.3,84 7.4,84 9.5,84 11.6,84 13.7,84 15.8,82.9 17.8,80.6 19.9,78.5 22,77 24.1,75.5 26.2,74.1 28.3,72.8 30.4,71.7 32.5,70.7 34.6,69.9 36.6,69.3 38.7,68.8 40.8,68.3 42.9,67.9 45,67.5 47.1,67.1 49.2,66.7 51.3,66.4 53.4,66.1 55.5,65.9 57.5,65.6 59.6,65.3 61.7,65 63.8,64.6 65.9,64.1 68,63.4 70.1,62.6 72.2,61.7 74.3,60.8 76.4,60 78.4,59.3 80.5,58.6 82.6,58 84.7,57.4 86.8,56.9 88.9,56.3 91,55.7 93.1,55 95.2,54.2 97.3,53.4 99.3,52.5 101.4,51.6 103.5,50.7 105.6,49.7 107.7,48.6 109.8,47.6 111.9,46.4 114,45.2 116.1,44 118.2,42.7 120.2,41.4 122.3,40" fill="none" stroke="#000" stroke-width="8.2" stroke-linejoin="round" stroke-linecap="round"/><use href="#t"/><use href="#Fr"/></g>
<g transform="translate(1881.6,697.8)"><g clip-path="url(#c)"><path d="M5.3,84 9.5,84 13.7,84 15.8,84 17.8,81.3 22,75.9 26.2,72.2 30.4,69.1 34.6,66 38.7,63 42.9,60 47.1,57.1 51.3,54 55.5,50.7 59.6,47.4 63.8,44.3 68,42.6 72.2,41.1 76.4,39.5 80.5,37.4 84.7,34.6 88.9,31.5 93.1,28.4 97.3,25.2 101.4,21.9 105.6,18.7 109.8,15.8 114,13.1 118.2,10.5 122.3,8.1 122.3,79.5 118.2,79.4 114,79.4 109.8,79.6 105.6,80 101.4,80.7 97.3,81.6 93.1,82.2 88.9,82.8 84.7,83.4 80.5,83.6 76.4,83.3 72.2,82.4 68,81.4 63.8,80.5 59.6,81.1 55.5,81.8 51.3,82.5 47.1,82.8 42.9,83 38.7,83 34.6,83.1 30.4,83.1 26.2,82.9 22,83 17.8,84 15.8,84 13.7,84 9.5,84 5.3,84Z" fill="#93bcdc"/><path d="M5.3,84 9.5,84 13.7,84 15.8,84 17.8,81.3 22,75.9 26.2,72.2 30.4,69.1 34.6,66 38.7,63 42.9,60 47.1,57.1 51.3,54 55.5,50.7 59.6,47.4 63.8,44.3 68,42.6 72.2,41.1 76.4,39.5 80.5,37.4 84.7,34.6 88.9,31.5 93.1,28.4 97.3,25.2 101.4,21.9 105.6,18.7 109.8,15.8 114,13.1 118.2,10.5 122.3,8.1M5.3,84 9.5,84 13.7,84 15.8,84 17.8,84 22,83 26.2,82.9 30.4,83.1 34.6,83.1 38.7,83 42.9,83 47.1,82.8 51.3,82.5 55.5,81.8 59.6,81.1 63.8,80.5 68,81.4 72.2,82.4 76.4,83.3 80.5,83.6 84.7,83.4 88.9,82.8 93.1,82.2 97.3,81.6 101.4,80.7 105.6,80 109.8,79.6 114,79.4 118.2,79.4 122.3,79.5" fill="none" stroke="#5a9ccd" stroke-width="2"/><path d="M5.3,84 9.5,84 13.7,84 15.8,84 17.8,81.6 22,76.5 26.2,73.1 30.4,70.2 34.6,67.4 38.7,64.6 42.9,61.9 47.1,59.2 51.3,56.4 55.5,53.3 59.6,50.2 63.8,47.3 68,45.6 72.2,44 76.4,42.4 80.5,40.2 84.7,37.4 88.9,34.3 93.1,31.1 97.3,27.9 101.4,24.5 105.6,21.2 109.8,18.3 114,15.5 118.2,12.9 122.3,10.5 122.3,32.3 118.2,34.2 114,36.3 109.8,38.5 105.6,40.9 101.4,43.6 97.3,46.4 93.1,49 88.9,51.7 84.7,54.2 80.5,56.5 76.4,58.1 72.2,59.2 68,60.2 63.8,61.4 59.6,63.2 55.5,65.3 51.3,67.4 47.1,69.2 42.9,70.8 38.7,72.4 34.6,74 30.4,75.7 26.2,77.3 22,79.2 17.8,82.6 15.8,84 13.7,84 9.5,84 5.3,84Z" fill="#f4cca4" stroke="#c4aa90" stroke-width="1.4"/><path d="M5.3,84 9.5,84 13.7,84 15.8,84 17.8,81.8 22,77.1 26.2,74.1 30.4,71.6 34.6,69 38.7,66.5 42.9,64.1 47.1,61.7 51.3,59.1 55.5,56.2 59.6,53.4 63.8,50.8 68,49 72.2,47.4 76.4,45.7 80.5,43.4 84.7,40.6 88.9,37.4 93.1,34.2 97.3,30.9 101.4,27.5 105.6,24.2 109.8,21.2 114,18.4 118.2,15.7 122.3,13.2 122.3,25.3 118.2,27.4 114,29.8 109.8,32.3 105.6,35 101.4,38 97.3,41.1 93.1,44.1 88.9,47 84.7,49.8 80.5,52.4 76.4,54.3 72.2,55.7 68,57 63.8,58.5 59.6,60.5 55.5,62.8 51.3,65.1 47.1,67.2 42.9,69 38.7,70.8 34.6,72.7 30.4,74.5 26.2,76.4 22,78.7 17.8,82.4 15.8,84 13.7,84 9.5,84 5.3,84Z" fill="#d3e7ec"/></g><use href="#v9"/><use href="#h3"/><use href="#Mr"/><path clip-path="url(#c)" d="M5.3,84 7.4,84 9.5,84 11.6,84 13.7,84 15.8,84 17.8,82.2 19.9,79.5 22,78 24.1,76.6 26.2,75.4 28.3,74.3 30.4,73.2 32.5,72.1 34.6,71 36.6,69.9 38.7,68.9 40.8,67.8 42.9,66.8 45,65.7 47.1,64.7 49.2,63.6 51.3,62.4 53.4,61.1 55.5,59.8 57.5,58.5 59.6,57.3 61.7,56.1 63.8,55 65.9,54 68,53.1 70.1,52.3 72.2,51.5 74.3,50.6 76.4,49.7 78.4,48.6 80.5,47.4 82.6,46 84.7,44.5 86.8,42.9 88.9,41.3 91,39.6 93.1,38 95.2,36.3 97.3,34.6 99.3,32.9 101.4,31.2 103.5,29.4 105.6,27.8 107.7,26.2 109.8,24.7 111.9,23.3 114,21.9 116.1,20.5 118.2,19.1 120.2,17.9 122.3,16.6" fill="none" stroke="#000" stroke-width="8.2" stroke-linejoin="round" stroke-linecap="round"/><use href="#t"/><use href="#Fr"/></g>
<g transform="translate(2061,697.8)"><g clip-path="url(#c)"><path d="M5.3,84 9.5,84 13.7,84 17.8,76.7 22,70.5 26.2,65.6 30.4,61.2 34.6,57.3 38.7,53.7 42.9,50.5 47.1,47.3 51.3,44 55.5,40.6 59.6,37.2 63.8,33.7 68,32.6 72.2,31.4 76.4,30.1 80.5,28.6 84.7,26.9 88.9,25 93.1,23 97.3,20.8 101.4,18.4 105.6,15.8 109.8,13.1 114,10.2 118.2,7.1 122.3,3.8 122.3,57.1 118.2,59.2 114,61 109.8,62.7 105.6,64.2 101.4,65.6 97.3,66.8 93.1,67.8 88.9,68.6 84.7,69.2 80.5,69.7 76.4,70 72.2,70.1 68,70 63.8,69.9 59.6,71 55.5,71.9 51.3,72.8 47.1,73.5 42.9,74 38.7,74.5 34.6,75.2 30.4,76.3 26.2,77.6 22,79.2 17.8,81.7 13.7,84 9.5,84 5.3,84Z" fill="#93bcdc"/><path d="M5.3,84 9.5,84 13.7,84 17.8,76.7 22,70.5 26.2,65.6 30.4,61.2 34.6,57.3 38.7,53.7 42.9,50.5 47.1,47.3 51.3,44 55.5,40.6 59.6,37.2 63.8,33.7 68,32.6 72.2,31.4 76.4,30.1 80.5,28.6 84.7,26.9 88.9,25 93.1,23 97.3,20.8 101.4,18.4 105.6,15.8 109.8,13.1 114,10.2 118.2,7.1 122.3,3.8M5.3,84 9.5,84 13.7,84 17.8,81.7 22,79.2 26.2,77.6 30.4,76.3 34.6,75.2 38.7,74.5 42.9,74 47.1,73.5 51.3,72.8 55.5,71.9 59.6,71 63.8,69.9 68,70 72.2,70.1 76.4,70 80.5,69.7 84.7,69.2 88.9,68.6 93.1,67.8 97.3,66.8 101.4,65.6 105.6,64.2 109.8,62.7 114,61 118.2,59.2 122.3,57.1" fill="none" stroke="#5a9ccd" stroke-width="2"/><path d="M5.3,84 9.5,84 13.7,84 17.8,79 22,74.5 26.2,71.1 30.4,68.1 34.6,65.5 38.7,63.3 42.9,61.3 47.1,59.4 51.3,57.2 55.5,55 59.6,52.7 63.8,50.3 68,48.9 72.2,47.3 76.4,45.6 80.5,43.8 84.7,41.7 88.9,39.5 93.1,37.1 97.3,34.5 101.4,31.8 105.6,28.8 109.8,25.7 114,22.5 118.2,19 122.3,15.4 122.3,47.6 118.2,50.1 114,52.5 109.8,54.7 105.6,56.8 101.4,58.6 97.3,60.3 93.1,61.8 88.9,63.1 84.7,64.3 80.5,65.3 76.4,66.1 72.2,66.7 68,67.1 63.8,67.5 59.6,68.7 55.5,69.9 51.3,70.9 47.1,71.8 42.9,72.5 38.7,73.2 34.6,74.1 30.4,75.3 26.2,76.8 22,78.6 17.8,81.4 13.7,84 9.5,84 5.3,84Z" fill="#f4cca4" stroke="#c4aa90" stroke-width="1.4"/><path d="M5.3,84 9.5,84 13.7,84 17.8,79.7 22,75.7 26.2,72.7 30.4,70.2 34.6,68 38.7,66.2 42.9,64.6 47.1,63 51.3,61.2 55.5,59.3 59.6,57.4 63.8,55.3 68,53.7 72.2,52.1 76.4,50.3 80.5,48.3 84.7,46.2 88.9,43.8 93.1,41.3 97.3,38.6 101.4,35.8 105.6,32.7 109.8,29.5 114,26.1 118.2,22.6 122.3,18.8 122.3,36.5 118.2,39.7 114,42.7 109.8,45.5 105.6,48.1 101.4,50.5 97.3,52.8 93.1,54.9 88.9,56.8 84.7,58.6 80.5,60.2 76.4,61.5 72.2,62.7 68,63.8 63.8,64.8 59.6,66.2 55.5,67.5 51.3,68.7 47.1,69.8 42.9,70.7 38.7,71.6 34.6,72.7 30.4,74.1 26.2,75.9 22,77.9 17.8,81 13.7,84 9.5,84 5.3,84Z" fill="#d3e7ec"/></g><use href="#v10"/><use href="#h3"/><use href="#Mr"/><path clip-path="url(#c)" d="M5.3,84 7.4,84 9.5,84 11.6,84 13.7,84 15.8,82.9 17.8,80.5 19.9,78.5 22,77.1 24.1,75.9 26.2,74.8 28.3,73.7 30.4,72.7 32.5,71.8 34.6,71 36.6,70.3 38.7,69.7 40.8,69.1 42.9,68.5 45,68 47.1,67.4 49.2,66.7 51.3,66 53.4,65.3 55.5,64.6 57.5,63.8 59.6,63 61.7,62.2 63.8,61.4 65.9,60.6 68,59.7 70.1,58.8 72.2,57.9 74.3,57 76.4,56 78.4,55 80.5,53.9 82.6,52.8 84.7,51.6 86.8,50.4 88.9,49.1 91,47.8 93.1,46.5 95.2,45.1 97.3,43.7 99.3,42.2 101.4,40.7 103.5,39.1 105.6,37.5 107.7,35.8 109.8,34.2 111.9,32.4 114,30.6 116.1,28.8 118.2,26.9 120.2,25 122.3,23.1" fill="none" stroke="#000" stroke-width="8.2" stroke-linejoin="round" stroke-linecap="round"/><use href="#t"/><use href="#Fr"/></g>
<g transform="translate(267.1,815.8)"><g clip-path="url(#c)"><path d="M5.3,84 9.5,84 11.6,84 13.7,81.4 17.8,74.3 22,68.5 26.2,63.5 30.4,58.9 34.6,54.7 38.7,50.9 42.9,47.3 47.1,43.8 51.3,40 55.5,36.2 59.6,32.3 63.8,28.1 68,26.3 72.2,24 76.4,21.5 80.5,19 84.7,16.5 88.9,13.8 93.1,11 97.3,7.5 101.4,3.7 105.6,0.9 109.8,0 114,0 118.2,0 122.3,0 122.3,31 118.2,30.5 114,30.8 109.8,31.7 105.6,33.1 101.4,36.3 97.3,40.4 93.1,44.2 88.9,47.3 84.7,50.3 80.5,53.2 76.4,56 72.2,58.8 68,61.4 63.8,63.6 59.6,65.5 55.5,67.1 51.3,68.5 47.1,69.8 42.9,70.9 38.7,71.9 34.6,73.1 30.4,74.6 26.2,76.3 22,78.3 17.8,80.8 13.7,84 11.6,84 9.5,84 5.3,84Z" fill="#93bcdc"/><path d="M5.3,84 9.5,84 11.6,84 13.7,81.4 17.8,74.3 22,68.5 26.2,63.5 30.4,58.9 34.6,54.7 38.7,50.9 42.9,47.3 47.1,43.8 51.3,40 55.5,36.2 59.6,32.3 63.8,28.1 68,26.3 72.2,24 76.4,21.5 80.5,19 84.7,16.5 88.9,13.8 93.1,11 97.3,7.5 101.4,3.7 105.6,0.9 109.8,0 114,0 118.2,0 122.3,0M5.3,84 9.5,84 11.6,84 13.7,84 17.8,80.8 22,78.3 26.2,76.3 30.4,74.6 34.6,73.1 38.7,71.9 42.9,70.9 47.1,69.8 51.3,68.5 55.5,67.1 59.6,65.5 63.8,63.6 68,61.4 72.2,58.8 76.4,56 80.5,53.2 84.7,50.3 88.9,47.3 93.1,44.2 97.3,40.4 101.4,36.3 105.6,33.1 109.8,31.7 114,30.8 118.2,30.5 122.3,31" fill="none" stroke="#5a9ccd" stroke-width="2"/><path d="M5.3,84 9.5,84 11.6,84 13.7,81.9 17.8,75.5 22,70.2 26.2,65.8 30.4,61.7 34.6,58 38.7,54.6 42.9,51.5 47.1,48.4 51.3,45.1 55.5,41.8 59.6,38.2 63.8,34.4 68,32.2 72.2,29.6 76.4,26.7 80.5,23.8 84.7,20.9 88.9,17.8 93.1,14.6 97.3,10.8 101.4,6.6 105.6,3.3 109.8,2 114,1.4 118.2,1 122.3,0.9 122.3,23.2 118.2,23 114,23.6 109.8,24.8 105.6,26.6 101.4,30.1 97.3,34.4 93.1,38.5 88.9,41.9 84.7,45.3 80.5,48.4 76.4,51.5 72.2,54.6 68,57.5 63.8,60 59.6,62.1 55.5,64 51.3,65.6 47.1,67.2 42.9,68.5 38.7,69.8 34.6,71.2 30.4,73 26.2,75 22,77.3 17.8,80.2 13.7,83.8 11.6,84 9.5,84 5.3,84Z" fill="#f4cca4" stroke="#c4aa90" stroke-width="1.4"/><path d="M5.3,84 9.5,84 11.6,84 13.7,82.4 17.8,76.8 22,72.3 26.2,68.5 30.4,65 34.6,61.8 38.7,59 42.9,56.4 47.1,53.8 51.3,51 55.5,48.2 59.6,45.1 63.8,41.8 68,39.1 72.2,36 76.4,32.7 80.5,29.4 84.7,26 88.9,22.4 93.1,18.8 97.3,14.5 101.4,9.9 105.6,6.2 109.8,4.3 114,3.1 118.2,2.3 122.3,1.9 122.3,14.2 118.2,14.3 114,15.3 109.8,16.9 105.6,18.9 101.4,22.8 97.3,27.5 93.1,31.9 88.9,35.7 84.7,39.4 80.5,42.9 76.4,46.3 72.2,49.8 68,53 63.8,55.8 59.6,58.3 55.5,60.4 51.3,62.3 47.1,64.1 42.9,65.7 38.7,67.3 34.6,69.1 30.4,71.2 26.2,73.5 22,76.1 17.8,79.4 13.7,83.5 11.6,84 9.5,84 5.3,84Z" fill="#d3e7ec"/></g><use href="#v0"/><use href="#Mr"/><path clip-path="url(#c)" d="M5.3,84 7.4,84 9.5,84 11.6,84 13.7,83.1 15.8,81 17.8,78.5 19.9,76.3 22,74.7 24.1,73.2 26.2,71.7 28.3,70.3 30.4,68.9 32.5,67.7 34.6,66.5 36.6,65.3 38.7,64.3 40.8,63.3 42.9,62.4 45,61.4 47.1,60.4 49.2,59.4 51.3,58.2 53.4,57.1 55.5,56 57.5,54.8 59.6,53.5 61.7,52.2 63.8,50.8 65.9,49.2 68,47.5 70.1,45.8 72.2,43.9 74.3,42 76.4,40 78.4,38.1 80.5,36.1 82.6,34.2 84.7,32.2 86.8,30.2 88.9,28.1 91,26 93.1,23.9 95.2,21.6 97.3,19.1 99.3,16.4 101.4,13.9 103.5,11.6 105.6,9.6 107.7,8.2 109.8,7.1 111.9,6.1 114,5.2 116.1,4.4 118.2,3.7 120.2,3.3 122.3,3.2" fill="none" stroke="#000" stroke-width="8.2" stroke-linejoin="round" stroke-linecap="round"/><use href="#t"/><use href="#Fr"/></g>
<g transform="translate(446.5,815.8)"><g clip-path="url(#c)"><path d="M5.3,84 9.5,84 13.7,84 15.8,84 17.8,77.9 22,67.8 26.2,60.2 30.4,53.5 34.6,47.1 38.7,40.9 42.9,34.9 47.1,29.1 51.3,23.4 55.5,17.9 59.6,12.4 63.8,6.5 68,6.2 72.2,5.1 76.4,3.7 80.5,2.6 84.7,1.5 88.9,0.5 93.1,0 97.3,0 101.4,0 105.6,0 109.8,0 114,0 118.2,0 122.3,0 122.3,25.3 118.2,26.9 114,28.6 109.8,30.4 105.6,32.3 101.4,34.3 97.3,36.4 93.1,38.8 88.9,41.5 84.7,44.5 80.5,47.6 76.4,50.6 72.2,54 68,57.1 63.8,59.4 59.6,61.5 55.5,63.3 51.3,64.9 47.1,66.6 42.9,68.4 38.7,70.1 34.6,72 30.4,73.9 26.2,75.8 22,78.1 17.8,82.2 15.8,84 13.7,84 9.5,84 5.3,84Z" fill="#93bcdc"/><path d="M5.3,84 9.5,84 13.7,84 15.8,84 17.8,77.9 22,67.8 26.2,60.2 30.4,53.5 34.6,47.1 38.7,40.9 42.9,34.9 47.1,29.1 51.3,23.4 55.5,17.9 59.6,12.4 63.8,6.5 68,6.2 72.2,5.1 76.4,3.7 80.5,2.6 84.7,1.5 88.9,0.5 93.1,0 97.3,0 101.4,0 105.6,0 109.8,0 114,0 118.2,0 122.3,0M5.3,84 9.5,84 13.7,84 15.8,84 17.8,82.2 22,78.1 26.2,75.8 30.4,73.9 34.6,72 38.7,70.1 42.9,68.4 47.1,66.6 51.3,64.9 55.5,63.3 59.6,61.5 63.8,59.4 68,57.1 72.2,54 76.4,50.6 80.5,47.6 84.7,44.5 88.9,41.5 93.1,38.8 97.3,36.4 101.4,34.3 105.6,32.3 109.8,30.4 114,28.6 118.2,26.9 122.3,25.3" fill="none" stroke="#5a9ccd" stroke-width="2"/><path d="M5.3,84 9.5,84 13.7,84 15.8,84 17.8,79.1 22,70.5 26.2,64.3 30.4,58.9 34.6,53.7 38.7,48.6 42.9,43.8 47.1,39 51.3,34.4 55.5,29.9 59.6,25.4 63.8,20.5 68,19.4 72.2,17.3 76.4,15.1 80.5,13.1 84.7,11.2 88.9,9.3 93.1,7.9 97.3,6.9 101.4,6 105.6,5.1 109.8,4.3 114,3.5 118.2,2.7 122.3,1.9 122.3,20.1 118.2,22 114,24.1 109.8,26.2 105.6,28.4 101.4,30.7 97.3,33.1 93.1,35.8 88.9,38.8 84.7,42.1 80.5,45.5 76.4,48.9 72.2,52.5 68,56 63.8,58.5 59.6,60.8 55.5,62.6 51.3,64.2 47.1,66 42.9,67.9 38.7,69.7 34.6,71.6 30.4,73.6 26.2,75.5 22,78 17.8,82.2 15.8,84 13.7,84 9.5,84 5.3,84Z" fill="#f4cca4" stroke="#c4aa90" stroke-width="1.4"/><path d="M5.3,84 9.5,84 13.7,84 15.8,84 17.8,80.4 22,73.7 26.2,69.1 30.4,65.1 34.6,61.3 38.7,57.6 42.9,54 47.1,50.5 51.3,47.1 55.5,43.8 59.6,40.5 63.8,36.7 68,34.5 72.2,31.5 76.4,28.3 80.5,25.3 84.7,22.4 88.9,19.5 93.1,17 97.3,14.9 101.4,12.9 105.6,11.1 109.8,9.2 114,7.5 118.2,5.8 122.3,4.1 122.3,14.1 118.2,16.4 114,18.8 109.8,21.3 105.6,23.9 101.4,26.5 97.3,29.3 93.1,32.3 88.9,35.7 84.7,39.4 80.5,43.1 76.4,46.9 72.2,50.9 68,54.7 63.8,57.6 59.6,59.9 55.5,61.8 51.3,63.5 47.1,65.4 42.9,67.3 38.7,69.2 34.6,71.2 30.4,73.2 26.2,75.3 22,77.8 17.8,82.1 15.8,84 13.7,84 9.5,84 5.3,84Z" fill="#d3e7ec"/></g><use href="#v1"/><use href="#Mr"/><path clip-path="url(#c)" d="M5.3,84 7.4,84 9.5,84 11.6,84 13.7,84 15.8,84 17.8,82 19.9,79.1 22,77.5 24.1,76.2 26.2,74.9 28.3,73.8 30.4,72.8 32.5,71.7 34.6,70.7 36.6,69.6 38.7,68.5 40.8,67.5 42.9,66.5 45,65.5 47.1,64.6 49.2,63.6 51.3,62.6 53.4,61.7 55.5,60.8 57.5,59.8 59.6,58.8 61.7,57.7 63.8,56.5 65.9,54.9 68,53.1 70.1,51 72.2,48.9 74.3,46.6 76.4,44.4 78.4,42.3 80.5,40.2 82.6,38.1 84.7,36 86.8,33.9 88.9,31.9 91,30 93.1,28.1 95.2,26.3 97.3,24.6 99.3,23 101.4,21.4 103.5,19.9 105.6,18.3 107.7,16.8 109.8,15.3 111.9,13.8 114,12.4 116.1,10.9 118.2,9.5 120.2,8.2 122.3,6.8" fill="none" stroke="#000" stroke-width="8.2" stroke-linejoin="round" stroke-linecap="round"/><use href="#t"/><use href="#Fr"/></g>
<g transform="translate(625.9,815.8)"><g clip-path="url(#c)"><path d="M5.3,84 9.5,84 13.7,84 17.8,78.9 22,74.2 26.2,70.9 30.4,67.9 34.6,65 38.7,62.3 42.9,59.7 47.1,57.1 51.3,54.3 55.5,51.3 59.6,48.2 63.8,45.2 68,42.7 72.2,40.3 76.4,37.7 80.5,34.8 84.7,31.5 88.9,28 93.1,24.5 97.3,21.2 101.4,17.8 105.6,14.5 109.8,11.1 114,7.8 118.2,4.4 122.3,1.1 122.3,42.3 118.2,43.9 114,45.5 109.8,47.1 105.6,48.7 101.4,50.3 97.3,52 93.1,53.6 88.9,55.3 84.7,57.1 80.5,58.7 76.4,59.9 72.2,60.7 68,61.4 63.8,62.2 59.6,64.1 55.5,66 51.3,67.8 47.1,69.4 42.9,70.7 38.7,72 34.6,73.5 30.4,74.9 26.2,76.5 22,78.3 17.8,81.2 13.7,84 9.5,84 5.3,84Z" fill="#93bcdc"/><path d="M5.3,84 9.5,84 13.7,84 17.8,78.9 22,74.2 26.2,70.9 30.4,67.9 34.6,65 38.7,62.3 42.9,59.7 47.1,57.1 51.3,54.3 55.5,51.3 59.6,48.2 63.8,45.2 68,42.7 72.2,40.3 76.4,37.7 80.5,34.8 84.7,31.5 88.9,28 93.1,24.5 97.3,21.2 101.4,17.8 105.6,14.5 109.8,11.1 114,7.8 118.2,4.4 122.3,1.1M5.3,84 9.5,84 13.7,84 17.8,81.2 22,78.3 26.2,76.5 30.4,74.9 34.6,73.5 38.7,72 42.9,70.7 47.1,69.4 51.3,67.8 55.5,66 59.6,64.1 63.8,62.2 68,61.4 72.2,60.7 76.4,59.9 80.5,58.7 84.7,57.1 88.9,55.3 93.1,53.6 97.3,52 101.4,50.3 105.6,48.7 109.8,47.1 114,45.5 118.2,43.9 122.3,42.3" fill="none" stroke="#5a9ccd" stroke-width="2"/><path d="M5.3,84 9.5,84 13.7,84 17.8,79.2 22,74.8 26.2,71.6 30.4,68.9 34.6,66.2 38.7,63.7 42.9,61.2 47.1,58.8 51.3,56.2 55.5,53.3 59.6,50.4 63.8,47.6 68,45.1 72.2,42.7 76.4,40.2 80.5,37.3 84.7,34 88.9,30.6 93.1,27.1 97.3,23.8 101.4,20.5 105.6,17.1 109.8,13.8 114,10.5 118.2,7.2 122.3,3.9 122.3,33.6 118.2,35.6 114,37.7 109.8,39.7 105.6,41.8 101.4,43.9 97.3,46 93.1,48.1 88.9,50.3 84.7,52.5 80.5,54.5 76.4,56.1 72.2,57.4 68,58.6 63.8,59.8 59.6,61.8 55.5,63.9 51.3,65.9 47.1,67.7 42.9,69.2 38.7,70.7 34.6,72.3 30.4,74 26.2,75.7 22,77.7 17.8,80.9 13.7,84 9.5,84 5.3,84Z" fill="#f4cca4" stroke="#c4aa90" stroke-width="1.4"/><path d="M5.3,84 9.5,84 13.7,84 17.8,79.6 22,75.4 26.2,72.5 30.4,70 34.6,67.6 38.7,65.2 42.9,63 47.1,60.8 51.3,58.4 55.5,55.7 59.6,53 63.8,50.3 68,47.9 72.2,45.5 76.4,43 80.5,40.2 84.7,37 88.9,33.5 93.1,30.1 97.3,26.8 101.4,23.5 105.6,20.2 109.8,17 114,13.7 118.2,10.4 122.3,7.2 122.3,23.5 118.2,26 114,28.6 109.8,31.2 105.6,33.8 101.4,36.4 97.3,39 93.1,41.6 88.9,44.3 84.7,47.1 80.5,49.7 76.4,51.8 72.2,53.6 68,55.3 63.8,57 59.6,59.3 55.5,61.5 51.3,63.7 47.1,65.7 42.9,67.4 38.7,69.1 34.6,70.9 30.4,72.8 26.2,74.8 22,77 17.8,80.5 13.7,84 9.5,84 5.3,84Z" fill="#d3e7ec"/></g><use href="#v2"/><use href="#Mr"/><path clip-path="url(#c)" d="M5.3,84 7.4,84 9.5,84 11.6,84 13.7,84 15.8,82.7 17.8,80.1 19.9,77.7 22,76.2 24.1,74.9 26.2,73.7 28.3,72.5 30.4,71.4 32.5,70.3 34.6,69.3 36.6,68.2 38.7,67.2 40.8,66.2 42.9,65.2 45,64.2 47.1,63.2 49.2,62.2 51.3,61 53.4,59.8 55.5,58.6 57.5,57.4 59.6,56.1 61.7,54.9 63.8,53.7 65.9,52.5 68,51.3 70.1,50.2 72.2,49 74.3,47.8 76.4,46.5 78.4,45.2 80.5,43.7 82.6,42.2 84.7,40.5 86.8,38.8 88.9,37.1 91,35.4 93.1,33.8 95.2,32.2 97.3,30.5 99.3,28.9 101.4,27.3 103.5,25.6 105.6,24 107.7,22.4 109.8,20.8 111.9,19.2 114,17.5 116.1,15.9 118.2,14.3 120.2,12.7 122.3,11.1" fill="none" stroke="#000" stroke-width="8.2" stroke-linejoin="round" stroke-linecap="round"/><use href="#t"/><use href="#Fr"/></g>
<g transform="translate(805.3,815.8)"><g clip-path="url(#c)"><path d="M5.3,84 9.5,84 13.7,84 15.8,84 17.8,81 22,75 26.2,71.2 30.4,67.8 34.6,64.6 38.7,61.5 42.9,58.5 47.1,55.5 51.3,52.4 55.5,49.1 59.6,45.7 63.8,42.3 68,40.2 72.2,38 76.4,35.5 80.5,32.7 84.7,29.3 88.9,25.6 93.1,21.8 97.3,17.6 101.4,13.1 105.6,9.3 109.8,6.8 114,4.8 118.2,3.3 122.3,2.6 122.3,22.4 118.2,23.1 114,24.6 109.8,26.6 105.6,29.1 101.4,32.9 97.3,37.4 93.1,41.6 88.9,45.4 84.7,49.1 80.5,52.5 76.4,55.4 72.2,57.8 68,60.1 63.8,62.2 59.6,64.2 55.5,66.2 51.3,68 47.1,69.7 42.9,71.1 38.7,72.5 34.6,74 30.4,75.5 26.2,77 22,78.9 17.8,82.6 15.8,84 13.7,84 9.5,84 5.3,84Z" fill="#93bcdc"/><path d="M5.3,84 9.5,84 13.7,84 15.8,84 17.8,81 22,75 26.2,71.2 30.4,67.8 34.6,64.6 38.7,61.5 42.9,58.5 47.1,55.5 51.3,52.4 55.5,49.1 59.6,45.7 63.8,42.3 68,40.2 72.2,38 76.4,35.5 80.5,32.7 84.7,29.3 88.9,25.6 93.1,21.8 97.3,17.6 101.4,13.1 105.6,9.3 109.8,6.8 114,4.8 118.2,3.3 122.3,2.6M5.3,84 9.5,84 13.7,84 15.8,84 17.8,82.6 22,78.9 26.2,77 30.4,75.5 34.6,74 38.7,72.5 42.9,71.1 47.1,69.7 51.3,68 55.5,66.2 59.6,64.2 63.8,62.2 68,60.1 72.2,57.8 76.4,55.4 80.5,52.5 84.7,49.1 88.9,45.4 93.1,41.6 97.3,37.4 101.4,32.9 105.6,29.1 109.8,26.6 114,24.6 118.2,23.1 122.3,22.4" fill="none" stroke="#5a9ccd" stroke-width="2"/><path d="M5.3,84 9.5,84 13.7,84 15.8,84 17.8,81.3 22,75.7 26.2,72.2 30.4,69.2 34.6,66.3 38.7,63.5 42.9,60.8 47.1,58.1 51.3,55.2 55.5,52.2 59.6,49.1 63.8,45.9 68,43.6 72.2,41.3 76.4,38.7 80.5,35.7 84.7,32.2 88.9,28.3 93.1,24.4 97.3,20 101.4,15.4 105.6,11.4 109.8,8.8 114,6.7 118.2,5.1 122.3,4.2 122.3,18.4 118.2,19.3 114,20.9 109.8,23.1 105.6,25.7 101.4,29.7 97.3,34.3 93.1,38.6 88.9,42.6 84.7,46.5 80.5,50 76.4,53 72.2,55.6 68,57.9 63.8,60.2 59.6,62.4 55.5,64.5 51.3,66.4 47.1,68.3 42.9,69.9 38.7,71.4 34.6,73.1 30.4,74.7 26.2,76.4 22,78.5 17.8,82.4 15.8,84 13.7,84 9.5,84 5.3,84Z" fill="#f4cca4" stroke="#c4aa90" stroke-width="1.4"/><path d="M5.3,84 9.5,84 13.7,84 15.8,84 17.8,81.6 22,76.6 26.2,73.4 30.4,70.8 34.6,68.3 38.7,65.8 42.9,63.4 47.1,61 51.3,58.5 55.5,55.7 59.6,52.9 63.8,50 68,47.6 72.2,45.1 76.4,42.3 80.5,39.2 84.7,35.5 88.9,31.4 93.1,27.3 97.3,22.8 101.4,18 105.6,13.9 109.8,11.1 114,8.8 118.2,7 122.3,6 122.3,13.8 118.2,14.9 114,16.7 109.8,19 105.6,21.8 101.4,25.9 97.3,30.7 93.1,35.2 88.9,39.3 84.7,43.3 80.5,47 76.4,50.2 72.2,52.9 68,55.5 63.8,57.9 59.6,60.2 55.5,62.5 51.3,64.6 47.1,66.6 42.9,68.4 38.7,70.1 34.6,72 30.4,73.8 26.2,75.8 22,78.1 17.8,82.2 15.8,84 13.7,84 9.5,84 5.3,84Z" fill="#d3e7ec"/></g><use href="#v3"/><use href="#Mr"/><path clip-path="url(#c)" d="M5.3,84 7.4,84 9.5,84 11.6,84 13.7,84 15.8,84 17.8,82 19.9,79.1 22,77.5 24.1,76.2 26.2,74.9 28.3,73.8 30.4,72.8 32.5,71.7 34.6,70.7 36.6,69.6 38.7,68.6 40.8,67.6 42.9,66.6 45,65.6 47.1,64.6 49.2,63.6 51.3,62.4 53.4,61.3 55.5,60.1 57.5,58.9 59.6,57.6 61.7,56.4 63.8,55.1 65.9,53.8 68,52.5 70.1,51.1 72.2,49.7 74.3,48.3 76.4,46.8 78.4,45.2 80.5,43.4 82.6,41.5 84.7,39.5 86.8,37.4 88.9,35.3 91,33.1 93.1,31 95.2,28.7 97.3,26.3 99.3,23.8 101.4,21.3 103.5,19 105.6,16.9 107.7,15.3 109.8,13.9 111.9,12.6 114,11.4 116.1,10.4 118.2,9.5 120.2,8.7 122.3,8.2" fill="none" stroke="#000" stroke-width="8.2" stroke-linejoin="round" stroke-linecap="round"/><use href="#t"/><use href="#Fr"/></g>
<g transform="translate(984.7,815.8)"><g clip-path="url(#c)"><path d="M5.3,84 9.5,84 11.6,84 13.7,82.3 17.8,77.1 22,73 26.2,69.9 30.4,66.9 34.6,64 38.7,61.1 42.9,58.2 47.1,55.2 51.3,52.2 55.5,48.9 59.6,45.6 63.8,42.3 68,40 72.2,37.7 76.4,35.4 80.5,32.9 84.7,30.2 88.9,27.4 93.1,24.5 97.3,21.5 101.4,18.4 105.6,15.2 109.8,12.1 114,8.9 118.2,5.8 122.3,2.6 122.3,53.7 118.2,55.2 114,56.7 109.8,58.3 105.6,59.8 101.4,61.3 97.3,62.9 93.1,64.3 88.9,65.5 84.7,66.7 80.5,67.7 76.4,68.6 72.2,69.3 68,70 63.8,70.7 59.6,72.1 55.5,73.6 51.3,74.9 47.1,76.1 42.9,77 38.7,77.9 34.6,78.7 30.4,79.5 26.2,80.1 22,80.9 17.8,82.3 13.7,84 11.6,84 9.5,84 5.3,84Z" fill="#93bcdc"/><path d="M5.3,84 9.5,84 11.6,84 13.7,82.3 17.8,77.1 22,73 26.2,69.9 30.4,66.9 34.6,64 38.7,61.1 42.9,58.2 47.1,55.2 51.3,52.2 55.5,48.9 59.6,45.6 63.8,42.3 68,40 72.2,37.7 76.4,35.4 80.5,32.9 84.7,30.2 88.9,27.4 93.1,24.5 97.3,21.5 101.4,18.4 105.6,15.2 109.8,12.1 114,8.9 118.2,5.8 122.3,2.6M5.3,84 9.5,84 11.6,84 13.7,84 17.8,82.3 22,80.9 26.2,80.1 30.4,79.5 34.6,78.7 38.7,77.9 42.9,77 47.1,76.1 51.3,74.9 55.5,73.6 59.6,72.1 63.8,70.7 68,70 72.2,69.3 76.4,68.6 80.5,67.7 84.7,66.7 88.9,65.5 93.1,64.3 97.3,62.9 101.4,61.3 105.6,59.8 109.8,58.3 114,56.7 118.2,55.2 122.3,53.7" fill="none" stroke="#5a9ccd" stroke-width="2"/><path d="M5.3,84 9.5,84 11.6,84 13.7,82.6 17.8,77.7 22,74 26.2,71.1 30.4,68.5 34.6,65.9 38.7,63.2 42.9,60.6 47.1,57.9 51.3,55 55.5,52 59.6,48.9 63.8,45.9 68,43.6 72.2,41.3 76.4,38.9 80.5,36.3 84.7,33.6 88.9,30.8 93.1,27.9 97.3,24.9 101.4,21.7 105.6,18.5 109.8,15.3 114,12.1 118.2,9 122.3,5.8 122.3,42.5 118.2,44.6 114,46.6 109.8,48.6 105.6,50.6 101.4,52.6 97.3,54.6 93.1,56.5 88.9,58.3 84.7,59.9 80.5,61.4 76.4,62.8 72.2,64 68,65.1 63.8,66.3 59.6,68 55.5,69.8 51.3,71.4 47.1,72.9 42.9,74.1 38.7,75.3 34.6,76.5 30.4,77.5 26.2,78.5 22,79.7 17.8,81.5 13.7,83.8 11.6,84 9.5,84 5.3,84Z" fill="#f4cca4" stroke="#c4aa90" stroke-width="1.4"/><path d="M5.3,84 9.5,84 11.6,84 13.7,82.9 17.8,78.5 22,75.2 26.2,72.6 30.4,70.3 34.6,68 38.7,65.7 42.9,63.3 47.1,60.9 51.3,58.4 55.5,55.6 59.6,52.8 63.8,50 68,47.7 72.2,45.3 76.4,42.9 80.5,40.3 84.7,37.6 88.9,34.8 93.1,31.8 97.3,28.7 101.4,25.5 105.6,22.3 109.8,19.1 114,15.9 118.2,12.7 122.3,9.4 122.3,29.7 118.2,32.2 114,34.8 109.8,37.4 105.6,39.9 101.4,42.5 97.3,45.1 93.1,47.5 88.9,49.9 84.7,52.1 80.5,54.1 76.4,56.1 72.2,57.8 68,59.5 63.8,61.2 59.6,63.3 55.5,65.4 51.3,67.4 47.1,69.2 42.9,70.8 38.7,72.3 34.6,73.9 30.4,75.3 26.2,76.7 22,78.3 17.8,80.6 13.7,83.6 11.6,84 9.5,84 5.3,84Z" fill="#d3e7ec"/></g><use href="#v4"/><use href="#Mr"/><path clip-path="url(#c)" d="M5.3,84 7.4,84 9.5,84 11.6,84 13.7,83.3 15.8,81.5 17.8,79.4 19.9,77.7 22,76.6 24.1,75.5 26.2,74.5 28.3,73.5 30.4,72.6 32.5,71.6 34.6,70.7 36.6,69.7 38.7,68.7 40.8,67.7 42.9,66.7 45,65.7 47.1,64.6 49.2,63.6 51.3,62.4 53.4,61.2 55.5,60 57.5,58.8 59.6,57.5 61.7,56.3 63.8,55.1 65.9,53.9 68,52.7 70.1,51.5 72.2,50.3 74.3,49.1 76.4,47.9 78.4,46.6 80.5,45.2 82.6,43.9 84.7,42.5 86.8,41 88.9,39.6 91,38.1 93.1,36.6 95.2,35 97.3,33.5 99.3,31.8 101.4,30.2 103.5,28.6 105.6,26.9 107.7,25.3 109.8,23.7 111.9,22 114,20.4 116.1,18.8 118.2,17.2 120.2,15.5 122.3,13.9" fill="none" stroke="#000" stroke-width="8.2" stroke-linejoin="round" stroke-linecap="round"/><use href="#t"/><use href="#Fr"/></g>
<g transform="translate(1164,815.8)"><g clip-path="url(#c)"><path d="M5.3,84 9.5,84 13.7,84 17.8,80.5 22,76.8 26.2,73.7 30.4,71 34.6,68.6 38.7,66.5 42.9,64.6 47.1,62.8 51.3,60.7 55.5,58.4 59.6,56 63.8,53.7 68,50.4 72.2,47.1 76.4,43.8 80.5,40.8 84.7,38.1 88.9,35.3 93.1,32.4 97.3,29.3 101.4,26.1 105.6,22.8 109.8,19.3 114,15.8 118.2,12 122.3,8.2 122.3,53.7 118.2,55.5 114,57.1 109.8,58.7 105.6,60.1 101.4,61.4 97.3,62.6 93.1,63.7 88.9,64.5 84.7,65.2 80.5,66 76.4,66.9 72.2,68.1 68,69.4 63.8,70.7 59.6,71.9 55.5,73.1 51.3,74.2 47.1,75.1 42.9,75.7 38.7,76.2 34.6,77 30.4,78.1 26.2,79.4 22,80.8 17.8,82.8 13.7,84 9.5,84 5.3,84Z" fill="#93bcdc"/><path d="M5.3,84 9.5,84 13.7,84 17.8,80.5 22,76.8 26.2,73.7 30.4,71 34.6,68.6 38.7,66.5 42.9,64.6 47.1,62.8 51.3,60.7 55.5,58.4 59.6,56 63.8,53.7 68,50.4 72.2,47.1 76.4,43.8 80.5,40.8 84.7,38.1 88.9,35.3 93.1,32.4 97.3,29.3 101.4,26.1 105.6,22.8 109.8,19.3 114,15.8 118.2,12 122.3,8.2M5.3,84 9.5,84 13.7,84 17.8,82.8 22,80.8 26.2,79.4 30.4,78.1 34.6,77 38.7,76.2 42.9,75.7 47.1,75.1 51.3,74.2 55.5,73.1 59.6,71.9 63.8,70.7 68,69.4 72.2,68.1 76.4,66.9 80.5,66 84.7,65.2 88.9,64.5 93.1,63.7 97.3,62.6 101.4,61.4 105.6,60.1 109.8,58.7 114,57.1 118.2,55.5 122.3,53.7" fill="none" stroke="#5a9ccd" stroke-width="2"/><path d="M5.3,84 9.5,84 13.7,84 17.8,80.6 22,77 26.2,74.1 30.4,71.5 34.6,69.2 38.7,67.2 42.9,65.4 47.1,63.6 51.3,61.6 55.5,59.4 59.6,57.1 63.8,54.8 68,51.9 72.2,48.9 76.4,46 80.5,43.4 84.7,40.9 88.9,38.5 93.1,36 97.3,33.3 101.4,30.4 105.6,27.4 109.8,24.3 114,21 118.2,17.7 122.3,14.2 122.3,46.9 118.2,48.9 114,50.8 109.8,52.6 105.6,54.2 101.4,55.8 97.3,57.2 93.1,58.5 88.9,59.6 84.7,60.5 80.5,61.5 76.4,62.7 72.2,64.1 68,65.6 63.8,67.1 59.6,68.5 55.5,70 51.3,71.3 47.1,72.5 42.9,73.4 38.7,74.2 34.6,75.2 30.4,76.6 26.2,78.2 22,80 17.8,82.3 13.7,84 9.5,84 5.3,84Z" fill="#f4cca4" stroke="#c4aa90" stroke-width="1.4"/><path d="M5.3,84 9.5,84 13.7,84 17.8,80.8 22,77.4 26.2,74.6 30.4,72.1 34.6,69.8 38.7,67.9 42.9,66.3 47.1,64.6 51.3,62.7 55.5,60.6 59.6,58.4 63.8,56.2 68,53.6 72.2,51.1 76.4,48.6 80.5,46.3 84.7,44.3 88.9,42.3 93.1,40.1 97.3,37.8 101.4,35.3 105.6,32.7 109.8,30 114,27.1 118.2,24.2 122.3,21.1 122.3,39.1 118.2,41.4 114,43.5 109.8,45.6 105.6,47.5 101.4,49.3 97.3,50.9 93.1,52.5 88.9,53.8 84.7,55 80.5,56.3 76.4,57.7 72.2,59.4 68,61.2 63.8,62.9 59.6,64.7 55.5,66.4 51.3,68.1 47.1,69.5 42.9,70.7 38.7,71.8 34.6,73.2 30.4,74.9 26.2,76.8 22,79 17.8,81.7 13.7,84 9.5,84 5.3,84Z" fill="#d3e7ec"/></g><use href="#v5"/><use href="#Mr"/><path clip-path="url(#c)" d="M5.3,84 7.4,84 9.5,84 11.6,84 13.7,84 15.8,83.1 17.8,81 19.9,79.1 22,77.8 24.1,76.4 26.2,75.1 28.3,73.9 30.4,72.8 32.5,71.7 34.6,70.7 36.6,69.7 38.7,68.9 40.8,68.1 42.9,67.4 45,66.6 47.1,65.8 49.2,65 51.3,64 53.4,63 55.5,62 57.5,61 59.6,59.9 61.7,58.9 63.8,57.9 65.9,56.8 68,55.8 70.1,54.7 72.2,53.7 74.3,52.7 76.4,51.7 78.4,50.8 80.5,49.9 82.6,49.1 84.7,48.4 86.8,47.6 88.9,46.8 91,46 93.1,45.2 95.2,44.3 97.3,43.3 99.3,42.3 101.4,41.3 103.5,40.3 105.6,39.2 107.7,38.1 109.8,37 111.9,35.8 114,34.6 116.1,33.4 118.2,32.1 120.2,30.8 122.3,29.5" fill="none" stroke="#000" stroke-width="8.2" stroke-linejoin="round" stroke-linecap="round"/><use href="#t"/><use href="#Fr"/></g>
<g transform="translate(1343.4,815.8)"><g clip-path="url(#c)"><path d="M5.3,84 9.5,84 13.7,84 17.8,76.3 22,70.2 26.2,65.9 30.4,62.4 34.6,59.4 38.7,56.9 42.9,54.7 47.1,52.5 51.3,50.2 55.5,47.7 59.6,45.1 63.8,42.3 68,40.3 72.2,38 76.4,35.6 80.5,33.4 84.7,31.3 88.9,29.1 93.1,26.7 97.3,24 101.4,21 105.6,17.8 109.8,14.4 114,10.7 118.2,6.8 122.3,2.6 122.3,48 118.2,50.7 114,53.2 109.8,55.5 105.6,57.5 101.4,59.3 97.3,60.9 93.1,62.2 88.9,63.1 84.7,63.9 80.5,64.6 76.4,65.4 72.2,66.4 68,67.3 63.8,67.9 59.6,68.9 55.5,69.8 51.3,70.5 47.1,71 42.9,71.3 38.7,71.6 34.6,72.1 30.4,73 26.2,74.3 22,76.3 17.8,79.8 13.7,84 9.5,84 5.3,84Z" fill="#93bcdc"/><path d="M5.3,84 9.5,84 13.7,84 17.8,76.3 22,70.2 26.2,65.9 30.4,62.4 34.6,59.4 38.7,56.9 42.9,54.7 47.1,52.5 51.3,50.2 55.5,47.7 59.6,45.1 63.8,42.3 68,40.3 72.2,38 76.4,35.6 80.5,33.4 84.7,31.3 88.9,29.1 93.1,26.7 97.3,24 101.4,21 105.6,17.8 109.8,14.4 114,10.7 118.2,6.8 122.3,2.6M5.3,84 9.5,84 13.7,84 17.8,79.8 22,76.3 26.2,74.3 30.4,73 34.6,72.1 38.7,71.6 42.9,71.3 47.1,71 51.3,70.5 55.5,69.8 59.6,68.9 63.8,67.9 68,67.3 72.2,66.4 76.4,65.4 80.5,64.6 84.7,63.9 88.9,63.1 93.1,62.2 97.3,60.9 101.4,59.3 105.6,57.5 109.8,55.5 114,53.2 118.2,50.7 122.3,48" fill="none" stroke="#5a9ccd" stroke-width="2"/><path d="M5.3,84 9.5,84 13.7,84 17.8,77.1 22,71.5 26.2,67.7 30.4,64.7 34.6,62.1 38.7,60.1 42.9,58.3 47.1,56.5 51.3,54.6 55.5,52.5 59.6,50.2 63.8,47.8 68,45.9 72.2,43.7 76.4,41.4 80.5,39.2 84.7,37.1 88.9,35 93.1,32.7 97.3,30 101.4,27.1 105.6,23.9 109.8,20.6 114,16.9 118.2,13.1 122.3,9 122.3,41.6 118.2,44.7 114,47.6 109.8,50.2 105.6,52.5 101.4,54.6 97.3,56.5 93.1,58.2 88.9,59.5 84.7,60.6 80.5,61.7 76.4,62.8 72.2,64.1 68,65.4 63.8,66.3 59.6,67.4 55.5,68.4 51.3,69.2 47.1,69.9 42.9,70.3 38.7,70.7 34.6,71.3 30.4,72.3 26.2,73.8 22,75.9 17.8,79.6 13.7,84 9.5,84 5.3,84Z" fill="#f4cca4" stroke="#c4aa90" stroke-width="1.4"/><path d="M5.3,84 9.5,84 13.7,84 17.8,77.9 22,73 26.2,69.9 30.4,67.3 34.6,65.3 38.7,63.8 42.9,62.5 47.1,61.2 51.3,59.7 55.5,58 59.6,56.3 63.8,54.3 68,52.4 72.2,50.3 76.4,48 80.5,45.9 84.7,43.9 88.9,41.8 93.1,39.5 97.3,37 101.4,34.1 105.6,31 109.8,27.7 114,24.2 118.2,20.4 122.3,16.3 122.3,34.3 118.2,37.8 114,41 109.8,44 105.6,46.7 101.4,49.2 97.3,51.6 93.1,53.6 88.9,55.3 84.7,56.8 80.5,58.3 76.4,59.8 72.2,61.5 68,63.1 63.8,64.4 59.6,65.7 55.5,66.8 51.3,67.7 47.1,68.5 42.9,69.1 38.7,69.6 34.6,70.4 30.4,71.6 26.2,73.2 22,75.4 17.8,79.3 13.7,84 9.5,84 5.3,84Z" fill="#d3e7ec"/></g><use href="#v6"/><use href="#Mr"/><path clip-path="url(#c)" d="M5.3,84 7.4,84 9.5,84 11.6,84 13.7,84 15.8,82.4 17.8,79 19.9,76.3 22,74.9 24.1,73.6 26.2,72.5 28.3,71.5 30.4,70.6 32.5,69.9 34.6,69.3 36.6,68.7 38.7,68.3 40.8,67.9 42.9,67.6 45,67.3 47.1,66.9 49.2,66.5 51.3,66 53.4,65.4 55.5,64.9 57.5,64.2 59.6,63.6 61.7,62.9 63.8,62.2 65.9,61.3 68,60.4 70.1,59.4 72.2,58.3 74.3,57.2 76.4,56.1 78.4,55.1 80.5,54.1 82.6,53.1 84.7,52.1 86.8,51.2 88.9,50.2 91,49.1 93.1,48 95.2,46.8 97.3,45.5 99.3,44.1 101.4,42.7 103.5,41.2 105.6,39.7 107.7,38.1 109.8,36.4 111.9,34.7 114,33 116.1,31.1 118.2,29.3 120.2,27.3 122.3,25.3" fill="none" stroke="#000" stroke-width="8.2" stroke-linejoin="round" stroke-linecap="round"/><use href="#t"/><use href="#Fr"/></g>
<g transform="translate(1522.8,815.8)"><g clip-path="url(#c)"><path d="M5.3,84 9.5,84 13.7,84 15.8,84 17.8,81.2 22,75.2 26.2,71.7 30.4,68.9 34.6,66.5 38.7,64.5 42.9,62.7 47.1,61 51.3,59.2 55.5,57.5 59.6,55.8 63.8,53.7 68,51.2 72.2,48.1 76.4,44.6 80.5,40.7 84.7,35.9 88.9,30.7 93.1,26 97.3,21.7 101.4,17.6 105.6,13.8 109.8,10.6 114,7.6 118.2,4.9 122.3,2.6 122.3,42.3 118.2,42.4 114,42.8 109.8,43.6 105.6,44.6 101.4,46.1 97.3,48 93.1,50.1 88.9,52.6 84.7,55.5 80.5,58.1 76.4,59.8 72.2,61.1 68,61.9 63.8,62.2 59.6,63.7 55.5,64.8 51.3,65.8 47.1,67 42.9,68 38.7,69.2 34.6,70.5 30.4,72.2 26.2,74.2 22,76.9 17.8,81.9 15.8,84 13.7,84 9.5,84 5.3,84Z" fill="#93bcdc"/><path d="M5.3,84 9.5,84 13.7,84 15.8,84 17.8,81.2 22,75.2 26.2,71.7 30.4,68.9 34.6,66.5 38.7,64.5 42.9,62.7 47.1,61 51.3,59.2 55.5,57.5 59.6,55.8 63.8,53.7 68,51.2 72.2,48.1 76.4,44.6 80.5,40.7 84.7,35.9 88.9,30.7 93.1,26 97.3,21.7 101.4,17.6 105.6,13.8 109.8,10.6 114,7.6 118.2,4.9 122.3,2.6M5.3,84 9.5,84 13.7,84 15.8,84 17.8,81.9 22,76.9 26.2,74.2 30.4,72.2 34.6,70.5 38.7,69.2 42.9,68 47.1,67 51.3,65.8 55.5,64.8 59.6,63.7 63.8,62.2 68,61.9 72.2,61.1 76.4,59.8 80.5,58.1 84.7,55.5 88.9,52.6 93.1,50.1 97.3,48 101.4,46.1 105.6,44.6 109.8,43.6 114,42.8 118.2,42.4 122.3,42.3" fill="none" stroke="#5a9ccd" stroke-width="2"/><path d="M5.3,84 9.5,84 13.7,84 15.8,84 17.8,81.2 22,75.4 26.2,72 30.4,69.2 34.6,66.9 38.7,64.9 42.9,63.2 47.1,61.5 51.3,59.8 55.5,58.2 59.6,56.5 63.8,54.5 68,52 72.2,48.9 76.4,45.3 80.5,41.3 84.7,36.5 88.9,31.4 93.1,26.6 97.3,22.3 101.4,18.1 105.6,14.3 109.8,11 114,8 118.2,5.3 122.3,3 122.3,31.6 118.2,32.3 114,33.4 109.8,34.8 105.6,36.5 101.4,38.7 97.3,41.2 93.1,43.9 88.9,47.1 84.7,50.7 80.5,53.9 76.4,56.2 72.2,58.2 68,59.7 63.8,60.6 59.6,62.2 55.5,63.4 51.3,64.6 47.1,65.9 42.9,67 38.7,68.3 34.6,69.8 30.4,71.6 26.2,73.8 22,76.6 17.8,81.7 15.8,84 13.7,84 9.5,84 5.3,84Z" fill="#f4cca4" stroke="#c4aa90" stroke-width="1.4"/><path d="M5.3,84 9.5,84 13.7,84 15.8,84 17.8,81.3 22,75.6 26.2,72.2 30.4,69.6 34.6,67.3 38.7,65.4 42.9,63.7 47.1,62.2 51.3,60.5 55.5,59 59.6,57.3 63.8,55.4 68,52.8 72.2,49.7 76.4,46.1 80.5,42.1 84.7,37.3 88.9,32.1 93.1,27.3 97.3,22.9 101.4,18.7 105.6,14.9 109.8,11.6 114,8.6 118.2,5.8 122.3,3.5 122.3,19.2 118.2,20.7 114,22.5 109.8,24.7 105.6,27.1 101.4,30 97.3,33.3 93.1,36.8 88.9,40.7 84.7,45 80.5,49 76.4,52.1 72.2,54.8 68,57.1 63.8,58.7 59.6,60.5 55.5,61.9 51.3,63.1 47.1,64.5 42.9,65.9 38.7,67.3 34.6,68.9 30.4,70.9 26.2,73.2 22,76.2 17.8,81.6 15.8,84 13.7,84 9.5,84 5.3,84Z" fill="#d3e7ec"/></g><use href="#v7"/><use href="#Mr"/><path clip-path="url(#c)" d="M5.3,84 7.4,84 9.5,84 11.6,84 13.7,84 15.8,84 17.8,81.4 19.9,77.7 22,75.8 24.1,74.1 26.2,72.6 28.3,71.2 30.4,70 32.5,68.9 34.6,67.9 36.6,66.9 38.7,66 40.8,65.2 42.9,64.4 45,63.7 47.1,62.9 49.2,62.2 51.3,61.4 53.4,60.6 55.5,59.9 57.5,59.2 59.6,58.4 61.7,57.5 63.8,56.5 65.9,55.3 68,53.9 70.1,52.4 72.2,50.7 74.3,49 76.4,47.1 78.4,45.2 80.5,43.1 82.6,40.7 84.7,38.2 86.8,35.6 88.9,32.9 91,30.4 93.1,28.1 95.2,25.9 97.3,23.7 99.3,21.6 101.4,19.5 103.5,17.5 105.6,15.6 107.7,13.9 109.8,12.3 111.9,10.7 114,9.2 116.1,7.8 118.2,6.4 120.2,5.2 122.3,4" fill="none" stroke="#000" stroke-width="8.2" stroke-linejoin="round" stroke-linecap="round"/><use href="#t"/><use href="#Fr"/></g>
<g transform="translate(1702.2,815.8)"><g clip-path="url(#c)"><path d="M5.3,84 9.5,84 11.6,84 13.7,83.2 17.8,80 22,76.9 26.2,74 30.4,71.2 34.6,68.6 38.7,66.3 42.9,64.2 47.1,62.2 51.3,60.1 55.5,58.1 59.6,56 63.8,53.8 68,51 72.2,48.1 76.4,45.1 80.5,42.2 84.7,39.5 88.9,36.7 93.1,33.6 97.3,29.9 101.4,25.7 105.6,21.4 109.8,16.9 114,12.3 118.2,7.6 122.3,2.6 122.3,19.6 118.2,23.9 114,28 109.8,31.9 105.6,35.6 101.4,39.3 97.3,42.8 93.1,45.8 88.9,48.2 84.7,50.4 80.5,52.4 76.4,54.6 72.2,56.9 68,59.2 63.8,61.2 59.6,63 55.5,64.6 51.3,66.1 47.1,67.7 42.9,69.2 38.7,70.7 34.6,72.4 30.4,74.5 26.2,76.7 22,79 17.8,81.3 13.7,83.7 11.6,84 9.5,84 5.3,84Z" fill="#93bcdc"/><path d="M5.3,84 9.5,84 11.6,84 13.7,83.2 17.8,80 22,76.9 26.2,74 30.4,71.2 34.6,68.6 38.7,66.3 42.9,64.2 47.1,62.2 51.3,60.1 55.5,58.1 59.6,56 63.8,53.8 68,51 72.2,48.1 76.4,45.1 80.5,42.2 84.7,39.5 88.9,36.7 93.1,33.6 97.3,29.9 101.4,25.7 105.6,21.4 109.8,16.9 114,12.3 118.2,7.6 122.3,2.6M5.3,84 9.5,84 11.6,84 13.7,83.7 17.8,81.3 22,79 26.2,76.7 30.4,74.5 34.6,72.4 38.7,70.7 42.9,69.2 47.1,67.7 51.3,66.1 55.5,64.6 59.6,63 63.8,61.2 68,59.2 72.2,56.9 76.4,54.6 80.5,52.4 84.7,50.4 88.9,48.2 93.1,45.8 97.3,42.8 101.4,39.3 105.6,35.6 109.8,31.9 114,28 118.2,23.9 122.3,19.6" fill="none" stroke="#5a9ccd" stroke-width="2"/><path d="M5.3,84 9.5,84 11.6,84 13.7,83.3 17.8,80.2 22,77.3 26.2,74.5 30.4,71.7 34.6,69.2 38.7,67 42.9,65 47.1,63.1 51.3,61.1 55.5,59.1 59.6,57.1 63.8,54.9 68,52.3 72.2,49.5 76.4,46.7 80.5,43.9 84.7,41.3 88.9,38.6 93.1,35.6 97.3,32.1 101.4,28.1 105.6,23.8 109.8,19.5 114,15.1 118.2,10.4 122.3,5.6 122.3,17.8 118.2,22.2 114,26.3 109.8,30.3 105.6,34.1 101.4,37.9 97.3,41.4 93.1,44.4 88.9,47 84.7,49.2 80.5,51.3 76.4,53.5 72.2,55.9 68,58.2 63.8,60.3 59.6,62.1 55.5,63.8 51.3,65.4 47.1,67 42.9,68.6 38.7,70.2 34.6,72 30.4,74.1 26.2,76.4 22,78.8 17.8,81.2 13.7,83.7 11.6,84 9.5,84 5.3,84Z" fill="#f4cca4" stroke="#c4aa90" stroke-width="1.4"/><path d="M5.3,84 9.5,84 11.6,84 13.7,83.4 17.8,80.4 22,77.6 26.2,75 30.4,72.3 34.6,69.9 38.7,67.8 42.9,65.9 47.1,64.1 51.3,62.2 55.5,60.3 59.6,58.4 63.8,56.3 68,53.9 72.2,51.2 76.4,48.5 80.5,45.9 84.7,43.4 88.9,40.9 93.1,38 97.3,34.6 101.4,30.8 105.6,26.7 109.8,22.5 114,18.2 118.2,13.7 122.3,9 122.3,15.8 118.2,20.2 114,24.4 109.8,28.4 105.6,32.3 101.4,36.2 97.3,39.7 93.1,42.9 88.9,45.5 84.7,47.7 80.5,49.9 76.4,52.3 72.2,54.7 68,57.1 63.8,59.3 59.6,61.1 55.5,62.9 51.3,64.5 47.1,66.2 42.9,67.9 38.7,69.6 34.6,71.4 30.4,73.6 26.2,76 22,78.5 17.8,81 13.7,83.6 11.6,84 9.5,84 5.3,84Z" fill="#d3e7ec"/></g><use href="#v8"/><use href="#Mr"/><path clip-path="url(#c)" d="M5.3,84 7.4,84 9.5,84 11.6,84 13.7,83.5 15.8,82.3 17.8,80.7 19.9,79.3 22,78.1 24.1,76.8 26.2,75.6 28.3,74.3 30.4,73 32.5,71.8 34.6,70.7 36.6,69.7 38.7,68.8 40.8,67.9 42.9,67 45,66.2 47.1,65.3 49.2,64.4 51.3,63.5 53.4,62.6 55.5,61.7 57.5,60.8 59.6,59.9 61.7,59 63.8,58 65.9,56.9 68,55.7 70.1,54.5 72.2,53.2 74.3,52 76.4,50.7 78.4,49.5 80.5,48.3 82.6,47.1 84.7,46 86.8,44.9 88.9,43.6 91,42.4 93.1,41 95.2,39.4 97.3,37.8 99.3,36 101.4,34.1 103.5,32.1 105.6,30.2 107.7,28.2 109.8,26.2 111.9,24.2 114,22.1 116.1,19.9 118.2,17.7 120.2,15.5 122.3,13.3" fill="none" stroke="#000" stroke-width="8.2" stroke-linejoin="round" stroke-linecap="round"/><use href="#t"/><use href="#Fr"/></g>
<g transform="translate(1881.6,815.8)"><g clip-path="url(#c)"><path d="M5.3,84 9.5,84 13.7,84 17.8,78.8 22,73.9 26.2,69.6 30.4,65.6 34.6,62.3 38.7,59.6 42.9,57.3 47.1,54.9 51.3,52.3 55.5,49.3 59.6,46.2 63.8,43.1 68,41.1 72.2,39 76.4,37 80.5,34.9 84.7,32.9 88.9,30.9 93.1,28.7 97.3,26.4 101.4,23.9 105.6,21 109.8,17.6 114,13.3 118.2,8.2 122.3,2.6 122.3,64.4 118.2,67.9 114,70.8 109.8,73 105.6,74.3 101.4,75 97.3,75.3 93.1,75.6 88.9,75.6 84.7,75.5 80.5,75.4 76.4,75.3 72.2,75.2 68,75.1 63.8,75 59.6,75.9 55.5,76.9 51.3,77.6 47.1,78 42.9,78 38.7,78 34.6,78.2 30.4,78.9 26.2,80.1 22,81.5 17.8,83.2 13.7,84 9.5,84 5.3,84Z" fill="#93bcdc"/><path d="M5.3,84 9.5,84 13.7,84 17.8,78.8 22,73.9 26.2,69.6 30.4,65.6 34.6,62.3 38.7,59.6 42.9,57.3 47.1,54.9 51.3,52.3 55.5,49.3 59.6,46.2 63.8,43.1 68,41.1 72.2,39 76.4,37 80.5,34.9 84.7,32.9 88.9,30.9 93.1,28.7 97.3,26.4 101.4,23.9 105.6,21 109.8,17.6 114,13.3 118.2,8.2 122.3,2.6M5.3,84 9.5,84 13.7,84 17.8,83.2 22,81.5 26.2,80.1 30.4,78.9 34.6,78.2 38.7,78 42.9,78 47.1,78 51.3,77.6 55.5,76.9 59.6,75.9 63.8,75 68,75.1 72.2,75.2 76.4,75.3 80.5,75.4 84.7,75.5 88.9,75.6 93.1,75.6 97.3,75.3 101.4,75 105.6,74.3 109.8,73 114,70.8 118.2,67.9 122.3,64.4" fill="none" stroke="#5a9ccd" stroke-width="2"/><path d="M5.3,84 9.5,84 13.7,84 17.8,79.5 22,75 26.2,71.1 30.4,67.6 34.6,64.7 38.7,62.4 42.9,60.4 47.1,58.4 51.3,56.1 55.5,53.4 59.6,50.6 63.8,47.9 68,45.9 72.2,43.9 76.4,41.9 80.5,40 84.7,38 88.9,36.1 93.1,33.9 97.3,31.6 101.4,29.2 105.6,26.4 109.8,23 114,18.8 118.2,13.8 122.3,8.3 122.3,52.8 118.2,56.8 114,60.2 109.8,62.9 105.6,64.8 101.4,66 97.3,66.9 93.1,67.6 88.9,68.3 84.7,68.7 80.5,69.1 76.4,69.5 72.2,70 68,70.4 63.8,70.9 59.6,72 55.5,73.3 51.3,74.3 47.1,75 42.9,75.3 38.7,75.6 34.6,76.1 30.4,77.2 26.2,78.7 22,80.5 17.8,82.6 13.7,84 9.5,84 5.3,84Z" fill="#f4cca4" stroke="#c4aa90" stroke-width="1.4"/><path d="M5.3,84 9.5,84 13.7,84 17.8,80.2 22,76.3 26.2,73 30.4,69.9 34.6,67.4 38.7,65.5 42.9,63.9 47.1,62.4 51.3,60.4 55.5,58.2 59.6,55.7 63.8,53.4 68,51.5 72.2,49.6 76.4,47.7 80.5,45.8 84.7,43.9 88.9,42 93.1,39.9 97.3,37.7 101.4,35.4 105.6,32.7 109.8,29.4 114,25.2 118.2,20.3 122.3,14.8 122.3,39.3 118.2,43.9 114,48 109.8,51.3 105.6,53.8 101.4,55.6 97.3,57.1 93.1,58.5 88.9,59.7 84.7,60.8 80.5,61.8 76.4,62.8 72.2,63.9 68,65 63.8,66 59.6,67.5 55.5,69.1 51.3,70.5 47.1,71.5 42.9,72.2 38.7,72.8 34.6,73.7 30.4,75.2 26.2,77.1 22,79.3 17.8,82 13.7,84 9.5,84 5.3,84Z" fill="#d3e7ec"/></g><use href="#v9"/><use href="#Mr"/><path clip-path="url(#c)" d="M5.3,84 7.4,84 9.5,84 11.6,84 13.7,84 15.8,83.1 17.8,81.2 19.9,79.3 22,77.9 24.1,76.5 26.2,75.2 28.3,73.9 30.4,72.7 32.5,71.6 34.6,70.7 36.6,70 38.7,69.4 40.8,68.8 42.9,68.3 45,67.8 47.1,67.2 49.2,66.5 51.3,65.8 53.4,64.9 55.5,64 57.5,63 59.6,62 61.7,61 63.8,60.1 65.9,59.2 68,58.3 70.1,57.4 72.2,56.5 74.3,55.6 76.4,54.7 78.4,53.8 80.5,52.9 82.6,52 84.7,51.1 86.8,50.2 88.9,49.3 91,48.3 93.1,47.3 95.2,46.3 97.3,45.2 99.3,44.1 101.4,43 103.5,41.7 105.6,40.3 107.7,38.8 109.8,37.1 111.9,35.2 114,33.1 116.1,30.7 118.2,28.3 120.2,25.6 122.3,22.9" fill="none" stroke="#000" stroke-width="8.2" stroke-linejoin="round" stroke-linecap="round"/><use href="#t"/><use href="#Fr"/></g>
<g transform="translate(2061,815.8)"><g clip-path="url(#c)"><path d="M5.3,84 9.5,84 13.7,84 15.8,84 17.8,82.1 22,77.7 26.2,74.2 30.4,71.1 34.6,68.2 38.7,65.8 42.9,63.5 47.1,61.4 51.3,59.4 55.5,57.6 59.6,55.8 63.8,53.8 68,51.8 72.2,49.3 76.4,46.4 80.5,42.7 84.7,37.5 88.9,31.6 93.1,26.1 97.3,20.9 101.4,15.9 105.6,11.4 109.8,7.9 114,4.9 118.2,2.4 122.3,0.5 122.3,28.2 118.2,28.9 114,30.2 109.8,32 105.6,34.2 101.4,37.5 97.3,41.3 93.1,45.3 88.9,49.6 84.7,54.2 80.5,58.2 76.4,60.7 72.2,62.4 68,63.6 63.8,64.4 59.6,65.7 55.5,66.8 51.3,67.8 47.1,69 42.9,70.3 38.7,71.7 34.6,73.3 30.4,75.2 26.2,77.4 22,79.8 17.8,83 15.8,84 13.7,84 9.5,84 5.3,84Z" fill="#93bcdc"/><path d="M5.3,84 9.5,84 13.7,84 15.8,84 17.8,82.1 22,77.7 26.2,74.2 30.4,71.1 34.6,68.2 38.7,65.8 42.9,63.5 47.1,61.4 51.3,59.4 55.5,57.6 59.6,55.8 63.8,53.8 68,51.8 72.2,49.3 76.4,46.4 80.5,42.7 84.7,37.5 88.9,31.6 93.1,26.1 97.3,20.9 101.4,15.9 105.6,11.4 109.8,7.9 114,4.9 118.2,2.4 122.3,0.5M5.3,84 9.5,84 13.7,84 15.8,84 17.8,83 22,79.8 26.2,77.4 30.4,75.2 34.6,73.3 38.7,71.7 42.9,70.3 47.1,69 51.3,67.8 55.5,66.8 59.6,65.7 63.8,64.4 68,63.6 72.2,62.4 76.4,60.7 80.5,58.2 84.7,54.2 88.9,49.6 93.1,45.3 97.3,41.3 101.4,37.5 105.6,34.2 109.8,32 114,30.2 118.2,28.9 122.3,28.2" fill="none" stroke="#5a9ccd" stroke-width="2"/><path d="M5.3,84 9.5,84 13.7,84 15.8,84 17.8,82.3 22,78 26.2,74.7 30.4,71.6 34.6,68.9 38.7,66.6 42.9,64.5 47.1,62.5 51.3,60.6 55.5,58.9 59.6,57.2 63.8,55.2 68,53.2 72.2,50.7 76.4,47.7 80.5,44 84.7,38.8 88.9,32.8 93.1,27.3 97.3,22.1 101.4,17 105.6,12.4 109.8,8.9 114,5.9 118.2,3.3 122.3,1.4 122.3,21.3 118.2,22.4 114,24.1 109.8,26.2 105.6,28.9 101.4,32.5 97.3,36.8 93.1,41.1 88.9,45.8 84.7,50.8 80.5,55.2 76.4,58 72.2,60.1 68,61.7 63.8,62.9 59.6,64.4 55.5,65.5 51.3,66.6 47.1,67.9 42.9,69.3 38.7,70.8 34.6,72.6 30.4,74.6 26.2,76.9 22,79.5 17.8,82.9 15.8,84 13.7,84 9.5,84 5.3,84Z" fill="#f4cca4" stroke="#c4aa90" stroke-width="1.4"/><path d="M5.3,84 9.5,84 13.7,84 15.8,84 17.8,82.4 22,78.4 26.2,75.2 30.4,72.3 34.6,69.8 38.7,67.5 42.9,65.6 47.1,63.7 51.3,62 55.5,60.4 59.6,58.8 63.8,57 68,54.9 72.2,52.3 76.4,49.3 80.5,45.5 84.7,40.2 88.9,34.3 93.1,28.7 97.3,23.4 101.4,18.2 105.6,13.7 109.8,10.1 114,7 118.2,4.4 122.3,2.4 122.3,13.4 118.2,14.9 114,17 109.8,19.6 105.6,22.7 101.4,26.8 97.3,31.5 93.1,36.2 88.9,41.4 84.7,46.9 80.5,51.7 76.4,55 72.2,57.5 68,59.6 63.8,61.2 59.6,62.8 55.5,64 51.3,65.3 47.1,66.7 42.9,68.2 38.7,69.9 34.6,71.7 30.4,73.9 26.2,76.4 22,79.2 17.8,82.8 15.8,84 13.7,84 9.5,84 5.3,84Z" fill="#d3e7ec"/></g><use href="#v10"/><use href="#Mr"/><path clip-path="url(#c)" d="M5.3,84 7.4,84 9.5,84 11.6,84 13.7,84 15.8,84 17.8,82.6 19.9,80.4 22,78.8 24.1,77.3 26.2,75.8 28.3,74.4 30.4,73.1 32.5,71.9 34.6,70.7 36.6,69.7 38.7,68.7 40.8,67.8 42.9,66.9 45,66.1 47.1,65.2 49.2,64.4 51.3,63.6 53.4,62.9 55.5,62.2 57.5,61.5 59.6,60.8 61.7,60 63.8,59.1 65.9,58.1 68,56.9 70.1,55.7 72.2,54.3 74.3,52.8 76.4,51.2 78.4,49.5 80.5,47.4 82.6,44.9 84.7,42 86.8,39 88.9,36 91,33.1 93.1,30.3 95.2,27.7 97.3,25 99.3,22.4 101.4,19.8 103.5,17.4 105.6,15.2 107.7,13.3 109.8,11.5 111.9,9.9 114,8.4 116.1,7 118.2,5.7 120.2,4.6 122.3,3.6" fill="none" stroke="#000" stroke-width="8.2" stroke-linejoin="round" stroke-linecap="round"/><use href="#t"/><use href="#Fr"/></g>
<g transform="translate(267.1,933.8)"><g clip-path="url(#c)"><path d="M5.3,84 9.5,84 11.6,84 13.7,81.8 17.8,75.1 22,68.7 26.2,62.4 30.4,57.3 34.6,53.7 38.7,50.4 42.9,47.9 47.1,45.5 51.3,42.2 55.5,35.1 59.6,23 63.8,11.7 68,6.7 72.2,4.4 76.4,2.9 80.5,2 84.7,1.5 88.9,0 93.1,0 97.3,0 101.4,0 105.6,0 109.8,0 114,0 118.2,0 122.3,0 122.3,40 118.2,43.1 114,45.2 109.8,46.8 105.6,48.3 101.4,50 97.3,51.9 93.1,54.2 88.9,56.6 84.7,59.1 80.5,61.5 76.4,64 72.2,66.4 68,68.8 63.8,71.2 59.6,74.9 55.5,78.7 51.3,83 47.1,84 42.9,84 38.7,84 34.6,84 30.4,84 26.2,82.4 22,80.7 17.8,80.9 13.7,83.3 11.6,84 9.5,84 5.3,84Z" fill="#93bcdc"/><path d="M5.3,84 9.5,84 11.6,84 13.7,81.8 17.8,75.1 22,68.7 26.2,62.4 30.4,57.3 34.6,53.7 38.7,50.4 42.9,47.9 47.1,45.5 51.3,42.2 55.5,35.1 59.6,23 63.8,11.7 68,6.7 72.2,4.4 76.4,2.9 80.5,2 84.7,1.5 88.9,0 93.1,0 97.3,0 101.4,0 105.6,0 109.8,0 114,0 118.2,0 122.3,0M5.3,84 9.5,84 11.6,84 13.7,83.3 17.8,80.9 22,80.7 26.2,82.4 30.4,84 34.6,84 38.7,84 42.9,84 47.1,84 51.3,83 55.5,78.7 59.6,74.9 63.8,71.2 68,68.8 72.2,66.4 76.4,64 80.5,61.5 84.7,59.1 88.9,56.6 93.1,54.2 97.3,51.9 101.4,50 105.6,48.3 109.8,46.8 114,45.2 118.2,43.1 122.3,40" fill="none" stroke="#5a9ccd" stroke-width="2"/><path d="M5.3,84 9.5,84 11.6,84 13.7,82.2 17.8,76.2 22,70.5 26.2,64.9 30.4,60.2 34.6,56.6 38.7,53.2 42.9,50.3 47.1,47.6 51.3,44.4 55.5,38.6 59.6,29.2 63.8,20 68,14 72.2,9 76.4,4.9 80.5,3.1 84.7,2.2 88.9,0.7 93.1,0.5 97.3,0.4 101.4,0.3 105.6,0.3 109.8,0.3 114,0.3 118.2,0.3 122.3,0.3 122.3,12.7 118.2,13.6 114,14.2 109.8,14.7 105.6,15.2 101.4,15.8 97.3,16.6 93.1,17.6 88.9,18.8 84.7,20.6 80.5,22.8 76.4,26.3 72.2,34.3 68,43.8 63.8,50.4 59.6,53.9 55.5,56.9 51.3,59.8 47.1,62.3 42.9,64.8 38.7,67.5 34.6,70.1 30.4,72.6 26.2,74.7 22,76.8 17.8,79.6 13.7,83.3 11.6,84 9.5,84 5.3,84Z" fill="#f4cca4" stroke="#c4aa90" stroke-width="1.4"/><path d="M5.3,84 9.5,84 11.6,84 13.7,82.7 17.8,77.5 22,72.6 26.2,67.9 30.4,63.6 34.6,60 38.7,56.4 42.9,53.2 47.1,50 51.3,46.9 55.5,42.6 59.6,36.3 63.8,29.6 68,22.6 72.2,14.2 76.4,7.2 80.5,4.5 84.7,3.1 88.9,1.6 93.1,1.1 97.3,0.9 101.4,0.7 105.6,0.6 109.8,0.6 114,0.6 118.2,0.6 122.3,0.6 122.3,7.4 118.2,7.9 114,8.2 109.8,8.5 105.6,8.8 101.4,9.2 97.3,9.8 93.1,10.5 88.9,11.5 84.7,13.2 80.5,15.3 76.4,19 72.2,28.1 68,38.9 63.8,46.4 59.6,49.9 55.5,52.6 51.3,55.4 47.1,58.1 42.9,61.1 38.7,64.3 34.6,67.4 30.4,70.5 26.2,73.3 22,76 17.8,79.3 13.7,83.2 11.6,84 9.5,84 5.3,84Z" fill="#d3e7ec"/></g><use href="#v0"/><use href="#Mr"/><path clip-path="url(#c)" d="M5.3,84 7.4,84 9.5,84 11.6,84 13.7,83.2 15.8,81.4 17.8,79 19.9,76.9 22,75.1 24.1,73.3 26.2,71.5 28.3,69.6 30.4,67.8 32.5,66 34.6,64.1 36.6,62.3 38.7,60.4 40.8,58.5 42.9,56.6 45,54.7 47.1,53 49.2,51.3 51.3,49.9 53.4,48.6 55.5,47.5 57.5,46.3 59.6,45 61.7,43.4 63.8,41.4 65.9,38.1 68,33 70.1,26.9 72.2,20.6 74.3,14.7 76.4,10.1 78.4,7.5 80.5,6.2 82.6,5 84.7,4.1 86.8,3.3 88.9,2.6 91,2.2 93.1,1.9 95.2,1.7 97.3,1.5 99.3,1.3 101.4,1.2 103.5,1.1 105.6,1 107.7,0.9 109.8,0.9 111.9,0.9 114,0.9 116.1,0.9 118.2,0.9 120.2,0.9 122.3,0.9" fill="none" stroke="#000" stroke-width="8.2" stroke-linejoin="round" stroke-linecap="round"/><use href="#t"/><use href="#Fr"/></g>
<g transform="translate(446.5,933.8)"><g clip-path="url(#c)"><path d="M5.3,84 9.5,84 13.7,84 17.8,75.3 22,66.8 26.2,58.5 30.4,49.3 34.6,44.7 38.7,38.8 42.9,32.3 47.1,25.8 51.3,18.5 55.5,10.7 59.6,5 63.8,3.2 68,2.3 72.2,1.7 76.4,0 80.5,0 84.7,0 88.9,0 93.1,0 97.3,0 101.4,0 105.6,0 109.8,0 114,0 118.2,0 122.3,0 122.3,8.8 118.2,13.6 114,18.9 109.8,23.9 105.6,28.2 101.4,32.5 97.3,36.8 93.1,41 88.9,44.8 84.7,48 80.5,50.7 76.4,53.3 72.2,55.6 68,57.8 63.8,59.9 59.6,63 55.5,65.8 51.3,68.5 47.1,71.1 42.9,73.3 38.7,75.6 34.6,78.3 30.4,82.9 26.2,81.6 22,80.4 17.8,81.3 13.7,84 9.5,84 5.3,84Z" fill="#93bcdc"/><path d="M5.3,84 9.5,84 13.7,84 17.8,75.3 22,66.8 26.2,58.5 30.4,49.3 34.6,44.7 38.7,38.8 42.9,32.3 47.1,25.8 51.3,18.5 55.5,10.7 59.6,5 63.8,3.2 68,2.3 72.2,1.7 76.4,0 80.5,0 84.7,0 88.9,0 93.1,0 97.3,0 101.4,0 105.6,0 109.8,0 114,0 118.2,0 122.3,0M5.3,84 9.5,84 13.7,84 17.8,81.3 22,80.4 26.2,81.6 30.4,82.9 34.6,78.3 38.7,75.6 42.9,73.3 47.1,71.1 51.3,68.5 55.5,65.8 59.6,63 63.8,59.9 68,57.8 72.2,55.6 76.4,53.3 80.5,50.7 84.7,48 88.9,44.8 93.1,41 97.3,36.8 101.4,32.5 105.6,28.2 109.8,23.9 114,18.9 118.2,13.6 122.3,8.8" fill="none" stroke="#5a9ccd" stroke-width="2"/><path d="M5.3,84 9.5,84 13.7,84 17.8,76.8 22,69.6 26.2,63 30.4,55.7 34.6,51.7 38.7,46.7 42.9,41.3 47.1,35.8 51.3,29.7 55.5,23.1 59.6,18 63.8,15.5 68,13.4 72.2,11.2 76.4,8.1 80.5,6.3 84.7,4.1 88.9,2.1 93.1,1 97.3,0.8 101.4,0.6 105.6,0.4 109.8,0.4 114,0.3 118.2,0.3 122.3,0.3 122.3,6.6 118.2,10 114,13.9 109.8,17.6 105.6,20.7 101.4,23.9 97.3,27.3 93.1,30.6 88.9,34.3 84.7,38.6 80.5,42.8 76.4,46.5 72.2,50 68,53.3 63.8,56.3 59.6,59.7 55.5,62.8 51.3,65.7 47.1,68.4 42.9,70.8 38.7,73.2 34.6,75.9 30.4,79.9 26.2,79.6 22,79.4 17.8,81.1 13.7,84 9.5,84 5.3,84Z" fill="#f4cca4" stroke="#c4aa90" stroke-width="1.4"/><path d="M5.3,84 9.5,84 13.7,84 17.8,78.4 22,72.9 26.2,68.1 30.4,63.1 34.6,59.8 38.7,55.9 42.9,51.7 47.1,47.4 51.3,42.6 55.5,37.5 59.6,33 63.8,29.7 68,26.2 72.2,22.2 76.4,17.5 80.5,13.5 84.7,8.8 88.9,4.5 93.1,2.3 97.3,1.6 101.4,1.2 105.6,0.9 109.8,0.8 114,0.7 118.2,0.6 122.3,0.6 122.3,4 118.2,6 114,8.1 109.8,10.2 105.6,12.1 101.4,14.1 97.3,16.2 93.1,18.5 88.9,22.2 84.7,27.8 80.5,33.6 76.4,38.6 72.2,43.5 68,48.2 63.8,52.2 59.6,56 55.5,59.3 51.3,62.4 47.1,65.3 42.9,67.9 38.7,70.5 34.6,73.2 30.4,76.4 26.2,77.3 22,78.3 17.8,80.8 13.7,84 9.5,84 5.3,84Z" fill="#d3e7ec"/></g><use href="#v1"/><use href="#Mr"/><path clip-path="url(#c)" d="M5.3,84 7.4,84 9.5,84 11.6,84 13.7,84 15.8,82.9 17.8,80.5 19.9,78.3 22,76.9 24.1,75.6 26.2,74.4 28.3,73.3 30.4,72.2 32.5,71.1 34.6,69.8 36.6,68.5 38.7,67.2 40.8,65.8 42.9,64.4 45,63 47.1,61.5 49.2,59.9 51.3,58.3 53.4,56.7 55.5,55 57.5,53.2 59.6,51.3 61.7,49.3 63.8,47.1 65.9,44.7 68,41.9 70.1,38.8 72.2,35.6 74.3,32.3 76.4,29 78.4,25.9 80.5,22.4 82.6,18.6 84.7,14.6 86.8,10.8 88.9,7.5 91,5 93.1,3.7 95.2,3.2 97.3,2.7 99.3,2.3 101.4,2 103.5,1.7 105.6,1.5 107.7,1.4 109.8,1.3 111.9,1.2 114,1.1 116.1,1 118.2,1 120.2,0.9 122.3,0.9" fill="none" stroke="#000" stroke-width="8.2" stroke-linejoin="round" stroke-linecap="round"/><use href="#t"/><use href="#Fr"/></g>
<g transform="translate(625.9,933.8)"><g clip-path="url(#c)"><path d="M5.3,84 9.5,84 13.7,84 15.8,84 17.8,80.9 22,74.5 26.2,69.8 30.4,65.7 34.6,62.7 38.7,60.6 42.9,58.3 47.1,55.8 51.3,52.4 55.5,48 59.6,42.7 63.8,37.1 68,30.6 72.2,23.3 76.4,16.8 80.5,12.5 84.7,9 88.9,6.3 93.1,4.7 97.3,3.8 101.4,3.2 105.6,2.8 109.8,2.8 114,2.8 118.2,2.8 122.3,2.8 122.3,40 118.2,44 114,47.7 109.8,51 105.6,53.8 101.4,56 97.3,57.9 93.1,59.5 88.9,61 84.7,62.6 80.5,64.1 76.4,65.5 72.2,66.8 68,68.2 63.8,69.8 59.6,72.3 55.5,74.9 51.3,78 47.1,82.3 42.9,84 38.7,84 34.6,84 30.4,82.5 26.2,80.6 22,80.3 17.8,82.5 15.8,84 13.7,84 9.5,84 5.3,84Z" fill="#93bcdc"/><path d="M5.3,84 9.5,84 13.7,84 15.8,84 17.8,80.9 22,74.5 26.2,69.8 30.4,65.7 34.6,62.7 38.7,60.6 42.9,58.3 47.1,55.8 51.3,52.4 55.5,48 59.6,42.7 63.8,37.1 68,30.6 72.2,23.3 76.4,16.8 80.5,12.5 84.7,9 88.9,6.3 93.1,4.7 97.3,3.8 101.4,3.2 105.6,2.8 109.8,2.8 114,2.8 118.2,2.8 122.3,2.8M5.3,84 9.5,84 13.7,84 15.8,84 17.8,82.5 22,80.3 26.2,80.6 30.4,82.5 34.6,84 38.7,84 42.9,84 47.1,82.3 51.3,78 55.5,74.9 59.6,72.3 63.8,69.8 68,68.2 72.2,66.8 76.4,65.5 80.5,64.1 84.7,62.6 88.9,61 93.1,59.5 97.3,57.9 101.4,56 105.6,53.8 109.8,51 114,47.7 118.2,44 122.3,40" fill="none" stroke="#5a9ccd" stroke-width="2"/><path d="M5.3,84 9.5,84 13.7,84 15.8,84 17.8,81.3 22,75.5 26.2,71.2 30.4,67.5 34.6,64.7 38.7,62.6 42.9,60.4 47.1,58 51.3,55 55.5,51.2 59.6,46.7 63.8,41.9 68,36.1 72.2,29.5 76.4,23.3 80.5,18.6 84.7,14 88.9,10.1 93.1,7.4 97.3,5.8 101.4,4.4 105.6,3.5 109.8,3.2 114,3 118.2,2.9 122.3,2.8 122.3,17.7 118.2,19.4 114,21.2 109.8,22.9 105.6,24.7 101.4,26.9 97.3,29.6 93.1,32.5 88.9,36.3 84.7,41.2 80.5,46.1 76.4,50.1 72.2,54 68,57.5 63.8,60.5 59.6,63.2 55.5,65.7 51.3,68.2 47.1,71.2 42.9,73 38.7,74.2 34.6,75.5 30.4,76.4 26.2,77.2 22,78.9 17.8,82.4 15.8,84 13.7,84 9.5,84 5.3,84Z" fill="#f4cca4" stroke="#c4aa90" stroke-width="1.4"/><path d="M5.3,84 9.5,84 13.7,84 15.8,84 17.8,81.7 22,76.6 26.2,72.9 30.4,69.7 34.6,67 38.7,64.8 42.9,62.8 47.1,60.6 51.3,58 55.5,54.9 59.6,51.4 63.8,47.5 68,42.5 72.2,36.6 76.4,30.8 80.5,25.6 84.7,19.8 88.9,14.5 93.1,10.6 97.3,8 101.4,5.8 105.6,4.3 109.8,3.7 114,3.2 118.2,2.9 122.3,2.8 122.3,11 118.2,12 114,13.2 109.8,14.5 105.6,16 101.4,18.2 97.3,21.1 93.1,24.4 88.9,28.9 84.7,34.8 80.5,40.7 76.4,45.6 72.2,50.1 68,54.3 63.8,57.7 59.6,60.4 55.5,62.9 51.3,65.2 47.1,67.9 42.9,69.7 38.7,71.2 34.6,72.9 30.4,74.5 26.2,76.2 22,78.5 17.8,82.3 15.8,84 13.7,84 9.5,84 5.3,84Z" fill="#d3e7ec"/></g><use href="#v2"/><use href="#Mr"/><path clip-path="url(#c)" d="M5.3,84 7.4,84 9.5,84 11.6,84 13.7,84 15.8,84 17.8,82.3 19.9,79.7 22,78 24.1,76.4 26.2,74.9 28.3,73.6 30.4,72.3 32.5,71 34.6,69.8 36.6,68.7 38.7,67.7 40.8,66.7 42.9,65.7 45,64.8 47.1,63.8 49.2,62.7 51.3,61.6 53.4,60.6 55.5,59.5 57.5,58.3 59.6,57.1 61.7,55.8 63.8,54.2 65.9,52.4 68,50.3 70.1,48 72.2,45.4 74.3,42.7 76.4,39.9 78.4,37.1 80.5,34.1 82.6,30.6 84.7,26.9 86.8,23.3 88.9,19.8 91,16.8 93.1,14.5 95.2,12.5 97.3,10.7 99.3,9 101.4,7.5 103.5,6.3 105.6,5.3 107.7,4.7 109.8,4.2 111.9,3.8 114,3.5 116.1,3.2 118.2,3 120.2,2.8 122.3,2.8" fill="none" stroke="#000" stroke-width="8.2" stroke-linejoin="round" stroke-linecap="round"/><use href="#t"/><use href="#Fr"/></g>
<g transform="translate(805.3,933.8)"><g clip-path="url(#c)"><path d="M5.3,84 9.5,84 13.7,84 17.8,74.6 22,67 26.2,61.2 30.4,55.3 34.6,52.2 38.7,48.5 42.9,44.6 47.1,40.1 51.3,35.1 55.5,29.8 59.6,24 63.8,17.4 68,11.5 72.2,8 76.4,5.6 80.5,3.7 84.7,2.8 88.9,2.8 93.1,2.8 97.3,2.8 101.4,2.8 105.6,2.8 109.8,2.8 114,2.8 118.2,2.8 122.3,2.8 122.3,14.5 118.2,22 114,29.1 109.8,35.2 105.6,41 101.4,46 97.3,50.4 93.1,54.3 88.9,57.1 84.7,58.7 80.5,59.9 76.4,61.4 72.2,63.4 68,65.8 63.8,68.4 59.6,70.5 55.5,72.7 51.3,75.3 47.1,79.5 42.9,84 38.7,84 34.6,84 30.4,84 26.2,81.2 22,79.7 17.8,80.6 13.7,84 9.5,84 5.3,84Z" fill="#93bcdc"/><path d="M5.3,84 9.5,84 13.7,84 17.8,74.6 22,67 26.2,61.2 30.4,55.3 34.6,52.2 38.7,48.5 42.9,44.6 47.1,40.1 51.3,35.1 55.5,29.8 59.6,24 63.8,17.4 68,11.5 72.2,8 76.4,5.6 80.5,3.7 84.7,2.8 88.9,2.8 93.1,2.8 97.3,2.8 101.4,2.8 105.6,2.8 109.8,2.8 114,2.8 118.2,2.8 122.3,2.8M5.3,84 9.5,84 13.7,84 17.8,80.6 22,79.7 26.2,81.2 30.4,84 34.6,84 38.7,84 42.9,84 47.1,79.5 51.3,75.3 55.5,72.7 59.6,70.5 63.8,68.4 68,65.8 72.2,63.4 76.4,61.4 80.5,59.9 84.7,58.7 88.9,57.1 93.1,54.3 97.3,50.4 101.4,46 105.6,41 109.8,35.2 114,29.1 118.2,22 122.3,14.5" fill="none" stroke="#5a9ccd" stroke-width="2"/><path d="M5.3,84 9.5,84 13.7,84 17.8,75.9 22,69.4 26.2,64.5 30.4,59.6 34.6,56.7 38.7,53.5 42.9,50 47.1,46.3 51.3,42.2 55.5,38.1 59.6,33.7 63.8,28.5 68,23.6 72.2,20.2 76.4,17.4 80.5,14.9 84.7,13 88.9,11.5 93.1,10 97.3,8.3 101.4,6.5 105.6,5 109.8,4.1 114,3.5 118.2,3 122.3,2.8 122.3,11.2 118.2,16.8 114,22.4 109.8,27.4 105.6,32.4 101.4,37.6 97.3,42.6 93.1,47.1 88.9,50.6 84.7,53.2 80.5,55.4 76.4,57.5 72.2,60.1 68,62.7 63.8,65.2 59.6,67.2 55.5,69 51.3,71.2 47.1,74.6 42.9,78.4 38.7,79 34.6,79.6 30.4,80.2 26.2,78.8 22,78.5 17.8,80.3 13.7,84 9.5,84 5.3,84Z" fill="#f4cca4" stroke="#c4aa90" stroke-width="1.4"/><path d="M5.3,84 9.5,84 13.7,84 17.8,77.5 22,72.1 26.2,68.2 30.4,64.5 34.6,62 38.7,59.2 42.9,56.3 47.1,53.4 51.3,50.5 55.5,47.8 59.6,44.8 63.8,41.3 68,37.6 72.2,34.2 76.4,31 80.5,27.9 84.7,24.7 88.9,21.6 93.1,18.4 97.3,14.7 101.4,10.7 105.6,7.5 109.8,5.6 114,4.2 118.2,3.2 122.3,2.8 122.3,7.4 118.2,10.8 114,14.6 109.8,18.4 105.6,22.6 101.4,27.8 97.3,33.6 93.1,38.8 88.9,43.1 84.7,46.8 80.5,50.1 76.4,53.1 72.2,56.2 68,59.1 63.8,61.5 59.6,63.3 55.5,64.8 51.3,66.5 47.1,69 42.9,71.9 38.7,73.2 34.6,74.6 30.4,75.9 26.2,76.1 22,77.1 17.8,79.9 13.7,84 9.5,84 5.3,84Z" fill="#d3e7ec"/></g><use href="#v3"/><use href="#Mr"/><path clip-path="url(#c)" d="M5.3,84 7.4,84 9.5,84 11.6,84 13.7,84 15.8,82.5 17.8,79.5 19.9,76.9 22,75.3 24.1,74 26.2,72.7 28.3,71.6 30.4,70.5 32.5,69.5 34.6,68.4 36.6,67.3 38.7,66.2 40.8,65.1 42.9,64 45,63.1 47.1,62.1 49.2,61.3 51.3,60.6 53.4,60.1 55.5,59.5 57.5,59 59.6,58.5 61.7,57.8 63.8,57 65.9,56 68,54.7 70.1,53.1 72.2,51.4 74.3,49.6 76.4,47.7 78.4,45.7 80.5,43.7 82.6,41.4 84.7,39 86.8,36.5 88.9,33.9 91,31.3 93.1,28.7 95.2,25.8 97.3,22.6 99.3,19.2 101.4,16 103.5,13 105.6,10.5 107.7,8.8 109.8,7.5 111.9,6.2 114,5.1 116.1,4.2 118.2,3.4 120.2,3 122.3,2.8" fill="none" stroke="#000" stroke-width="8.2" stroke-linejoin="round" stroke-linecap="round"/><use href="#t"/><use href="#Fr"/></g>
<g transform="translate(984.7,933.8)"><g clip-path="url(#c)"><path d="M5.3,84 9.5,84 11.6,84 13.7,80.9 17.8,72.9 22,66.4 26.2,60.5 30.4,56.4 34.6,53.7 38.7,50.5 42.9,46.4 47.1,42.1 51.3,37.9 55.5,34 59.6,30 63.8,25.9 68,20.7 72.2,14.3 76.4,8.6 80.5,5.7 84.7,4.3 88.9,3.3 93.1,2.8 97.3,2.8 101.4,2.8 105.6,2.8 109.8,2.8 114,2.8 118.2,2.8 122.3,2.8 122.3,28.7 118.2,32.5 114,36.3 109.8,40.3 105.6,44.5 101.4,48.7 97.3,52.3 93.1,55.1 88.9,57.5 84.7,59.7 80.5,61.8 76.4,63.8 72.2,65.7 68,67.7 63.8,69.8 59.6,72.1 55.5,74.5 51.3,77.3 47.1,81.8 42.9,84 38.7,84 34.6,84 30.4,84 26.2,82.6 22,80.8 17.8,80.8 13.7,83.3 11.6,84 9.5,84 5.3,84Z" fill="#93bcdc"/><path d="M5.3,84 9.5,84 11.6,84 13.7,80.9 17.8,72.9 22,66.4 26.2,60.5 30.4,56.4 34.6,53.7 38.7,50.5 42.9,46.4 47.1,42.1 51.3,37.9 55.5,34 59.6,30 63.8,25.9 68,20.7 72.2,14.3 76.4,8.6 80.5,5.7 84.7,4.3 88.9,3.3 93.1,2.8 97.3,2.8 101.4,2.8 105.6,2.8 109.8,2.8 114,2.8 118.2,2.8 122.3,2.8M5.3,84 9.5,84 11.6,84 13.7,83.3 17.8,80.8 22,80.8 26.2,82.6 30.4,84 34.6,84 38.7,84 42.9,84 47.1,81.8 51.3,77.3 55.5,74.5 59.6,72.1 63.8,69.8 68,67.7 72.2,65.7 76.4,63.8 80.5,61.8 84.7,59.7 88.9,57.5 93.1,55.1 97.3,52.3 101.4,48.7 105.6,44.5 109.8,40.3 114,36.3 118.2,32.5 122.3,28.7" fill="none" stroke="#5a9ccd" stroke-width="2"/><path d="M5.3,84 9.5,84 11.6,84 13.7,81.5 17.8,74.6 22,68.9 26.2,64 30.4,60.4 34.6,57.9 38.7,54.9 42.9,51.5 47.1,47.8 51.3,44.1 55.5,40.7 59.6,37.2 63.8,33.4 68,28.7 72.2,22.9 76.4,17.6 80.5,14.4 84.7,12.3 88.9,10.5 93.1,8.9 97.3,7.3 101.4,5.5 105.6,4.1 109.8,3.5 114,3.1 118.2,2.9 122.3,2.8 122.3,21.4 118.2,24.3 114,27.3 109.8,30.5 105.6,34.1 101.4,38.5 97.3,42.9 93.1,46.5 88.9,49.5 84.7,52.1 80.5,54.8 76.4,57.3 72.2,59.9 68,62.5 63.8,65.1 59.6,67.5 55.5,69.9 51.3,72.5 47.1,76.4 42.9,78.5 38.7,79.1 34.6,79.6 30.4,80.3 26.2,79.9 22,79.3 17.8,80.2 13.7,83.2 11.6,84 9.5,84 5.3,84Z" fill="#f4cca4" stroke="#c4aa90" stroke-width="1.4"/><path d="M5.3,84 9.5,84 11.6,84 13.7,82.3 17.8,76.5 22,71.9 26.2,68 30.4,65 34.6,62.6 38.7,60.1 42.9,57.3 47.1,54.3 51.3,51.4 55.5,48.5 59.6,45.5 63.8,42.1 68,38 72.2,32.9 76.4,28 80.5,24.4 84.7,21.5 88.9,18.7 93.1,15.9 97.3,12.4 101.4,8.6 105.6,5.5 109.8,4.3 114,3.5 118.2,3 122.3,2.8 122.3,13 118.2,14.8 114,16.8 109.8,19.1 105.6,22 101.4,26.7 97.3,32 93.1,36.6 88.9,40.2 84.7,43.4 80.5,46.6 76.4,49.9 72.2,53.3 68,56.6 63.8,59.6 59.6,62.1 55.5,64.5 51.3,67 47.1,70.1 42.9,72.2 38.7,73.3 34.6,74.6 30.4,75.9 26.2,76.8 22,77.6 17.8,79.6 13.7,83.2 11.6,84 9.5,84 5.3,84Z" fill="#d3e7ec"/></g><use href="#v4"/><use href="#Mr"/><path clip-path="url(#c)" d="M5.3,84 7.4,84 9.5,84 11.6,84 13.7,83.2 15.8,81.2 17.8,78.8 19.9,76.9 22,75.5 24.1,74.2 26.2,72.9 28.3,71.8 30.4,70.6 32.5,69.5 34.6,68.4 36.6,67.3 38.7,66.3 40.8,65.4 42.9,64.4 45,63.4 47.1,62.4 49.2,61.3 51.3,60.2 53.4,59.1 55.5,58 57.5,56.8 59.6,55.6 61.7,54.3 63.8,52.8 65.9,51.2 68,49.3 70.1,47.2 72.2,45.1 74.3,42.9 76.4,40.7 78.4,38.6 80.5,36.6 82.6,34.7 84.7,32.8 86.8,30.8 88.9,28.8 91,26.7 93.1,24.5 95.2,21.8 97.3,18.8 99.3,15.5 101.4,12.3 103.5,9.5 105.6,7.3 107.7,6 109.8,5.2 111.9,4.6 114,4 116.1,3.5 118.2,3.1 120.2,2.9 122.3,2.8" fill="none" stroke="#000" stroke-width="8.2" stroke-linejoin="round" stroke-linecap="round"/><use href="#t"/><use href="#Fr"/></g>
<g transform="translate(1164,933.8)"><g clip-path="url(#c)"><path d="M5.3,84 9.5,84 13.7,84 17.8,77.5 22,72.5 26.2,69 30.4,66 34.6,64.3 38.7,62.2 42.9,59.2 47.1,55.7 51.3,52.2 55.5,49.1 59.6,46 63.8,42.8 68,39.1 72.2,34.5 76.4,29.3 80.5,24.3 84.7,19.3 88.9,14.1 93.1,9.6 97.3,6.9 101.4,5 105.6,3.6 109.8,2.8 114,2.8 118.2,2.8 122.3,2.8 122.3,31.5 118.2,36.8 114,41.2 109.8,44.8 105.6,48 101.4,51.3 97.3,54.9 93.1,58.6 88.9,61.9 84.7,64.2 80.5,66 76.4,67.7 72.2,69.7 68,71.8 63.8,74.1 59.6,76.9 55.5,82.5 51.3,84 47.1,84 42.9,84 38.7,84 34.6,84 30.4,84 26.2,81.2 22,79.7 17.8,80.6 13.7,84 9.5,84 5.3,84Z" fill="#93bcdc"/><path d="M5.3,84 9.5,84 13.7,84 17.8,77.5 22,72.5 26.2,69 30.4,66 34.6,64.3 38.7,62.2 42.9,59.2 47.1,55.7 51.3,52.2 55.5,49.1 59.6,46 63.8,42.8 68,39.1 72.2,34.5 76.4,29.3 80.5,24.3 84.7,19.3 88.9,14.1 93.1,9.6 97.3,6.9 101.4,5 105.6,3.6 109.8,2.8 114,2.8 118.2,2.8 122.3,2.8M5.3,84 9.5,84 13.7,84 17.8,80.6 22,79.7 26.2,81.2 30.4,84 34.6,84 38.7,84 42.9,84 47.1,84 51.3,84 55.5,82.5 59.6,76.9 63.8,74.1 68,71.8 72.2,69.7 76.4,67.7 80.5,66 84.7,64.2 88.9,61.9 93.1,58.6 97.3,54.9 101.4,51.3 105.6,48 109.8,44.8 114,41.2 118.2,36.8 122.3,31.5" fill="none" stroke="#5a9ccd" stroke-width="2"/><path d="M5.3,84 9.5,84 13.7,84 17.8,78 22,73.3 26.2,70.1 30.4,67.4 34.6,65.6 38.7,63.6 42.9,61 47.1,58 51.3,54.8 55.5,51.6 59.6,48.5 63.8,45.2 68,41.7 72.2,37.5 76.4,32.9 80.5,28.1 84.7,23.2 88.9,18 93.1,13.4 97.3,10 101.4,7.2 105.6,5 109.8,3.8 114,3.3 118.2,2.9 122.3,2.8 122.3,23.5 118.2,27.4 114,31 109.8,34 105.6,37 101.4,40.5 97.3,44.6 93.1,48.6 88.9,52.4 84.7,55.5 80.5,58.2 76.4,60.5 72.2,62.9 68,65.2 63.8,67.7 59.6,70.7 55.5,75.7 51.3,77.7 47.1,78.3 42.9,78.8 38.7,79.3 34.6,79.8 30.4,80.3 26.2,78.9 22,78.5 17.8,80.3 13.7,84 9.5,84 5.3,84Z" fill="#f4cca4" stroke="#c4aa90" stroke-width="1.4"/><path d="M5.3,84 9.5,84 13.7,84 17.8,78.7 22,74.2 26.2,71.4 30.4,69 34.6,67.1 38.7,65.2 42.9,63.1 47.1,60.6 51.3,57.8 55.5,54.6 59.6,51.3 63.8,48 68,44.6 72.2,41 76.4,36.9 80.5,32.5 84.7,27.7 88.9,22.5 93.1,17.7 97.3,13.6 101.4,9.7 105.6,6.7 109.8,5 114,3.9 118.2,3.1 122.3,2.8 122.3,14.2 118.2,16.6 114,19.1 109.8,21.6 105.6,24.3 101.4,28 97.3,32.6 93.1,37.1 88.9,41.4 84.7,45.4 80.5,49.1 76.4,52.1 72.2,54.9 68,57.6 63.8,60.4 59.6,63.5 55.5,67.9 51.3,70.4 47.1,71.8 42.9,72.9 38.7,73.8 34.6,74.9 30.4,76.1 26.2,76.2 22,77.1 17.8,79.9 13.7,84 9.5,84 5.3,84Z" fill="#d3e7ec"/></g><use href="#v5"/><use href="#Mr"/><path clip-path="url(#c)" d="M5.3,84 7.4,84 9.5,84 11.6,84 13.7,84 15.8,82.5 17.8,79.5 19.9,76.9 22,75.4 24.1,74.1 26.2,72.9 28.3,71.9 30.4,70.9 32.5,69.9 34.6,69 36.6,68 38.7,67.2 40.8,66.4 42.9,65.6 45,64.7 47.1,63.8 49.2,62.7 51.3,61.4 53.4,59.9 55.5,58.3 57.5,56.6 59.6,54.8 61.7,53 63.8,51.3 65.9,49.8 68,48.2 70.1,46.7 72.2,45.2 74.3,43.6 76.4,41.9 78.4,40 80.5,38 82.6,35.6 84.7,33.1 86.8,30.5 88.9,27.9 91,25.4 93.1,23 95.2,20.5 97.3,17.9 99.3,15.3 101.4,12.8 103.5,10.5 105.6,8.7 107.7,7.4 109.8,6.4 111.9,5.4 114,4.6 116.1,3.9 118.2,3.3 120.2,2.9 122.3,2.8" fill="none" stroke="#000" stroke-width="8.2" stroke-linejoin="round" stroke-linecap="round"/><use href="#t"/><use href="#Fr"/></g>
<g transform="translate(1343.4,933.8)"><g clip-path="url(#c)"><path d="M5.3,84 9.5,84 13.7,84 17.8,77.1 22,71.5 26.2,67.4 30.4,64 34.6,62 38.7,59.6 42.9,56.4 47.1,51.4 51.3,45.5 55.5,39.6 59.6,32.9 63.8,25.9 68,19.5 72.2,14.6 76.4,10.1 80.5,6.5 84.7,4.6 88.9,3.8 93.1,3.2 97.3,2.8 101.4,2.8 105.6,2.8 109.8,2.8 114,2.8 118.2,2.8 122.3,2.8 122.3,42.8 118.2,48.2 114,53.1 109.8,57.1 105.6,59.8 101.4,61.9 97.3,63.7 93.1,65 88.9,66 84.7,66.7 80.5,67.2 76.4,68 72.2,69.2 68,71.4 63.8,74.1 59.6,77.5 55.5,81.8 51.3,84 47.1,84 42.9,84 38.7,84 34.6,84 30.4,84 26.2,81.3 22,80.3 17.8,81.4 13.7,84 9.5,84 5.3,84Z" fill="#93bcdc"/><path d="M5.3,84 9.5,84 13.7,84 17.8,77.1 22,71.5 26.2,67.4 30.4,64 34.6,62 38.7,59.6 42.9,56.4 47.1,51.4 51.3,45.5 55.5,39.6 59.6,32.9 63.8,25.9 68,19.5 72.2,14.6 76.4,10.1 80.5,6.5 84.7,4.6 88.9,3.8 93.1,3.2 97.3,2.8 101.4,2.8 105.6,2.8 109.8,2.8 114,2.8 118.2,2.8 122.3,2.8M5.3,84 9.5,84 13.7,84 17.8,81.4 22,80.3 26.2,81.3 30.4,84 34.6,84 38.7,84 42.9,84 47.1,84 51.3,84 55.5,81.8 59.6,77.5 63.8,74.1 68,71.4 72.2,69.2 76.4,68 80.5,67.2 84.7,66.7 88.9,66 93.1,65 97.3,63.7 101.4,61.9 105.6,59.8 109.8,57.1 114,53.1 118.2,48.2 122.3,42.8" fill="none" stroke="#5a9ccd" stroke-width="2"/><path d="M5.3,84 9.5,84 13.7,84 17.8,78.1 22,72.9 26.2,69 30.4,65.8 34.6,63.8 38.7,61.8 42.9,59.3 47.1,55.5 51.3,51 55.5,46.2 59.6,40.8 63.8,35 68,29.3 72.2,24.3 76.4,19.3 80.5,15 84.7,11.7 88.9,9.2 93.1,7.1 97.3,5.6 101.4,4.4 105.6,3.5 109.8,3.2 114,3 118.2,2.9 122.3,2.8 122.3,31.6 118.2,35.5 114,39.2 109.8,42.3 105.6,44.6 101.4,46.9 97.3,49.4 93.1,51.7 88.9,54 84.7,56.4 80.5,58.8 76.4,61 72.2,63.6 68,66.6 63.8,69.7 59.6,72.9 55.5,76.6 51.3,78.6 47.1,79 42.9,79.2 38.7,79.4 34.6,79.6 30.4,80.2 26.2,79.1 22,79.3 17.8,81.1 13.7,84 9.5,84 5.3,84Z" fill="#f4cca4" stroke="#c4aa90" stroke-width="1.4"/><path d="M5.3,84 9.5,84 13.7,84 17.8,79.2 22,74.6 26.2,70.9 30.4,67.8 34.6,65.9 38.7,64.3 42.9,62.6 47.1,60.3 51.3,57.2 55.5,53.9 59.6,49.9 63.8,45.5 68,40.6 72.2,35.4 76.4,30 80.5,24.9 84.7,19.9 88.9,15.4 93.1,11.7 97.3,8.8 101.4,6.2 105.6,4.4 109.8,3.7 114,3.2 118.2,2.9 122.3,2.8 122.3,18.7 118.2,20.9 114,23.1 109.8,25.2 105.6,26.9 101.4,29.6 97.3,32.9 93.1,36.2 88.9,40.1 84.7,44.5 80.5,48.9 76.4,52.9 72.2,57 68,61.2 63.8,64.6 59.6,67.6 55.5,70.6 51.3,72.4 47.1,73.1 42.9,73.6 38.7,74 34.6,74.6 30.4,75.8 26.2,76.5 22,78.1 17.8,80.9 13.7,84 9.5,84 5.3,84Z" fill="#d3e7ec"/></g><use href="#v6"/><use href="#Mr"/><path clip-path="url(#c)" d="M5.3,84 7.4,84 9.5,84 11.6,84 13.7,84 15.8,82.9 17.8,80.5 19.9,78.3 22,76.6 24.1,74.9 26.2,73.3 28.3,71.7 30.4,70.4 32.5,69.2 34.6,68.4 36.6,67.9 38.7,67.4 40.8,67.1 42.9,66.8 45,66.4 47.1,66 49.2,65.5 51.3,64.9 53.4,64.1 55.5,63.2 57.5,62.2 59.6,61.1 61.7,59.8 63.8,58.4 65.9,56.7 68,54.5 70.1,51.9 72.2,49 74.3,46 76.4,43 78.4,40 80.5,36.9 82.6,33.5 84.7,30 86.8,26.4 88.9,23 91,20 93.1,17.4 95.2,15 97.3,12.7 99.3,10.4 101.4,8.4 103.5,6.7 105.6,5.4 107.7,4.7 109.8,4.2 111.9,3.8 114,3.5 116.1,3.2 118.2,3 120.2,2.8 122.3,2.8" fill="none" stroke="#000" stroke-width="8.2" stroke-linejoin="round" stroke-linecap="round"/><use href="#t"/><use href="#Fr"/></g>
<g transform="translate(1522.8,933.8)"><g clip-path="url(#c)"><path d="M5.3,84 9.5,84 13.7,84 17.8,77.7 22,73.6 26.2,70.9 30.4,68.4 34.6,66.7 38.7,64.7 42.9,62.2 47.1,59.2 51.3,56 55.5,52.5 59.6,48.5 63.8,44.2 68,39.6 72.2,34.4 76.4,28.8 80.5,23.5 84.7,18.4 88.9,13.3 93.1,9.1 97.3,6.6 101.4,4.8 105.6,3.4 109.8,2.8 114,2.8 118.2,2.8 122.3,2.8 122.3,8.8 118.2,12.3 114,16.7 109.8,21.3 105.6,25.7 101.4,30.5 97.3,35.3 93.1,39.9 88.9,43.9 84.7,47.8 80.5,51.3 76.4,54.6 72.2,57.5 68,60.2 63.8,62.7 59.6,65.1 55.5,67.1 51.3,68.7 47.1,70.2 42.9,71.7 38.7,73.1 34.6,74.5 30.4,76.5 26.2,79.6 22,79.9 17.8,80.5 13.7,84 9.5,84 5.3,84Z" fill="#93bcdc"/><path d="M5.3,84 9.5,84 13.7,84 17.8,77.7 22,73.6 26.2,70.9 30.4,68.4 34.6,66.7 38.7,64.7 42.9,62.2 47.1,59.2 51.3,56 55.5,52.5 59.6,48.5 63.8,44.2 68,39.6 72.2,34.4 76.4,28.8 80.5,23.5 84.7,18.4 88.9,13.3 93.1,9.1 97.3,6.6 101.4,4.8 105.6,3.4 109.8,2.8 114,2.8 118.2,2.8 122.3,2.8M5.3,84 9.5,84 13.7,84 17.8,80.5 22,79.9 26.2,79.6 30.4,76.5 34.6,74.5 38.7,73.1 42.9,71.7 47.1,70.2 51.3,68.7 55.5,67.1 59.6,65.1 63.8,62.7 68,60.2 72.2,57.5 76.4,54.6 80.5,51.3 84.7,47.8 88.9,43.9 93.1,39.9 97.3,35.3 101.4,30.5 105.6,25.7 109.8,21.3 114,16.7 118.2,12.3 122.3,8.8" fill="none" stroke="#5a9ccd" stroke-width="2"/><path d="M5.3,84 9.5,84 13.7,84 17.8,78.1 22,74.2 26.2,71.8 30.4,69.6 34.6,68 38.7,66.1 42.9,63.9 47.1,61.3 51.3,58.4 55.5,55.1 59.6,51.4 63.8,47.4 68,43.1 72.2,38.2 76.4,33 80.5,27.9 84.7,22.7 88.9,17.5 93.1,13 97.3,9.7 101.4,7 105.6,4.9 109.8,3.8 114,3.3 118.2,2.9 122.3,2.8 122.3,7.1 118.2,9.8 114,13.3 109.8,17.1 105.6,20.9 101.4,25.5 97.3,30.4 93.1,35.2 88.9,39.5 84.7,43.8 80.5,47.9 76.4,51.5 72.2,54.8 68,57.9 63.8,60.7 59.6,63.4 55.5,65.6 51.3,67.5 47.1,69.1 42.9,70.7 38.7,72.1 34.6,73.6 30.4,75.4 26.2,78 22,78.7 17.8,80.2 13.7,84 9.5,84 5.3,84Z" fill="#f4cca4" stroke="#c4aa90" stroke-width="1.4"/><path d="M5.3,84 9.5,84 13.7,84 17.8,78.7 22,74.9 26.2,72.8 30.4,70.9 34.6,69.4 38.7,67.7 42.9,65.8 47.1,63.6 51.3,61.1 55.5,58.1 59.6,54.8 63.8,51.1 68,47.1 72.2,42.6 76.4,37.8 80.5,32.9 84.7,27.7 88.9,22.3 93.1,17.5 97.3,13.4 101.4,9.6 105.6,6.6 109.8,5 114,3.9 118.2,3.1 122.3,2.8 122.3,5.2 118.2,6.9 114,9.4 109.8,12.3 105.6,15.4 101.4,19.7 97.3,24.8 93.1,29.7 88.9,34.4 84.7,39.3 80.5,43.9 76.4,48 72.2,51.8 68,55.3 63.8,58.4 59.6,61.4 55.5,63.9 51.3,66.1 47.1,67.9 42.9,69.6 38.7,71 34.6,72.5 30.4,74.2 26.2,76.2 22,77.4 17.8,79.8 13.7,84 9.5,84 5.3,84Z" fill="#d3e7ec"/></g><use href="#v7"/><use href="#Mr"/><path clip-path="url(#c)" d="M5.3,84 7.4,84 9.5,84 11.6,84 13.7,84 15.8,82.4 17.8,79.3 19.9,76.9 22,75.7 24.1,74.8 26.2,74 28.3,73.3 30.4,72.6 32.5,72 34.6,71.2 36.6,70.4 38.7,69.7 40.8,68.9 42.9,68.2 45,67.4 47.1,66.5 49.2,65.5 51.3,64.4 53.4,63.2 55.5,61.8 57.5,60.4 59.6,58.9 61.7,57.3 63.8,55.6 65.9,53.9 68,52.1 70.1,50.1 72.2,48 74.3,45.9 76.4,43.7 78.4,41.4 80.5,39 82.6,36.4 84.7,33.7 86.8,30.9 88.9,28.2 91,25.5 93.1,23 95.2,20.4 97.3,17.8 99.3,15.2 101.4,12.7 103.5,10.5 105.6,8.7 107.7,7.4 109.8,6.4 111.9,5.4 114,4.6 116.1,3.9 118.2,3.3 120.2,2.9 122.3,2.8" fill="none" stroke="#000" stroke-width="8.2" stroke-linejoin="round" stroke-linecap="round"/><use href="#t"/><use href="#Fr"/></g>
<g transform="translate(1702.2,933.8)"><g clip-path="url(#c)"><path d="M5.3,84 9.5,84 11.6,84 13.7,81.7 17.8,75.7 22,70.8 26.2,66.4 30.4,63.6 34.6,61.8 38.7,59.8 42.9,57.4 47.1,54.5 51.3,51.3 55.5,47.5 59.6,42.5 63.8,37 68,31.6 72.2,26.6 76.4,21.7 80.5,17.3 84.7,13.6 88.9,10.4 93.1,7.7 97.3,5.4 101.4,5 105.6,5 109.8,5 114,5 118.2,5 122.3,5 122.3,56.1 118.2,58.1 114,59.8 109.8,61.3 105.6,62.7 101.4,63.9 97.3,65.1 93.1,66.3 88.9,67.4 84.7,68.5 80.5,69.6 76.4,70.8 72.2,72.2 68,73.7 63.8,75.3 59.6,77.7 55.5,80.5 51.3,83.6 47.1,84 42.9,84 38.7,84 34.6,84 30.4,84 26.2,82.9 22,81.6 17.8,81.6 13.7,83.5 11.6,84 9.5,84 5.3,84Z" fill="#93bcdc"/><path d="M5.3,84 9.5,84 11.6,84 13.7,81.7 17.8,75.7 22,70.8 26.2,66.4 30.4,63.6 34.6,61.8 38.7,59.8 42.9,57.4 47.1,54.5 51.3,51.3 55.5,47.5 59.6,42.5 63.8,37 68,31.6 72.2,26.6 76.4,21.7 80.5,17.3 84.7,13.6 88.9,10.4 93.1,7.7 97.3,5.4 101.4,5 105.6,5 109.8,5 114,5 118.2,5 122.3,5M5.3,84 9.5,84 11.6,84 13.7,83.5 17.8,81.6 22,81.6 26.2,82.9 30.4,84 34.6,84 38.7,84 42.9,84 47.1,84 51.3,83.6 55.5,80.5 59.6,77.7 63.8,75.3 68,73.7 72.2,72.2 76.4,70.8 80.5,69.6 84.7,68.5 88.9,67.4 93.1,66.3 97.3,65.1 101.4,63.9 105.6,62.7 109.8,61.3 114,59.8 118.2,58.1 122.3,56.1" fill="none" stroke="#5a9ccd" stroke-width="2"/><path d="M5.3,84 9.5,84 11.6,84 13.7,82.2 17.8,77 22,72.7 26.2,68.9 30.4,66.2 34.6,64.4 38.7,62.5 42.9,60.3 47.1,57.9 51.3,55.1 55.5,51.9 59.6,47.8 63.8,43.2 68,38.6 72.2,34.3 76.4,29.8 80.5,25.5 84.7,21.4 88.9,17.6 93.1,14.1 97.3,11.1 101.4,9.5 105.6,8.2 109.8,7.3 114,6.4 118.2,5.6 122.3,5 122.3,30.6 118.2,32.6 114,34.8 109.8,37.1 105.6,39.6 101.4,42.4 97.3,45.4 93.1,48.5 88.9,51.7 84.7,55 80.5,58.1 76.4,60.7 72.2,63.1 68,65.3 63.8,67.3 59.6,69.6 55.5,71.9 51.3,74.2 47.1,75.2 42.9,76 38.7,76.7 34.6,77.5 30.4,78.5 26.2,79 22,79.5 17.8,80.9 13.7,83.4 11.6,84 9.5,84 5.3,84Z" fill="#f4cca4" stroke="#c4aa90" stroke-width="1.4"/><path d="M5.3,84 9.5,84 11.6,84 13.7,82.7 17.8,78.4 22,74.8 26.2,71.7 30.4,69.2 34.6,67.4 38.7,65.6 42.9,63.8 47.1,61.8 51.3,59.5 55.5,57 59.6,54 63.8,50.5 68,46.8 72.2,43.1 76.4,39.2 80.5,35 84.7,30.5 88.9,25.8 93.1,21.5 97.3,17.6 101.4,14.6 105.6,12 109.8,9.8 114,8 118.2,6.3 122.3,5 122.3,19.1 118.2,21.2 114,23.6 109.8,26.3 105.6,29.2 101.4,32.7 97.3,36.5 93.1,40.4 88.9,44.6 84.7,48.9 80.5,52.9 76.4,56.1 72.2,59 68,61.5 63.8,63.7 59.6,65.9 55.5,68 51.3,70 47.1,71.3 42.9,72.4 38.7,73.4 34.6,74.6 30.4,76 26.2,77.3 22,78.6 17.8,80.6 13.7,83.4 11.6,84 9.5,84 5.3,84Z" fill="#d3e7ec"/></g><use href="#v8"/><use href="#Mr"/><path clip-path="url(#c)" d="M5.3,84 7.4,84 9.5,84 11.6,84 13.7,83.4 15.8,81.9 17.8,80.2 19.9,78.7 22,77.5 24.1,76.3 26.2,75.1 28.3,74 30.4,73 32.5,72 34.6,71 36.6,70.2 38.7,69.4 40.8,68.7 42.9,68 45,67.2 47.1,66.5 49.2,65.7 51.3,64.9 53.4,64.1 55.5,63.2 57.5,62.4 59.6,61.4 61.7,60.4 63.8,59.4 65.9,58.2 68,56.9 70.1,55.5 72.2,53.9 74.3,52.3 76.4,50.6 78.4,48.7 80.5,46.6 82.6,44.2 84.7,41.5 86.8,38.7 88.9,35.9 91,33.2 93.1,30.6 95.2,28.2 97.3,25.7 99.3,23.2 101.4,20.8 103.5,18.6 105.6,16.5 107.7,14.7 109.8,13 111.9,11.4 114,9.9 116.1,8.5 118.2,7.2 120.2,6 122.3,5" fill="none" stroke="#000" stroke-width="8.2" stroke-linejoin="round" stroke-linecap="round"/><use href="#t"/><use href="#Fr"/></g>
<g transform="translate(1881.6,933.8)"><g clip-path="url(#c)"><path d="M5.3,84 9.5,84 13.7,84 17.8,78.6 22,74.2 26.2,70.9 30.4,67.9 34.6,66.3 38.7,64.7 42.9,63 47.1,60.9 51.3,58.4 55.5,55.3 59.6,51.7 63.8,47.6 68,42.5 72.2,36.8 76.4,30.9 80.5,24.8 84.7,17.9 88.9,12.1 93.1,8.7 97.3,6.5 101.4,4.9 105.6,4 109.8,4 114,4 118.2,4 122.3,4 122.3,7.2 118.2,9.4 114,13.5 109.8,19.6 105.6,26.3 101.4,32.1 97.3,37.8 93.1,43.4 88.9,48.2 84.7,52.1 80.5,55.6 76.4,58.6 72.2,61 68,63 63.8,64.7 59.6,66.3 55.5,67.9 51.3,69.4 47.1,70.8 42.9,72.4 38.7,74.1 34.6,75.9 30.4,78 26.2,80.2 22,80.7 17.8,81.5 13.7,84 9.5,84 5.3,84Z" fill="#93bcdc"/><path d="M5.3,84 9.5,84 13.7,84 17.8,78.6 22,74.2 26.2,70.9 30.4,67.9 34.6,66.3 38.7,64.7 42.9,63 47.1,60.9 51.3,58.4 55.5,55.3 59.6,51.7 63.8,47.6 68,42.5 72.2,36.8 76.4,30.9 80.5,24.8 84.7,17.9 88.9,12.1 93.1,8.7 97.3,6.5 101.4,4.9 105.6,4 109.8,4 114,4 118.2,4 122.3,4M5.3,84 9.5,84 13.7,84 17.8,81.5 22,80.7 26.2,80.2 30.4,78 34.6,75.9 38.7,74.1 42.9,72.4 47.1,70.8 51.3,69.4 55.5,67.9 59.6,66.3 63.8,64.7 68,63 72.2,61 76.4,58.6 80.5,55.6 84.7,52.1 88.9,48.2 93.1,43.4 97.3,37.8 101.4,32.1 105.6,26.3 109.8,19.6 114,13.5 118.2,9.4 122.3,7.2" fill="none" stroke="#5a9ccd" stroke-width="2"/><path d="M5.3,84 9.5,84 13.7,84 17.8,79.2 22,75.1 26.2,72.2 30.4,69.5 34.6,67.9 38.7,66.3 42.9,64.7 47.1,62.8 51.3,60.5 55.5,57.8 59.6,54.7 63.8,51.2 68,46.8 72.2,41.7 76.4,36.4 80.5,30.8 84.7,24.5 88.9,18.6 93.1,14.5 97.3,11.2 101.4,8.1 105.6,6 109.8,5.2 114,4.6 118.2,4.2 122.3,4 122.3,6.3 118.2,8.1 114,11.4 109.8,16.4 105.6,22 101.4,27.7 97.3,33.7 93.1,39.5 88.9,44.6 84.7,49.1 80.5,53.1 76.4,56.4 72.2,59.2 68,61.5 63.8,63.5 59.6,65.2 55.5,66.9 51.3,68.4 47.1,69.9 42.9,71.5 38.7,73.1 34.6,74.8 30.4,76.8 26.2,78.8 22,79.8 17.8,81.2 13.7,84 9.5,84 5.3,84Z" fill="#f4cca4" stroke="#c4aa90" stroke-width="1.4"/><path d="M5.3,84 9.5,84 13.7,84 17.8,79.8 22,76.2 26.2,73.6 30.4,71.4 34.6,69.8 38.7,68.2 42.9,66.6 47.1,64.9 51.3,62.9 55.5,60.7 59.6,58.2 63.8,55.3 68,51.7 72.2,47.5 76.4,42.9 80.5,37.9 84.7,32 88.9,26.1 93.1,21.3 97.3,16.5 101.4,11.8 105.6,8.2 109.8,6.5 114,5.3 118.2,4.4 122.3,4 122.3,5.3 118.2,6.5 114,9 109.8,12.7 105.6,17 101.4,22.6 97.3,28.9 93.1,35 88.9,40.4 84.7,45.5 80.5,50.1 76.4,53.9 72.2,57.1 68,59.8 63.8,62.1 59.6,64 55.5,65.7 51.3,67.3 47.1,68.8 42.9,70.4 38.7,71.9 34.6,73.6 30.4,75.4 26.2,77.3 22,78.8 17.8,81 13.7,84 9.5,84 5.3,84Z" fill="#d3e7ec"/></g><use href="#v9"/><use href="#Mr"/><path clip-path="url(#c)" d="M5.3,84 7.4,84 9.5,84 11.6,84 13.7,84 15.8,82.9 17.8,80.6 19.9,78.7 22,77.5 24.1,76.4 26.2,75.4 28.3,74.5 30.4,73.7 32.5,72.9 34.6,72.1 36.6,71.2 38.7,70.5 40.8,69.7 42.9,69 45,68.3 47.1,67.5 49.2,66.7 51.3,65.9 53.4,65.1 55.5,64.3 57.5,63.4 59.6,62.5 61.7,61.5 63.8,60.4 65.9,59.1 68,57.7 70.1,56.2 72.2,54.5 74.3,52.7 76.4,50.7 78.4,48.7 80.5,46.5 82.6,43.9 84.7,41.2 86.8,38.3 88.9,35.3 91,32.4 93.1,29.5 95.2,26.5 97.3,23.1 99.3,19.7 101.4,16.4 103.5,13.4 105.6,11 107.7,9.3 109.8,8.2 111.9,7.1 114,6.1 116.1,5.2 118.2,4.6 120.2,4.2 122.3,4" fill="none" stroke="#000" stroke-width="8.2" stroke-linejoin="round" stroke-linecap="round"/><use href="#t"/><use href="#Fr"/></g>
<g transform="translate(2061,933.8)"><g clip-path="url(#c)"><path d="M5.3,84 9.5,84 13.7,84 15.8,84 17.8,80.9 22,75.6 26.2,72.2 30.4,69 34.6,66.8 38.7,65.5 42.9,64 47.1,61.9 51.3,58.4 55.5,53.8 59.6,48.8 63.8,43.4 68,37.2 72.2,30.8 76.4,24.7 80.5,18.1 84.7,11.8 88.9,7.7 93.1,6.1 97.3,4.9 101.4,4.2 105.6,4 109.8,4 114,4 118.2,4 122.3,4 122.3,49.7 118.2,51.8 114,53.9 109.8,55.9 105.6,57.7 101.4,59.4 97.3,60.9 93.1,62.1 88.9,63 84.7,63.8 80.5,64.5 76.4,65.1 72.2,65.7 68,66.2 63.8,66.7 59.6,68.1 55.5,69.6 51.3,71.1 47.1,72.7 42.9,74.3 38.7,75.8 34.6,77.6 30.4,79.6 26.2,81.1 22,80.4 17.8,82.3 15.8,84 13.7,84 9.5,84 5.3,84Z" fill="#93bcdc"/><path d="M5.3,84 9.5,84 13.7,84 15.8,84 17.8,80.9 22,75.6 26.2,72.2 30.4,69 34.6,66.8 38.7,65.5 42.9,64 47.1,61.9 51.3,58.4 55.5,53.8 59.6,48.8 63.8,43.4 68,37.2 72.2,30.8 76.4,24.7 80.5,18.1 84.7,11.8 88.9,7.7 93.1,6.1 97.3,4.9 101.4,4.2 105.6,4 109.8,4 114,4 118.2,4 122.3,4M5.3,84 9.5,84 13.7,84 15.8,84 17.8,82.3 22,80.4 26.2,81.1 30.4,79.6 34.6,77.6 38.7,75.8 42.9,74.3 47.1,72.7 51.3,71.1 55.5,69.6 59.6,68.1 63.8,66.7 68,66.2 72.2,65.7 76.4,65.1 80.5,64.5 84.7,63.8 88.9,63 93.1,62.1 97.3,60.9 101.4,59.4 105.6,57.7 109.8,55.9 114,53.9 118.2,51.8 122.3,49.7" fill="none" stroke="#5a9ccd" stroke-width="2"/><path d="M5.3,84 9.5,84 13.7,84 15.8,84 17.8,81.3 22,76.3 26.2,73.3 30.4,70.6 34.6,68.6 38.7,67.2 42.9,65.7 47.1,63.8 51.3,60.8 55.5,57.2 59.6,53.2 63.8,48.8 68,43.4 72.2,37.6 76.4,31.8 80.5,25.6 84.7,19.4 88.9,14.6 93.1,11.7 97.3,9.1 101.4,6.8 105.6,5.3 109.8,4.7 114,4.3 118.2,4.1 122.3,4 122.3,26.9 118.2,28.1 114,29.5 109.8,31.2 105.6,33.1 101.4,36.4 97.3,40.4 93.1,44.2 88.9,47.7 84.7,51.3 80.5,54.7 76.4,57.6 72.2,60.4 68,62.8 63.8,64.6 59.6,66.3 55.5,67.7 51.3,69.1 47.1,70.6 42.9,72.2 38.7,73.7 34.6,75.4 30.4,77.2 26.2,78.7 22,79.3 17.8,82.2 15.8,84 13.7,84 9.5,84 5.3,84Z" fill="#f4cca4" stroke="#c4aa90" stroke-width="1.4"/><path d="M5.3,84 9.5,84 13.7,84 15.8,84 17.8,81.6 22,77.2 26.2,74.6 30.4,72.5 34.6,70.6 38.7,69.2 42.9,67.7 47.1,65.9 51.3,63.7 55.5,61.1 59.6,58.2 63.8,55 68,50.6 72.2,45.5 76.4,40.1 80.5,34.3 84.7,28.2 88.9,22.6 93.1,18.3 97.3,14 101.4,9.7 105.6,6.7 109.8,5.5 114,4.7 118.2,4.2 122.3,4 122.3,16.6 118.2,17.4 114,18.6 109.8,20 105.6,22 101.4,26 97.3,31.2 93.1,36.2 88.9,40.9 84.7,45.7 80.5,50.3 76.4,54.3 72.2,58 68,61.3 63.8,63.7 59.6,65.4 55.5,66.9 51.3,68.2 47.1,69.7 42.9,71.2 38.7,72.7 34.6,74.4 30.4,76.1 26.2,77.6 22,78.8 17.8,82.2 15.8,84 13.7,84 9.5,84 5.3,84Z" fill="#d3e7ec"/></g><use href="#v10"/><use href="#Mr"/><path clip-path="url(#c)" d="M5.3,84 7.4,84 9.5,84 11.6,84 13.7,84 15.8,84 17.8,82.1 19.9,79.5 22,78.2 24.1,77.2 26.2,76.3 28.3,75.5 30.4,74.7 32.5,74 34.6,73.2 36.6,72.4 38.7,71.6 40.8,70.8 42.9,70.1 45,69.3 47.1,68.6 49.2,67.9 51.3,67.1 53.4,66.5 55.5,65.8 57.5,65.2 59.6,64.4 61.7,63.6 63.8,62.5 65.9,61.2 68,59.5 70.1,57.4 72.2,55.1 74.3,52.7 76.4,50.1 78.4,47.6 80.5,44.9 82.6,42 84.7,38.9 86.8,35.7 88.9,32.5 91,29.3 93.1,26.3 95.2,23.2 97.3,19.9 99.3,16.5 101.4,13.4 103.5,10.6 105.6,8.5 107.7,7.2 109.8,6.4 111.9,5.8 114,5.2 116.1,4.7 118.2,4.3 120.2,4.1 122.3,4" fill="none" stroke="#000" stroke-width="8.2" stroke-linejoin="round" stroke-linecap="round"/><use href="#t"/><use href="#Fr"/></g>
<g transform="translate(267.1,1051.8)"><g clip-path="url(#c)"><path d="M5.3,84 9.5,84 11.6,84 13.7,81.8 17.8,74.9 22,69.4 26.2,64 30.4,58.5 34.6,53.4 38.7,48.3 42.9,43.5 47.1,38.9 51.3,34 55.5,28.1 59.6,19.4 63.8,10.3 68,4.3 72.2,2.7 76.4,1.7 80.5,0 84.7,0 88.9,0 93.1,0 97.3,0 101.4,0 105.6,0 109.8,0 114,0 118.2,0 122.3,0 122.3,0.9 118.2,0.9 114,0.9 109.8,0.9 105.6,0.9 101.4,0.9 97.3,1.1 93.1,1.6 88.9,2.7 84.7,4.1 80.5,9.8 76.4,18.9 72.2,27.7 68,33.7 63.8,38.6 59.6,43.3 55.5,48 51.3,53.1 47.1,58.2 42.9,62.8 38.7,66.6 34.6,69.7 30.4,72.7 26.2,75.6 22,78.7 17.8,80.2 13.7,83.1 11.6,84 9.5,84 5.3,84Z" fill="#93bcdc"/><path d="M5.3,84 9.5,84 11.6,84 13.7,81.8 17.8,74.9 22,69.4 26.2,64 30.4,58.5 34.6,53.4 38.7,48.3 42.9,43.5 47.1,38.9 51.3,34 55.5,28.1 59.6,19.4 63.8,10.3 68,4.3 72.2,2.7 76.4,1.7 80.5,0 84.7,0 88.9,0 93.1,0 97.3,0 101.4,0 105.6,0 109.8,0 114,0 118.2,0 122.3,0M5.3,84 9.5,84 11.6,84 13.7,83.1 17.8,80.2 22,78.7 26.2,75.6 30.4,72.7 34.6,69.7 38.7,66.6 42.9,62.8 47.1,58.2 51.3,53.1 55.5,48 59.6,43.3 63.8,38.6 68,33.7 72.2,27.7 76.4,18.9 80.5,9.8 84.7,4.1 88.9,2.7 93.1,1.6 97.3,1.1 101.4,0.9 105.6,0.9 109.8,0.9 114,0.9 118.2,0.9 122.3,0.9" fill="none" stroke="#5a9ccd" stroke-width="2"/><path d="M5.3,84 9.5,84 11.6,84 13.7,82.1 17.8,75.7 22,70.6 26.2,65.9 30.4,61 34.6,56.4 38.7,51.5 42.9,46.7 47.1,41.9 51.3,37 55.5,31.5 59.6,23.9 63.8,15.8 68,9.2 72.2,5.5 76.4,2.7 80.5,0.9 84.7,0.5 88.9,0.3 93.1,0.3 97.3,0.3 101.4,0.3 105.6,0.3 109.8,0.3 114,0.3 118.2,0.3 122.3,0.3 122.3,0.9 118.2,0.9 114,0.9 109.8,0.9 105.6,0.9 101.4,0.9 97.3,1 93.1,1.4 88.9,2.2 84.7,3.5 80.5,7.9 76.4,15.1 72.2,23.5 68,30.4 63.8,36.2 59.6,41 55.5,45.8 51.3,50.8 47.1,55.8 42.9,60.6 38.7,64.7 34.6,68.1 30.4,71.3 26.2,74.2 22,77.3 17.8,79.5 13.7,83.1 11.6,84 9.5,84 5.3,84Z" fill="#f4cca4" stroke="#c4aa90" stroke-width="1.4"/><path d="M5.3,84 9.5,84 11.6,84 13.7,82.5 17.8,76.7 22,72 26.2,68 30.4,64 34.6,59.9 38.7,55.2 42.9,50.3 47.1,45.4 51.3,40.5 55.5,35.4 59.6,29 63.8,22.1 68,15 72.2,8.7 76.4,3.9 80.5,1.8 84.7,1.2 88.9,0.7 93.1,0.6 97.3,0.6 101.4,0.6 105.6,0.6 109.8,0.6 114,0.6 118.2,0.6 122.3,0.6 122.3,0.9 118.2,0.9 114,0.9 109.8,0.9 105.6,0.9 101.4,0.9 97.3,1 93.1,1.2 88.9,1.8 84.7,2.8 80.5,5.7 76.4,10.7 72.2,18.6 68,26.6 63.8,33.3 59.6,38.5 55.5,43.3 51.3,48.1 47.1,53 42.9,58 38.7,62.5 34.6,66.3 30.4,69.6 26.2,72.6 22,75.7 17.8,78.8 13.7,83.1 11.6,84 9.5,84 5.3,84Z" fill="#d3e7ec"/></g><use href="#v0"/><use href="#h3"/><use href="#Mr"/><path clip-path="url(#c)" d="M5.3,84 7.4,84 9.5,84 11.6,84 13.7,83 15.8,80.7 17.8,77.9 19.9,75.5 22,73.7 24.1,72.1 26.2,70.6 28.3,69.1 30.4,67.6 32.5,66 34.6,64.1 36.6,62 38.7,59.8 40.8,57.3 42.9,54.8 45,52.2 47.1,49.6 49.2,47.1 51.3,44.7 53.4,42.4 55.5,40.1 57.5,37.8 59.6,35.3 61.7,32.7 63.8,29.9 65.9,26.3 68,21.9 70.1,17.2 72.2,12.5 74.3,8.4 76.4,5.3 78.4,3.7 80.5,3 82.6,2.4 84.7,1.9 86.8,1.5 88.9,1.2 91,1 93.1,0.9 95.2,0.9 97.3,0.9 99.3,0.9 101.4,0.9 103.5,0.9 105.6,0.9 107.7,0.9 109.8,0.9 111.9,0.9 114,0.9 116.1,0.9 118.2,0.9 120.2,0.9 122.3,0.9" fill="none" stroke="#000" stroke-width="8.2" stroke-linejoin="round" stroke-linecap="round"/><use href="#t"/><use href="#Fr"/></g>
<g transform="translate(446.5,1051.8)"><g clip-path="url(#c)"><path d="M5.3,84 9.5,84 13.7,84 17.8,78.4 22,72.8 26.2,67.5 30.4,61.7 34.6,57.7 38.7,53 42.9,48 47.1,42.8 51.3,37.1 55.5,31.2 59.6,25.4 63.8,18.8 68,12.4 72.2,7.9 76.4,5.5 80.5,3.6 84.7,2.3 88.9,1.7 93.1,0 97.3,0 101.4,0 105.6,0 109.8,0 114,0 118.2,0 122.3,0 122.3,1.7 118.2,2.3 114,3.5 109.8,5.3 105.6,7.6 101.4,11.9 97.3,18.1 93.1,24.8 88.9,30.6 84.7,36.5 80.5,42.3 76.4,47.6 72.2,52.6 68,57.3 63.8,61.3 59.6,64.4 55.5,66.9 51.3,69.1 47.1,71.4 42.9,73.8 38.7,76.2 34.6,78.6 30.4,81.7 26.2,82 22,81.2 17.8,82.1 13.7,84 9.5,84 5.3,84Z" fill="#93bcdc"/><path d="M5.3,84 9.5,84 13.7,84 17.8,78.4 22,72.8 26.2,67.5 30.4,61.7 34.6,57.7 38.7,53 42.9,48 47.1,42.8 51.3,37.1 55.5,31.2 59.6,25.4 63.8,18.8 68,12.4 72.2,7.9 76.4,5.5 80.5,3.6 84.7,2.3 88.9,1.7 93.1,0 97.3,0 101.4,0 105.6,0 109.8,0 114,0 118.2,0 122.3,0M5.3,84 9.5,84 13.7,84 17.8,82.1 22,81.2 26.2,82 30.4,81.7 34.6,78.6 38.7,76.2 42.9,73.8 47.1,71.4 51.3,69.1 55.5,66.9 59.6,64.4 63.8,61.3 68,57.3 72.2,52.6 76.4,47.6 80.5,42.3 84.7,36.5 88.9,30.6 93.1,24.8 97.3,18.1 101.4,11.9 105.6,7.6 109.8,5.3 114,3.5 118.2,2.3 122.3,1.7" fill="none" stroke="#5a9ccd" stroke-width="2"/><path d="M5.3,84 9.5,84 13.7,84 17.8,79.2 22,74.3 26.2,69.9 30.4,65 34.6,61.5 38.7,57.5 42.9,53.3 47.1,48.8 51.3,43.8 55.5,38.4 59.6,32.8 63.8,26.7 68,20.6 72.2,15.8 76.4,12.4 80.5,9.4 84.7,6.6 88.9,4.4 93.1,2.1 97.3,1.4 101.4,0.9 105.6,0.6 109.8,0.5 114,0.4 118.2,0.3 122.3,0.3 122.3,1.5 118.2,1.9 114,2.9 109.8,4.3 105.6,6.1 101.4,9.5 97.3,14.5 93.1,19.9 88.9,25.3 84.7,31.2 80.5,37.2 76.4,42.7 72.2,47.9 68,52.9 63.8,57.3 59.6,61 55.5,64.1 51.3,66.8 47.1,69.4 42.9,71.8 38.7,74.1 34.6,76.6 30.4,79.5 26.2,80.3 22,80.4 17.8,81.9 13.7,84 9.5,84 5.3,84Z" fill="#f4cca4" stroke="#c4aa90" stroke-width="1.4"/><path d="M5.3,84 9.5,84 13.7,84 17.8,80.2 22,76.2 26.2,72.6 30.4,68.9 34.6,65.9 38.7,62.6 42.9,59.3 47.1,55.7 51.3,51.5 55.5,46.7 59.6,41.5 63.8,35.9 68,30.2 72.2,24.9 76.4,20.4 80.5,16.1 84.7,11.5 88.9,7.6 93.1,4.5 97.3,3.1 101.4,2 105.6,1.3 109.8,1 114,0.8 118.2,0.6 122.3,0.6 122.3,1.2 118.2,1.5 114,2.1 109.8,3.1 105.6,4.3 101.4,6.7 97.3,10.3 93.1,14.3 88.9,19 84.7,25.1 80.5,31.4 76.4,37 72.2,42.6 68,47.9 63.8,52.8 59.6,57 55.5,60.9 51.3,64.2 47.1,67.1 42.9,69.5 38.7,71.8 34.6,74.1 30.4,76.8 26.2,78.3 22,79.5 17.8,81.7 13.7,84 9.5,84 5.3,84Z" fill="#d3e7ec"/></g><use href="#v1"/><use href="#h3"/><use href="#Mr"/><path clip-path="url(#c)" d="M5.3,84 7.4,84 9.5,84 11.6,84 13.7,84 15.8,83.2 17.8,81.4 19.9,79.7 22,78.4 24.1,77.2 26.2,76 28.3,74.8 30.4,73.6 32.5,72.4 34.6,71.2 36.6,70 38.7,68.9 40.8,67.8 42.9,66.7 45,65.5 47.1,64.2 49.2,62.7 51.3,61 53.4,59 55.5,56.9 57.5,54.6 59.6,52.1 61.7,49.6 63.8,47.1 65.9,44.5 68,41.8 70.1,39 72.2,36 74.3,33.1 76.4,30.1 78.4,27.3 80.5,24.2 82.6,20.9 84.7,17.6 86.8,14.3 88.9,11.4 91,9 93.1,7.4 95.2,6.2 97.3,5.1 99.3,4.2 101.4,3.4 103.5,2.7 105.6,2.2 107.7,1.9 109.8,1.6 111.9,1.4 114,1.3 116.1,1.1 118.2,1 120.2,1 122.3,0.9" fill="none" stroke="#000" stroke-width="8.2" stroke-linejoin="round" stroke-linecap="round"/><use href="#t"/><use href="#Fr"/></g>
<g transform="translate(625.9,1051.8)"><g clip-path="url(#c)"><path d="M5.3,84 9.5,84 13.7,84 17.8,75.7 22,66.5 26.2,57.6 30.4,48.6 34.6,44.7 38.7,40.7 42.9,36.5 47.1,31.8 51.3,26.8 55.5,21.8 59.6,17.4 63.8,13.1 68,9.2 72.2,6.3 76.4,4.6 80.5,3.2 84.7,2.3 88.9,1.7 93.1,0 97.3,0 101.4,0 105.6,0 109.8,0 114,0 118.2,0 122.3,0 122.3,3.8 118.2,5.3 114,7.3 109.8,10.7 105.6,14.9 101.4,19.2 97.3,23.8 93.1,28.9 88.9,33.9 84.7,38.3 80.5,42.4 76.4,46.3 72.2,50.3 68,54.4 63.8,58.4 59.6,62.5 55.5,66.5 51.3,70.6 47.1,74.7 42.9,78.7 38.7,83.3 34.6,84 30.4,84 26.2,81.1 22,80.2 17.8,81.5 13.7,84 9.5,84 5.3,84Z" fill="#93bcdc"/><path d="M5.3,84 9.5,84 13.7,84 17.8,75.7 22,66.5 26.2,57.6 30.4,48.6 34.6,44.7 38.7,40.7 42.9,36.5 47.1,31.8 51.3,26.8 55.5,21.8 59.6,17.4 63.8,13.1 68,9.2 72.2,6.3 76.4,4.6 80.5,3.2 84.7,2.3 88.9,1.7 93.1,0 97.3,0 101.4,0 105.6,0 109.8,0 114,0 118.2,0 122.3,0M5.3,84 9.5,84 13.7,84 17.8,81.5 22,80.2 26.2,81.1 30.4,84 34.6,84 38.7,83.3 42.9,78.7 47.1,74.7 51.3,70.6 55.5,66.5 59.6,62.5 63.8,58.4 68,54.4 72.2,50.3 76.4,46.3 80.5,42.4 84.7,38.3 88.9,33.9 93.1,28.9 97.3,23.8 101.4,19.2 105.6,14.9 109.8,10.7 114,7.3 118.2,5.3 122.3,3.8" fill="none" stroke="#5a9ccd" stroke-width="2"/><path d="M5.3,84 9.5,84 13.7,84 17.8,77.1 22,69.3 26.2,61.7 30.4,54.1 34.6,50.1 38.7,46.1 42.9,42 47.1,37.5 51.3,32.7 55.5,28 59.6,23.7 63.8,19.4 68,15.3 72.2,11.8 76.4,9.2 80.5,7 84.7,5.1 88.9,3.6 93.1,1.7 97.3,1.2 101.4,0.9 105.6,0.6 109.8,0.5 114,0.4 118.2,0.3 122.3,0.3 122.3,3 118.2,4.1 114,5.6 109.8,8.2 105.6,11.3 101.4,14.6 97.3,18.4 93.1,22.5 88.9,26.8 84.7,31 80.5,35.2 76.4,39.2 72.2,43.5 68,47.8 63.8,52.1 59.6,56.2 55.5,60.2 51.3,64.3 47.1,68.3 42.9,72.3 38.7,76.8 34.6,78.4 30.4,79.6 26.2,78.6 22,79.1 17.8,81.3 13.7,84 9.5,84 5.3,84Z" fill="#f4cca4" stroke="#c4aa90" stroke-width="1.4"/><path d="M5.3,84 9.5,84 13.7,84 17.8,78.7 22,72.5 26.2,66.5 30.4,60.4 34.6,56.4 38.7,52.4 42.9,48.3 47.1,44 51.3,39.5 55.5,35.2 59.6,31 63.8,26.8 68,22.3 72.2,18.1 76.4,14.5 80.5,11.3 84.7,8.4 88.9,5.9 93.1,3.6 97.3,2.6 101.4,1.8 105.6,1.3 109.8,1 114,0.8 118.2,0.6 122.3,0.6 122.3,2.1 118.2,2.7 114,3.7 109.8,5.2 105.6,7.2 101.4,9.4 97.3,12.1 93.1,15.1 88.9,18.6 84.7,22.6 80.5,26.8 76.4,31 72.2,35.5 68,40.2 63.8,44.7 59.6,48.9 55.5,52.9 51.3,56.9 47.1,61 42.9,65 38.7,69.3 34.6,72 30.4,74.5 26.2,75.8 22,77.9 17.8,81 13.7,84 9.5,84 5.3,84Z" fill="#d3e7ec"/></g><use href="#v2"/><use href="#h3"/><use href="#Mr"/><path clip-path="url(#c)" d="M5.3,84 7.4,84 9.5,84 11.6,84 13.7,84 15.8,83 17.8,80.7 19.9,78.3 22,76.3 24.1,74.3 26.2,72.3 28.3,70.3 30.4,68.2 32.5,66.2 34.6,64.1 36.6,62.1 38.7,60.1 40.8,58 42.9,56 45,54 47.1,52 49.2,49.9 51.3,47.9 53.4,46 55.5,44 57.5,42 59.6,40 61.7,37.9 63.8,35.7 65.9,33.4 68,31 70.1,28.4 72.2,25.9 74.3,23.4 76.4,21 78.4,18.8 80.5,16.6 82.6,14.5 84.7,12.3 86.8,10.3 88.9,8.6 91,7.1 93.1,6 95.2,5.1 97.3,4.3 99.3,3.6 101.4,3 103.5,2.5 105.6,2.1 107.7,1.9 109.8,1.7 111.9,1.5 114,1.3 116.1,1.1 118.2,1 120.2,1 122.3,0.9" fill="none" stroke="#000" stroke-width="8.2" stroke-linejoin="round" stroke-linecap="round"/><use href="#t"/><use href="#Fr"/></g>
<g transform="translate(805.3,1051.8)"><g clip-path="url(#c)"><path d="M5.3,84 9.5,84 13.7,84 15.8,84 17.8,80.4 22,74 26.2,70.2 30.4,67.2 34.6,64.9 38.7,62.7 42.9,60 47.1,56.6 51.3,52.4 55.5,46.1 59.6,38 63.8,30.1 68,23.3 72.2,16.6 76.4,10.8 80.5,7.1 84.7,4.9 88.9,3.2 93.1,2.1 97.3,1.6 101.4,0 105.6,0 109.8,0 114,0 118.2,0 122.3,0 122.3,1.4 118.2,1.8 114,2.5 109.8,3.9 105.6,5.9 101.4,8.5 97.3,13.3 93.1,19.6 88.9,26.4 84.7,33.6 80.5,41.8 76.4,49.3 72.2,54.4 68,58.2 63.8,61.3 59.6,63.8 55.5,65.7 51.3,67.2 47.1,68.7 42.9,70.5 38.7,72.5 34.6,74.8 30.4,77.1 26.2,80.1 22,79.4 17.8,81.9 15.8,84 13.7,84 9.5,84 5.3,84Z" fill="#93bcdc"/><path d="M5.3,84 9.5,84 13.7,84 15.8,84 17.8,80.4 22,74 26.2,70.2 30.4,67.2 34.6,64.9 38.7,62.7 42.9,60 47.1,56.6 51.3,52.4 55.5,46.1 59.6,38 63.8,30.1 68,23.3 72.2,16.6 76.4,10.8 80.5,7.1 84.7,4.9 88.9,3.2 93.1,2.1 97.3,1.6 101.4,0 105.6,0 109.8,0 114,0 118.2,0 122.3,0M5.3,84 9.5,84 13.7,84 15.8,84 17.8,81.9 22,79.4 26.2,80.1 30.4,77.1 34.6,74.8 38.7,72.5 42.9,70.5 47.1,68.7 51.3,67.2 55.5,65.7 59.6,63.8 63.8,61.3 68,58.2 72.2,54.4 76.4,49.3 80.5,41.8 84.7,33.6 88.9,26.4 93.1,19.6 97.3,13.3 101.4,8.5 105.6,5.9 109.8,3.9 114,2.5 118.2,1.8 122.3,1.4" fill="none" stroke="#5a9ccd" stroke-width="2"/><path d="M5.3,84 9.5,84 13.7,84 15.8,84 17.8,80.7 22,74.7 26.2,71.2 30.4,68.5 34.6,66.3 38.7,64.3 42.9,61.9 47.1,59 51.3,55.4 55.5,50.1 59.6,43.3 63.8,36.4 68,29.9 72.2,22.8 76.4,16.4 80.5,11.9 84.7,8.4 88.9,5.5 93.1,3.6 97.3,2.6 101.4,0.9 105.6,0.6 109.8,0.5 114,0.4 118.2,0.3 122.3,0.3 122.3,1.3 118.2,1.6 114,2.2 109.8,3.3 105.6,4.9 101.4,7 97.3,11 93.1,16.2 88.9,22.2 84.7,29 80.5,36.8 76.4,44.1 72.2,50 68,55 63.8,58.9 59.6,61.9 55.5,64.2 51.3,66 47.1,67.7 42.9,69.4 38.7,71.3 34.6,73.4 30.4,75.6 26.2,78.3 22,78.6 17.8,81.8 15.8,84 13.7,84 9.5,84 5.3,84Z" fill="#f4cca4" stroke="#c4aa90" stroke-width="1.4"/><path d="M5.3,84 9.5,84 13.7,84 15.8,84 17.8,81.1 22,75.6 26.2,72.4 30.4,69.9 34.6,67.9 38.7,66 42.9,64 47.1,61.7 51.3,58.8 55.5,54.6 59.6,49.4 63.8,43.8 68,37.5 72.2,30 76.4,22.8 80.5,17.3 84.7,12.3 88.9,8.1 93.1,5.3 97.3,3.7 101.4,2 105.6,1.3 109.8,1 114,0.8 118.2,0.6 122.3,0.6 122.3,1.1 118.2,1.3 114,1.8 109.8,2.6 105.6,3.7 101.4,5.4 97.3,8.3 93.1,12.2 88.9,17.3 84.7,23.7 80.5,31 76.4,38.1 72.2,45 68,51.3 63.8,56.2 59.6,59.6 55.5,62.4 51.3,64.7 47.1,66.5 42.9,68.2 38.7,69.9 34.6,71.8 30.4,73.8 26.2,76.3 22,77.7 17.8,81.7 15.8,84 13.7,84 9.5,84 5.3,84Z" fill="#d3e7ec"/></g><use href="#v3"/><use href="#h3"/><use href="#Mr"/><path clip-path="url(#c)" d="M5.3,84 7.4,84 9.5,84 11.6,84 13.7,84 15.8,84 17.8,81.6 19.9,78.3 22,76.6 24.1,75.1 26.2,73.9 28.3,72.8 30.4,71.7 32.5,70.8 34.6,69.8 36.6,68.9 38.7,68.1 40.8,67.4 42.9,66.7 45,66 47.1,65.1 49.2,64.1 51.3,63 53.4,61.7 55.5,60.3 57.5,58.7 59.6,56.9 61.7,55 63.8,52.8 65.9,50.2 68,46.8 70.1,42.9 72.2,38.8 74.3,34.7 76.4,30.7 78.4,27.3 80.5,24 82.6,20.6 84.7,17.2 86.8,14.1 88.9,11.3 91,9 93.1,7.4 95.2,6.2 97.3,5.1 99.3,4.2 101.4,3.4 103.5,2.7 105.6,2.2 107.7,1.9 109.8,1.6 111.9,1.4 114,1.3 116.1,1.1 118.2,1 120.2,1 122.3,0.9" fill="none" stroke="#000" stroke-width="8.2" stroke-linejoin="round" stroke-linecap="round"/><use href="#t"/><use href="#Fr"/></g>
<g transform="translate(984.7,1051.8)"><g clip-path="url(#c)"><path d="M5.3,84 9.5,84 11.6,84 13.7,82.7 17.8,78.3 22,74.6 26.2,71.3 30.4,68.7 34.6,66.8 38.7,64.8 42.9,62.7 47.1,60.3 51.3,57.7 55.5,54.6 59.6,50.4 63.8,44.2 68,37 72.2,29.9 76.4,22.1 80.5,13.8 84.7,7.5 88.9,5 93.1,3.5 97.3,2.5 101.4,1.9 105.6,1.5 109.8,0 114,0 118.2,0 122.3,0 122.3,1.2 118.2,1.5 114,2 109.8,2.7 105.6,3.8 101.4,5.5 97.3,8.8 93.1,15.8 88.9,24.2 84.7,31.7 80.5,38.9 76.4,46 72.2,51.7 68,55.5 63.8,58.4 59.6,60.9 55.5,63.3 51.3,65.3 47.1,67.3 42.9,69.2 38.7,71.5 34.6,73.8 30.4,76.3 26.2,78.4 22,80.5 17.8,81.5 13.7,83.4 11.6,84 9.5,84 5.3,84Z" fill="#93bcdc"/><path d="M5.3,84 9.5,84 11.6,84 13.7,82.7 17.8,78.3 22,74.6 26.2,71.3 30.4,68.7 34.6,66.8 38.7,64.8 42.9,62.7 47.1,60.3 51.3,57.7 55.5,54.6 59.6,50.4 63.8,44.2 68,37 72.2,29.9 76.4,22.1 80.5,13.8 84.7,7.5 88.9,5 93.1,3.5 97.3,2.5 101.4,1.9 105.6,1.5 109.8,0 114,0 118.2,0 122.3,0M5.3,84 9.5,84 11.6,84 13.7,83.4 17.8,81.5 22,80.5 26.2,78.4 30.4,76.3 34.6,73.8 38.7,71.5 42.9,69.2 47.1,67.3 51.3,65.3 55.5,63.3 59.6,60.9 63.8,58.4 68,55.5 72.2,51.7 76.4,46 80.5,38.9 84.7,31.7 88.9,24.2 93.1,15.8 97.3,8.8 101.4,5.5 105.6,3.8 109.8,2.7 114,2 118.2,1.5 122.3,1.2" fill="none" stroke="#5a9ccd" stroke-width="2"/><path d="M5.3,84 9.5,84 11.6,84 13.7,82.9 17.8,78.8 22,75.3 26.2,72.2 30.4,69.7 34.6,67.6 38.7,65.7 42.9,63.6 47.1,61.3 51.3,58.8 55.5,55.9 59.6,52.1 63.8,46.6 68,40 72.2,33 76.4,25.3 80.5,17.3 84.7,10.5 88.9,6.5 93.1,4.2 97.3,3 101.4,2.2 105.6,1.6 109.8,0.5 114,0.4 118.2,0.3 122.3,0.3 122.3,1.1 118.2,1.4 114,1.8 109.8,2.4 105.6,3.4 101.4,4.8 97.3,7.5 93.1,13.1 88.9,20.4 84.7,27.8 80.5,35.4 76.4,42.5 72.2,48.7 68,53.3 63.8,56.9 59.6,59.6 55.5,62.1 51.3,64.3 47.1,66.3 42.9,68.3 38.7,70.4 34.6,72.7 30.4,75.1 26.2,77.3 22,79.5 17.8,81 13.7,83.4 11.6,84 9.5,84 5.3,84Z" fill="#f4cca4" stroke="#c4aa90" stroke-width="1.4"/><path d="M5.3,84 9.5,84 11.6,84 13.7,83.1 17.8,79.3 22,76.1 26.2,73.2 30.4,70.7 34.6,68.6 38.7,66.6 42.9,64.6 47.1,62.4 51.3,60 55.5,57.3 59.6,54 63.8,49.4 68,43.4 72.2,36.5 76.4,29 80.5,21.4 84.7,13.9 88.9,8.3 93.1,5 97.3,3.5 101.4,2.5 105.6,1.9 109.8,1 114,0.8 118.2,0.6 122.3,0.6 122.3,1 118.2,1.2 114,1.6 109.8,2.1 105.6,2.8 101.4,4 97.3,6 93.1,9.9 88.9,15.9 84.7,23.4 80.5,31.3 76.4,38.5 72.2,45.1 68,50.8 63.8,55 59.6,58.1 55.5,60.8 51.3,63.1 47.1,65.2 42.9,67.2 38.7,69.2 34.6,71.4 30.4,73.8 26.2,76.1 22,78.4 17.8,80.5 13.7,83.4 11.6,84 9.5,84 5.3,84Z" fill="#d3e7ec"/></g><use href="#v4"/><use href="#h3"/><use href="#Mr"/><path clip-path="url(#c)" d="M5.3,84 7.4,84 9.5,84 11.6,84 13.7,83.4 15.8,81.8 17.8,79.9 19.9,78.3 22,77 24.1,75.7 26.2,74.5 28.3,73.3 30.4,72.1 32.5,70.9 34.6,69.8 36.6,68.8 38.7,67.8 40.8,66.8 42.9,65.9 45,64.9 47.1,63.8 49.2,62.7 51.3,61.5 53.4,60.4 55.5,59.1 57.5,57.8 59.6,56.3 61.7,54.7 63.8,52.8 65.9,50.5 68,47.7 70.1,44.4 72.2,40.8 74.3,37.2 76.4,33.5 78.4,30.1 80.5,26.4 82.6,22.3 84.7,18 86.8,14 88.9,10.4 91,7.6 93.1,6 95.2,5 97.3,4.2 99.3,3.5 101.4,3 103.5,2.5 105.6,2.1 107.7,1.9 109.8,1.7 111.9,1.5 114,1.3 116.1,1.1 118.2,1 120.2,1 122.3,0.9" fill="none" stroke="#000" stroke-width="8.2" stroke-linejoin="round" stroke-linecap="round"/><use href="#t"/><use href="#Fr"/></g>
<g transform="translate(1164,1051.8)"><g clip-path="url(#c)"><path d="M5.3,84 9.5,84 13.7,84 17.8,79.6 22,75.2 26.2,71.5 30.4,68.5 34.6,67 38.7,65.2 42.9,63.2 47.1,61 51.3,58.2 55.5,54.2 59.6,48.3 63.8,41.4 68,34.8 72.2,27.8 76.4,20.7 80.5,14.7 84.7,10.5 88.9,6.9 93.1,4.1 97.3,2.7 101.4,1.9 105.6,0 109.8,0 114,0 118.2,0 122.3,0 122.3,1.7 118.2,2.5 114,3.6 109.8,6.1 105.6,9.5 101.4,13.5 97.3,19 93.1,26 88.9,33.1 84.7,39.7 80.5,46.6 76.4,52.9 72.2,57.4 68,60.4 63.8,62.7 59.6,64.7 55.5,66.6 51.3,68.2 47.1,69.6 42.9,71.4 38.7,73.6 34.6,76 30.4,78.7 26.2,80.3 22,81.2 17.8,82.1 13.7,84 9.5,84 5.3,84Z" fill="#93bcdc"/><path d="M5.3,84 9.5,84 13.7,84 17.8,79.6 22,75.2 26.2,71.5 30.4,68.5 34.6,67 38.7,65.2 42.9,63.2 47.1,61 51.3,58.2 55.5,54.2 59.6,48.3 63.8,41.4 68,34.8 72.2,27.8 76.4,20.7 80.5,14.7 84.7,10.5 88.9,6.9 93.1,4.1 97.3,2.7 101.4,1.9 105.6,0 109.8,0 114,0 118.2,0 122.3,0M5.3,84 9.5,84 13.7,84 17.8,82.1 22,81.2 26.2,80.3 30.4,78.7 34.6,76 38.7,73.6 42.9,71.4 47.1,69.6 51.3,68.2 55.5,66.6 59.6,64.7 63.8,62.7 68,60.4 72.2,57.4 76.4,52.9 80.5,46.6 84.7,39.7 88.9,33.1 93.1,26 97.3,19 101.4,13.5 105.6,9.5 109.8,6.1 114,3.6 118.2,2.5 122.3,1.7" fill="none" stroke="#5a9ccd" stroke-width="2"/><path d="M5.3,84 9.5,84 13.7,84 17.8,80.1 22,76.1 26.2,72.7 30.4,69.9 34.6,68.2 38.7,66.4 42.9,64.6 47.1,62.5 51.3,60 55.5,56.5 59.6,51.6 63.8,45.8 68,39.7 72.2,32.9 76.4,25.8 80.5,19.6 84.7,14.6 88.9,10.1 93.1,6.6 97.3,4.5 101.4,3 105.6,1 109.8,0.7 114,0.5 118.2,0.3 122.3,0.3 122.3,1.5 118.2,2.1 114,3.1 109.8,5.1 105.6,7.8 101.4,11.3 97.3,16.2 93.1,22.4 88.9,29 84.7,35.7 80.5,42.6 76.4,49 72.2,54.2 68,58.1 63.8,61.1 59.6,63.4 55.5,65.5 51.3,67.1 47.1,68.7 42.9,70.5 38.7,72.4 34.6,74.7 30.4,77.2 26.2,79 22,80.4 17.8,81.9 13.7,84 9.5,84 5.3,84Z" fill="#f4cca4" stroke="#c4aa90" stroke-width="1.4"/><path d="M5.3,84 9.5,84 13.7,84 17.8,80.7 22,77.1 26.2,74.1 30.4,71.4 34.6,69.6 38.7,67.8 42.9,66.1 47.1,64.3 51.3,62 55.5,59.2 59.6,55.4 63.8,50.9 68,45.4 72.2,38.7 76.4,31.7 80.5,25.4 84.7,19.4 88.9,13.8 93.1,9.5 97.3,6.6 101.4,4.2 105.6,2.1 109.8,1.4 114,1 118.2,0.7 122.3,0.6 122.3,1.2 118.2,1.6 114,2.4 109.8,3.8 105.6,5.9 101.4,8.8 97.3,13.1 93.1,18.2 88.9,24.2 84.7,31 80.5,38.1 76.4,44.5 72.2,50.5 68,55.5 63.8,59.3 59.6,61.9 55.5,64.1 51.3,66 47.1,67.7 42.9,69.4 38.7,71.1 34.6,73.1 30.4,75.4 26.2,77.6 22,79.5 17.8,81.7 13.7,84 9.5,84 5.3,84Z" fill="#d3e7ec"/></g><use href="#v5"/><use href="#h3"/><use href="#Mr"/><path clip-path="url(#c)" d="M5.3,84 7.4,84 9.5,84 11.6,84 13.7,84 15.8,83.2 17.8,81.4 19.9,79.7 22,78.4 24.1,77.1 26.2,75.8 28.3,74.5 30.4,73.3 32.5,72.2 34.6,71.2 36.6,70.3 38.7,69.5 40.8,68.7 42.9,68 45,67.2 47.1,66.4 49.2,65.5 51.3,64.5 53.4,63.6 55.5,62.5 57.5,61.4 59.6,60.1 61.7,58.7 63.8,57 65.9,55 68,52.3 70.1,49.3 72.2,45.9 74.3,42.5 76.4,39 78.4,35.7 80.5,32.4 82.6,28.9 84.7,25.2 86.8,21.7 88.9,18.3 91,15.4 93.1,13.1 95.2,11.1 97.3,9.2 99.3,7.4 101.4,5.8 103.5,4.5 105.6,3.5 107.7,2.8 109.8,2.4 111.9,2 114,1.6 116.1,1.3 118.2,1.1 120.2,1 122.3,0.9" fill="none" stroke="#000" stroke-width="8.2" stroke-linejoin="round" stroke-linecap="round"/><use href="#t"/><use href="#Fr"/></g>
<g transform="translate(1343.4,1051.8)"><g clip-path="url(#c)"><path d="M5.3,84 9.5,84 11.6,84 13.7,82.5 17.8,78.1 22,74.6 26.2,72 30.4,70.8 34.6,69.8 38.7,67.9 42.9,65.1 47.1,61.7 51.3,58.1 55.5,53.9 59.6,49.2 63.8,44.2 68,38.9 72.2,33.1 76.4,27.2 80.5,21.6 84.7,15.3 88.9,9.7 93.1,6 97.3,3.8 101.4,2.1 105.6,0 109.8,0 114,0 118.2,0 122.3,0 122.3,15.9 118.2,21.2 114,26 109.8,31 105.6,35.9 101.4,40.8 97.3,45.2 93.1,49.4 88.9,53.4 84.7,57.1 80.5,60.3 76.4,63.2 72.2,66 68,68.3 63.8,69.8 59.6,70.8 55.5,71.4 51.3,72.1 47.1,73.3 42.9,75.2 38.7,77.5 34.6,79.7 30.4,82.4 26.2,83 22,82 17.8,82.1 13.7,83.6 11.6,84 9.5,84 5.3,84Z" fill="#93bcdc"/><path d="M5.3,84 9.5,84 11.6,84 13.7,82.5 17.8,78.1 22,74.6 26.2,72 30.4,70.8 34.6,69.8 38.7,67.9 42.9,65.1 47.1,61.7 51.3,58.1 55.5,53.9 59.6,49.2 63.8,44.2 68,38.9 72.2,33.1 76.4,27.2 80.5,21.6 84.7,15.3 88.9,9.7 93.1,6 97.3,3.8 101.4,2.1 105.6,0 109.8,0 114,0 118.2,0 122.3,0M5.3,84 9.5,84 11.6,84 13.7,83.6 17.8,82.1 22,82 26.2,83 30.4,82.4 34.6,79.7 38.7,77.5 42.9,75.2 47.1,73.3 51.3,72.1 55.5,71.4 59.6,70.8 63.8,69.8 68,68.3 72.2,66 76.4,63.2 80.5,60.3 84.7,57.1 88.9,53.4 93.1,49.4 97.3,45.2 101.4,40.8 105.6,35.9 109.8,31 114,26 118.2,21.2 122.3,15.9" fill="none" stroke="#5a9ccd" stroke-width="2"/><path d="M5.3,84 9.5,84 11.6,84 13.7,82.8 17.8,78.9 22,75.7 26.2,73.2 30.4,71.7 34.6,70.6 38.7,69 42.9,66.7 47.1,64.1 51.3,61.1 55.5,57.4 59.6,53.2 63.8,48.6 68,43.7 72.2,38.3 76.4,32.7 80.5,27.2 84.7,21.1 88.9,15.4 93.1,11.1 97.3,7.9 101.4,5 105.6,2.1 109.8,1.4 114,0.8 118.2,0.4 122.3,0.3 122.3,11.7 118.2,15.7 114,19.6 109.8,23.6 105.6,28 101.4,32.8 97.3,37.7 93.1,42.4 88.9,46.9 84.7,51.2 80.5,55 76.4,58.6 72.2,62 68,64.9 63.8,67 59.6,68.7 55.5,70.1 51.3,71.2 47.1,72.5 42.9,74.1 38.7,75.9 34.6,77.7 30.4,80.1 26.2,81.2 22,81 17.8,81.8 13.7,83.6 11.6,84 9.5,84 5.3,84Z" fill="#f4cca4" stroke="#c4aa90" stroke-width="1.4"/><path d="M5.3,84 9.5,84 11.6,84 13.7,83.1 17.8,79.8 22,77 26.2,74.6 30.4,72.8 34.6,71.5 38.7,70.2 42.9,68.7 47.1,66.9 51.3,64.7 55.5,61.6 59.6,57.8 63.8,53.7 68,49.3 72.2,44.3 76.4,39 80.5,33.7 84.7,27.8 88.9,22 93.1,17.1 97.3,12.7 101.4,8.3 105.6,4.5 109.8,2.9 114,1.7 118.2,0.9 122.3,0.6 122.3,6.8 118.2,9.3 114,12.1 109.8,15.2 105.6,18.8 101.4,23.6 97.3,29.1 93.1,34.3 88.9,39.4 84.7,44.4 80.5,49 76.4,53.3 72.2,57.3 68,60.9 63.8,63.8 59.6,66.3 55.5,68.5 51.3,70.2 47.1,71.5 42.9,72.7 38.7,74 34.6,75.4 30.4,77.4 26.2,79 22,79.9 17.8,81.4 13.7,83.5 11.6,84 9.5,84 5.3,84Z" fill="#d3e7ec"/></g><use href="#v6"/><use href="#h3"/><use href="#Mr"/><path clip-path="url(#c)" d="M5.3,84 7.4,84 9.5,84 11.6,84 13.7,83.5 15.8,82.4 17.8,81 19.9,79.7 22,78.6 24.1,77.5 26.2,76.3 28.3,75.2 30.4,74.2 32.5,73.3 34.6,72.6 36.6,72.1 38.7,71.7 40.8,71.4 42.9,71.1 45,70.8 47.1,70.4 49.2,69.8 51.3,69 53.4,67.9 55.5,66.6 57.5,65.1 59.6,63.4 61.7,61.7 63.8,59.9 65.9,58.1 68,56.1 70.1,53.9 72.2,51.6 74.3,49.2 76.4,46.7 78.4,44.2 80.5,41.6 82.6,38.9 84.7,36 86.8,33.1 88.9,30.1 91,27.2 93.1,24.5 95.2,21.6 97.3,18.5 99.3,15.3 101.4,12.3 103.5,9.7 105.6,7.5 107.7,6 109.8,4.9 111.9,3.8 114,2.9 116.1,2.1 118.2,1.5 120.2,1.1 122.3,0.9" fill="none" stroke="#000" stroke-width="8.2" stroke-linejoin="round" stroke-linecap="round"/><use href="#t"/><use href="#Fr"/></g>
<g transform="translate(1522.8,1051.8)"><g clip-path="url(#c)"><path d="M5.3,84 9.5,84 13.7,84 17.8,77.8 22,72.2 26.2,67.6 30.4,62.9 34.6,60.1 38.7,57.2 42.9,54 47.1,50.2 51.3,45.5 55.5,39.8 59.6,33.6 63.8,27.3 68,19.6 72.2,12.2 76.4,7.6 80.5,5.6 84.7,4.3 88.9,3.3 93.1,2.5 97.3,1.8 101.4,0 105.6,0 109.8,0 114,0 118.2,0 122.3,0 122.3,3.7 118.2,4.9 114,6.5 109.8,9.4 105.6,15.7 101.4,23.5 97.3,30.5 93.1,36.7 88.9,42.8 84.7,48.1 80.5,52.2 76.4,55.7 72.2,58.7 68,61.5 63.8,64.1 59.6,66.5 55.5,68.8 51.3,71.2 47.1,73.4 42.9,75.8 38.7,78.6 34.6,83.2 30.4,84 26.2,81.6 22,80.4 17.8,81.3 13.7,84 9.5,84 5.3,84Z" fill="#93bcdc"/><path d="M5.3,84 9.5,84 13.7,84 17.8,77.8 22,72.2 26.2,67.6 30.4,62.9 34.6,60.1 38.7,57.2 42.9,54 47.1,50.2 51.3,45.5 55.5,39.8 59.6,33.6 63.8,27.3 68,19.6 72.2,12.2 76.4,7.6 80.5,5.6 84.7,4.3 88.9,3.3 93.1,2.5 97.3,1.8 101.4,0 105.6,0 109.8,0 114,0 118.2,0 122.3,0M5.3,84 9.5,84 13.7,84 17.8,81.3 22,80.4 26.2,81.6 30.4,84 34.6,83.2 38.7,78.6 42.9,75.8 47.1,73.4 51.3,71.2 55.5,68.8 59.6,66.5 63.8,64.1 68,61.5 72.2,58.7 76.4,55.7 80.5,52.2 84.7,48.1 88.9,42.8 93.1,36.7 97.3,30.5 101.4,23.5 105.6,15.7 109.8,9.4 114,6.5 118.2,4.9 122.3,3.7" fill="none" stroke="#5a9ccd" stroke-width="2"/><path d="M5.3,84 9.5,84 13.7,84 17.8,78.6 22,73.5 26.2,69.5 30.4,65.5 34.6,62.8 38.7,60.1 42.9,57.1 47.1,53.7 51.3,49.6 55.5,44.6 59.6,39.2 63.8,33.6 68,26.7 72.2,19.8 76.4,14.7 80.5,11.5 84.7,8.4 88.9,5.6 93.1,3.9 97.3,2.8 101.4,1.2 105.6,0.9 109.8,0.7 114,0.5 118.2,0.3 122.3,0.3 122.3,2.9 118.2,3.9 114,5.2 109.8,7.5 105.6,12.2 101.4,18.1 97.3,23.5 93.1,28.5 88.9,34.1 84.7,39.9 80.5,45.1 76.4,49.4 72.2,53.3 68,56.9 63.8,60.1 59.6,62.9 55.5,65.5 51.3,68 47.1,70.4 42.9,72.8 38.7,75.5 34.6,79.4 30.4,80.7 26.2,79.6 22,79.4 17.8,81.1 13.7,84 9.5,84 5.3,84Z" fill="#f4cca4" stroke="#c4aa90" stroke-width="1.4"/><path d="M5.3,84 9.5,84 13.7,84 17.8,79.4 22,75 26.2,71.7 30.4,68.4 34.6,66 38.7,63.4 42.9,60.7 47.1,57.7 51.3,54.2 55.5,50.2 59.6,45.8 63.8,41 68,35 72.2,28.6 76.4,23 80.5,18.4 84.7,13.1 88.9,8.4 93.1,5.4 97.3,4 101.4,2.5 105.6,1.9 109.8,1.5 114,1.1 118.2,0.7 122.3,0.6 122.3,2 118.2,2.7 114,3.6 109.8,5.2 105.6,8.2 101.4,11.8 97.3,15.4 93.1,19 88.9,24 84.7,30.5 80.5,36.8 76.4,42.1 72.2,47 68,51.6 63.8,55.6 59.6,58.8 55.5,61.7 51.3,64.4 47.1,66.9 42.9,69.3 38.7,71.9 34.6,75.1 30.4,76.8 26.2,77.2 22,78.3 17.8,80.8 13.7,84 9.5,84 5.3,84Z" fill="#d3e7ec"/></g><use href="#v7"/><use href="#h3"/><use href="#Mr"/><path clip-path="url(#c)" d="M5.3,84 7.4,84 9.5,84 11.6,84 13.7,84 15.8,82.9 17.8,80.5 19.9,78.3 22,76.9 24.1,75.6 26.2,74.4 28.3,73.2 30.4,72.1 32.5,71 34.6,69.8 36.6,68.6 38.7,67.5 40.8,66.3 42.9,65.1 45,63.9 47.1,62.7 49.2,61.3 51.3,59.9 53.4,58.5 55.5,57 57.5,55.4 59.6,53.7 61.7,51.9 63.8,49.9 65.9,47.7 68,45.1 70.1,42.3 72.2,39.3 74.3,36.2 76.4,33.1 78.4,30.1 80.5,26.7 82.6,22.9 84.7,19 86.8,15.1 88.9,11.7 91,9.1 93.1,7.4 95.2,6.4 97.3,5.5 99.3,4.8 101.4,4.2 103.5,3.6 105.6,3.2 107.7,2.8 109.8,2.4 111.9,2.1 114,1.7 116.1,1.5 118.2,1.2 120.2,1 122.3,0.9" fill="none" stroke="#000" stroke-width="8.2" stroke-linejoin="round" stroke-linecap="round"/><use href="#t"/><use href="#Fr"/></g>
<g transform="translate(1702.2,1051.8)"><g clip-path="url(#c)"><path d="M5.3,84 9.5,84 13.7,84 17.8,80.3 22,76.3 26.2,72.8 30.4,69.8 34.6,68.1 38.7,66.4 42.9,64.2 47.1,61.5 51.3,58.4 55.5,54.9 59.6,51.2 63.8,46.9 68,42.1 72.2,35.9 76.4,26.2 80.5,15.9 84.7,9.1 88.9,6.9 93.1,5.3 97.3,4.3 101.4,3.5 105.6,2.7 109.8,2.2 114,1.9 118.2,1.9 122.3,1.9 122.3,2.1 118.2,2.6 114,3.3 109.8,4.1 105.6,5.1 101.4,6.5 97.3,8.4 93.1,13.8 88.9,23.6 84.7,33.9 80.5,40.8 76.4,45.8 72.2,50.2 68,54.1 63.8,57.6 59.6,60.8 55.5,63.6 51.3,65.9 47.1,67.7 42.9,69.4 38.7,71.2 34.6,73.4 30.4,75.9 26.2,77.9 22,80 17.8,82.2 13.7,84 9.5,84 5.3,84Z" fill="#93bcdc"/><path d="M5.3,84 9.5,84 13.7,84 17.8,80.3 22,76.3 26.2,72.8 30.4,69.8 34.6,68.1 38.7,66.4 42.9,64.2 47.1,61.5 51.3,58.4 55.5,54.9 59.6,51.2 63.8,46.9 68,42.1 72.2,35.9 76.4,26.2 80.5,15.9 84.7,9.1 88.9,6.9 93.1,5.3 97.3,4.3 101.4,3.5 105.6,2.7 109.8,2.2 114,1.9 118.2,1.9 122.3,1.9M5.3,84 9.5,84 13.7,84 17.8,82.2 22,80 26.2,77.9 30.4,75.9 34.6,73.4 38.7,71.2 42.9,69.4 47.1,67.7 51.3,65.9 55.5,63.6 59.6,60.8 63.8,57.6 68,54.1 72.2,50.2 76.4,45.8 80.5,40.8 84.7,33.9 88.9,23.6 93.1,13.8 97.3,8.4 101.4,6.5 105.6,5.1 109.8,4.1 114,3.3 118.2,2.6 122.3,2.1" fill="none" stroke="#5a9ccd" stroke-width="2"/><path d="M5.3,84 9.5,84 13.7,84 17.8,80.7 22,77 26.2,73.7 30.4,70.9 34.6,69 38.7,67.3 42.9,65.2 47.1,62.8 51.3,59.9 55.5,56.7 59.6,53.1 63.8,49 68,44.4 72.2,38.8 76.4,30.5 80.5,21.2 84.7,13.5 88.9,9 93.1,6.3 97.3,4.9 101.4,3.9 105.6,3.1 109.8,2.5 114,2.1 118.2,1.9 122.3,1.9 122.3,2 118.2,2.5 114,3.1 109.8,3.9 105.6,4.8 101.4,6.1 97.3,7.9 93.1,12.3 88.9,21.1 84.7,31.3 80.5,39.1 76.4,44.6 72.2,49.1 68,53.1 63.8,56.7 59.6,60 55.5,62.9 51.3,65.3 47.1,67.3 42.9,69 38.7,70.7 34.6,72.8 30.4,75.2 26.2,77.4 22,79.6 17.8,82 13.7,84 9.5,84 5.3,84Z" fill="#f4cca4" stroke="#c4aa90" stroke-width="1.4"/><path d="M5.3,84 9.5,84 13.7,84 17.8,81.1 22,77.8 26.2,74.8 30.4,72.1 34.6,70.1 38.7,68.3 42.9,66.4 47.1,64.3 51.3,61.7 55.5,58.7 59.6,55.2 63.8,51.5 68,47.2 72.2,42.2 76.4,35.3 80.5,27.3 84.7,18.5 88.9,11.5 93.1,7.4 97.3,5.7 101.4,4.5 105.6,3.6 109.8,2.9 114,2.3 118.2,2 122.3,1.9 122.3,2 118.2,2.3 114,2.9 109.8,3.6 105.6,4.5 101.4,5.7 97.3,7.3 93.1,10.7 88.9,18.2 84.7,28.4 80.5,37.1 76.4,43.1 72.2,47.8 68,52 63.8,55.7 59.6,59.1 55.5,62.1 51.3,64.7 47.1,66.8 42.9,68.5 38.7,70.2 34.6,72.2 30.4,74.5 26.2,76.8 22,79.2 17.8,81.8 13.7,84 9.5,84 5.3,84Z" fill="#d3e7ec"/></g><use href="#v8"/><use href="#h3"/><use href="#Mr"/><path clip-path="url(#c)" d="M5.3,84 7.4,84 9.5,84 11.6,84 13.7,84 15.8,83.2 17.8,81.6 19.9,80 22,78.7 24.1,77.4 26.2,76.1 28.3,74.9 30.4,73.6 32.5,72.5 34.6,71.4 36.6,70.4 38.7,69.5 40.8,68.7 42.9,67.9 45,67 47.1,66.1 49.2,65.1 51.3,63.9 53.4,62.5 55.5,61.1 57.5,59.6 59.6,57.9 61.7,56.2 63.8,54.4 65.9,52.6 68,50.6 70.1,48.5 72.2,46.3 74.3,43.9 76.4,41.3 78.4,38.5 80.5,34.8 82.6,30 84.7,24.7 86.8,19.4 88.9,14.6 91,10.9 93.1,8.7 95.2,7.6 97.3,6.6 99.3,5.8 101.4,5.2 103.5,4.6 105.6,4.1 107.7,3.7 109.8,3.4 111.9,3 114,2.7 116.1,2.4 118.2,2.1 120.2,2 122.3,1.9" fill="none" stroke="#000" stroke-width="8.2" stroke-linejoin="round" stroke-linecap="round"/><use href="#t"/><use href="#Fr"/></g>
<g transform="translate(1881.6,1051.8)"><g clip-path="url(#c)"><path d="M5.3,84 9.5,84 13.7,84 15.8,84 17.8,81.4 22,76.4 26.2,72.9 30.4,69.6 34.6,67.2 38.7,65.4 42.9,63.9 47.1,62.2 51.3,60 55.5,56 59.6,49.9 63.8,42.7 68,35.2 72.2,25.1 76.4,15.2 80.5,8.9 84.7,6.8 88.9,5.3 93.1,4.2 97.3,3.4 101.4,2.7 105.6,2.2 109.8,1.9 114,1.9 118.2,1.9 122.3,1.9 122.3,4.8 118.2,6.1 114,8 109.8,12 105.6,20.9 101.4,31.4 97.3,39.8 93.1,47.1 88.9,53.8 84.7,58.7 80.5,61.4 76.4,63.2 72.2,64.7 68,66.4 63.8,68.2 59.6,70 55.5,71.9 51.3,73.8 47.1,75.7 42.9,77.8 38.7,80.7 34.6,84 30.4,82.8 26.2,81.1 22,80.6 17.8,82.6 15.8,84 13.7,84 9.5,84 5.3,84Z" fill="#93bcdc"/><path d="M5.3,84 9.5,84 13.7,84 15.8,84 17.8,81.4 22,76.4 26.2,72.9 30.4,69.6 34.6,67.2 38.7,65.4 42.9,63.9 47.1,62.2 51.3,60 55.5,56 59.6,49.9 63.8,42.7 68,35.2 72.2,25.1 76.4,15.2 80.5,8.9 84.7,6.8 88.9,5.3 93.1,4.2 97.3,3.4 101.4,2.7 105.6,2.2 109.8,1.9 114,1.9 118.2,1.9 122.3,1.9M5.3,84 9.5,84 13.7,84 15.8,84 17.8,82.6 22,80.6 26.2,81.1 30.4,82.8 34.6,84 38.7,80.7 42.9,77.8 47.1,75.7 51.3,73.8 55.5,71.9 59.6,70 63.8,68.2 68,66.4 72.2,64.7 76.4,63.2 80.5,61.4 84.7,58.7 88.9,53.8 93.1,47.1 97.3,39.8 101.4,31.4 105.6,20.9 109.8,12 114,8 118.2,6.1 122.3,4.8" fill="none" stroke="#5a9ccd" stroke-width="2"/><path d="M5.3,84 9.5,84 13.7,84 15.8,84 17.8,81.7 22,77 26.2,73.8 30.4,71 34.6,68.7 38.7,66.8 42.9,65.2 47.1,63.6 51.3,61.5 55.5,58.2 59.6,53.3 63.8,47.5 68,40.9 72.2,31.9 76.4,22.7 80.5,16.1 84.7,11.6 88.9,7.8 93.1,5.5 97.3,4.3 101.4,3.4 105.6,2.7 109.8,2.3 114,2.1 118.2,1.9 122.3,1.9 122.3,4 118.2,5 114,6.5 109.8,9.6 105.6,16.2 101.4,24 97.3,30.5 93.1,36.3 88.9,42.7 84.7,49 80.5,53.8 76.4,57.3 72.2,60.4 68,63.4 63.8,65.8 59.6,67.8 55.5,69.6 51.3,71.4 47.1,73.3 42.9,75.3 38.7,77.9 34.6,80.8 30.4,80.5 26.2,79.8 22,80.1 17.8,82.5 15.8,84 13.7,84 9.5,84 5.3,84Z" fill="#f4cca4" stroke="#c4aa90" stroke-width="1.4"/><path d="M5.3,84 9.5,84 13.7,84 15.8,84 17.8,82 22,77.7 26.2,75 30.4,72.5 34.6,70.4 38.7,68.5 42.9,66.8 47.1,65.1 51.3,63.2 55.5,60.7 59.6,57.2 63.8,53 68,47.5 72.2,39.7 76.4,31.4 80.5,24.3 84.7,17.3 88.9,10.8 93.1,6.9 97.3,5.4 101.4,4.2 105.6,3.4 109.8,2.8 114,2.3 118.2,2 122.3,1.9 122.3,3 118.2,3.7 114,4.8 109.8,6.8 105.6,10.8 101.4,15.5 97.3,19.8 93.1,23.9 88.9,30 84.7,37.8 80.5,45.1 76.4,50.4 72.2,55.4 68,59.8 63.8,63.1 59.6,65.2 55.5,67 51.3,68.6 47.1,70.4 42.9,72.4 38.7,74.6 34.6,77.1 30.4,77.7 26.2,78.2 22,79.4 17.8,82.4 15.8,84 13.7,84 9.5,84 5.3,84Z" fill="#d3e7ec"/></g><use href="#v9"/><use href="#h3"/><use href="#Mr"/><path clip-path="url(#c)" d="M5.3,84 7.4,84 9.5,84 11.6,84 13.7,84 15.8,84 17.8,82.4 19.9,80 22,78.6 24.1,77.4 26.2,76.3 28.3,75.3 30.4,74.4 32.5,73.5 34.6,72.5 36.6,71.5 38.7,70.6 40.8,69.7 42.9,68.8 45,67.9 47.1,67 49.2,66.1 51.3,65.2 53.4,64.5 55.5,63.7 57.5,62.9 59.6,62 61.7,61 63.8,59.7 65.9,58 68,55.5 70.1,52.6 72.2,49.3 74.3,45.7 76.4,42.1 78.4,38.5 80.5,34.3 82.6,29.4 84.7,24.2 86.8,19 88.9,14.4 91,10.8 93.1,8.7 95.2,7.6 97.3,6.6 99.3,5.8 101.4,5.2 103.5,4.6 105.6,4.1 107.7,3.7 109.8,3.4 111.9,3 114,2.7 116.1,2.4 118.2,2.1 120.2,2 122.3,1.9" fill="none" stroke="#000" stroke-width="8.2" stroke-linejoin="round" stroke-linecap="round"/><use href="#t"/><use href="#Fr"/></g>
<g transform="translate(2061,1051.8)"><g clip-path="url(#c)"><path d="M5.3,84 9.5,84 13.7,84 17.8,80.7 22,77.3 26.2,74.5 30.4,72.1 34.6,70.9 38.7,69.7 42.9,68.7 47.1,67.6 51.3,66 55.5,63.4 59.6,59.7 63.8,55.4 68,50.7 72.2,44.8 76.4,38.3 80.5,31.8 84.7,24.3 88.9,16.4 93.1,10.2 97.3,7.4 101.4,5.5 105.6,4.2 109.8,3.7 114,3.7 118.2,3.7 122.3,3.7 122.3,8.7 118.2,13.2 114,20.6 109.8,28.6 105.6,35.3 101.4,41.9 97.3,48.2 93.1,53.4 88.9,57.8 84.7,61.9 80.5,65 76.4,66.9 72.2,68.2 68,69.3 63.8,70.4 59.6,71.6 55.5,72.7 51.3,74 47.1,75.4 42.9,77.2 38.7,79.1 34.6,81 30.4,83.4 26.2,82.5 22,82 17.8,82.7 13.7,84 9.5,84 5.3,84Z" fill="#93bcdc"/><path d="M5.3,84 9.5,84 13.7,84 17.8,80.7 22,77.3 26.2,74.5 30.4,72.1 34.6,70.9 38.7,69.7 42.9,68.7 47.1,67.6 51.3,66 55.5,63.4 59.6,59.7 63.8,55.4 68,50.7 72.2,44.8 76.4,38.3 80.5,31.8 84.7,24.3 88.9,16.4 93.1,10.2 97.3,7.4 101.4,5.5 105.6,4.2 109.8,3.7 114,3.7 118.2,3.7 122.3,3.7M5.3,84 9.5,84 13.7,84 17.8,82.7 22,82 26.2,82.5 30.4,83.4 34.6,81 38.7,79.1 42.9,77.2 47.1,75.4 51.3,74 55.5,72.7 59.6,71.6 63.8,70.4 68,69.3 72.2,68.2 76.4,66.9 80.5,65 84.7,61.9 88.9,57.8 93.1,53.4 97.3,48.2 101.4,41.9 105.6,35.3 109.8,28.6 114,20.6 118.2,13.2 122.3,8.7" fill="none" stroke="#5a9ccd" stroke-width="2"/><path d="M5.3,84 9.5,84 13.7,84 17.8,81.1 22,78.1 26.2,75.5 30.4,73.3 34.6,72 38.7,70.7 42.9,69.7 47.1,68.5 51.3,67.1 55.5,64.9 59.6,62 63.8,58.4 68,54.3 72.2,49.1 76.4,43.2 80.5,37.2 84.7,30.1 88.9,22.6 93.1,16.4 97.3,12.3 101.4,8.6 105.6,5.9 109.8,4.8 114,4.3 118.2,3.9 122.3,3.7 122.3,7.3 118.2,10.7 114,16.4 109.8,22.7 105.6,28.4 101.4,34.9 97.3,41.6 93.1,47.4 88.9,52.5 84.7,57.2 80.5,61 76.4,63.8 72.2,65.9 68,67.7 63.8,69.2 59.6,70.4 55.5,71.6 51.3,72.8 47.1,74.2 42.9,75.8 38.7,77.5 34.6,79.2 30.4,81.4 26.2,81.3 22,81.5 17.8,82.5 13.7,84 9.5,84 5.3,84Z" fill="#f4cca4" stroke="#c4aa90" stroke-width="1.4"/><path d="M5.3,84 9.5,84 13.7,84 17.8,81.6 22,79 26.2,76.7 30.4,74.6 34.6,73.2 38.7,71.9 42.9,70.8 47.1,69.6 51.3,68.3 55.5,66.6 59.6,64.5 63.8,61.9 68,58.5 72.2,54 76.4,48.8 80.5,43.4 84.7,36.9 88.9,29.8 93.1,23.4 97.3,17.9 101.4,12.3 105.6,8 109.8,6 114,4.9 118.2,4 122.3,3.7 122.3,5.7 118.2,7.8 114,11.5 109.8,15.9 105.6,20.3 101.4,26.7 97.3,34 93.1,40.5 88.9,46.3 84.7,51.8 80.5,56.5 76.4,60.1 72.2,63.2 68,65.8 63.8,67.8 59.6,69.2 55.5,70.3 51.3,71.4 47.1,72.7 42.9,74.1 38.7,75.6 34.6,77.2 30.4,79.1 26.2,79.9 22,80.8 17.8,82.4 13.7,84 9.5,84 5.3,84Z" fill="#d3e7ec"/></g><use href="#v10"/><use href="#h3"/><use href="#Mr"/><path clip-path="url(#c)" d="M5.3,84 7.4,84 9.5,84 11.6,84 13.7,84 15.8,83.4 17.8,82.2 19.9,81 22,80 24.1,79.1 26.2,78.1 28.3,77.2 30.4,76.3 32.5,75.4 34.6,74.7 36.6,74 38.7,73.3 40.8,72.7 42.9,72.1 45,71.6 47.1,71 49.2,70.4 51.3,69.8 53.4,69.3 55.5,68.8 57.5,68.2 59.6,67.6 61.7,66.9 63.8,66.1 65.9,65 68,63.6 70.1,61.9 72.2,59.9 74.3,57.8 76.4,55.6 78.4,53.4 80.5,50.9 82.6,48.2 84.7,45.1 86.8,41.9 88.9,38.6 91,35.3 93.1,32.1 95.2,28.6 97.3,24.7 99.3,20.6 101.4,16.7 103.5,13.2 105.6,10.4 107.7,8.7 109.8,7.5 111.9,6.5 114,5.6 116.1,4.8 118.2,4.2 120.2,3.9 122.3,3.7" fill="none" stroke="#000" stroke-width="8.2" stroke-linejoin="round" stroke-linecap="round"/><use href="#t"/><use href="#Fr"/></g>
<g transform="translate(267.1,1169.8)"><g clip-path="url(#c)"><path d="M5.3,84 9.5,84 11.6,84 13.7,83.2 17.8,79.1 22,75.1 26.2,71.3 30.4,67.1 34.6,62.4 38.7,56.9 42.9,50.5 47.1,43.3 51.3,34.6 55.5,22.8 59.6,11.9 63.8,6.3 68,4.1 72.2,2.5 76.4,1.6 80.5,0 84.7,0 88.9,0 93.1,0 97.3,0 101.4,0 105.6,0 109.8,0 114,0 118.2,0 122.3,0 122.3,0.9 118.2,0.9 114,0.9 109.8,0.9 105.6,1 101.4,1.1 97.3,1.3 93.1,1.8 88.9,3 84.7,4.8 80.5,7.5 76.4,15.6 72.2,27.3 68,38.3 63.8,46 59.6,52.9 55.5,59 51.3,64.3 47.1,68.7 42.9,72.6 38.7,76.3 34.6,80.5 30.4,83.8 26.2,82.5 22,80.8 17.8,81.1 13.7,83.4 11.6,84 9.5,84 5.3,84Z" fill="#93bcdc"/><path d="M5.3,84 9.5,84 11.6,84 13.7,83.2 17.8,79.1 22,75.1 26.2,71.3 30.4,67.1 34.6,62.4 38.7,56.9 42.9,50.5 47.1,43.3 51.3,34.6 55.5,22.8 59.6,11.9 63.8,6.3 68,4.1 72.2,2.5 76.4,1.6 80.5,0 84.7,0 88.9,0 93.1,0 97.3,0 101.4,0 105.6,0 109.8,0 114,0 118.2,0 122.3,0M5.3,84 9.5,84 11.6,84 13.7,83.4 17.8,81.1 22,80.8 26.2,82.5 30.4,83.8 34.6,80.5 38.7,76.3 42.9,72.6 47.1,68.7 51.3,64.3 55.5,59 59.6,52.9 63.8,46 68,38.3 72.2,27.3 76.4,15.6 80.5,7.5 84.7,4.8 88.9,3 93.1,1.8 97.3,1.3 101.4,1.1 105.6,1 109.8,0.9 114,0.9 118.2,0.9 122.3,0.9" fill="none" stroke="#5a9ccd" stroke-width="2"/><path d="M5.3,84 9.5,84 11.6,84 13.7,83.3 17.8,79.1 22,75.2 26.2,71.4 30.4,67.3 34.6,62.6 38.7,57.1 42.9,50.7 47.1,43.5 51.3,34.9 55.5,23.2 59.6,12.2 63.8,6.3 68,4.1 72.2,2.5 76.4,1.6 80.5,0.4 84.7,0.3 88.9,0.3 93.1,0.3 97.3,0.3 101.4,0.3 105.6,0.3 109.8,0.3 114,0.3 118.2,0.3 122.3,0.3 122.3,0.9 118.2,0.9 114,0.9 109.8,0.9 105.6,1 101.4,1.1 97.3,1.2 93.1,1.6 88.9,2.4 84.7,3.8 80.5,5.7 76.4,11.7 72.2,20.4 68,28.7 63.8,35 59.6,41.7 55.5,49.3 51.3,56.3 47.1,61.8 42.9,66.6 38.7,71 34.6,75.6 30.4,79.3 26.2,79.4 22,79.2 17.8,80.6 13.7,83.3 11.6,84 9.5,84 5.3,84Z" fill="#f4cca4" stroke="#c4aa90" stroke-width="1.4"/><path d="M5.3,84 9.5,84 11.6,84 13.7,83.3 17.8,79.2 22,75.3 26.2,71.5 30.4,67.4 34.6,62.8 38.7,57.3 42.9,50.9 47.1,43.8 51.3,35.3 55.5,23.6 59.6,12.5 63.8,6.4 68,4.2 72.2,2.5 76.4,1.6 80.5,0.8 84.7,0.7 88.9,0.6 93.1,0.6 97.3,0.6 101.4,0.6 105.6,0.6 109.8,0.6 114,0.6 118.2,0.6 122.3,0.6 122.3,0.9 118.2,0.9 114,0.9 109.8,0.9 105.6,1 101.4,1 97.3,1.1 93.1,1.3 88.9,1.8 84.7,2.6 80.5,3.7 76.4,7.1 72.2,12.4 68,17.7 63.8,22.2 59.6,28.8 55.5,38 51.3,47 47.1,53.8 42.9,59.7 38.7,65 34.6,69.9 30.4,74 26.2,75.9 22,77.5 17.8,80 13.7,83.3 11.6,84 9.5,84 5.3,84Z" fill="#d3e7ec"/></g><use href="#v0"/><use href="#h1"/><use href="#Mr"/><path clip-path="url(#c)" d="M5.3,84 7.4,84 9.5,84 11.6,84 13.7,83.3 15.8,81.5 17.8,79.3 19.9,77.2 22,75.4 24.1,73.5 26.2,71.6 28.3,69.7 30.4,67.6 32.5,65.4 34.6,63 36.6,60.4 38.7,57.5 40.8,54.5 42.9,51.2 45,47.8 47.1,44.1 49.2,40.3 51.3,35.8 53.4,30.2 55.5,24.2 57.5,18.2 59.6,12.9 61.7,8.9 63.8,6.5 65.9,5.3 68,4.3 70.1,3.4 72.2,2.6 74.3,2 76.4,1.6 78.4,1.4 80.5,1.3 82.6,1.2 84.7,1.1 86.8,1 88.9,1 91,0.9 93.1,0.9 95.2,0.9 97.3,0.9 99.3,0.9 101.4,0.9 103.5,0.9 105.6,0.9 107.7,0.9 109.8,0.9 111.9,0.9 114,0.9 116.1,0.9 118.2,0.9 120.2,0.9 122.3,0.9" fill="none" stroke="#000" stroke-width="8.2" stroke-linejoin="round" stroke-linecap="round"/><use href="#t"/><use href="#Fr"/></g>
<g transform="translate(446.5,1169.8)"><g clip-path="url(#c)"><path d="M5.3,84 9.5,84 13.7,84 17.8,78.1 22,71.9 26.2,65.2 30.4,56.9 34.6,51.6 38.7,46.3 42.9,40.8 47.1,34.9 51.3,28.2 55.5,19.5 59.6,11.2 63.8,6.3 68,4.2 72.2,2.6 76.4,1.6 80.5,0 84.7,0 88.9,0 93.1,0 97.3,0 101.4,0 105.6,0 109.8,0 114,0 118.2,0 122.3,0 122.3,1.9 118.2,3.1 114,4.9 109.8,7.6 105.6,14.1 101.4,22.9 97.3,31.1 93.1,37.2 88.9,43 84.7,48.4 80.5,53.6 76.4,59 72.2,64 68,68.3 63.8,71.5 59.6,74.1 55.5,76.7 51.3,80.1 47.1,83.9 42.9,84 38.7,84 34.6,84 30.4,84 26.2,81.6 22,80.5 17.8,81.5 13.7,84 9.5,84 5.3,84Z" fill="#93bcdc"/><path d="M5.3,84 9.5,84 13.7,84 17.8,78.1 22,71.9 26.2,65.2 30.4,56.9 34.6,51.6 38.7,46.3 42.9,40.8 47.1,34.9 51.3,28.2 55.5,19.5 59.6,11.2 63.8,6.3 68,4.2 72.2,2.6 76.4,1.6 80.5,0 84.7,0 88.9,0 93.1,0 97.3,0 101.4,0 105.6,0 109.8,0 114,0 118.2,0 122.3,0M5.3,84 9.5,84 13.7,84 17.8,81.5 22,80.5 26.2,81.6 30.4,84 34.6,84 38.7,84 42.9,84 47.1,83.9 51.3,80.1 55.5,76.7 59.6,74.1 63.8,71.5 68,68.3 72.2,64 76.4,59 80.5,53.6 84.7,48.4 88.9,43 93.1,37.2 97.3,31.1 101.4,22.9 105.6,14.1 109.8,7.6 114,4.9 118.2,3.1 122.3,1.9" fill="none" stroke="#5a9ccd" stroke-width="2"/><path d="M5.3,84 9.5,84 13.7,84 17.8,78.8 22,73.4 26.2,67.8 30.4,61.1 34.6,56.4 38.7,51.4 42.9,46.1 47.1,40.4 51.3,34 55.5,26.2 59.6,18.7 63.8,13.4 68,9.7 72.2,6.1 76.4,3.4 80.5,1.4 84.7,0.9 88.9,0.6 93.1,0.4 97.3,0.3 101.4,0.3 105.6,0.3 109.8,0.3 114,0.3 118.2,0.3 122.3,0.3 122.3,1.6 118.2,2.5 114,3.8 109.8,5.7 105.6,10.4 101.4,16.8 97.3,22.7 93.1,27.2 88.9,31.5 84.7,35.7 80.5,40.1 76.4,44.7 72.2,50.3 68,55.9 63.8,60.4 59.6,64 55.5,67.5 51.3,71.4 47.1,75.6 42.9,77.2 38.7,78.6 34.6,79.7 30.4,80.6 26.2,79.6 22,79.6 17.8,81.3 13.7,84 9.5,84 5.3,84Z" fill="#f4cca4" stroke="#c4aa90" stroke-width="1.4"/><path d="M5.3,84 9.5,84 13.7,84 17.8,79.7 22,75 26.2,70.8 30.4,65.9 34.6,61.9 38.7,57.3 42.9,52.2 47.1,46.6 51.3,40.8 55.5,34.1 59.6,27.4 63.8,21.7 68,16.1 72.2,10.2 76.4,5.6 80.5,3.1 84.7,2 88.9,1.2 93.1,0.8 97.3,0.7 101.4,0.6 105.6,0.6 109.8,0.6 114,0.6 118.2,0.6 122.3,0.6 122.3,1.3 118.2,1.8 114,2.5 109.8,3.6 105.6,6.2 101.4,9.7 97.3,13 93.1,15.6 88.9,18.2 84.7,21.1 80.5,24.3 76.4,28.3 72.2,34.5 68,41.5 63.8,47.5 59.6,52.3 55.5,56.7 51.3,61.3 47.1,66 42.9,69.3 38.7,72.3 34.6,74.8 30.4,76.6 26.2,77.3 22,78.4 17.8,81 13.7,84 9.5,84 5.3,84Z" fill="#d3e7ec"/></g><use href="#v1"/><use href="#h1"/><use href="#Mr"/><path clip-path="url(#c)" d="M5.3,84 7.4,84 9.5,84 11.6,84 13.7,84 15.8,83 17.8,80.7 19.9,78.6 22,77.1 24.1,75.7 26.2,74.4 28.3,73.2 30.4,71.8 32.5,70.4 34.6,68.7 36.6,66.8 38.7,64.5 40.8,62.1 42.9,59.6 45,56.9 47.1,54.3 49.2,51.6 51.3,49 53.4,46.3 55.5,43.6 57.5,40.8 59.6,37.9 61.7,34.9 63.8,31.8 65.9,28.2 68,24 70.1,19.5 72.2,15.1 74.3,11.2 76.4,8.1 78.4,6.3 80.5,5.1 82.6,4.2 84.7,3.3 86.8,2.6 88.9,2 91,1.6 93.1,1.4 95.2,1.3 97.3,1.2 99.3,1.1 101.4,1 103.5,1 105.6,0.9 107.7,0.9 109.8,0.9 111.9,0.9 114,0.9 116.1,0.9 118.2,0.9 120.2,0.9 122.3,0.9" fill="none" stroke="#000" stroke-width="8.2" stroke-linejoin="round" stroke-linecap="round"/><use href="#t"/><use href="#Fr"/></g>
<g transform="translate(625.9,1169.8)"><g clip-path="url(#c)"><path d="M5.3,84 9.5,84 13.7,84 17.8,77 22,70.6 26.2,64.9 30.4,58.7 34.6,54.5 38.7,49.7 42.9,44.1 47.1,37.9 51.3,30.7 55.5,21.1 59.6,11.7 63.8,6.3 68,4.1 72.2,2.6 76.4,1.6 80.5,0 84.7,0 88.9,0 93.1,0 97.3,0 101.4,0 105.6,0 109.8,0 114,0 118.2,0 122.3,0 122.3,1 118.2,1 114,1.2 109.8,1.4 105.6,2.2 101.4,3.5 97.3,5.5 93.1,9.2 88.9,17.7 84.7,27.6 80.5,35.7 76.4,42 72.2,47.8 68,52.9 63.8,57.3 59.6,61.1 55.5,64.6 51.3,67.8 47.1,70.6 42.9,73.1 38.7,76 34.6,80.7 30.4,84 26.2,81.2 22,79.8 17.8,80.8 13.7,84 9.5,84 5.3,84Z" fill="#93bcdc"/><path d="M5.3,84 9.5,84 13.7,84 17.8,77 22,70.6 26.2,64.9 30.4,58.7 34.6,54.5 38.7,49.7 42.9,44.1 47.1,37.9 51.3,30.7 55.5,21.1 59.6,11.7 63.8,6.3 68,4.1 72.2,2.6 76.4,1.6 80.5,0 84.7,0 88.9,0 93.1,0 97.3,0 101.4,0 105.6,0 109.8,0 114,0 118.2,0 122.3,0M5.3,84 9.5,84 13.7,84 17.8,80.8 22,79.8 26.2,81.2 30.4,84 34.6,80.7 38.7,76 42.9,73.1 47.1,70.6 51.3,67.8 55.5,64.6 59.6,61.1 63.8,57.3 68,52.9 72.2,47.8 76.4,42 80.5,35.7 84.7,27.6 88.9,17.7 93.1,9.2 97.3,5.5 101.4,3.5 105.6,2.2 109.8,1.4 114,1.2 118.2,1 122.3,1" fill="none" stroke="#5a9ccd" stroke-width="2"/><path d="M5.3,84 9.5,84 13.7,84 17.8,77.8 22,72 26.2,67.1 30.4,61.9 34.6,58.1 38.7,53.7 42.9,48.7 47.1,43.2 51.3,36.7 55.5,28.3 59.6,19.9 63.8,14.2 68,10.3 72.2,6.4 76.4,3.5 80.5,1.4 84.7,0.9 88.9,0.6 93.1,0.4 97.3,0.3 101.4,0.3 105.6,0.3 109.8,0.3 114,0.3 118.2,0.3 122.3,0.3 122.3,0.9 118.2,1 114,1.1 109.8,1.3 105.6,1.8 101.4,2.8 97.3,4.3 93.1,7.1 88.9,13.3 84.7,20.8 80.5,27.1 76.4,32.6 72.2,39 68,45.4 63.8,51 59.6,55.5 55.5,59.6 51.3,63.4 47.1,66.7 42.9,69.6 38.7,72.7 34.6,77 30.4,80.1 26.2,78.8 22,78.6 17.8,80.5 13.7,84 9.5,84 5.3,84Z" fill="#f4cca4" stroke="#c4aa90" stroke-width="1.4"/><path d="M5.3,84 9.5,84 13.7,84 17.8,78.7 22,73.6 26.2,69.6 30.4,65.6 34.6,62.2 38.7,58.3 42.9,54 47.1,49.2 51.3,43.7 55.5,36.7 59.6,29.4 63.8,23.4 68,17.4 72.2,10.8 76.4,5.6 80.5,3.1 84.7,2 88.9,1.2 93.1,0.8 97.3,0.7 101.4,0.6 105.6,0.6 109.8,0.6 114,0.6 118.2,0.6 122.3,0.6 122.3,0.9 118.2,1 114,1 109.8,1.1 105.6,1.4 101.4,2 97.3,2.9 93.1,4.5 88.9,8.2 84.7,12.9 80.5,17.2 76.4,21.7 72.2,28.7 68,36.7 63.8,43.6 59.6,49 55.5,53.9 51.3,58.4 47.1,62.2 42.9,65.5 38.7,68.8 34.6,72.6 30.4,75.6 26.2,76.1 22,77.2 17.8,80.2 13.7,84 9.5,84 5.3,84Z" fill="#d3e7ec"/></g><use href="#v2"/><use href="#h1"/><use href="#Mr"/><path clip-path="url(#c)" d="M5.3,84 7.4,84 9.5,84 11.6,84 13.7,84 15.8,82.6 17.8,79.8 19.9,77.2 22,75.5 24.1,74 26.2,72.7 28.3,71.4 30.4,70.1 32.5,68.8 34.6,67.3 36.6,65.7 38.7,64 40.8,62.3 42.9,60.5 45,58.7 47.1,56.7 49.2,54.5 51.3,52.2 53.4,49.7 55.5,47 57.5,44.1 59.6,41.1 61.7,37.9 63.8,34.6 65.9,30.7 68,26.1 70.1,21.1 72.2,16.1 74.3,11.7 76.4,8.3 78.4,6.3 80.5,5.1 82.6,4.1 84.7,3.3 86.8,2.6 88.9,2 91,1.6 93.1,1.4 95.2,1.3 97.3,1.2 99.3,1.1 101.4,1 103.5,1 105.6,0.9 107.7,0.9 109.8,0.9 111.9,0.9 114,0.9 116.1,0.9 118.2,0.9 120.2,0.9 122.3,0.9" fill="none" stroke="#000" stroke-width="8.2" stroke-linejoin="round" stroke-linecap="round"/><use href="#t"/><use href="#Fr"/></g>
<g transform="translate(805.3,1169.8)"><g clip-path="url(#c)"><path d="M5.3,84 9.5,84 13.7,84 17.8,79.4 22,74.4 26.2,69.4 30.4,63.9 34.6,60.2 38.7,56.1 42.9,51.5 47.1,46.1 51.3,39.4 55.5,29.4 59.6,19.1 63.8,11.9 68,7.6 72.2,4 76.4,1.8 80.5,0 84.7,0 88.9,0 93.1,0 97.3,0 101.4,0 105.6,0 109.8,0 114,0 118.2,0 122.3,0 122.3,1 118.2,1.2 114,1.4 109.8,2.9 105.6,6 101.4,10.1 97.3,15.6 93.1,25 88.9,35.5 84.7,43.6 80.5,49.4 76.4,54.3 72.2,58.6 68,62.4 63.8,65.8 59.6,68.9 55.5,71.7 51.3,74.3 47.1,76.6 42.9,78.9 38.7,81.9 34.6,84 30.4,84 26.2,82.1 22,81.4 17.8,82.2 13.7,84 9.5,84 5.3,84Z" fill="#93bcdc"/><path d="M5.3,84 9.5,84 13.7,84 17.8,79.4 22,74.4 26.2,69.4 30.4,63.9 34.6,60.2 38.7,56.1 42.9,51.5 47.1,46.1 51.3,39.4 55.5,29.4 59.6,19.1 63.8,11.9 68,7.6 72.2,4 76.4,1.8 80.5,0 84.7,0 88.9,0 93.1,0 97.3,0 101.4,0 105.6,0 109.8,0 114,0 118.2,0 122.3,0M5.3,84 9.5,84 13.7,84 17.8,82.2 22,81.4 26.2,82.1 30.4,84 34.6,84 38.7,81.9 42.9,78.9 47.1,76.6 51.3,74.3 55.5,71.7 59.6,68.9 63.8,65.8 68,62.4 72.2,58.6 76.4,54.3 80.5,49.4 84.7,43.6 88.9,35.5 93.1,25 97.3,15.6 101.4,10.1 105.6,6 109.8,2.9 114,1.4 118.2,1.2 122.3,1" fill="none" stroke="#5a9ccd" stroke-width="2"/><path d="M5.3,84 9.5,84 13.7,84 17.8,80 22,75.6 26.2,71.4 30.4,66.7 34.6,63.4 38.7,59.6 42.9,55.4 47.1,50.6 51.3,44.6 55.5,36.3 59.6,27.5 63.8,20.7 68,15.2 72.2,9.6 76.4,5.5 80.5,2.7 84.7,1.6 88.9,0.8 93.1,0.4 97.3,0.3 101.4,0.3 105.6,0.3 109.8,0.3 114,0.3 118.2,0.3 122.3,0.3 122.3,1 118.2,1.1 114,1.3 109.8,2.3 105.6,4.6 101.4,7.6 97.3,11.5 93.1,18.4 88.9,26.3 84.7,33 80.5,38.3 76.4,43.3 72.2,48.9 68,54.6 63.8,59.4 59.6,63.3 55.5,66.7 51.3,69.8 47.1,72.5 42.9,75.2 38.7,78.2 34.6,80.5 30.4,81.2 26.2,80.5 22,80.6 17.8,82 13.7,84 9.5,84 5.3,84Z" fill="#f4cca4" stroke="#c4aa90" stroke-width="1.4"/><path d="M5.3,84 9.5,84 13.7,84 17.8,80.7 22,77 26.2,73.6 30.4,70 34.6,67 38.7,63.7 42.9,60 47.1,55.8 51.3,50.7 55.5,44.2 59.6,37.1 63.8,30.8 68,23.9 72.2,16.2 76.4,9.7 80.5,5.9 84.7,3.4 88.9,1.6 93.1,0.8 97.3,0.7 101.4,0.6 105.6,0.6 109.8,0.6 114,0.6 118.2,0.6 122.3,0.6 122.3,1 118.2,1 114,1.1 109.8,1.7 105.6,2.9 101.4,4.6 97.3,6.9 93.1,10.7 88.9,15.7 84.7,20.7 80.5,25.4 76.4,30.5 72.2,37.7 68,45.6 63.8,52.1 59.6,56.8 55.5,61 51.3,64.6 47.1,67.8 42.9,70.8 38.7,73.9 34.6,76.4 30.4,78 26.2,78.7 22,79.8 17.8,81.8 13.7,84 9.5,84 5.3,84Z" fill="#d3e7ec"/></g><use href="#v3"/><use href="#h1"/><use href="#Mr"/><path clip-path="url(#c)" d="M5.3,84 7.4,84 9.5,84 11.6,84 13.7,84 15.8,83.2 17.8,81.6 19.9,80 22,78.7 24.1,77.6 26.2,76.4 28.3,75.3 30.4,74.1 32.5,72.8 34.6,71.5 36.6,70.1 38.7,68.6 40.8,67.1 42.9,65.5 45,63.9 47.1,62.1 49.2,60.2 51.3,58.2 53.4,56.1 55.5,53.9 57.5,51.5 59.6,48.9 61.7,46.1 63.8,43.1 65.9,39.4 68,34.6 70.1,29.4 72.2,24.1 74.3,19.1 76.4,14.9 78.4,11.9 80.5,9.7 82.6,7.6 84.7,5.7 86.8,4 88.9,2.7 91,1.8 93.1,1.4 95.2,1.3 97.3,1.2 99.3,1.1 101.4,1 103.5,1 105.6,0.9 107.7,0.9 109.8,0.9 111.9,0.9 114,0.9 116.1,0.9 118.2,0.9 120.2,0.9 122.3,0.9" fill="none" stroke="#000" stroke-width="8.2" stroke-linejoin="round" stroke-linecap="round"/><use href="#t"/><use href="#Fr"/></g>
<g transform="translate(984.7,1169.8)"><g clip-path="url(#c)"><path d="M5.3,84 9.5,84 11.6,84 13.7,82.6 17.8,78.2 22,74.7 26.2,71.6 30.4,69.2 34.6,67.3 38.7,65.2 42.9,62.5 47.1,59.3 51.3,55.4 55.5,50.5 59.6,42.2 63.8,31.8 68,22.6 72.2,16.1 76.4,10.2 80.5,5.7 84.7,3.5 88.9,2.4 93.1,1.6 97.3,0 101.4,0 105.6,0 109.8,0 114,0 118.2,0 122.3,0 122.3,1 118.2,1 114,1.1 109.8,1.3 105.6,1.9 101.4,2.8 97.3,4.2 93.1,7.5 88.9,12.8 84.7,18.9 80.5,26.4 76.4,36.6 72.2,46.4 68,52.9 63.8,57.3 59.6,60.8 55.5,63.8 51.3,66.2 47.1,68.2 42.9,70.1 38.7,72 34.6,74 30.4,75.9 26.2,77.7 22,79.7 17.8,81.5 13.7,83.5 11.6,84 9.5,84 5.3,84Z" fill="#93bcdc"/><path d="M5.3,84 9.5,84 11.6,84 13.7,82.6 17.8,78.2 22,74.7 26.2,71.6 30.4,69.2 34.6,67.3 38.7,65.2 42.9,62.5 47.1,59.3 51.3,55.4 55.5,50.5 59.6,42.2 63.8,31.8 68,22.6 72.2,16.1 76.4,10.2 80.5,5.7 84.7,3.5 88.9,2.4 93.1,1.6 97.3,0 101.4,0 105.6,0 109.8,0 114,0 118.2,0 122.3,0M5.3,84 9.5,84 11.6,84 13.7,83.5 17.8,81.5 22,79.7 26.2,77.7 30.4,75.9 34.6,74 38.7,72 42.9,70.1 47.1,68.2 51.3,66.2 55.5,63.8 59.6,60.8 63.8,57.3 68,52.9 72.2,46.4 76.4,36.6 80.5,26.4 84.7,18.9 88.9,12.8 93.1,7.5 97.3,4.2 101.4,2.8 105.6,1.9 109.8,1.3 114,1.1 118.2,1 122.3,1" fill="none" stroke="#5a9ccd" stroke-width="2"/><path d="M5.3,84 9.5,84 11.6,84 13.7,82.8 17.8,78.7 22,75.5 26.2,72.7 30.4,70.4 34.6,68.5 38.7,66.4 42.9,64 47.1,61.1 51.3,57.6 55.5,53.2 59.6,46.1 63.8,37.4 68,28.6 72.2,21.1 76.4,14.1 80.5,9 84.7,5.7 88.9,3.5 93.1,2.2 97.3,0.7 101.4,0.5 105.6,0.3 109.8,0.3 114,0.3 118.2,0.3 122.3,0.3 122.3,1 118.2,1 114,1.1 109.8,1.2 105.6,1.7 101.4,2.5 97.3,3.7 93.1,6.5 88.9,11 84.7,16.8 80.5,23.9 76.4,33.1 72.2,42.9 68,50.4 63.8,55.7 59.6,59.6 55.5,62.7 51.3,65.3 47.1,67.5 42.9,69.4 38.7,71.3 34.6,73.3 30.4,75.2 26.2,77.1 22,79.1 17.8,81.1 13.7,83.4 11.6,84 9.5,84 5.3,84Z" fill="#f4cca4" stroke="#c4aa90" stroke-width="1.4"/><path d="M5.3,84 9.5,84 11.6,84 13.7,83.1 17.8,79.3 22,76.4 26.2,73.9 30.4,71.8 34.6,69.9 38.7,67.8 42.9,65.7 47.1,63.1 51.3,60 55.5,56.2 59.6,50.7 63.8,43.8 68,35.5 72.2,26.8 76.4,18.6 80.5,12.7 84.7,8.2 88.9,4.8 93.1,2.9 97.3,1.6 101.4,1 105.6,0.7 109.8,0.6 114,0.6 118.2,0.6 122.3,0.6 122.3,0.9 118.2,1 114,1 109.8,1.2 105.6,1.5 101.4,2.2 97.3,3.2 93.1,5.2 88.9,8.9 84.7,14.3 80.5,20.9 76.4,29.1 72.2,38.8 68,47.6 63.8,53.9 59.6,58.1 55.5,61.5 51.3,64.3 47.1,66.7 42.9,68.7 38.7,70.5 34.6,72.5 30.4,74.4 26.2,76.3 22,78.3 17.8,80.6 13.7,83.4 11.6,84 9.5,84 5.3,84Z" fill="#d3e7ec"/></g><use href="#v4"/><use href="#h1"/><use href="#Mr"/><path clip-path="url(#c)" d="M5.3,84 7.4,84 9.5,84 11.6,84 13.7,83.4 15.8,81.9 17.8,80.1 19.9,78.6 22,77.5 24.1,76.4 26.2,75.4 28.3,74.4 30.4,73.5 32.5,72.5 34.6,71.5 36.6,70.5 38.7,69.6 40.8,68.7 42.9,67.7 45,66.7 47.1,65.6 49.2,64.4 51.3,63.1 53.4,61.6 55.5,60 57.5,58.2 59.6,56.3 61.7,54.1 63.8,51.6 65.9,48.4 68,44.1 70.1,39.1 72.2,33.9 74.3,28.7 76.4,24.1 78.4,20.4 80.5,17.3 82.6,14.2 84.7,11.3 86.8,8.7 88.9,6.4 91,4.8 93.1,3.7 95.2,3.1 97.3,2.6 99.3,2.1 101.4,1.7 103.5,1.4 105.6,1.2 107.7,1.1 109.8,1.1 111.9,1 114,1 116.1,1 118.2,1 120.2,0.9 122.3,0.9" fill="none" stroke="#000" stroke-width="8.2" stroke-linejoin="round" stroke-linecap="round"/><use href="#t"/><use href="#Fr"/></g>
<g transform="translate(1164,1169.8)"><g clip-path="url(#c)"><path d="M5.3,84 9.5,84 13.7,84 17.8,78.8 22,74.1 26.2,70 30.4,65.8 34.6,63 38.7,59.6 42.9,55.5 47.1,50.7 51.3,45.1 55.5,38.3 59.6,29.4 63.8,20.4 68,13.9 72.2,8.7 76.4,4.3 80.5,1.7 84.7,0 88.9,0 93.1,0 97.3,0 101.4,0 105.6,0 109.8,0 114,0 118.2,0 122.3,0 122.3,14 118.2,19.7 114,27.5 109.8,35.7 105.6,42.6 101.4,47.9 97.3,52.6 93.1,56.7 88.9,60.2 84.7,63.1 80.5,65.6 76.4,68 72.2,70.2 68,72.4 63.8,74.4 59.6,76.8 55.5,79.9 51.3,83.9 47.1,84 42.9,84 38.7,84 34.6,84 30.4,84 26.2,81.7 22,80.6 17.8,81.5 13.7,84 9.5,84 5.3,84Z" fill="#93bcdc"/><path d="M5.3,84 9.5,84 13.7,84 17.8,78.8 22,74.1 26.2,70 30.4,65.8 34.6,63 38.7,59.6 42.9,55.5 47.1,50.7 51.3,45.1 55.5,38.3 59.6,29.4 63.8,20.4 68,13.9 72.2,8.7 76.4,4.3 80.5,1.7 84.7,0 88.9,0 93.1,0 97.3,0 101.4,0 105.6,0 109.8,0 114,0 118.2,0 122.3,0M5.3,84 9.5,84 13.7,84 17.8,81.5 22,80.6 26.2,81.7 30.4,84 34.6,84 38.7,84 42.9,84 47.1,84 51.3,83.9 55.5,79.9 59.6,76.8 63.8,74.4 68,72.4 72.2,70.2 76.4,68 80.5,65.6 84.7,63.1 88.9,60.2 93.1,56.7 97.3,52.6 101.4,47.9 105.6,42.6 109.8,35.7 114,27.5 118.2,19.7 122.3,14" fill="none" stroke="#5a9ccd" stroke-width="2"/><path d="M5.3,84 9.5,84 13.7,84 17.8,79.3 22,74.9 26.2,71.3 30.4,67.7 34.6,65 38.7,61.8 42.9,58.1 47.1,53.8 51.3,48.8 55.5,42.7 59.6,34.8 63.8,26.8 68,19.9 72.2,13.6 76.4,8.1 80.5,4.6 84.7,2 88.9,0.9 93.1,0.4 97.3,0.3 101.4,0.3 105.6,0.3 109.8,0.3 114,0.3 118.2,0.3 122.3,0.3 122.3,10.3 118.2,14.5 114,20.1 109.8,26 105.6,31 101.4,34.8 97.3,38.2 93.1,41.2 88.9,44.2 84.7,47.4 80.5,50.7 76.4,53.9 72.2,57.9 68,62 63.8,65.6 59.6,69 55.5,72.6 51.3,76.7 47.1,77.8 42.9,78.6 38.7,79.4 34.6,80.1 30.4,80.8 26.2,79.7 22,79.6 17.8,81.3 13.7,84 9.5,84 5.3,84Z" fill="#f4cca4" stroke="#c4aa90" stroke-width="1.4"/><path d="M5.3,84 9.5,84 13.7,84 17.8,79.9 22,75.9 26.2,72.9 30.4,69.9 34.6,67.3 38.7,64.4 42.9,61.2 47.1,57.5 51.3,53.1 55.5,47.8 59.6,41.2 63.8,34.1 68,26.9 72.2,19.3 76.4,12.5 80.5,8 84.7,4.3 88.9,1.9 93.1,0.8 97.3,0.7 101.4,0.6 105.6,0.6 109.8,0.6 114,0.6 118.2,0.6 122.3,0.6 122.3,6.1 118.2,8.4 114,11.5 109.8,14.7 105.6,17.5 101.4,19.6 97.3,21.5 93.1,23.3 88.9,25.7 84.7,29.2 80.5,33.3 76.4,37.7 72.2,43.7 68,50.1 63.8,55.5 59.6,59.9 55.5,64.2 51.3,68.4 47.1,70.7 42.9,72.5 38.7,74.1 34.6,75.6 30.4,77.1 26.2,77.5 22,78.5 17.8,81 13.7,84 9.5,84 5.3,84Z" fill="#d3e7ec"/></g><use href="#v5"/><use href="#h1"/><use href="#Mr"/><path clip-path="url(#c)" d="M5.3,84 7.4,84 9.5,84 11.6,84 13.7,84 15.8,82.9 17.8,80.7 19.9,78.6 22,77.2 24.1,75.9 26.2,74.7 28.3,73.6 30.4,72.5 32.5,71.3 34.6,70.1 36.6,68.8 38.7,67.5 40.8,66.2 42.9,64.9 45,63.5 47.1,61.9 49.2,60.2 51.3,58.3 53.4,56.2 55.5,54 57.5,51.5 59.6,48.9 61.7,46.1 63.8,43.1 65.9,39.6 68,35.4 70.1,30.9 72.2,26.2 74.3,21.8 76.4,17.9 78.4,14.7 80.5,12.1 82.6,9.5 84.7,7 86.8,4.9 88.9,3.1 91,1.9 93.1,1.4 95.2,1.3 97.3,1.2 99.3,1.1 101.4,1 103.5,1 105.6,0.9 107.7,0.9 109.8,0.9 111.9,0.9 114,0.9 116.1,0.9 118.2,0.9 120.2,0.9 122.3,0.9" fill="none" stroke="#000" stroke-width="8.2" stroke-linejoin="round" stroke-linecap="round"/><use href="#t"/><use href="#Fr"/></g>
<g transform="translate(1343.4,1169.8)"><g clip-path="url(#c)"><path d="M5.3,84 9.5,84 13.7,84 17.8,77.2 22,71.7 26.2,68 30.4,64.9 34.6,63 38.7,60.2 42.9,56.3 47.1,51.6 51.3,45.2 55.5,34.6 59.6,23.1 63.8,14.7 68,9.4 72.2,4.8 76.4,1.9 80.5,0 84.7,0 88.9,0 93.1,0 97.3,0 101.4,0 105.6,0 109.8,0 114,0 118.2,0 122.3,0 122.3,1.4 118.2,3.1 114,6.9 109.8,12 105.6,18.3 101.4,28.7 97.3,40.3 93.1,48.8 88.9,54.1 84.7,58.4 80.5,61.7 76.4,64 72.2,65.7 68,67 63.8,68.7 59.6,70.7 55.5,72.9 51.3,75.6 47.1,79.7 42.9,84 38.7,84 34.6,84 30.4,84 26.2,81.2 22,79.8 17.8,80.8 13.7,84 9.5,84 5.3,84Z" fill="#93bcdc"/><path d="M5.3,84 9.5,84 13.7,84 17.8,77.2 22,71.7 26.2,68 30.4,64.9 34.6,63 38.7,60.2 42.9,56.3 47.1,51.6 51.3,45.2 55.5,34.6 59.6,23.1 63.8,14.7 68,9.4 72.2,4.8 76.4,1.9 80.5,0 84.7,0 88.9,0 93.1,0 97.3,0 101.4,0 105.6,0 109.8,0 114,0 118.2,0 122.3,0M5.3,84 9.5,84 13.7,84 17.8,80.8 22,79.8 26.2,81.2 30.4,84 34.6,84 38.7,84 42.9,84 47.1,79.7 51.3,75.6 55.5,72.9 59.6,70.7 63.8,68.7 68,67 72.2,65.7 76.4,64 80.5,61.7 84.7,58.4 88.9,54.1 93.1,48.8 97.3,40.3 101.4,28.7 105.6,18.3 109.8,12 114,6.9 118.2,3.1 122.3,1.4" fill="none" stroke="#5a9ccd" stroke-width="2"/><path d="M5.3,84 9.5,84 13.7,84 17.8,77.9 22,72.8 26.2,69.4 30.4,66.5 34.6,64.6 38.7,62.1 42.9,59 47.1,55.1 51.3,49.8 55.5,41.3 59.6,31.8 63.8,24.3 68,18 72.2,11.5 76.4,6.5 80.5,3.4 84.7,1.9 88.9,0.9 93.1,0.4 97.3,0.3 101.4,0.3 105.6,0.3 109.8,0.3 114,0.3 118.2,0.3 122.3,0.3 122.3,1.3 118.2,2.5 114,5.2 109.8,8.9 105.6,13.4 101.4,21 97.3,29.3 93.1,35.5 88.9,39.8 84.7,44 80.5,47.8 76.4,51.2 72.2,55.3 68,59.5 63.8,63.1 59.6,66 55.5,68.9 51.3,71.7 47.1,75.3 42.9,78.9 38.7,79.3 34.6,79.7 30.4,80.3 26.2,78.9 22,78.6 17.8,80.5 13.7,84 9.5,84 5.3,84Z" fill="#f4cca4" stroke="#c4aa90" stroke-width="1.4"/><path d="M5.3,84 9.5,84 13.7,84 17.8,78.7 22,74.1 26.2,71 30.4,68.4 34.6,66.4 38.7,64.3 42.9,62 47.1,59.1 51.3,55.2 55.5,49 59.6,41.8 63.8,35.3 68,28 72.2,19.2 76.4,11.8 80.5,7.3 84.7,4.2 88.9,1.8 93.1,0.8 97.3,0.7 101.4,0.6 105.6,0.6 109.8,0.6 114,0.6 118.2,0.6 122.3,0.6 122.3,1.1 118.2,1.8 114,3.3 109.8,5.3 105.6,7.8 101.4,12 97.3,16.7 93.1,20.2 88.9,23.3 84.7,27.3 80.5,31.7 76.4,36.4 72.2,43.4 68,50.9 63.8,56.7 59.6,60.7 55.5,64.1 51.3,67.2 47.1,70.2 42.9,72.9 38.7,73.8 34.6,74.8 30.4,76 26.2,76.2 22,77.3 17.8,80.1 13.7,84 9.5,84 5.3,84Z" fill="#d3e7ec"/></g><use href="#v6"/><use href="#h1"/><use href="#Mr"/><path clip-path="url(#c)" d="M5.3,84 7.4,84 9.5,84 11.6,84 13.7,84 15.8,82.6 17.8,79.7 19.9,77.2 22,75.6 24.1,74.2 26.2,72.9 28.3,71.8 30.4,70.7 32.5,69.7 34.6,68.7 36.6,67.8 38.7,67 40.8,66.4 42.9,65.7 45,64.9 47.1,64 49.2,63 51.3,61.7 53.4,60.2 55.5,58.4 57.5,56.3 59.6,54.1 61.7,51.6 63.8,48.8 65.9,45.2 68,40.3 70.1,34.6 72.2,28.7 74.3,23.1 76.4,18.3 78.4,14.7 80.5,12 82.6,9.4 84.7,6.9 86.8,4.8 88.9,3.1 91,1.9 93.1,1.4 95.2,1.3 97.3,1.2 99.3,1.1 101.4,1 103.5,1 105.6,0.9 107.7,0.9 109.8,0.9 111.9,0.9 114,0.9 116.1,0.9 118.2,0.9 120.2,0.9 122.3,0.9" fill="none" stroke="#000" stroke-width="8.2" stroke-linejoin="round" stroke-linecap="round"/><use href="#t"/><use href="#Fr"/></g>
<g transform="translate(1522.8,1169.8)"><g clip-path="url(#c)"><path d="M5.3,84 9.5,84 13.7,84 17.8,78.5 22,73.2 26.2,68.7 30.4,64.7 34.6,62.3 38.7,59.5 42.9,56.2 47.1,52.3 51.3,47.5 55.5,40.6 59.6,30.6 63.8,20.4 68,13.5 72.2,8.3 76.4,4 80.5,1.6 84.7,0 88.9,0 93.1,0 97.3,0 101.4,0 105.6,0 109.8,0 114,0 118.2,0 122.3,0 122.3,57.3 118.2,59.2 114,60.9 109.8,62.4 105.6,63.7 101.4,65 97.3,66.3 93.1,67.6 88.9,69 84.7,70.5 80.5,72 76.4,73.5 72.2,75.1 68,76.8 63.8,78.6 59.6,83 55.5,84 51.3,84 47.1,84 42.9,84 38.7,84 34.6,84 30.4,84 26.2,81.5 22,80.5 17.8,81.5 13.7,84 9.5,84 5.3,84Z" fill="#93bcdc"/><path d="M5.3,84 9.5,84 13.7,84 17.8,78.5 22,73.2 26.2,68.7 30.4,64.7 34.6,62.3 38.7,59.5 42.9,56.2 47.1,52.3 51.3,47.5 55.5,40.6 59.6,30.6 63.8,20.4 68,13.5 72.2,8.3 76.4,4 80.5,1.6 84.7,0 88.9,0 93.1,0 97.3,0 101.4,0 105.6,0 109.8,0 114,0 118.2,0 122.3,0M5.3,84 9.5,84 13.7,84 17.8,81.5 22,80.5 26.2,81.5 30.4,84 34.6,84 38.7,84 42.9,84 47.1,84 51.3,84 55.5,84 59.6,83 63.8,78.6 68,76.8 72.2,75.1 76.4,73.5 80.5,72 84.7,70.5 88.9,69 93.1,67.6 97.3,66.3 101.4,65 105.6,63.7 109.8,62.4 114,60.9 118.2,59.2 122.3,57.3" fill="none" stroke="#5a9ccd" stroke-width="2"/><path d="M5.3,84 9.5,84 13.7,84 17.8,79.2 22,74.3 26.2,70.2 30.4,66.5 34.6,64.1 38.7,61.4 42.9,58.4 47.1,54.9 51.3,50.6 55.5,44.7 59.6,36.3 63.8,27.6 68,20.4 72.2,13.7 76.4,7.9 80.5,4.5 84.7,2 88.9,0.9 93.1,0.4 97.3,0.3 101.4,0.3 105.6,0.3 109.8,0.3 114,0.3 118.2,0.3 122.3,0.3 122.3,17.8 118.2,18.4 114,18.9 109.8,19.4 105.6,19.8 101.4,20.2 97.3,20.7 93.1,21.2 88.9,22.9 84.7,26 80.5,30 76.4,34.7 72.2,41.9 68,49.7 63.8,55.8 59.6,60.6 55.5,63.8 51.3,66.2 47.1,68.3 42.9,70 38.7,71.6 34.6,73.3 30.4,75.1 26.2,76.3 22,78.1 17.8,81 13.7,84 9.5,84 5.3,84Z" fill="#f4cca4" stroke="#c4aa90" stroke-width="1.4"/><path d="M5.3,84 9.5,84 13.7,84 17.8,79.9 22,75.5 26.2,72 30.4,68.7 34.6,66.2 38.7,63.6 42.9,60.9 47.1,57.9 51.3,54.2 55.5,49.4 59.6,42.9 63.8,35.9 68,28.4 72.2,20 76.4,12.5 80.5,7.9 84.7,4.2 88.9,1.9 93.1,0.8 97.3,0.7 101.4,0.6 105.6,0.6 109.8,0.6 114,0.6 118.2,0.6 122.3,0.6 122.3,10.2 118.2,10.5 114,10.8 109.8,11.1 105.6,11.3 101.4,11.6 97.3,11.9 93.1,12.3 88.9,14 84.7,17.4 80.5,21.9 76.4,27.2 72.2,35.5 68,44.5 63.8,51.4 59.6,56.3 55.5,59.9 51.3,62.8 47.1,65.3 42.9,67.4 38.7,69.2 34.6,71.2 30.4,73.4 26.2,75.3 22,77.6 17.8,80.8 13.7,84 9.5,84 5.3,84Z" fill="#d3e7ec"/></g><use href="#v7"/><use href="#h1"/><use href="#Mr"/><path clip-path="url(#c)" d="M5.3,84 7.4,84 9.5,84 11.6,84 13.7,84 15.8,83 17.8,80.7 19.9,78.6 22,77 24.1,75.5 26.2,74.1 28.3,72.7 30.4,71.3 32.5,70 34.6,68.7 36.6,67.4 38.7,66.3 40.8,65.2 42.9,64.1 45,62.9 47.1,61.6 49.2,60.2 51.3,58.6 53.4,57 55.5,55.2 57.5,53.2 59.6,51.1 61.7,48.7 63.8,46 65.9,42.6 68,38.1 70.1,32.9 72.2,27.6 74.3,22.5 76.4,18.1 78.4,14.7 80.5,12.1 82.6,9.4 84.7,7 86.8,4.8 88.9,3.1 91,1.9 93.1,1.4 95.2,1.3 97.3,1.2 99.3,1.1 101.4,1 103.5,1 105.6,0.9 107.7,0.9 109.8,0.9 111.9,0.9 114,0.9 116.1,0.9 118.2,0.9 120.2,0.9 122.3,0.9" fill="none" stroke="#000" stroke-width="8.2" stroke-linejoin="round" stroke-linecap="round"/><use href="#t"/><use href="#Fr"/></g>
<g transform="translate(1702.2,1169.8)"><g clip-path="url(#c)"><path d="M5.3,84 9.5,84 11.6,84 13.7,83 17.8,79.5 22,76.1 26.2,72.7 30.4,69.9 34.6,67.8 38.7,65.5 42.9,62.5 47.1,58.2 51.3,52.2 55.5,45.1 59.6,36.2 63.8,22.1 68,8.4 72.2,1.9 76.4,1.4 80.5,0 84.7,0 88.9,0 93.1,0 97.3,0 101.4,0 105.6,0 109.8,0 114,0 118.2,0 122.3,0 122.3,0.9 118.2,0.9 114,0.9 109.8,0.9 105.6,0.9 101.4,0.9 97.3,1 93.1,1.2 88.9,1.5 84.7,2.6 80.5,11.8 76.4,26.3 72.2,39.3 68,47.2 63.8,54 59.6,59.6 55.5,63.5 51.3,66.2 47.1,68.4 42.9,70.5 38.7,72.9 34.6,75.4 30.4,77.8 26.2,79.7 22,81.3 17.8,82 13.7,83.6 11.6,84 9.5,84 5.3,84Z" fill="#93bcdc"/><path d="M5.3,84 9.5,84 11.6,84 13.7,83 17.8,79.5 22,76.1 26.2,72.7 30.4,69.9 34.6,67.8 38.7,65.5 42.9,62.5 47.1,58.2 51.3,52.2 55.5,45.1 59.6,36.2 63.8,22.1 68,8.4 72.2,1.9 76.4,1.4 80.5,0 84.7,0 88.9,0 93.1,0 97.3,0 101.4,0 105.6,0 109.8,0 114,0 118.2,0 122.3,0M5.3,84 9.5,84 11.6,84 13.7,83.6 17.8,82 22,81.3 26.2,79.7 30.4,77.8 34.6,75.4 38.7,72.9 42.9,70.5 47.1,68.4 51.3,66.2 55.5,63.5 59.6,59.6 63.8,54 68,47.2 72.2,39.3 76.4,26.3 80.5,11.8 84.7,2.6 88.9,1.5 93.1,1.2 97.3,1 101.4,0.9 105.6,0.9 109.8,0.9 114,0.9 118.2,0.9 122.3,0.9" fill="none" stroke="#5a9ccd" stroke-width="2"/><path d="M5.3,84 9.5,84 11.6,84 13.7,83.2 17.8,79.9 22,76.7 26.2,73.6 30.4,70.9 34.6,68.7 38.7,66.4 42.9,63.7 47.1,59.8 51.3,54.6 55.5,48 59.6,39.8 63.8,27.5 68,14.3 72.2,5.5 76.4,2.1 80.5,0.5 84.7,0.3 88.9,0.3 93.1,0.3 97.3,0.3 101.4,0.3 105.6,0.3 109.8,0.3 114,0.3 118.2,0.3 122.3,0.3 122.3,0.9 118.2,0.9 114,0.9 109.8,0.9 105.6,0.9 101.4,0.9 97.3,1 93.1,1.1 88.9,1.4 84.7,2.2 80.5,8.9 76.4,20 72.2,32.4 68,42.3 63.8,50.5 59.6,56.6 55.5,61.2 51.3,64.6 47.1,67.2 42.9,69.4 38.7,71.8 34.6,74.2 30.4,76.6 26.2,78.7 22,80.5 17.8,81.7 13.7,83.6 11.6,84 9.5,84 5.3,84Z" fill="#f4cca4" stroke="#c4aa90" stroke-width="1.4"/><path d="M5.3,84 9.5,84 11.6,84 13.7,83.3 17.8,80.3 22,77.4 26.2,74.7 30.4,72.1 34.6,69.7 38.7,67.5 42.9,65 47.1,61.8 51.3,57.3 55.5,51.3 59.6,43.8 63.8,33.7 68,21.1 72.2,9.6 76.4,2.8 80.5,1 84.7,0.8 88.9,0.6 93.1,0.6 97.3,0.6 101.4,0.6 105.6,0.6 109.8,0.6 114,0.6 118.2,0.6 122.3,0.6 122.3,0.9 118.2,0.9 114,0.9 109.8,0.9 105.6,0.9 101.4,0.9 97.3,1 93.1,1 88.9,1.2 84.7,1.8 80.5,5.6 76.4,12.7 72.2,24.5 68,36.5 63.8,46.3 59.6,53.1 55.5,58.6 51.3,62.8 47.1,65.8 42.9,68.2 38.7,70.4 34.6,72.8 30.4,75.2 26.2,77.4 22,79.5 17.8,81.3 13.7,83.5 11.6,84 9.5,84 5.3,84Z" fill="#d3e7ec"/></g><use href="#v8"/><use href="#h1"/><use href="#Mr"/><path clip-path="url(#c)" d="M5.3,84 7.4,84 9.5,84 11.6,84 13.7,83.5 15.8,82.3 17.8,80.9 19.9,79.5 22,78.3 24.1,77.1 26.2,75.9 28.3,74.7 30.4,73.5 32.5,72.2 34.6,71 36.6,69.9 38.7,68.8 40.8,67.8 42.9,66.7 45,65.5 47.1,64.1 49.2,62.5 51.3,60.6 53.4,58.2 55.5,55.4 57.5,52.2 59.6,48.8 61.7,45.1 63.8,41.3 65.9,36.2 68,29.5 70.1,22.1 72.2,14.7 74.3,8.3 76.4,3.8 78.4,1.9 80.5,1.6 82.6,1.4 84.7,1.2 86.8,1.1 88.9,1 91,1 93.1,0.9 95.2,0.9 97.3,0.9 99.3,0.9 101.4,0.9 103.5,0.9 105.6,0.9 107.7,0.9 109.8,0.9 111.9,0.9 114,0.9 116.1,0.9 118.2,0.9 120.2,0.9 122.3,0.9" fill="none" stroke="#000" stroke-width="8.2" stroke-linejoin="round" stroke-linecap="round"/><use href="#t"/><use href="#Fr"/></g>
<g transform="translate(1881.6,1169.8)"><g clip-path="url(#c)"><path d="M5.3,84 9.5,84 13.7,84 17.8,79.9 22,76.5 26.2,73.5 30.4,70.3 34.6,67.8 38.7,65.2 42.9,62.6 47.1,60 51.3,56.8 55.5,52.4 59.6,44.6 63.8,34.8 68,25.7 72.2,17.8 76.4,9.6 80.5,3.6 84.7,1.7 88.9,0 93.1,0 97.3,0 101.4,0 105.6,0 109.8,0 114,0 118.2,0 122.3,0 122.3,0.9 118.2,1 114,1.2 109.8,1.6 105.6,2.8 101.4,8.3 97.3,16.2 93.1,24.3 88.9,33 84.7,42.8 80.5,51.2 76.4,56.1 72.2,59.4 68,62.1 63.8,64.7 59.6,67.3 55.5,69.8 51.3,72.1 47.1,74.1 42.9,75.8 38.7,77.5 34.6,79.5 30.4,83.1 26.2,82.2 22,81.2 17.8,81.9 13.7,84 9.5,84 5.3,84Z" fill="#93bcdc"/><path d="M5.3,84 9.5,84 13.7,84 17.8,79.9 22,76.5 26.2,73.5 30.4,70.3 34.6,67.8 38.7,65.2 42.9,62.6 47.1,60 51.3,56.8 55.5,52.4 59.6,44.6 63.8,34.8 68,25.7 72.2,17.8 76.4,9.6 80.5,3.6 84.7,1.7 88.9,0 93.1,0 97.3,0 101.4,0 105.6,0 109.8,0 114,0 118.2,0 122.3,0M5.3,84 9.5,84 13.7,84 17.8,81.9 22,81.2 26.2,82.2 30.4,83.1 34.6,79.5 38.7,77.5 42.9,75.8 47.1,74.1 51.3,72.1 55.5,69.8 59.6,67.3 63.8,64.7 68,62.1 72.2,59.4 76.4,56.1 80.5,51.2 84.7,42.8 88.9,33 93.1,24.3 97.3,16.2 101.4,8.3 105.6,2.8 109.8,1.6 114,1.2 118.2,1 122.3,0.9" fill="none" stroke="#5a9ccd" stroke-width="2"/><path d="M5.3,84 9.5,84 13.7,84 17.8,80.3 22,77 26.2,74.4 30.4,71.6 34.6,69.3 38.7,66.8 42.9,64.3 47.1,61.7 51.3,58.6 55.5,54.8 59.6,48.3 63.8,40.2 68,31.8 72.2,23.4 76.4,14.9 80.5,8.3 84.7,4.6 88.9,1.4 93.1,0.5 97.3,0.4 101.4,0.3 105.6,0.3 109.8,0.3 114,0.3 118.2,0.3 122.3,0.3 122.3,0.9 118.2,1 114,1.2 109.8,1.4 105.6,2.3 101.4,6.3 97.3,12.1 93.1,18 88.9,25.2 84.7,34.2 80.5,42.6 76.4,48.3 72.2,53.4 68,58 63.8,61.7 59.6,64.7 55.5,67.3 51.3,69.7 47.1,71.9 42.9,73.8 38.7,75.7 34.6,77.7 30.4,80.8 26.2,80.6 22,80.4 17.8,81.7 13.7,84 9.5,84 5.3,84Z" fill="#f4cca4" stroke="#c4aa90" stroke-width="1.4"/><path d="M5.3,84 9.5,84 13.7,84 17.8,80.7 22,77.7 26.2,75.4 30.4,73.1 34.6,71 38.7,68.7 42.9,66.2 47.1,63.6 51.3,60.8 55.5,57.5 59.6,52.6 63.8,46.4 68,38.8 72.2,29.9 76.4,20.9 80.5,13.7 84.7,8 88.9,3.1 93.1,1.1 97.3,0.9 101.4,0.7 105.6,0.6 109.8,0.6 114,0.6 118.2,0.6 122.3,0.6 122.3,0.9 118.2,1 114,1.1 109.8,1.2 105.6,1.7 101.4,3.9 97.3,7.3 93.1,10.7 88.9,16.1 84.7,24.2 80.5,32.6 76.4,39.3 72.2,46.4 68,53.2 63.8,58.3 59.6,61.6 55.5,64.4 51.3,66.8 47.1,69.2 42.9,71.5 38.7,73.6 34.6,75.7 30.4,78.2 26.2,78.8 22,79.5 17.8,81.5 13.7,84 9.5,84 5.3,84Z" fill="#d3e7ec"/></g><use href="#v9"/><use href="#h1"/><use href="#Mr"/><path clip-path="url(#c)" d="M5.3,84 7.4,84 9.5,84 11.6,84 13.7,84 15.8,83.1 17.8,81.2 19.9,79.5 22,78.4 24.1,77.5 26.2,76.6 28.3,75.8 30.4,75 32.5,74.1 34.6,73.2 36.6,72.1 38.7,71 40.8,69.8 42.9,68.6 45,67.3 47.1,66 49.2,64.7 51.3,63.4 53.4,62.1 55.5,60.8 57.5,59.4 59.6,57.9 61.7,56.1 63.8,54 65.9,51.2 68,47.3 70.1,42.8 72.2,37.9 74.3,33 76.4,28.3 78.4,24.3 80.5,20.4 82.6,16.2 84.7,12.1 86.8,8.3 88.9,5.1 91,2.8 93.1,1.9 95.2,1.6 97.3,1.4 99.3,1.2 101.4,1.1 103.5,1 105.6,1 107.7,0.9 109.8,0.9 111.9,0.9 114,0.9 116.1,0.9 118.2,0.9 120.2,0.9 122.3,0.9" fill="none" stroke="#000" stroke-width="8.2" stroke-linejoin="round" stroke-linecap="round"/><use href="#t"/><use href="#Fr"/></g>
<g transform="translate(2061,1169.8)"><g clip-path="url(#c)"><path d="M5.3,84 9.5,84 13.7,84 15.8,84 17.8,81.7 22,77.5 26.2,74.4 30.4,71.2 34.6,68.4 38.7,66.3 42.9,64 47.1,61.2 51.3,57.5 55.5,52.5 59.6,46.5 63.8,39.1 68,26.3 72.2,12 76.4,2.9 80.5,1.8 84.7,0 88.9,0 93.1,0 97.3,0 101.4,0 105.6,0 109.8,0 114,0 118.2,0 122.3,0 122.3,26.3 118.2,37.4 114,44.3 109.8,49.8 105.6,54.5 101.4,58.3 97.3,61.3 93.1,63.7 88.9,65.7 84.7,67.4 80.5,69.2 76.4,70.8 72.2,72.4 68,73.9 63.8,75.3 59.6,76.8 55.5,78.1 51.3,79.6 47.1,82.6 42.9,84 38.7,84 34.6,84 30.4,83.1 26.2,81.8 22,81.3 17.8,82.8 15.8,84 13.7,84 9.5,84 5.3,84Z" fill="#93bcdc"/><path d="M5.3,84 9.5,84 13.7,84 15.8,84 17.8,81.7 22,77.5 26.2,74.4 30.4,71.2 34.6,68.4 38.7,66.3 42.9,64 47.1,61.2 51.3,57.5 55.5,52.5 59.6,46.5 63.8,39.1 68,26.3 72.2,12 76.4,2.9 80.5,1.8 84.7,0 88.9,0 93.1,0 97.3,0 101.4,0 105.6,0 109.8,0 114,0 118.2,0 122.3,0M5.3,84 9.5,84 13.7,84 15.8,84 17.8,82.8 22,81.3 26.2,81.8 30.4,83.1 34.6,84 38.7,84 42.9,84 47.1,82.6 51.3,79.6 55.5,78.1 59.6,76.8 63.8,75.3 68,73.9 72.2,72.4 76.4,70.8 80.5,69.2 84.7,67.4 88.9,65.7 93.1,63.7 97.3,61.3 101.4,58.3 105.6,54.5 109.8,49.8 114,44.3 118.2,37.4 122.3,26.3" fill="none" stroke="#5a9ccd" stroke-width="2"/><path d="M5.3,84 9.5,84 13.7,84 15.8,84 17.8,82 22,78.1 26.2,75.5 30.4,72.8 34.6,70.3 38.7,68.3 42.9,66.2 47.1,63.6 51.3,60.4 55.5,56.2 59.6,51.2 63.8,45.1 68,34.7 72.2,22.9 76.4,14.7 80.5,11.5 84.7,6.3 88.9,2.5 93.1,0.7 97.3,0.5 101.4,0.3 105.6,0.3 109.8,0.3 114,0.3 118.2,0.3 122.3,0.3 122.3,23.3 118.2,33.1 114,39.1 109.8,43.9 105.6,48 101.4,51.5 97.3,54.2 93.1,56.3 88.9,58.9 84.7,62.1 80.5,65.2 76.4,67.7 72.2,69.9 68,71.8 63.8,73.5 59.6,75.2 55.5,76.6 51.3,78.2 47.1,81.1 42.9,82.5 38.7,82.8 34.6,83 30.4,82.3 26.2,81.3 22,81.1 17.8,82.8 15.8,84 13.7,84 9.5,84 5.3,84Z" fill="#f4cca4" stroke="#c4aa90" stroke-width="1.4"/><path d="M5.3,84 9.5,84 13.7,84 15.8,84 17.8,82.3 22,78.8 26.2,76.6 30.4,74.6 34.6,72.6 38.7,70.7 42.9,68.7 47.1,66.5 51.3,63.7 55.5,60.5 59.6,56.7 63.8,52 68,44.5 72.2,35.6 76.4,28.2 80.5,22.7 84.7,13.7 88.9,5.4 93.1,1.4 97.3,1 101.4,0.7 105.6,0.6 109.8,0.6 114,0.6 118.2,0.6 122.3,0.6 122.3,13.2 118.2,18.6 114,21.9 109.8,24.6 105.6,26.9 101.4,28.8 97.3,30.5 93.1,32 88.9,36.4 84.7,44.3 80.5,52.3 76.4,57.4 72.2,61.4 68,64.9 63.8,67.6 59.6,69.8 55.5,71.7 51.3,73.5 47.1,76 42.9,77.7 38.7,78.6 34.6,79.5 30.4,79.8 26.2,79.9 22,80.4 17.8,82.7 15.8,84 13.7,84 9.5,84 5.3,84Z" fill="#d3e7ec"/></g><use href="#v10"/><use href="#h1"/><use href="#Mr"/><path clip-path="url(#c)" d="M5.3,84 7.4,84 9.5,84 11.6,84 13.7,84 15.8,84 17.8,82.6 19.9,80.6 22,79.6 24.1,78.8 26.2,78.1 28.3,77.4 30.4,76.8 32.5,76.1 34.6,75.3 36.6,74.5 38.7,73.6 40.8,72.7 42.9,71.8 45,70.9 47.1,69.9 49.2,68.9 51.3,67.8 53.4,66.8 55.5,65.7 57.5,64.6 59.6,63.4 61.7,62 63.8,60.4 65.9,58.5 68,56.4 70.1,53.9 72.2,51.1 74.3,48.1 76.4,44.8 78.4,41.3 80.5,36.5 82.6,30 84.7,22.6 86.8,15.3 88.9,8.9 91,4.3 93.1,2.3 95.2,2 97.3,1.7 99.3,1.4 101.4,1.2 103.5,1.1 105.6,1 107.7,0.9 109.8,0.9 111.9,0.9 114,0.9 116.1,0.9 118.2,0.9 120.2,0.9 122.3,0.9" fill="none" stroke="#000" stroke-width="8.2" stroke-linejoin="round" stroke-linecap="round"/><use href="#t"/><use href="#Fr"/></g>
<g transform="translate(267.1,1287.8)"><g clip-path="url(#c)"><path d="M5.3,84 9.5,84 13.7,80 17.8,73.8 22,66.9 26.2,58.9 30.4,52.9 34.6,46.2 38.7,39 42.9,29.8 47.1,18.9 51.3,9.8 55.5,5.8 59.6,3.5 63.8,1.9 68,0 72.2,0 76.4,0 80.5,0 84.7,0 88.9,0 93.1,0 97.3,0 101.4,0 105.6,0 109.8,0 114,0 118.2,0 122.3,0 122.3,0.9 118.2,0.9 114,0.9 109.8,0.9 105.6,0.9 101.4,0.9 97.3,1 93.1,1 88.9,1.1 84.7,1.4 80.5,2.5 76.4,4.5 72.2,7 68,13.6 63.8,24 59.6,34.6 55.5,42.4 51.3,49.4 47.1,55.8 42.9,61.4 38.7,66.5 34.6,71.1 30.4,75.2 26.2,78.9 22,80.6 17.8,81.3 13.7,82.7 9.5,84 5.3,84Z" fill="#93bcdc"/><path d="M5.3,84 9.5,84 13.7,80 17.8,73.8 22,66.9 26.2,58.9 30.4,52.9 34.6,46.2 38.7,39 42.9,29.8 47.1,18.9 51.3,9.8 55.5,5.8 59.6,3.5 63.8,1.9 68,0 72.2,0 76.4,0 80.5,0 84.7,0 88.9,0 93.1,0 97.3,0 101.4,0 105.6,0 109.8,0 114,0 118.2,0 122.3,0M5.3,84 9.5,84 13.7,82.7 17.8,81.3 22,80.6 26.2,78.9 30.4,75.2 34.6,71.1 38.7,66.5 42.9,61.4 47.1,55.8 51.3,49.4 55.5,42.4 59.6,34.6 63.8,24 68,13.6 72.2,7 76.4,4.5 80.5,2.5 84.7,1.4 88.9,1.1 93.1,1 97.3,1 101.4,0.9 105.6,0.9 109.8,0.9 114,0.9 118.2,0.9 122.3,0.9" fill="none" stroke="#5a9ccd" stroke-width="2"/><path d="M5.3,84 9.5,84 13.7,80.7 17.8,75.2 22,69.1 26.2,62.2 30.4,56.6 34.6,50.4 38.7,43.6 42.9,35.2 47.1,25.3 51.3,16.5 55.5,10.6 59.6,6.1 63.8,3.3 68,1.2 72.2,0.7 76.4,0.4 80.5,0.3 84.7,0.3 88.9,0.3 93.1,0.3 97.3,0.3 101.4,0.3 105.6,0.3 109.8,0.3 114,0.3 118.2,0.3 122.3,0.3 122.3,0.9 118.2,0.9 114,0.9 109.8,0.9 105.6,0.9 101.4,0.9 97.3,0.9 93.1,1 88.9,1 84.7,1.3 80.5,2.1 76.4,3.6 72.2,5.7 68,11 63.8,19.2 59.6,28.5 55.5,37 51.3,45.1 47.1,51.9 42.9,57.9 38.7,63.4 34.6,68.3 30.4,72.7 26.2,76.6 22,79 17.8,80.5 13.7,82.6 9.5,84 5.3,84Z" fill="#f4cca4" stroke="#c4aa90" stroke-width="1.4"/><path d="M5.3,84 9.5,84 13.7,81.4 17.8,76.7 22,71.7 26.2,66.1 30.4,60.9 34.6,55.2 38.7,48.9 42.9,41.4 47.1,32.8 51.3,24.3 55.5,16.3 59.6,9.2 63.8,4.9 68,2.6 72.2,1.4 76.4,0.8 80.5,0.6 84.7,0.6 88.9,0.6 93.1,0.6 97.3,0.6 101.4,0.6 105.6,0.6 109.8,0.6 114,0.6 118.2,0.6 122.3,0.6 122.3,0.9 118.2,0.9 114,0.9 109.8,0.9 105.6,0.9 101.4,0.9 97.3,0.9 93.1,1 88.9,1 84.7,1.1 80.5,1.6 76.4,2.6 72.2,4.2 68,8 63.8,13.6 59.6,21.5 55.5,30.8 51.3,40 47.1,47.4 42.9,53.9 38.7,59.8 34.6,65 30.4,69.7 26.2,74 22,77.2 17.8,79.7 13.7,82.4 9.5,84 5.3,84Z" fill="#d3e7ec"/></g><use href="#v0"/><use href="#h3"/><use href="#Mr"/><path clip-path="url(#c)" d="M5.3,84 7.4,84 9.5,84 11.6,83.5 13.7,82.3 15.8,80.5 17.8,78.6 19.9,76.7 22,74.9 24.1,72.9 26.2,70.8 28.3,68.5 30.4,66.1 32.5,63.6 34.6,61 36.6,58.3 38.7,55.3 40.8,52.2 42.9,48.9 45,45.5 47.1,41.9 49.2,38.2 51.3,33.8 53.4,28.7 55.5,23.1 57.5,17.7 59.6,12.9 61.7,9.1 63.8,6.8 65.9,5.5 68,4.3 70.1,3.3 72.2,2.4 74.3,1.7 76.4,1.3 78.4,1.1 80.5,1.1 82.6,1 84.7,1 86.8,1 88.9,0.9 91,0.9 93.1,0.9 95.2,0.9 97.3,0.9 99.3,0.9 101.4,0.9 103.5,0.9 105.6,0.9 107.7,0.9 109.8,0.9 111.9,0.9 114,0.9 116.1,0.9 118.2,0.9 120.2,0.9 122.3,0.9" fill="none" stroke="#000" stroke-width="8.2" stroke-linejoin="round" stroke-linecap="round"/><use href="#t"/><use href="#Fr"/></g>
<g transform="translate(446.5,1287.8)"><g clip-path="url(#c)"><path d="M5.3,84 9.5,84 11.6,84 13.7,82.6 17.8,77.7 22,72.8 26.2,67.3 30.4,61.7 34.6,55.9 38.7,49.4 42.9,41.9 47.1,31.2 51.3,19.5 55.5,10.9 59.6,6.9 63.8,3.7 68,1.7 72.2,0 76.4,0 80.5,0 84.7,0 88.9,0 93.1,0 97.3,0 101.4,0 105.6,0 109.8,0 114,0 118.2,0 122.3,0 122.3,0.9 118.2,0.9 114,0.9 109.8,0.9 105.6,0.9 101.4,0.9 97.3,0.9 93.1,1 88.9,1 84.7,1.1 80.5,1.9 76.4,4.1 72.2,7.4 68,11.8 63.8,21.1 59.6,32.9 55.5,43.1 51.3,50.4 47.1,56.8 42.9,62.4 38.7,67.1 34.6,71.1 30.4,74.5 26.2,77.2 22,79.6 17.8,81.5 13.7,83.5 11.6,84 9.5,84 5.3,84Z" fill="#93bcdc"/><path d="M5.3,84 9.5,84 11.6,84 13.7,82.6 17.8,77.7 22,72.8 26.2,67.3 30.4,61.7 34.6,55.9 38.7,49.4 42.9,41.9 47.1,31.2 51.3,19.5 55.5,10.9 59.6,6.9 63.8,3.7 68,1.7 72.2,0 76.4,0 80.5,0 84.7,0 88.9,0 93.1,0 97.3,0 101.4,0 105.6,0 109.8,0 114,0 118.2,0 122.3,0M5.3,84 9.5,84 11.6,84 13.7,83.5 17.8,81.5 22,79.6 26.2,77.2 30.4,74.5 34.6,71.1 38.7,67.1 42.9,62.4 47.1,56.8 51.3,50.4 55.5,43.1 59.6,32.9 63.8,21.1 68,11.8 72.2,7.4 76.4,4.1 80.5,1.9 84.7,1.1 88.9,1 93.1,1 97.3,0.9 101.4,0.9 105.6,0.9 109.8,0.9 114,0.9 118.2,0.9 122.3,0.9" fill="none" stroke="#5a9ccd" stroke-width="2"/><path d="M5.3,84 9.5,84 11.6,84 13.7,82.8 17.8,78.4 22,73.8 26.2,69 30.4,63.9 34.6,58.6 38.7,52.4 42.9,45.4 47.1,35.8 51.3,25.1 55.5,15.7 59.6,9.7 63.8,5.4 68,2.9 72.2,0.9 76.4,0.4 80.5,0.3 84.7,0.3 88.9,0.3 93.1,0.3 97.3,0.3 101.4,0.3 105.6,0.3 109.8,0.3 114,0.3 118.2,0.3 122.3,0.3 122.3,0.9 118.2,0.9 114,0.9 109.8,0.9 105.6,0.9 101.4,0.9 97.3,0.9 93.1,1 88.9,1 84.7,1.1 80.5,1.7 76.4,3.4 72.2,6.2 68,10.1 63.8,17.9 59.6,28.4 55.5,38.9 51.3,47.3 47.1,54.2 42.9,60.1 38.7,65.2 34.6,69.5 30.4,73.1 26.2,76.1 22,78.8 17.8,81 13.7,83.4 11.6,84 9.5,84 5.3,84Z" fill="#f4cca4" stroke="#c4aa90" stroke-width="1.4"/><path d="M5.3,84 9.5,84 11.6,84 13.7,83.1 17.8,79.1 22,75 26.2,70.9 30.4,66.4 34.6,61.6 38.7,56 42.9,49.4 47.1,41.1 51.3,31.6 55.5,21.3 59.6,12.9 63.8,7.3 68,4.3 72.2,1.9 76.4,0.8 80.5,0.6 84.7,0.6 88.9,0.6 93.1,0.6 97.3,0.6 101.4,0.6 105.6,0.6 109.8,0.6 114,0.6 118.2,0.6 122.3,0.6 122.3,0.9 118.2,0.9 114,0.9 109.8,0.9 105.6,0.9 101.4,0.9 97.3,0.9 93.1,0.9 88.9,1 84.7,1 80.5,1.4 76.4,2.5 72.2,4.8 68,8.3 63.8,14.2 59.6,23.2 55.5,34 51.3,43.8 47.1,51.2 42.9,57.5 38.7,63 34.6,67.6 30.4,71.5 26.2,74.8 22,77.7 17.8,80.5 13.7,83.4 11.6,84 9.5,84 5.3,84Z" fill="#d3e7ec"/></g><use href="#v1"/><use href="#h3"/><use href="#Mr"/><path clip-path="url(#c)" d="M5.3,84 7.4,84 9.5,84 11.6,84 13.7,83.4 15.8,81.9 17.8,79.9 19.9,78.1 22,76.5 24.1,74.9 26.2,73.2 28.3,71.4 30.4,69.5 32.5,67.5 34.6,65.3 36.6,62.9 38.7,60.3 40.8,57.4 42.9,54.3 45,51 47.1,47.5 49.2,43.9 51.3,39.4 53.4,34 55.5,28.1 57.5,22.2 59.6,16.8 61.7,12.5 63.8,9.6 65.9,7.7 68,6 70.1,4.4 72.2,3.1 74.3,2.1 76.4,1.4 78.4,1.1 80.5,1.1 82.6,1 84.7,1 86.8,1 88.9,0.9 91,0.9 93.1,0.9 95.2,0.9 97.3,0.9 99.3,0.9 101.4,0.9 103.5,0.9 105.6,0.9 107.7,0.9 109.8,0.9 111.9,0.9 114,0.9 116.1,0.9 118.2,0.9 120.2,0.9 122.3,0.9" fill="none" stroke="#000" stroke-width="8.2" stroke-linejoin="round" stroke-linecap="round"/><use href="#t"/><use href="#Fr"/></g>
<g transform="translate(625.9,1287.8)"><g clip-path="url(#c)"><path d="M5.3,84 9.5,84 13.7,84 17.8,77.7 22,71.4 26.2,65.2 30.4,57.8 34.6,52.5 38.7,45.2 42.9,36.3 47.1,27.6 51.3,20.4 55.5,13.3 59.6,7.3 63.8,3.9 68,2.6 72.2,1.6 76.4,0 80.5,0 84.7,0 88.9,0 93.1,0 97.3,0 101.4,0 105.6,0 109.8,0 114,0 118.2,0 122.3,0 122.3,0.9 118.2,0.9 114,1.1 109.8,1.9 105.6,3 101.4,4.7 97.3,9.2 93.1,15.8 88.9,22.9 84.7,30.5 80.5,39.5 76.4,48.1 72.2,54.4 68,59.5 63.8,63.8 59.6,67.6 55.5,70.8 51.3,73.4 47.1,76.1 42.9,79.6 38.7,83.9 34.6,84 30.4,84 26.2,81.5 22,80.3 17.8,81.3 13.7,84 9.5,84 5.3,84Z" fill="#93bcdc"/><path d="M5.3,84 9.5,84 13.7,84 17.8,77.7 22,71.4 26.2,65.2 30.4,57.8 34.6,52.5 38.7,45.2 42.9,36.3 47.1,27.6 51.3,20.4 55.5,13.3 59.6,7.3 63.8,3.9 68,2.6 72.2,1.6 76.4,0 80.5,0 84.7,0 88.9,0 93.1,0 97.3,0 101.4,0 105.6,0 109.8,0 114,0 118.2,0 122.3,0M5.3,84 9.5,84 13.7,84 17.8,81.3 22,80.3 26.2,81.5 30.4,84 34.6,84 38.7,83.9 42.9,79.6 47.1,76.1 51.3,73.4 55.5,70.8 59.6,67.6 63.8,63.8 68,59.5 72.2,54.4 76.4,48.1 80.5,39.5 84.7,30.5 88.9,22.9 93.1,15.8 97.3,9.2 101.4,4.7 105.6,3 109.8,1.9 114,1.1 118.2,0.9 122.3,0.9" fill="none" stroke="#5a9ccd" stroke-width="2"/><path d="M5.3,84 9.5,84 13.7,84 17.8,78.5 22,72.9 26.2,67.6 30.4,61.6 34.6,56.8 38.7,50.6 42.9,43 47.1,35.3 51.3,28.5 55.5,21 59.6,14.1 63.8,9.5 68,6.6 72.2,3.9 76.4,1.4 80.5,0.9 84.7,0.6 88.9,0.3 93.1,0.3 97.3,0.3 101.4,0.3 105.6,0.3 109.8,0.3 114,0.3 118.2,0.3 122.3,0.3 122.3,0.9 118.2,0.9 114,1.1 109.8,1.6 105.6,2.4 101.4,3.6 97.3,6.9 93.1,11.6 88.9,16.8 84.7,22.5 80.5,29.4 76.4,36 72.2,42 68,47.5 63.8,52.7 59.6,57.6 55.5,62.4 51.3,66.6 47.1,70.3 42.9,74.2 38.7,78.4 34.6,79.6 30.4,80.4 26.2,79.3 22,79.2 17.8,81 13.7,84 9.5,84 5.3,84Z" fill="#f4cca4" stroke="#c4aa90" stroke-width="1.4"/><path d="M5.3,84 9.5,84 13.7,84 17.8,79.3 22,74.5 26.2,70.4 30.4,65.9 34.6,61.9 38.7,56.8 42.9,50.7 47.1,44.3 51.3,37.8 55.5,29.9 59.6,22.1 63.8,16 68,11.2 72.2,6.7 76.4,3.1 80.5,1.9 84.7,1.2 88.9,0.7 93.1,0.6 97.3,0.6 101.4,0.6 105.6,0.6 109.8,0.6 114,0.6 118.2,0.6 122.3,0.6 122.3,0.9 118.2,0.9 114,1 109.8,1.3 105.6,1.8 101.4,2.4 97.3,4.2 93.1,6.8 88.9,9.8 84.7,13.3 80.5,17.6 76.4,22.1 72.2,27.6 68,33.7 63.8,39.7 59.6,46 55.5,52.7 51.3,58.8 47.1,63.5 42.9,67.9 38.7,72.1 34.6,74.4 30.4,76.3 26.2,76.8 22,78 17.8,80.8 13.7,84 9.5,84 5.3,84Z" fill="#d3e7ec"/></g><use href="#v2"/><use href="#h3"/><use href="#Mr"/><path clip-path="url(#c)" d="M5.3,84 7.4,84 9.5,84 11.6,84 13.7,84 15.8,82.9 17.8,80.4 19.9,78.1 22,76.5 24.1,75.1 26.2,73.8 28.3,72.5 30.4,71.2 32.5,69.8 34.6,68.1 36.6,66.3 38.7,64.4 40.8,62.4 42.9,60.2 45,57.8 47.1,55.2 49.2,52.5 51.3,49.2 53.4,45.2 55.5,40.8 57.5,36.3 59.6,31.8 61.7,27.6 63.8,23.9 65.9,20.4 68,16.8 70.1,13.3 72.2,10 74.3,7.3 76.4,5.2 78.4,3.9 80.5,3.2 82.6,2.6 84.7,2 86.8,1.6 88.9,1.2 91,1 93.1,0.9 95.2,0.9 97.3,0.9 99.3,0.9 101.4,0.9 103.5,0.9 105.6,0.9 107.7,0.9 109.8,0.9 111.9,0.9 114,0.9 116.1,0.9 118.2,0.9 120.2,0.9 122.3,0.9" fill="none" stroke="#000" stroke-width="8.2" stroke-linejoin="round" stroke-linecap="round"/><use href="#t"/><use href="#Fr"/></g>
<g transform="translate(805.3,1287.8)"><g clip-path="url(#c)"><path d="M5.3,84 9.5,84 13.7,84 17.8,77.6 22,71.5 26.2,65.9 30.4,59.6 34.6,55.6 38.7,51.2 42.9,46.1 47.1,40.2 51.3,32 55.5,22.5 59.6,14.5 63.8,9.6 68,5.5 72.2,2.5 76.4,0 80.5,0 84.7,0 88.9,0 93.1,0 97.3,0 101.4,0 105.6,0 109.8,0 114,0 118.2,0 122.3,0 122.3,1.4 118.2,2.8 114,5.9 109.8,10.2 105.6,15.3 101.4,23.6 97.3,33.1 93.1,41 88.9,46.7 84.7,51.7 80.5,56.1 76.4,60 72.2,63.5 68,66.6 63.8,69.5 59.6,72 55.5,74.2 51.3,76.7 47.1,80.3 42.9,84 38.7,84 34.6,84 30.4,84 26.2,81.6 22,80.3 17.8,81.3 13.7,84 9.5,84 5.3,84Z" fill="#93bcdc"/><path d="M5.3,84 9.5,84 13.7,84 17.8,77.6 22,71.5 26.2,65.9 30.4,59.6 34.6,55.6 38.7,51.2 42.9,46.1 47.1,40.2 51.3,32 55.5,22.5 59.6,14.5 63.8,9.6 68,5.5 72.2,2.5 76.4,0 80.5,0 84.7,0 88.9,0 93.1,0 97.3,0 101.4,0 105.6,0 109.8,0 114,0 118.2,0 122.3,0M5.3,84 9.5,84 13.7,84 17.8,81.3 22,80.3 26.2,81.6 30.4,84 34.6,84 38.7,84 42.9,84 47.1,80.3 51.3,76.7 55.5,74.2 59.6,72 63.8,69.5 68,66.6 72.2,63.5 76.4,60 80.5,56.1 84.7,51.7 88.9,46.7 93.1,41 97.3,33.1 101.4,23.6 105.6,15.3 109.8,10.2 114,5.9 118.2,2.8 122.3,1.4" fill="none" stroke="#5a9ccd" stroke-width="2"/><path d="M5.3,84 9.5,84 13.7,84 17.8,78.3 22,72.9 26.2,68.2 30.4,63.1 34.6,59.5 38.7,55.5 42.9,50.9 47.1,45.8 51.3,38.8 55.5,30.7 59.6,23.5 63.8,18.4 68,13.2 72.2,8.4 76.4,4.3 80.5,2.8 84.7,1.7 88.9,0.8 93.1,0.4 97.3,0.3 101.4,0.3 105.6,0.3 109.8,0.3 114,0.3 118.2,0.3 122.3,0.3 122.3,1.3 118.2,2.3 114,4.5 109.8,7.6 105.6,11.3 101.4,17.3 97.3,24.2 93.1,29.9 88.9,34.4 84.7,38.9 80.5,43.3 76.4,47.5 72.2,52.3 68,57.3 63.8,61.5 59.6,64.9 55.5,67.9 51.3,70.9 47.1,74.7 42.9,78.3 38.7,79.1 34.6,79.9 30.4,80.6 26.2,79.5 22,79.3 17.8,81 13.7,84 9.5,84 5.3,84Z" fill="#f4cca4" stroke="#c4aa90" stroke-width="1.4"/><path d="M5.3,84 9.5,84 13.7,84 17.8,79.2 22,74.6 26.2,70.9 30.4,67.1 34.6,64 38.7,60.5 42.9,56.6 47.1,52.2 51.3,46.6 55.5,40.2 59.6,33.9 63.8,28.6 68,22.2 72.2,15.3 76.4,9.2 80.5,6.1 84.7,3.6 88.9,1.7 93.1,0.8 97.3,0.7 101.4,0.6 105.6,0.6 109.8,0.6 114,0.6 118.2,0.6 122.3,0.6 122.3,1.1 118.2,1.7 114,2.9 109.8,4.6 105.6,6.6 101.4,10 97.3,13.8 93.1,17.1 88.9,20.2 84.7,24.1 80.5,28.4 76.4,33 72.2,39.4 68,46.4 63.8,52.3 59.6,56.7 55.5,60.6 51.3,64.3 47.1,68.1 42.9,71.6 38.7,73.5 34.6,75.3 30.4,76.8 26.2,77.1 22,78.1 17.8,80.7 13.7,84 9.5,84 5.3,84Z" fill="#d3e7ec"/></g><use href="#v3"/><use href="#h3"/><use href="#Mr"/><path clip-path="url(#c)" d="M5.3,84 7.4,84 9.5,84 11.6,84 13.7,84 15.8,82.8 17.8,80.3 19.9,78.1 22,76.7 24.1,75.4 26.2,74.2 28.3,73.1 30.4,72 32.5,70.8 34.6,69.5 36.6,68.1 38.7,66.6 40.8,65.1 42.9,63.5 45,61.8 47.1,60 49.2,58.1 51.3,56.1 53.4,54 55.5,51.7 57.5,49.3 59.6,46.7 61.7,43.9 63.8,41 65.9,37.4 68,33.1 70.1,28.4 72.2,23.6 74.3,19.1 76.4,15.3 78.4,12.4 80.5,10.2 82.6,8 84.7,5.9 86.8,4.2 88.9,2.8 91,1.8 93.1,1.4 95.2,1.3 97.3,1.2 99.3,1.1 101.4,1 103.5,1 105.6,0.9 107.7,0.9 109.8,0.9 111.9,0.9 114,0.9 116.1,0.9 118.2,0.9 120.2,0.9 122.3,0.9" fill="none" stroke="#000" stroke-width="8.2" stroke-linejoin="round" stroke-linecap="round"/><use href="#t"/><use href="#Fr"/></g>
<g transform="translate(984.7,1287.8)"><g clip-path="url(#c)"><path d="M5.3,84 9.5,84 11.6,84 13.7,81.7 17.8,75.3 22,69.9 26.2,64.6 30.4,59.7 34.6,55.3 38.7,49.2 42.9,41.5 47.1,33.4 51.3,25.6 55.5,16.5 59.6,8.3 63.8,3.9 68,2.5 72.2,1.5 76.4,0 80.5,0 84.7,0 88.9,0 93.1,0 97.3,0 101.4,0 105.6,0 109.8,0 114,0 118.2,0 122.3,0 122.3,0.9 118.2,0.9 114,0.9 109.8,0.9 105.6,1.3 101.4,2.1 97.3,3.4 93.1,6.1 88.9,13.2 84.7,22.2 80.5,30.5 76.4,38.5 72.2,46.4 68,53.2 63.8,58.1 59.6,62.1 55.5,65.5 51.3,68.5 47.1,71 42.9,73.2 38.7,75.7 34.6,79.3 30.4,83.5 26.2,82.6 22,80.7 17.8,80.7 13.7,83.2 11.6,84 9.5,84 5.3,84Z" fill="#93bcdc"/><path d="M5.3,84 9.5,84 11.6,84 13.7,81.7 17.8,75.3 22,69.9 26.2,64.6 30.4,59.7 34.6,55.3 38.7,49.2 42.9,41.5 47.1,33.4 51.3,25.6 55.5,16.5 59.6,8.3 63.8,3.9 68,2.5 72.2,1.5 76.4,0 80.5,0 84.7,0 88.9,0 93.1,0 97.3,0 101.4,0 105.6,0 109.8,0 114,0 118.2,0 122.3,0M5.3,84 9.5,84 11.6,84 13.7,83.2 17.8,80.7 22,80.7 26.2,82.6 30.4,83.5 34.6,79.3 38.7,75.7 42.9,73.2 47.1,71 51.3,68.5 55.5,65.5 59.6,62.1 63.8,58.1 68,53.2 72.2,46.4 76.4,38.5 80.5,30.5 84.7,22.2 88.9,13.2 93.1,6.1 97.3,3.4 101.4,2.1 105.6,1.3 109.8,0.9 114,0.9 118.2,0.9 122.3,0.9" fill="none" stroke="#5a9ccd" stroke-width="2"/><path d="M5.3,84 9.5,84 11.6,84 13.7,82.1 17.8,76.2 22,71.4 26.2,67 30.4,62.8 34.6,58.9 38.7,53.6 42.9,47.1 47.1,40.2 51.3,33.1 55.5,24.6 59.6,16.4 63.8,11.1 68,7.7 72.2,4.5 76.4,1.5 80.5,0.9 84.7,0.6 88.9,0.3 93.1,0.3 97.3,0.3 101.4,0.3 105.6,0.3 109.8,0.3 114,0.3 118.2,0.3 122.3,0.3 122.3,0.9 118.2,0.9 114,0.9 109.8,0.9 105.6,1.2 101.4,1.8 97.3,2.7 93.1,4.6 88.9,9.8 84.7,16.6 80.5,22.9 76.4,29.2 72.2,36.8 68,44.2 63.8,50.2 59.6,55.2 55.5,59.9 51.3,64 47.1,67.3 42.9,70 38.7,72.7 34.6,76.2 30.4,79.9 26.2,79.9 22,79.2 17.8,80.1 13.7,83.2 11.6,84 9.5,84 5.3,84Z" fill="#f4cca4" stroke="#c4aa90" stroke-width="1.4"/><path d="M5.3,84 9.5,84 11.6,84 13.7,82.6 17.8,77.3 22,73.2 26.2,69.7 30.4,66.4 34.6,63 38.7,58.8 42.9,53.7 47.1,48 51.3,41.8 55.5,34 59.6,25.9 63.8,19.4 68,13.7 72.2,7.9 76.4,3.3 80.5,1.9 84.7,1.2 88.9,0.7 93.1,0.6 97.3,0.6 101.4,0.6 105.6,0.6 109.8,0.6 114,0.6 118.2,0.6 122.3,0.6 122.3,0.9 118.2,0.9 114,0.9 109.8,0.9 105.6,1.1 101.4,1.4 97.3,1.9 93.1,3 88.9,5.9 84.7,10 80.5,14 76.4,18.5 72.2,25.7 68,33.8 63.8,40.9 59.6,47.2 55.5,53.4 51.3,58.8 47.1,62.9 42.9,66.2 38.7,69.3 34.6,72.6 30.4,75.8 26.2,76.8 22,77.5 17.8,79.5 13.7,83.2 11.6,84 9.5,84 5.3,84Z" fill="#d3e7ec"/></g><use href="#v4"/><use href="#h3"/><use href="#Mr"/><path clip-path="url(#c)" d="M5.3,84 7.4,84 9.5,84 11.6,84 13.7,83.1 15.8,81.1 17.8,78.7 19.9,76.7 22,75.3 24.1,74.1 26.2,73 28.3,71.9 30.4,70.7 32.5,69.5 34.6,68.1 36.6,66.6 38.7,65.1 40.8,63.4 42.9,61.6 45,59.7 47.1,57.6 49.2,55.3 51.3,52.5 53.4,49.2 55.5,45.4 57.5,41.5 59.6,37.4 61.7,33.4 63.8,29.6 65.9,25.6 68,21.1 70.1,16.5 72.2,12.1 74.3,8.3 76.4,5.5 78.4,3.9 80.5,3.2 82.6,2.5 84.7,2 86.8,1.5 88.9,1.2 91,1 93.1,0.9 95.2,0.9 97.3,0.9 99.3,0.9 101.4,0.9 103.5,0.9 105.6,0.9 107.7,0.9 109.8,0.9 111.9,0.9 114,0.9 116.1,0.9 118.2,0.9 120.2,0.9 122.3,0.9" fill="none" stroke="#000" stroke-width="8.2" stroke-linejoin="round" stroke-linecap="round"/><use href="#t"/><use href="#Fr"/></g>
<g transform="translate(1164,1287.8)"><g clip-path="url(#c)"><path d="M5.3,84 9.5,84 13.7,84 17.8,78.5 22,73.3 26.2,68.7 30.4,64 34.6,60.8 38.7,57.3 42.9,53.5 47.1,49.4 51.3,44.7 55.5,38.3 59.6,27.3 63.8,15.3 68,7.3 72.2,4.5 76.4,2.4 80.5,0 84.7,0 88.9,0 93.1,0 97.3,0 101.4,0 105.6,0 109.8,0 114,0 118.2,0 122.3,0 122.3,0.9 118.2,0.9 114,0.9 109.8,0.9 105.6,0.9 101.4,1 97.3,2 93.1,3.9 88.9,6.5 84.7,12.5 80.5,24 76.4,35.7 72.2,43.2 68,48.2 63.8,52.5 59.6,56.3 55.5,59.9 51.3,63.2 47.1,66.2 42.9,69.2 38.7,72 34.6,74.7 30.4,77.7 26.2,80.1 22,80.3 17.8,81.3 13.7,84 9.5,84 5.3,84Z" fill="#93bcdc"/><path d="M5.3,84 9.5,84 13.7,84 17.8,78.5 22,73.3 26.2,68.7 30.4,64 34.6,60.8 38.7,57.3 42.9,53.5 47.1,49.4 51.3,44.7 55.5,38.3 59.6,27.3 63.8,15.3 68,7.3 72.2,4.5 76.4,2.4 80.5,0 84.7,0 88.9,0 93.1,0 97.3,0 101.4,0 105.6,0 109.8,0 114,0 118.2,0 122.3,0M5.3,84 9.5,84 13.7,84 17.8,81.3 22,80.3 26.2,80.1 30.4,77.7 34.6,74.7 38.7,72 42.9,69.2 47.1,66.2 51.3,63.2 55.5,59.9 59.6,56.3 63.8,52.5 68,48.2 72.2,43.2 76.4,35.7 80.5,24 84.7,12.5 88.9,6.5 93.1,3.9 97.3,2 101.4,1 105.6,0.9 109.8,0.9 114,0.9 118.2,0.9 122.3,0.9" fill="none" stroke="#5a9ccd" stroke-width="2"/><path d="M5.3,84 9.5,84 13.7,84 17.8,79 22,74.2 26.2,70.1 30.4,66 34.6,62.8 38.7,59.5 42.9,55.9 47.1,52 51.3,47.5 55.5,41.8 59.6,32.7 63.8,22.5 68,14.1 72.2,8.7 76.4,4.4 80.5,1.5 84.7,0.9 88.9,0.4 93.1,0.3 97.3,0.3 101.4,0.3 105.6,0.3 109.8,0.3 114,0.3 118.2,0.3 122.3,0.3 122.3,0.9 118.2,0.9 114,0.9 109.8,0.9 105.6,0.9 101.4,1 97.3,1.7 93.1,3.1 88.9,5.1 84.7,9.9 80.5,18.8 76.4,28.4 72.2,36.5 68,43.6 63.8,49.2 59.6,53.5 55.5,57.4 51.3,60.8 47.1,64.1 42.9,67.2 38.7,70 34.6,72.8 30.4,75.8 26.2,78.3 22,79.2 17.8,81 13.7,84 9.5,84 5.3,84Z" fill="#f4cca4" stroke="#c4aa90" stroke-width="1.4"/><path d="M5.3,84 9.5,84 13.7,84 17.8,79.6 22,75.2 26.2,71.7 30.4,68.2 34.6,65.2 38.7,62 42.9,58.6 47.1,55 51.3,50.8 55.5,45.9 59.6,38.9 63.8,30.8 68,22 72.2,13.5 76.4,6.6 80.5,3.3 84.7,1.9 88.9,0.9 93.1,0.6 97.3,0.6 101.4,0.6 105.6,0.6 109.8,0.6 114,0.6 118.2,0.6 122.3,0.6 122.3,0.9 118.2,0.9 114,0.9 109.8,0.9 105.6,0.9 101.4,1 97.3,1.4 93.1,2.1 88.9,3.5 84.7,6.8 80.5,12.8 76.4,19.8 72.2,28.8 68,38.2 63.8,45.5 59.6,50.4 55.5,54.5 51.3,58.1 47.1,61.6 42.9,64.8 38.7,67.8 34.6,70.7 30.4,73.6 26.2,76.2 22,78 17.8,80.8 13.7,84 9.5,84 5.3,84Z" fill="#d3e7ec"/></g><use href="#v5"/><use href="#h3"/><use href="#Mr"/><path clip-path="url(#c)" d="M5.3,84 7.4,84 9.5,84 11.6,84 13.7,84 15.8,82.9 17.8,80.4 19.9,78.1 22,76.5 24.1,75 26.2,73.7 28.3,72.3 30.4,71 32.5,69.6 34.6,68.1 36.6,66.6 38.7,65.1 40.8,63.6 42.9,62 45,60.3 47.1,58.6 49.2,56.7 51.3,54.9 53.4,53 55.5,51 57.5,48.8 59.6,46.5 61.7,43.9 63.8,41 65.9,37 68,31.6 70.1,25.6 72.2,19.4 74.3,13.8 76.4,9.4 78.4,6.8 80.5,5.4 82.6,4.2 84.7,3.1 86.8,2.2 88.9,1.5 91,1.1 93.1,0.9 95.2,0.9 97.3,0.9 99.3,0.9 101.4,0.9 103.5,0.9 105.6,0.9 107.7,0.9 109.8,0.9 111.9,0.9 114,0.9 116.1,0.9 118.2,0.9 120.2,0.9 122.3,0.9" fill="none" stroke="#000" stroke-width="8.2" stroke-linejoin="round" stroke-linecap="round"/><use href="#t"/><use href="#Fr"/></g>
<g transform="translate(1343.4,1287.8)"><g clip-path="url(#c)"><path d="M5.3,84 9.5,84 13.7,84 17.8,78.4 22,73.5 26.2,69.2 30.4,64.5 34.6,61.1 38.7,57.2 42.9,52.3 47.1,46.6 51.3,40.1 55.5,31.5 59.6,19.9 63.8,9.6 68,4.9 72.2,3 76.4,1.6 80.5,0 84.7,0 88.9,0 93.1,0 97.3,0 101.4,0 105.6,0 109.8,0 114,0 118.2,0 122.3,0 122.3,0.9 118.2,0.9 114,0.9 109.8,0.9 105.6,1 101.4,1.9 97.3,3.4 93.1,5.4 88.9,11.6 84.7,22.6 80.5,33.9 76.4,41.6 72.2,48 68,53.5 63.8,58.1 59.6,61.9 55.5,65.2 51.3,68.1 47.1,70.8 42.9,73.1 38.7,75.4 34.6,78.1 30.4,82.8 26.2,81.6 22,80.3 17.8,81.3 13.7,84 9.5,84 5.3,84Z" fill="#93bcdc"/><path d="M5.3,84 9.5,84 13.7,84 17.8,78.4 22,73.5 26.2,69.2 30.4,64.5 34.6,61.1 38.7,57.2 42.9,52.3 47.1,46.6 51.3,40.1 55.5,31.5 59.6,19.9 63.8,9.6 68,4.9 72.2,3 76.4,1.6 80.5,0 84.7,0 88.9,0 93.1,0 97.3,0 101.4,0 105.6,0 109.8,0 114,0 118.2,0 122.3,0M5.3,84 9.5,84 13.7,84 17.8,81.3 22,80.3 26.2,81.6 30.4,82.8 34.6,78.1 38.7,75.4 42.9,73.1 47.1,70.8 51.3,68.1 55.5,65.2 59.6,61.9 63.8,58.1 68,53.5 72.2,48 76.4,41.6 80.5,33.9 84.7,22.6 88.9,11.6 93.1,5.4 97.3,3.4 101.4,1.9 105.6,1 109.8,0.9 114,0.9 118.2,0.9 122.3,0.9" fill="none" stroke="#5a9ccd" stroke-width="2"/><path d="M5.3,84 9.5,84 13.7,84 17.8,79 22,74.4 26.2,70.6 30.4,66.6 34.6,63.5 38.7,59.8 42.9,55.5 47.1,50.4 51.3,44.5 55.5,37 59.6,26.9 63.8,17.6 68,11.5 72.2,6.9 76.4,3.3 80.5,1.2 84.7,0.7 88.9,0.4 93.1,0.3 97.3,0.3 101.4,0.3 105.6,0.3 109.8,0.3 114,0.3 118.2,0.3 122.3,0.3 122.3,0.9 118.2,0.9 114,0.9 109.8,0.9 105.6,1 101.4,1.6 97.3,2.7 93.1,4.2 88.9,8.7 84.7,17 80.5,25.6 76.4,32.1 72.2,39.3 68,46.5 63.8,52.6 59.6,57.2 55.5,61.2 51.3,64.7 47.1,67.8 42.9,70.5 38.7,73 34.6,75.7 30.4,79.8 26.2,79.5 22,79.3 17.8,81 13.7,84 9.5,84 5.3,84Z" fill="#f4cca4" stroke="#c4aa90" stroke-width="1.4"/><path d="M5.3,84 9.5,84 13.7,84 17.8,79.6 22,75.4 26.2,72.2 30.4,69 34.6,66.2 38.7,62.9 42.9,59.2 47.1,54.8 51.3,49.7 55.5,43.2 59.6,35 63.8,26.9 68,19.2 72.2,11.3 76.4,5.2 80.5,2.6 84.7,1.5 88.9,0.8 93.1,0.6 97.3,0.6 101.4,0.6 105.6,0.6 109.8,0.6 114,0.6 118.2,0.6 122.3,0.6 122.3,0.9 118.2,0.9 114,0.9 109.8,0.9 105.6,1 101.4,1.3 97.3,1.9 93.1,2.7 88.9,5.4 84.7,10.5 80.5,16 76.4,21.1 72.2,29.2 68,38.4 63.8,46.1 59.6,51.7 55.5,56.5 51.3,60.8 47.1,64.4 42.9,67.4 38.7,70.1 34.6,72.9 30.4,76.3 26.2,77.1 22,78.1 17.8,80.7 13.7,84 9.5,84 5.3,84Z" fill="#d3e7ec"/></g><use href="#v6"/><use href="#h3"/><use href="#Mr"/><path clip-path="url(#c)" d="M5.3,84 7.4,84 9.5,84 11.6,84 13.7,84 15.8,82.8 17.8,80.3 19.9,78.1 22,76.7 24.1,75.4 26.2,74.2 28.3,73.1 30.4,72 32.5,70.8 34.6,69.5 36.6,68.1 38.7,66.7 40.8,65.2 42.9,63.6 45,61.9 47.1,60.1 49.2,58.1 51.3,56 53.4,53.5 55.5,50.9 57.5,48 59.6,44.9 61.7,41.6 63.8,38.2 65.9,33.9 68,28.5 70.1,22.6 72.2,16.8 74.3,11.6 76.4,7.6 78.4,5.4 80.5,4.3 82.6,3.4 84.7,2.5 86.8,1.9 88.9,1.4 91,1 93.1,0.9 95.2,0.9 97.3,0.9 99.3,0.9 101.4,0.9 103.5,0.9 105.6,0.9 107.7,0.9 109.8,0.9 111.9,0.9 114,0.9 116.1,0.9 118.2,0.9 120.2,0.9 122.3,0.9" fill="none" stroke="#000" stroke-width="8.2" stroke-linejoin="round" stroke-linecap="round"/><use href="#t"/><use href="#Fr"/></g>
<g transform="translate(1522.8,1287.8)"><g clip-path="url(#c)"><path d="M5.3,84 9.5,84 13.7,84 17.8,77.4 22,71.6 26.2,66.2 30.4,59.5 34.6,54.4 38.7,48.3 42.9,41.8 47.1,34.6 51.3,26.4 55.5,18.8 59.6,13.7 63.8,9.6 68,6.3 72.2,4.1 76.4,2.8 80.5,1.7 84.7,0 88.9,0 93.1,0 97.3,0 101.4,0 105.6,0 109.8,0 114,0 118.2,0 122.3,0 122.3,1.9 118.2,3 114,4.3 109.8,6.7 105.6,10.1 101.4,14.3 97.3,19.8 93.1,27.5 88.9,35.7 84.7,42.8 80.5,49.2 76.4,55.2 72.2,60.1 68,63.8 63.8,66.7 59.6,69.3 55.5,71.7 51.3,73.6 47.1,75.3 42.9,77.5 38.7,81.7 34.6,84 30.4,84 26.2,81.7 22,80.4 17.8,81.2 13.7,84 9.5,84 5.3,84Z" fill="#93bcdc"/><path d="M5.3,84 9.5,84 13.7,84 17.8,77.4 22,71.6 26.2,66.2 30.4,59.5 34.6,54.4 38.7,48.3 42.9,41.8 47.1,34.6 51.3,26.4 55.5,18.8 59.6,13.7 63.8,9.6 68,6.3 72.2,4.1 76.4,2.8 80.5,1.7 84.7,0 88.9,0 93.1,0 97.3,0 101.4,0 105.6,0 109.8,0 114,0 118.2,0 122.3,0M5.3,84 9.5,84 13.7,84 17.8,81.2 22,80.4 26.2,81.7 30.4,84 34.6,84 38.7,81.7 42.9,77.5 47.1,75.3 51.3,73.6 55.5,71.7 59.6,69.3 63.8,66.7 68,63.8 72.2,60.1 76.4,55.2 80.5,49.2 84.7,42.8 88.9,35.7 93.1,27.5 97.3,19.8 101.4,14.3 105.6,10.1 109.8,6.7 114,4.3 118.2,3 122.3,1.9" fill="none" stroke="#5a9ccd" stroke-width="2"/><path d="M5.3,84 9.5,84 13.7,84 17.8,78.2 22,73.1 26.2,68.6 30.4,63.3 34.6,59.1 38.7,54 42.9,48.6 47.1,42.5 51.3,35.5 55.5,28.6 59.6,23.1 63.8,18.4 68,13.9 72.2,10 76.4,7.1 80.5,4.9 84.7,2.6 88.9,1.7 93.1,1.1 97.3,0.7 101.4,0.5 105.6,0.3 109.8,0.3 114,0.3 118.2,0.3 122.3,0.3 122.3,1.6 118.2,2.4 114,3.4 109.8,5.1 105.6,7.6 101.4,10.8 97.3,15 93.1,20.9 88.9,27.4 84.7,33.3 80.5,39.1 76.4,44.8 72.2,50.4 68,55.3 63.8,59.5 59.6,63.2 55.5,66.6 51.3,69.5 47.1,71.8 42.9,74.3 38.7,78 34.6,80.4 30.4,80.9 26.2,79.8 22,79.4 17.8,80.9 13.7,84 9.5,84 5.3,84Z" fill="#f4cca4" stroke="#c4aa90" stroke-width="1.4"/><path d="M5.3,84 9.5,84 13.7,84 17.8,79.1 22,74.8 26.2,71.4 30.4,67.7 34.6,64.5 38.7,60.6 42.9,56.4 47.1,51.7 51.3,46 55.5,39.9 59.6,34.1 63.8,28.6 68,22.7 72.2,16.9 76.4,12 80.5,8.6 84.7,5.5 88.9,3.6 93.1,2.4 97.3,1.6 101.4,1 105.6,0.6 109.8,0.6 114,0.6 118.2,0.6 122.3,0.6 122.3,1.3 118.2,1.7 114,2.3 109.8,3.2 105.6,4.6 101.4,6.6 97.3,9.4 93.1,13.3 88.9,17.7 84.7,22.4 80.5,27.4 76.4,32.7 72.2,39.1 68,45.5 63.8,51.2 59.6,56.1 55.5,60.8 51.3,64.7 47.1,67.8 42.9,70.5 38.7,73.8 34.6,76.2 30.4,77.4 26.2,77.6 22,78.3 17.8,80.6 13.7,84 9.5,84 5.3,84Z" fill="#d3e7ec"/></g><use href="#v7"/><use href="#h3"/><use href="#Mr"/><path clip-path="url(#c)" d="M5.3,84 7.4,84 9.5,84 11.6,84 13.7,84 15.8,82.8 17.8,80.3 19.9,78.1 22,76.8 24.1,75.8 26.2,74.8 28.3,74 30.4,73.1 32.5,72.1 34.6,71 36.6,69.8 38.7,68.6 40.8,67.3 42.9,66 45,64.5 47.1,62.8 49.2,61 51.3,58.9 53.4,56.4 55.5,53.6 57.5,50.6 59.6,47.5 61.7,44.2 63.8,41 65.9,37.5 68,33.5 70.1,29.4 72.2,25.3 74.3,21.4 76.4,18 78.4,15.3 80.5,13.1 82.6,11 84.7,9.1 86.8,7.4 88.9,5.9 91,4.8 93.1,3.9 95.2,3.3 97.3,2.6 99.3,2.1 101.4,1.6 103.5,1.2 105.6,1 107.7,0.9 109.8,0.9 111.9,0.9 114,0.9 116.1,0.9 118.2,0.9 120.2,0.9 122.3,0.9" fill="none" stroke="#000" stroke-width="8.2" stroke-linejoin="round" stroke-linecap="round"/><use href="#t"/><use href="#Fr"/></g>
<g transform="translate(1702.2,1287.8)"><g clip-path="url(#c)"><path d="M5.3,84 9.5,84 11.6,84 13.7,82.8 17.8,78 22,73.9 26.2,70.1 30.4,67.1 34.6,65 38.7,63.5 42.9,61.8 47.1,59.6 51.3,56.7 55.5,53 59.6,48.8 63.8,43.5 68,36.7 72.2,29.4 76.4,22.9 80.5,16 84.7,9.6 88.9,5.2 93.1,3.4 97.3,2 101.4,0 105.6,0 109.8,0 114,0 118.2,0 122.3,0 122.3,7.7 118.2,12.7 114,18.6 109.8,24.3 105.6,30.1 101.4,36.3 97.3,42.2 93.1,47.2 88.9,51.1 84.7,54.5 80.5,57.4 76.4,59.9 72.2,61.7 68,63.2 63.8,64.5 59.6,66.3 55.5,68.8 51.3,71.9 47.1,75.1 42.9,78.7 38.7,82.9 34.6,84 30.4,84 26.2,82.5 22,80.8 17.8,80.9 13.7,83.3 11.6,84 9.5,84 5.3,84Z" fill="#93bcdc"/><path d="M5.3,84 9.5,84 11.6,84 13.7,82.8 17.8,78 22,73.9 26.2,70.1 30.4,67.1 34.6,65 38.7,63.5 42.9,61.8 47.1,59.6 51.3,56.7 55.5,53 59.6,48.8 63.8,43.5 68,36.7 72.2,29.4 76.4,22.9 80.5,16 84.7,9.6 88.9,5.2 93.1,3.4 97.3,2 101.4,0 105.6,0 109.8,0 114,0 118.2,0 122.3,0M5.3,84 9.5,84 11.6,84 13.7,83.3 17.8,80.9 22,80.8 26.2,82.5 30.4,84 34.6,84 38.7,82.9 42.9,78.7 47.1,75.1 51.3,71.9 55.5,68.8 59.6,66.3 63.8,64.5 68,63.2 72.2,61.7 76.4,59.9 80.5,57.4 84.7,54.5 88.9,51.1 93.1,47.2 97.3,42.2 101.4,36.3 105.6,30.1 109.8,24.3 114,18.6 118.2,12.7 122.3,7.7" fill="none" stroke="#5a9ccd" stroke-width="2"/><path d="M5.3,84 9.5,84 11.6,84 13.7,82.9 17.8,78.3 22,74.3 26.2,70.7 30.4,67.7 34.6,65.5 38.7,63.8 42.9,62.2 47.1,60.1 51.3,57.3 55.5,53.8 59.6,49.7 63.8,44.7 68,38.1 72.2,31 76.4,24.3 80.5,17.5 84.7,10.9 88.9,6.1 93.1,3.7 97.3,2.3 101.4,0.5 105.6,0.3 109.8,0.3 114,0.3 118.2,0.3 122.3,0.3 122.3,3.7 118.2,5.7 114,8 109.8,10.3 105.6,12.6 101.4,15.6 97.3,18.7 93.1,21.7 88.9,25.4 84.7,30.4 80.5,35.8 76.4,40.6 72.2,45.7 68,50.5 63.8,54.4 59.6,57.8 55.5,61.1 51.3,64.2 47.1,66.9 42.9,69.3 38.7,72 34.6,73.5 30.4,75.1 26.2,76.3 22,77.6 17.8,79.8 13.7,83.3 11.6,84 9.5,84 5.3,84Z" fill="#f4cca4" stroke="#c4aa90" stroke-width="1.4"/><path d="M5.3,84 9.5,84 11.6,84 13.7,83.1 17.8,78.7 22,74.8 26.2,71.4 30.4,68.3 34.6,66 38.7,64.2 42.9,62.6 47.1,60.7 51.3,58.1 55.5,54.8 59.6,50.8 63.8,46 68,39.9 72.2,32.8 76.4,25.8 80.5,19.2 84.7,12.5 88.9,7.1 93.1,4.2 97.3,2.6 101.4,1.1 105.6,0.6 109.8,0.6 114,0.6 118.2,0.6 122.3,0.6 122.3,2.4 118.2,3.5 114,4.8 109.8,6.1 105.6,7.4 101.4,9.3 97.3,11.6 93.1,14 88.9,17.7 84.7,23.2 80.5,29.3 76.4,34.8 72.2,40.8 68,46.6 63.8,51.4 59.6,55.2 55.5,58.7 51.3,61.8 47.1,64.4 42.9,66.5 38.7,68.7 34.6,70.4 30.4,72.4 26.2,74.5 22,76.6 17.8,79.5 13.7,83.2 11.6,84 9.5,84 5.3,84Z" fill="#d3e7ec"/></g><use href="#v8"/><use href="#h3"/><use href="#Mr"/><path clip-path="url(#c)" d="M5.3,84 7.4,84 9.5,84 11.6,84 13.7,83.2 15.8,81.4 17.8,79.1 19.9,77.1 22,75.5 24.1,73.8 26.2,72.2 28.3,70.6 30.4,69.1 32.5,67.8 34.6,66.5 36.6,65.5 38.7,64.6 40.8,63.9 42.9,63.1 45,62.3 47.1,61.4 49.2,60.3 51.3,59 53.4,57.5 55.5,55.9 57.5,54.1 59.6,52.1 61.7,50 63.8,47.7 65.9,45.1 68,42 70.1,38.5 72.2,34.9 74.3,31.3 76.4,27.8 78.4,24.5 80.5,21.3 82.6,17.9 84.7,14.4 86.8,11.1 88.9,8.3 91,6.1 93.1,4.7 95.2,3.8 97.3,3 99.3,2.3 101.4,1.7 103.5,1.3 105.6,1 107.7,0.9 109.8,0.9 111.9,0.9 114,0.9 116.1,0.9 118.2,0.9 120.2,0.9 122.3,0.9" fill="none" stroke="#000" stroke-width="8.2" stroke-linejoin="round" stroke-linecap="round"/><use href="#t"/><use href="#Fr"/></g>
<g transform="translate(1881.6,1287.8)"><g clip-path="url(#c)"><path d="M5.3,84 9.5,84 13.7,84 17.8,78.7 22,74.4 26.2,71.2 30.4,68.1 34.6,66.2 38.7,63.9 42.9,61 47.1,57.5 51.3,53.2 55.5,47.2 59.6,35.8 63.8,22.5 68,12.8 72.2,8 76.4,4.1 80.5,1.7 84.7,0 88.9,0 93.1,0 97.3,0 101.4,0 105.6,0 109.8,0 114,0 118.2,0 122.3,0 122.3,0.9 118.2,0.9 114,0.9 109.8,0.9 105.6,1 101.4,1.1 97.3,1.2 93.1,3 88.9,6.5 84.7,10.9 80.5,18.3 76.4,30.9 72.2,43.6 68,51.3 63.8,56.1 59.6,59.8 55.5,62.9 51.3,65.4 47.1,67.5 42.9,69.3 38.7,71.3 34.6,73.2 30.4,75.2 26.2,76.8 22,79.3 17.8,81.2 13.7,84 9.5,84 5.3,84Z" fill="#93bcdc"/><path d="M5.3,84 9.5,84 13.7,84 17.8,78.7 22,74.4 26.2,71.2 30.4,68.1 34.6,66.2 38.7,63.9 42.9,61 47.1,57.5 51.3,53.2 55.5,47.2 59.6,35.8 63.8,22.5 68,12.8 72.2,8 76.4,4.1 80.5,1.7 84.7,0 88.9,0 93.1,0 97.3,0 101.4,0 105.6,0 109.8,0 114,0 118.2,0 122.3,0M5.3,84 9.5,84 13.7,84 17.8,81.2 22,79.3 26.2,76.8 30.4,75.2 34.6,73.2 38.7,71.3 42.9,69.3 47.1,67.5 51.3,65.4 55.5,62.9 59.6,59.8 63.8,56.1 68,51.3 72.2,43.6 76.4,30.9 80.5,18.3 84.7,10.9 88.9,6.5 93.1,3 97.3,1.2 101.4,1.1 105.6,1 109.8,0.9 114,0.9 118.2,0.9 122.3,0.9" fill="none" stroke="#5a9ccd" stroke-width="2"/><path d="M5.3,84 9.5,84 13.7,84 17.8,79.1 22,75.1 26.2,72.1 30.4,69.4 34.6,67.5 38.7,65.2 42.9,62.6 47.1,59.6 51.3,55.7 55.5,50.4 59.6,41.1 63.8,30.1 68,20.5 72.2,13.3 76.4,7.3 80.5,3.9 84.7,1.5 88.9,0.7 93.1,0.3 97.3,0.3 101.4,0.3 105.6,0.3 109.8,0.3 114,0.3 118.2,0.3 122.3,0.3 122.3,0.9 118.2,0.9 114,0.9 109.8,0.9 105.6,1 101.4,1 97.3,1.2 93.1,2.5 88.9,5.3 84.7,9.4 80.5,15.9 76.4,26.6 72.2,39 68,48.2 63.8,54.3 59.6,58.4 55.5,61.8 51.3,64.5 47.1,66.7 42.9,68.6 38.7,70.6 34.6,72.5 30.4,74.5 26.2,76.2 22,78.6 17.8,80.9 13.7,84 9.5,84 5.3,84Z" fill="#f4cca4" stroke="#c4aa90" stroke-width="1.4"/><path d="M5.3,84 9.5,84 13.7,84 17.8,79.6 22,75.8 26.2,73.2 30.4,70.9 34.6,68.9 38.7,66.8 42.9,64.6 47.1,61.9 51.3,58.5 55.5,54.2 59.6,47.3 63.8,39 68,29.4 72.2,19.5 76.4,11 80.5,6.5 84.7,3.2 88.9,1.4 93.1,0.7 97.3,0.6 101.4,0.6 105.6,0.6 109.8,0.6 114,0.6 118.2,0.6 122.3,0.6 122.3,0.9 118.2,0.9 114,0.9 109.8,0.9 105.6,1 101.4,1 97.3,1.1 93.1,1.9 88.9,4 84.7,7.6 80.5,13 76.4,21.6 72.2,33.6 68,44.7 63.8,52.3 59.6,56.8 55.5,60.4 51.3,63.4 47.1,65.8 42.9,67.9 38.7,69.8 34.6,71.7 30.4,73.7 26.2,75.5 22,77.8 17.8,80.6 13.7,84 9.5,84 5.3,84Z" fill="#d3e7ec"/></g><use href="#v9"/><use href="#h3"/><use href="#Mr"/><path clip-path="url(#c)" d="M5.3,84 7.4,84 9.5,84 11.6,84 13.7,84 15.8,82.8 17.8,80.3 19.9,78.1 22,76.8 24.1,75.6 26.2,74.6 28.3,73.6 30.4,72.7 32.5,71.7 34.6,70.7 36.6,69.7 38.7,68.8 40.8,67.9 42.9,66.9 45,65.9 47.1,64.7 49.2,63.5 51.3,62.1 53.4,60.5 55.5,58.8 57.5,57 59.6,54.8 61.7,52.5 63.8,49.7 65.9,45.8 68,40.3 70.1,33.8 72.2,27.1 74.3,20.7 76.4,15.5 78.4,11.9 80.5,9.6 82.6,7.4 84.7,5.4 86.8,3.7 88.9,2.3 91,1.5 93.1,1.1 95.2,1.1 97.3,1 99.3,1 101.4,1 103.5,0.9 105.6,0.9 107.7,0.9 109.8,0.9 111.9,0.9 114,0.9 116.1,0.9 118.2,0.9 120.2,0.9 122.3,0.9" fill="none" stroke="#000" stroke-width="8.2" stroke-linejoin="round" stroke-linecap="round"/><use href="#t"/><use href="#Fr"/></g>
<g transform="translate(2061,1287.8)"><g clip-path="url(#c)"><path d="M5.3,84 9.5,84 13.7,84 17.8,78.1 22,73.4 26.2,70.1 30.4,67.3 34.6,65.5 38.7,62.4 42.9,57.9 47.1,52.6 51.3,46.5 55.5,38.4 59.6,29.8 63.8,22.5 68,16.5 72.2,11.1 76.4,7 80.5,4.8 84.7,3.1 88.9,2 93.1,0 97.3,0 101.4,0 105.6,0 109.8,0 114,0 118.2,0 122.3,0 122.3,9.7 118.2,14.8 114,20.7 109.8,27.4 105.6,35.8 101.4,44.3 97.3,50.9 93.1,56.4 88.9,61.2 84.7,64.8 80.5,66.9 76.4,68.3 72.2,69.5 68,71.1 63.8,72.9 59.6,74.9 55.5,77.3 51.3,81.4 47.1,84 42.9,84 38.7,84 34.6,84 30.4,84 26.2,81.6 22,80.4 17.8,81.2 13.7,84 9.5,84 5.3,84Z" fill="#93bcdc"/><path d="M5.3,84 9.5,84 13.7,84 17.8,78.1 22,73.4 26.2,70.1 30.4,67.3 34.6,65.5 38.7,62.4 42.9,57.9 47.1,52.6 51.3,46.5 55.5,38.4 59.6,29.8 63.8,22.5 68,16.5 72.2,11.1 76.4,7 80.5,4.8 84.7,3.1 88.9,2 93.1,0 97.3,0 101.4,0 105.6,0 109.8,0 114,0 118.2,0 122.3,0M5.3,84 9.5,84 13.7,84 17.8,81.2 22,80.4 26.2,81.6 30.4,84 34.6,84 38.7,84 42.9,84 47.1,84 51.3,81.4 55.5,77.3 59.6,74.9 63.8,72.9 68,71.1 72.2,69.5 76.4,68.3 80.5,66.9 84.7,64.8 88.9,61.2 93.1,56.4 97.3,50.9 101.4,44.3 105.6,35.8 109.8,27.4 114,20.7 118.2,14.8 122.3,9.7" fill="none" stroke="#5a9ccd" stroke-width="2"/><path d="M5.3,84 9.5,84 13.7,84 17.8,78.7 22,74.3 26.2,71.3 30.4,68.8 34.6,67 38.7,64.3 42.9,60.8 47.1,56.5 51.3,51.5 55.5,44.5 59.6,36.9 63.8,30.1 68,23.8 72.2,17.5 76.4,12.3 80.5,8.9 84.7,6.1 88.9,3.9 93.1,1.6 97.3,1.1 101.4,0.7 105.6,0.4 109.8,0.4 114,0.3 118.2,0.3 122.3,0.3 122.3,7.2 118.2,10.9 114,15.2 109.8,20.1 105.6,26.2 101.4,32.6 97.3,37.7 93.1,42.2 88.9,46.5 84.7,50.5 80.5,53.6 76.4,56.4 72.2,59.6 68,63.1 63.8,66.4 59.6,69.4 55.5,72.5 51.3,76.5 47.1,79.1 42.9,79.5 38.7,79.9 34.6,80.3 30.4,80.8 26.2,79.6 22,79.4 17.8,80.9 13.7,84 9.5,84 5.3,84Z" fill="#f4cca4" stroke="#c4aa90" stroke-width="1.4"/><path d="M5.3,84 9.5,84 13.7,84 17.8,79.4 22,75.4 26.2,72.7 30.4,70.5 34.6,68.7 38.7,66.6 42.9,64 47.1,61 51.3,57.2 55.5,51.6 59.6,45.2 63.8,39 68,32.3 72.2,24.9 76.4,18.4 80.5,13.7 84.7,9.5 88.9,6.1 93.1,3.4 97.3,2.4 101.4,1.5 105.6,1 109.8,0.8 114,0.7 118.2,0.6 122.3,0.6 122.3,4.4 118.2,6.5 114,8.9 109.8,11.6 105.6,15.2 101.4,19 97.3,22.5 93.1,25.8 88.9,29.6 84.7,33.9 80.5,38.3 76.4,42.6 72.2,48.1 68,53.9 63.8,58.9 59.6,63.1 55.5,67 51.3,71 47.1,73.4 42.9,74.4 38.7,75.1 34.6,76 30.4,77.1 26.2,77.3 22,78.2 17.8,80.6 13.7,84 9.5,84 5.3,84Z" fill="#d3e7ec"/></g><use href="#v10"/><use href="#h3"/><use href="#Mr"/><path clip-path="url(#c)" d="M5.3,84 7.4,84 9.5,84 11.6,84 13.7,84 15.8,82.8 17.8,80.3 19.9,78.1 22,76.8 24.1,75.6 26.2,74.5 28.3,73.5 30.4,72.5 32.5,71.6 34.6,70.7 36.6,70 38.7,69.3 40.8,68.7 42.9,68 45,67.3 47.1,66.5 49.2,65.5 51.3,64.2 53.4,62.4 55.5,60.3 57.5,57.9 59.6,55.3 61.7,52.6 63.8,49.7 65.9,46.5 68,42.6 70.1,38.4 72.2,34 74.3,29.8 76.4,25.8 78.4,22.5 80.5,19.5 82.6,16.5 84.7,13.7 86.8,11.1 88.9,8.8 91,7 93.1,5.7 95.2,4.8 97.3,3.9 99.3,3.1 101.4,2.5 103.5,2 105.6,1.6 107.7,1.4 109.8,1.3 111.9,1.2 114,1.1 116.1,1 118.2,1 120.2,0.9 122.3,0.9" fill="none" stroke="#000" stroke-width="8.2" stroke-linejoin="round" stroke-linecap="round"/><use href="#t"/><use href="#Fr"/></g>
<g font-family="'Liberation Sans', Arial, sans-serif" font-size="53.25" fill="#000">
<text x="1196.8" y="88.8" text-anchor="middle">First dose 3 days after the infection of 10 cells</text>
<text x="1197.6" y="145.8" text-anchor="middle">Time between doses (hours)</text>
<text x="1197.5" y="1523" text-anchor="middle">Simulation time (days)</text>
<text transform="translate(82.3,793.8) rotate(-90)" text-anchor="middle">Number of dead cells</text>
<text transform="translate(2311.2,793.2) rotate(90)" text-anchor="middle">IC50 multiplier</text>
<text x="331" y="212" text-anchor="middle">24</text>
<text x="272.4" y="1445.5" text-anchor="middle">0</text>
<text x="389.4" y="1445.5" text-anchor="middle">28</text>
<text x="510.3" y="212" text-anchor="middle">36</text>
<text x="451.8" y="1445.5" text-anchor="middle">0</text>
<text x="568.8" y="1445.5" text-anchor="middle">28</text>
<text x="689.7" y="212" text-anchor="middle">48</text>
<text x="631.2" y="1445.5" text-anchor="middle">0</text>
<text x="748.2" y="1445.5" text-anchor="middle">28</text>
<text x="869.1" y="212" text-anchor="middle">60</text>
<text x="810.6" y="1445.5" text-anchor="middle">0</text>
<text x="927.6" y="1445.5" text-anchor="middle">28</text>
<text x="1048.5" y="212" text-anchor="middle">72</text>
<text x="990" y="1445.5" text-anchor="middle">0</text>
<text x="1107" y="1445.5" text-anchor="middle">28</text>
<text x="1227.9" y="212" text-anchor="middle">84</text>
<text x="1169.3" y="1445.5" text-anchor="middle">0</text>
<text x="1286.4" y="1445.5" text-anchor="middle">28</text>
<text x="1407.3" y="212" text-anchor="middle">96</text>
<text x="1348.7" y="1445.5" text-anchor="middle">0</text>
<text x="1465.8" y="1445.5" text-anchor="middle">28</text>
<text x="1586.7" y="212" text-anchor="middle">108</text>
<text x="1528.1" y="1445.5" text-anchor="middle">0</text>
<text x="1645.2" y="1445.5" text-anchor="middle">28</text>
<text x="1766.1" y="212" text-anchor="middle">120</text>
<text x="1707.5" y="1445.5" text-anchor="middle">0</text>
<text x="1824.6" y="1445.5" text-anchor="middle">28</text>
<text x="1945.5" y="212" text-anchor="middle">132</text>
<text x="1886.9" y="1445.5" text-anchor="middle">0</text>
<text x="2003.9" y="1445.5" text-anchor="middle">28</text>
<text x="2124.8" y="212" text-anchor="middle">144</text>
<text x="2066.3" y="1445.5" text-anchor="middle">0</text>
<text x="2183.3" y="1445.5" text-anchor="middle">28</text>
<text x="228.7" y="244.3" text-anchor="end">900</text>
<text x="228.7" y="327.3" text-anchor="end">0</text>
<text transform="translate(2207.5,266.1) rotate(90)" text-anchor="middle">0.01</text>
<text x="228.7" y="362.3" text-anchor="end">900</text>
<text x="228.7" y="445.3" text-anchor="end">0</text>
<text transform="translate(2207.5,384.1) rotate(90)" text-anchor="middle">0.02</text>
<text x="228.7" y="480.3" text-anchor="end">900</text>
<text x="228.7" y="563.3" text-anchor="end">0</text>
<text transform="translate(2207.5,502.1) rotate(90)" text-anchor="middle">0.03</text>
<text x="228.7" y="598.3" text-anchor="end">900</text>
<text x="228.7" y="681.3" text-anchor="end">0</text>
<text transform="translate(2207.5,620.1) rotate(90)" text-anchor="middle">0.04</text>
<text x="228.7" y="716.3" text-anchor="end">900</text>
<text x="228.7" y="799.3" text-anchor="end">0</text>
<text transform="translate(2207.5,738.1) rotate(90)" text-anchor="middle">0.05</text>
<text x="228.7" y="834.3" text-anchor="end">900</text>
<text x="228.7" y="917.3" text-anchor="end">0</text>
<text transform="translate(2207.5,856.1) rotate(90)" text-anchor="middle">0.06</text>
<text x="228.7" y="952.3" text-anchor="end">900</text>
<text x="228.7" y="1035.3" text-anchor="end">0</text>
<text transform="translate(2207.5,974.1) rotate(90)" text-anchor="middle">0.07</text>
<text x="228.7" y="1070.3" text-anchor="end">900</text>
<text x="228.7" y="1153.3" text-anchor="end">0</text>
<text transform="translate(2207.5,1092.1) rotate(90)" text-anchor="middle">0.08</text>
<text x="228.7" y="1188.3" text-anchor="end">900</text>
<text x="228.7" y="1271.3" text-anchor="end">0</text>
<text transform="translate(2207.5,1210.1) rotate(90)" text-anchor="middle">0.09</text>
<text x="228.7" y="1306.3" text-anchor="end">900</text>
<text x="228.7" y="1389.3" text-anchor="end">0</text>
<text transform="translate(2207.5,1328.1) rotate(90)" text-anchor="middle">0.1</text>
</g>
</svg>
</body></html>
